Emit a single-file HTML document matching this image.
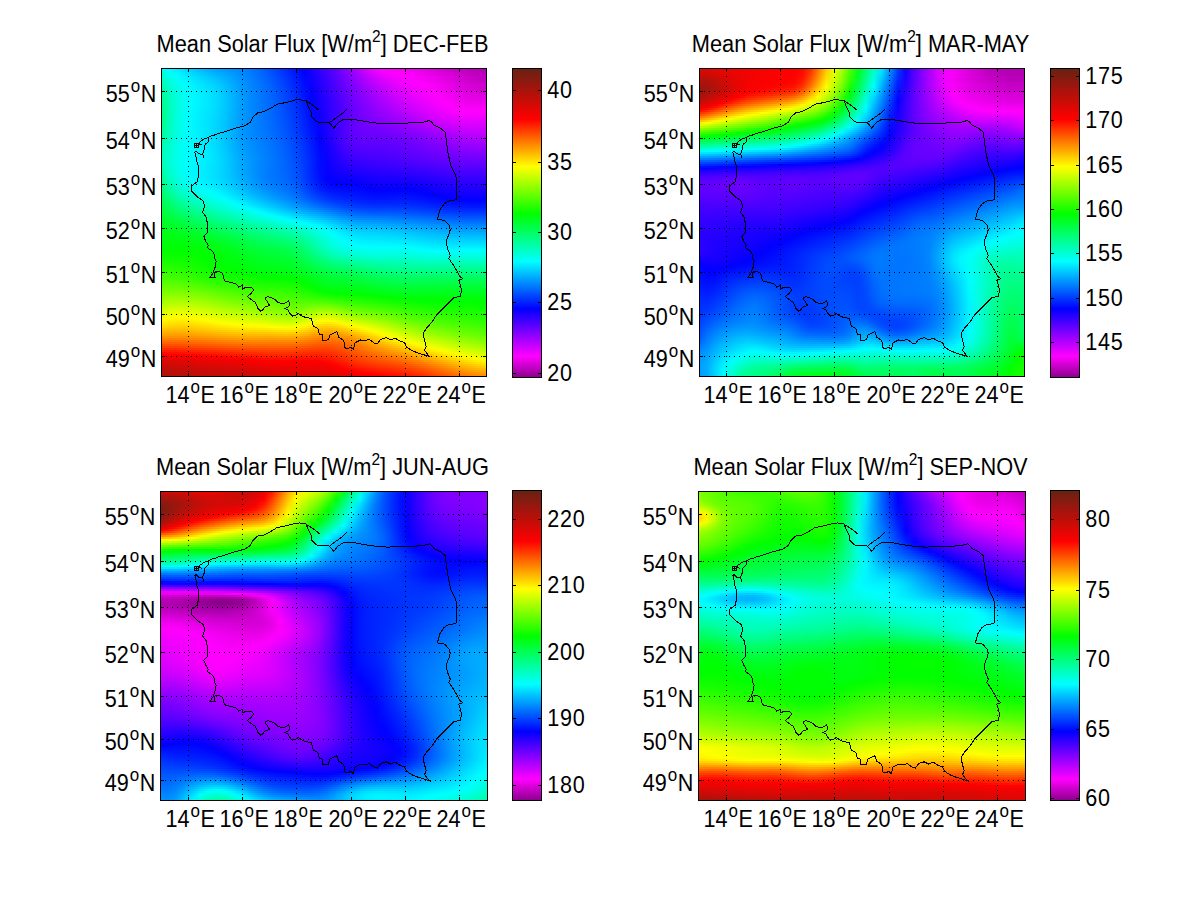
<!DOCTYPE html><html><head><meta charset="utf-8"><style>
html,body{margin:0;padding:0;background:#fff;}
body{width:1201px;height:900px;position:relative;overflow:hidden;}
.hm{position:absolute;}
.hm i{display:block;}
svg{position:absolute;left:0;top:0;}
text{font-family:"Liberation Sans",sans-serif;font-size:21.6px;fill:#000;}
.s{font-size:17px;}
.s2{font-size:15.5px;}
.ti{font-size:21.8px;}
.cb{letter-spacing:0.8px;}
.g{stroke:#000;stroke-width:1;stroke-dasharray:1 4;fill:none;}
.k{stroke:#000;stroke-width:1;fill:none;}
.b{stroke:#000;stroke-width:1;fill:none;}
.o{stroke:#000;stroke-width:1;fill:none;shape-rendering:crispEdges;}
</style></head><body>
<div class="hm" style="left:161px;top:68px;width:326px;height:309px"><i style="height:2px;background:linear-gradient(90deg,#00fff8,#00f9ff,#00e9ff,#00d8ff,#00c7ff,#00b7ff,#00a9ff,#009dff,#0094ff,#008dff,#0084ff,#0079ff,#006bff,#005aff,#0049ff,#0037ff,#0024ff,#0010ff,#0500ff,#1b00ff,#3200ff,#4a00ff,#6200ff,#7c00ff,#9a00ff,#bb00ff,#da00ff,#f400ff,#fb00fb,#f600f6,#f500f5,#f300f3,#ed00ed,#e500e5,#dc00dc,#d300d3,#cc00cc,#c400c4,#be00be,#b900b9,#b500b5,#b300b3)"></i><i style="height:2px;background:linear-gradient(90deg,#00ffed,#00fffd,#00f0ff,#00dfff,#00cfff,#00c0ff,#00b2ff,#00a6ff,#009cff,#0092ff,#0088ff,#007cff,#006eff,#005eff,#004cff,#003aff,#0027ff,#0013ff,#0200ff,#1800ff,#3000ff,#4700ff,#5f00ff,#7900ff,#9600ff,#b500ff,#d300ff,#eb00ff,#fb00ff,#fc00fc,#f900f9,#f600f6,#f000f0,#e900e9,#e100e1,#d900d9,#d100d1,#c900c9,#c300c3,#bd00bd,#b900b9,#b600b6)"></i><i style="height:2px;background:linear-gradient(90deg,#00ffe2,#00fff5,#00f7ff,#00e6ff,#00d6ff,#00c8ff,#00baff,#00aeff,#00a3ff,#0098ff,#008cff,#007fff,#0070ff,#0061ff,#0050ff,#003dff,#002aff,#0016ff,#0001ff,#1600ff,#2d00ff,#4400ff,#5d00ff,#7600ff,#9200ff,#af00ff,#cb00ff,#e300ff,#f300ff,#fc00ff,#fd00fd,#f900f9,#f300f3,#ed00ed,#e500e5,#dd00dd,#d600d6,#ce00ce,#c700c7,#c100c1,#bc00bc,#b800b8)"></i><i style="height:2px;background:linear-gradient(90deg,#00ffd7,#00ffed,#00fdff,#00ebff,#00dcff,#00cfff,#00c2ff,#00b5ff,#00a9ff,#009cff,#008fff,#0081ff,#0073ff,#0063ff,#0052ff,#0040ff,#002dff,#0018ff,#0003ff,#1300ff,#2a00ff,#4200ff,#5a00ff,#7300ff,#8e00ff,#aa00ff,#c500ff,#db00ff,#ec00ff,#f600ff,#fd00ff,#fc00fc,#f600f6,#f000f0,#e900e9,#e200e2,#da00da,#d200d2,#cb00cb,#c400c4,#bf00bf,#bb00bb)"></i><i style="height:2px;background:linear-gradient(90deg,#00ffce,#00ffe6,#00fffc,#00f1ff,#00e2ff,#00d5ff,#00c8ff,#00bcff,#00aeff,#00a0ff,#0092ff,#0083ff,#0075ff,#0066ff,#0055ff,#0043ff,#002fff,#001bff,#0005ff,#1100ff,#2800ff,#3f00ff,#5800ff,#7100ff,#8b00ff,#a500ff,#be00ff,#d400ff,#e500ff,#f100ff,#f900ff,#ff00ff,#f900f9,#f300f3,#ed00ed,#e500e5,#de00de,#d600d6,#ce00ce,#c700c7,#c200c2,#be00be)"></i><i style="height:2px;background:linear-gradient(90deg,#00ffc5,#00ffe0,#00fff7,#00f5ff,#00e7ff,#00daff,#00ceff,#00c2ff,#00b3ff,#00a4ff,#0094ff,#0085ff,#0077ff,#0068ff,#0057ff,#0045ff,#0032ff,#001dff,#0008ff,#0f00ff,#2600ff,#3d00ff,#5500ff,#6e00ff,#8700ff,#a000ff,#b800ff,#ce00ff,#df00ff,#eb00ff,#f500ff,#fc00ff,#fc00fc,#f600f6,#f000f0,#e900e9,#e100e1,#d900d9,#d100d1,#ca00ca,#c500c5,#c200c2)"></i><i style="height:2px;background:linear-gradient(90deg,#00ffbc,#00ffda,#00fff3,#00f9ff,#00ebff,#00dfff,#00d3ff,#00c7ff,#00b7ff,#00a7ff,#0097ff,#0087ff,#0078ff,#006aff,#0059ff,#0047ff,#0034ff,#001fff,#000aff,#0d00ff,#2400ff,#3b00ff,#5300ff,#6b00ff,#8400ff,#9c00ff,#b300ff,#c700ff,#d900ff,#e600ff,#f100ff,#f900ff,#fe00fe,#f900f9,#f300f3,#ec00ec,#e400e4,#dc00dc,#d400d4,#cd00cd,#c800c8,#c500c5)"></i><i style="height:2px;background:linear-gradient(90deg,#00ffb4,#00ffd5,#00ffef,#00fdff,#00eeff,#00e3ff,#00d8ff,#00cbff,#00bbff,#00aaff,#0098ff,#0089ff,#007aff,#006bff,#005bff,#0049ff,#0036ff,#0021ff,#000cff,#0b00ff,#2200ff,#3900ff,#5100ff,#6900ff,#8100ff,#9800ff,#ae00ff,#c200ff,#d300ff,#e200ff,#ed00ff,#f600ff,#fd00ff,#fb00fb,#f600f6,#ef00ef,#e700e7,#df00df,#d700d7,#d000d0,#cb00cb,#c800c8)"></i><i style="height:2px;background:linear-gradient(90deg,#00ffad,#00ffd0,#00ffeb,#00ffff,#00f1ff,#00e6ff,#00dbff,#00cfff,#00beff,#00acff,#009aff,#008aff,#007bff,#006dff,#005dff,#004bff,#0038ff,#0023ff,#000dff,#0900ff,#2000ff,#3700ff,#4f00ff,#6700ff,#7e00ff,#9400ff,#a900ff,#bc00ff,#ce00ff,#dd00ff,#e900ff,#f300ff,#fa00ff,#fe00fe,#f800f8,#f100f1,#e900e9,#e100e1,#da00da,#d300d3,#ce00ce,#cc00cc)"></i><i style="height:2px;background:linear-gradient(90deg,#00ffa6,#00ffcc,#00ffe8,#00fffc,#00f4ff,#00e9ff,#00deff,#00d2ff,#00c1ff,#00aeff,#009cff,#008bff,#007cff,#006eff,#005eff,#004dff,#0039ff,#0025ff,#000fff,#0700ff,#1e00ff,#3600ff,#4d00ff,#6400ff,#7b00ff,#9000ff,#a400ff,#b700ff,#c900ff,#d800ff,#e600ff,#f000ff,#f800ff,#fe00ff,#fb00fb,#f400f4,#ec00ec,#e400e4,#dc00dc,#d600d6,#d100d1,#cf00cf)"></i><i style="height:2px;background:linear-gradient(90deg,#00ffa0,#00ffc8,#00ffe6,#00fffa,#00f6ff,#00ebff,#00e1ff,#00d4ff,#00c3ff,#00b0ff,#009dff,#008cff,#007dff,#006fff,#0060ff,#004eff,#003bff,#0026ff,#0011ff,#0600ff,#1d00ff,#3400ff,#4b00ff,#6200ff,#7800ff,#8d00ff,#a000ff,#b300ff,#c400ff,#d400ff,#e200ff,#ed00ff,#f500ff,#fb00ff,#fd00fd,#f600f6,#ee00ee,#e600e6,#df00df,#d900d9,#d500d5,#d300d3)"></i><i style="height:2px;background:linear-gradient(90deg,#00ff9b,#00ffc4,#00ffe3,#00fff8,#00f8ff,#00edff,#00e3ff,#00d6ff,#00c5ff,#00b1ff,#009eff,#008dff,#007eff,#0070ff,#0061ff,#004fff,#003cff,#0028ff,#0012ff,#0400ff,#1b00ff,#3200ff,#4a00ff,#6000ff,#7600ff,#8a00ff,#9c00ff,#ae00ff,#c000ff,#d000ff,#de00ff,#ea00ff,#f200ff,#f900ff,#ff00ff,#f800f8,#f000f0,#e800e8,#e100e1,#db00db,#d800d8,#d700d7)"></i><i style="height:2px;background:linear-gradient(90deg,#00ff96,#00ffc1,#00ffe1,#00fff7,#00f9ff,#00eeff,#00e4ff,#00d8ff,#00c6ff,#00b2ff,#009eff,#008dff,#007fff,#0071ff,#0062ff,#0050ff,#003dff,#0029ff,#0013ff,#0300ff,#1a00ff,#3100ff,#4800ff,#5e00ff,#7300ff,#8700ff,#9900ff,#aa00ff,#bc00ff,#cc00ff,#da00ff,#e600ff,#ef00ff,#f600ff,#fd00ff,#fa00fa,#f200f2,#ea00ea,#e400e4,#de00de,#db00db,#db00db)"></i><i style="height:2px;background:linear-gradient(90deg,#00ff91,#00ffbf,#00ffe0,#00fff6,#00faff,#00efff,#00e6ff,#00d9ff,#00c7ff,#00b3ff,#009fff,#008eff,#007fff,#0071ff,#0062ff,#0051ff,#003fff,#002aff,#0015ff,#0200ff,#1900ff,#3000ff,#4600ff,#5c00ff,#7100ff,#8400ff,#9600ff,#a700ff,#b800ff,#c800ff,#d700ff,#e300ff,#ec00ff,#f300ff,#fa00ff,#fc00fc,#f400f4,#ed00ed,#e600e6,#e100e1,#df00df,#df00df)"></i><i style="height:2px;background:linear-gradient(90deg,#00ff8d,#00ffbc,#00ffdf,#00fff5,#00faff,#00f0ff,#00e6ff,#00daff,#00c8ff,#00b4ff,#009fff,#008eff,#0080ff,#0072ff,#0063ff,#0052ff,#0040ff,#002cff,#0016ff,#0000ff,#1700ff,#2e00ff,#4500ff,#5a00ff,#6f00ff,#8100ff,#9200ff,#a300ff,#b400ff,#c400ff,#d300ff,#df00ff,#e900ff,#f100ff,#f800ff,#fe00fe,#f600f6,#ef00ef,#e900e9,#e400e4,#e200e2,#e300e3)"></i><i style="height:2px;background:linear-gradient(90deg,#00ff8a,#00ffba,#00ffde,#00fff5,#00faff,#00f0ff,#00e7ff,#00daff,#00c8ff,#00b4ff,#00a0ff,#008eff,#0080ff,#0072ff,#0064ff,#0053ff,#0041ff,#002dff,#0017ff,#0001ff,#1600ff,#2d00ff,#4300ff,#5900ff,#6d00ff,#7f00ff,#9000ff,#a000ff,#b000ff,#c000ff,#cf00ff,#db00ff,#e500ff,#ee00ff,#f600ff,#fe00ff,#f900f9,#f100f1,#eb00eb,#e700e7,#e600e6,#e700e7)"></i><i style="height:2px;background:linear-gradient(90deg,#00ff87,#00ffb9,#00ffdd,#00fff5,#00faff,#00f0ff,#00e7ff,#00daff,#00c9ff,#00b4ff,#00a0ff,#008eff,#0080ff,#0072ff,#0064ff,#0054ff,#0042ff,#002eff,#0018ff,#0002ff,#1500ff,#2c00ff,#4200ff,#5700ff,#6b00ff,#7d00ff,#8d00ff,#9d00ff,#ad00ff,#bc00ff,#cb00ff,#d700ff,#e200ff,#eb00ff,#f300ff,#fb00ff,#fb00fb,#f400f4,#ee00ee,#eb00eb,#e900e9,#eb00eb)"></i><i style="height:2px;background:linear-gradient(90deg,#00ff85,#00ffb7,#00ffdd,#00fff5,#00faff,#00f0ff,#00e6ff,#00daff,#00c9ff,#00b4ff,#00a0ff,#008eff,#0080ff,#0073ff,#0065ff,#0055ff,#0043ff,#002fff,#001aff,#0003ff,#1400ff,#2b00ff,#4100ff,#5600ff,#6900ff,#7b00ff,#8a00ff,#9a00ff,#a900ff,#b800ff,#c600ff,#d300ff,#de00ff,#e700ff,#f000ff,#f900ff,#fe00fe,#f700f7,#f100f1,#ee00ee,#ed00ed,#ef00ef)"></i><i style="height:2px;background:linear-gradient(90deg,#00ff83,#00ffb6,#00ffdc,#00fff5,#00faff,#00efff,#00e6ff,#00daff,#00c8ff,#00b4ff,#00a0ff,#008eff,#0080ff,#0073ff,#0065ff,#0055ff,#0043ff,#0030ff,#001bff,#0004ff,#1300ff,#2a00ff,#4000ff,#5500ff,#6800ff,#7900ff,#8800ff,#9700ff,#a600ff,#b400ff,#c200ff,#cf00ff,#da00ff,#e400ff,#ed00ff,#f600ff,#fe00ff,#fa00fa,#f400f4,#f200f2,#f100f1,#f400f4)"></i><i style="height:2px;background:linear-gradient(90deg,#00ff81,#00ffb6,#00ffdc,#00fff5,#00f9ff,#00efff,#00e6ff,#00d9ff,#00c8ff,#00b4ff,#009fff,#008eff,#0080ff,#0073ff,#0065ff,#0056ff,#0044ff,#0031ff,#001cff,#0005ff,#1200ff,#2900ff,#3f00ff,#5400ff,#6600ff,#7700ff,#8600ff,#9400ff,#a200ff,#b000ff,#be00ff,#ca00ff,#d600ff,#e000ff,#ea00ff,#f300ff,#fa00ff,#fd00fd,#f800f8,#f500f5,#f500f5,#f800f8)"></i><i style="height:2px;background:linear-gradient(90deg,#00ff80,#00ffb5,#00ffdc,#00fff5,#00f9ff,#00eeff,#00e5ff,#00d9ff,#00c7ff,#00b3ff,#009fff,#008eff,#0080ff,#0073ff,#0066ff,#0056ff,#0045ff,#0032ff,#001dff,#0006ff,#1100ff,#2800ff,#3e00ff,#5300ff,#6500ff,#7500ff,#8400ff,#9100ff,#9f00ff,#ac00ff,#b900ff,#c600ff,#d100ff,#dc00ff,#e600ff,#ef00ff,#f700ff,#fd00ff,#fc00fc,#f900f9,#fa00fa,#fd00fd)"></i><i style="height:2px;background:linear-gradient(90deg,#00ff7f,#00ffb5,#00ffdc,#00fff6,#00f8ff,#00eeff,#00e4ff,#00d8ff,#00c7ff,#00b3ff,#009fff,#008eff,#0080ff,#0073ff,#0066ff,#0057ff,#0046ff,#0033ff,#001eff,#0007ff,#1000ff,#2700ff,#3d00ff,#5200ff,#6400ff,#7400ff,#8200ff,#8f00ff,#9b00ff,#a800ff,#b500ff,#c100ff,#cd00ff,#d800ff,#e200ff,#eb00ff,#f300ff,#fa00ff,#fe00ff,#fe00fe,#fe00fe,#fc00ff)"></i><i style="height:2px;background:linear-gradient(90deg,#00ff7f,#00ffb5,#00ffdd,#00fff6,#00f8ff,#00edff,#00e4ff,#00d8ff,#00c6ff,#00b2ff,#009eff,#008eff,#0080ff,#0074ff,#0066ff,#0058ff,#0047ff,#0034ff,#001fff,#0008ff,#0f00ff,#2600ff,#3c00ff,#5100ff,#6300ff,#7300ff,#8000ff,#8c00ff,#9800ff,#a400ff,#b000ff,#bc00ff,#c700ff,#d300ff,#dd00ff,#e700ff,#ef00ff,#f500ff,#fa00ff,#fc00ff,#fb00ff,#f800ff)"></i><i style="height:2px;background:linear-gradient(90deg,#00ff7f,#00ffb5,#00ffdd,#00fff7,#00f7ff,#00ecff,#00e3ff,#00d7ff,#00c6ff,#00b2ff,#009eff,#008dff,#0080ff,#0074ff,#0067ff,#0058ff,#0047ff,#0035ff,#0020ff,#0009ff,#0e00ff,#2500ff,#3c00ff,#5000ff,#6200ff,#7100ff,#7e00ff,#8900ff,#9400ff,#9f00ff,#ab00ff,#b600ff,#c200ff,#cd00ff,#d800ff,#e200ff,#ea00ff,#f000ff,#f500ff,#f700ff,#f600ff,#f300ff)"></i><i style="height:2px;background:linear-gradient(90deg,#00ff80,#00ffb6,#00ffdd,#00fff7,#00f7ff,#00ecff,#00e3ff,#00d6ff,#00c5ff,#00b1ff,#009eff,#008dff,#0080ff,#0074ff,#0067ff,#0059ff,#0048ff,#0036ff,#0021ff,#000aff,#0d00ff,#2400ff,#3b00ff,#5000ff,#6200ff,#7000ff,#7c00ff,#8600ff,#9000ff,#9b00ff,#a600ff,#b100ff,#bc00ff,#c800ff,#d200ff,#dc00ff,#e400ff,#eb00ff,#ef00ff,#f100ff,#f100ff,#ee00ff)"></i><i style="height:2px;background:linear-gradient(90deg,#00ff81,#00ffb6,#00ffdd,#00fff7,#00f7ff,#00ecff,#00e2ff,#00d6ff,#00c5ff,#00b1ff,#009dff,#008dff,#0080ff,#0074ff,#0068ff,#005aff,#0049ff,#0037ff,#0022ff,#000cff,#0c00ff,#2400ff,#3b00ff,#5000ff,#6100ff,#6f00ff,#7a00ff,#8300ff,#8d00ff,#9600ff,#a000ff,#ab00ff,#b600ff,#c200ff,#cc00ff,#d600ff,#de00ff,#e500ff,#e900ff,#ec00ff,#ec00ff,#e900ff)"></i><i style="height:2px;background:linear-gradient(90deg,#00ff82,#00ffb7,#00ffde,#00fff7,#00f6ff,#00ecff,#00e2ff,#00d6ff,#00c4ff,#00b0ff,#009dff,#008dff,#0080ff,#0075ff,#0068ff,#005aff,#004aff,#0038ff,#0023ff,#000dff,#0b00ff,#2300ff,#3a00ff,#4f00ff,#6100ff,#6e00ff,#7800ff,#8100ff,#8900ff,#9100ff,#9b00ff,#a500ff,#b000ff,#bb00ff,#c600ff,#d000ff,#d800ff,#df00ff,#e300ff,#e600ff,#e600ff,#e400ff)"></i><i style="height:2px;background:linear-gradient(90deg,#00ff84,#00ffb8,#00ffde,#00fff7,#00f6ff,#00ebff,#00e2ff,#00d5ff,#00c4ff,#00b0ff,#009cff,#008dff,#0080ff,#0075ff,#0069ff,#005bff,#004bff,#0039ff,#0024ff,#000eff,#0a00ff,#2200ff,#3a00ff,#4f00ff,#6100ff,#6d00ff,#7600ff,#7e00ff,#8500ff,#8c00ff,#9500ff,#9f00ff,#aa00ff,#b400ff,#bf00ff,#c900ff,#d100ff,#d800ff,#dd00ff,#e000ff,#e100ff,#df00ff)"></i><i style="height:2px;background:linear-gradient(90deg,#00ff86,#00ffb9,#00ffdf,#00fff8,#00f6ff,#00ebff,#00e2ff,#00d5ff,#00c4ff,#00b0ff,#009cff,#008dff,#0080ff,#0075ff,#006aff,#005cff,#004cff,#003aff,#0025ff,#000fff,#0800ff,#2100ff,#3900ff,#4f00ff,#6000ff,#6c00ff,#7400ff,#7b00ff,#8100ff,#8800ff,#9000ff,#9900ff,#a300ff,#ae00ff,#b800ff,#c200ff,#ca00ff,#d100ff,#d600ff,#da00ff,#db00ff,#d900ff)"></i><i style="height:2px;background:linear-gradient(90deg,#00ff88,#00ffba,#00ffdf,#00fff8,#00f7ff,#00ecff,#00e2ff,#00d5ff,#00c3ff,#00afff,#009cff,#008dff,#0081ff,#0076ff,#006aff,#005dff,#004dff,#003bff,#0027ff,#0010ff,#0700ff,#2000ff,#3900ff,#4f00ff,#6000ff,#6b00ff,#7200ff,#7700ff,#7d00ff,#8300ff,#8a00ff,#9300ff,#9d00ff,#a700ff,#b100ff,#bb00ff,#c300ff,#ca00ff,#d000ff,#d300ff,#d500ff,#d400ff)"></i><i style="height:2px;background:linear-gradient(90deg,#00ff8a,#00ffbc,#00ffe0,#00fff8,#00f7ff,#00ecff,#00e2ff,#00d5ff,#00c3ff,#00afff,#009cff,#008dff,#0081ff,#0076ff,#006bff,#005eff,#004eff,#003cff,#0028ff,#0012ff,#0600ff,#1f00ff,#3800ff,#4e00ff,#6000ff,#6a00ff,#7000ff,#7400ff,#7900ff,#7e00ff,#8500ff,#8d00ff,#9600ff,#a000ff,#aa00ff,#b300ff,#bc00ff,#c300ff,#c900ff,#cd00ff,#cf00ff,#ce00ff)"></i><i style="height:2px;background:linear-gradient(90deg,#00ff8d,#00ffbd,#00ffe0,#00fff8,#00f7ff,#00ecff,#00e2ff,#00d5ff,#00c3ff,#00afff,#009cff,#008dff,#0081ff,#0077ff,#006cff,#005fff,#004fff,#003dff,#0029ff,#0013ff,#0500ff,#1e00ff,#3700ff,#4e00ff,#5f00ff,#6900ff,#6e00ff,#7100ff,#7500ff,#7a00ff,#8000ff,#8700ff,#9000ff,#9900ff,#a300ff,#ac00ff,#b500ff,#bc00ff,#c200ff,#c600ff,#c800ff,#c900ff)"></i><i style="height:2px;background:linear-gradient(90deg,#00ff90,#00ffbf,#00ffe1,#00fff8,#00f7ff,#00ecff,#00e2ff,#00d5ff,#00c4ff,#00afff,#009cff,#008dff,#0082ff,#0078ff,#006dff,#0060ff,#0050ff,#003eff,#002aff,#0014ff,#0400ff,#1d00ff,#3600ff,#4d00ff,#5e00ff,#6800ff,#6c00ff,#6e00ff,#7100ff,#7500ff,#7b00ff,#8200ff,#8a00ff,#9300ff,#9c00ff,#a500ff,#ad00ff,#b500ff,#bb00ff,#bf00ff,#c200ff,#c300ff)"></i><i style="height:2px;background:linear-gradient(90deg,#00ff93,#00ffc0,#00ffe2,#00fff8,#00f8ff,#00edff,#00e3ff,#00d6ff,#00c4ff,#00b0ff,#009dff,#008eff,#0082ff,#0078ff,#006eff,#0061ff,#0051ff,#003fff,#002cff,#0016ff,#0200ff,#1c00ff,#3500ff,#4c00ff,#5d00ff,#6600ff,#6a00ff,#6b00ff,#6d00ff,#7100ff,#7600ff,#7d00ff,#8400ff,#8d00ff,#9600ff,#9e00ff,#a600ff,#ae00ff,#b400ff,#b900ff,#bc00ff,#bd00ff)"></i><i style="height:2px;background:linear-gradient(90deg,#00ff97,#00ffc2,#00ffe2,#00fff8,#00f8ff,#00edff,#00e3ff,#00d6ff,#00c4ff,#00b0ff,#009dff,#008eff,#0083ff,#0079ff,#006eff,#0062ff,#0052ff,#0041ff,#002dff,#0017ff,#0100ff,#1b00ff,#3400ff,#4b00ff,#5c00ff,#6400ff,#6700ff,#6800ff,#6a00ff,#6d00ff,#7200ff,#7800ff,#7f00ff,#8700ff,#8f00ff,#9800ff,#a000ff,#a700ff,#ad00ff,#b200ff,#b600ff,#b700ff)"></i><i style="height:2px;background:linear-gradient(90deg,#00ff9a,#00ffc4,#00ffe3,#00fff8,#00f8ff,#00eeff,#00e4ff,#00d7ff,#00c5ff,#00b1ff,#009eff,#008fff,#0084ff,#007aff,#006fff,#0063ff,#0053ff,#0042ff,#002eff,#0018ff,#0000ff,#1900ff,#3300ff,#4a00ff,#5a00ff,#6200ff,#6500ff,#6500ff,#6600ff,#6900ff,#6e00ff,#7300ff,#7a00ff,#8200ff,#8a00ff,#9200ff,#9900ff,#a100ff,#a700ff,#ac00ff,#af00ff,#b100ff)"></i><i style="height:2px;background:linear-gradient(90deg,#00ff9d,#00ffc6,#00ffe4,#00fff8,#00f9ff,#00efff,#00e5ff,#00d8ff,#00c6ff,#00b2ff,#009fff,#0090ff,#0085ff,#007bff,#0070ff,#0064ff,#0054ff,#0043ff,#002fff,#0019ff,#0002ff,#1800ff,#3200ff,#4800ff,#5800ff,#6000ff,#6200ff,#6200ff,#6300ff,#6600ff,#6a00ff,#6f00ff,#7600ff,#7d00ff,#8400ff,#8c00ff,#9300ff,#9a00ff,#a000ff,#a500ff,#a900ff,#aa00ff)"></i><i style="height:2px;background:linear-gradient(90deg,#00ffa1,#00ffc8,#00ffe5,#00fff8,#00f9ff,#00efff,#00e5ff,#00d9ff,#00c7ff,#00b3ff,#00a0ff,#0091ff,#0086ff,#007cff,#0071ff,#0065ff,#0056ff,#0044ff,#0030ff,#001bff,#0003ff,#1700ff,#3000ff,#4600ff,#5600ff,#5d00ff,#5f00ff,#5f00ff,#6000ff,#6200ff,#6700ff,#6c00ff,#7200ff,#7800ff,#7f00ff,#8700ff,#8e00ff,#9500ff,#9a00ff,#9f00ff,#a200ff,#a400ff)"></i><i style="height:2px;background:linear-gradient(90deg,#00ffa4,#00ffca,#00ffe6,#00fff8,#00f9ff,#00f0ff,#00e6ff,#00d9ff,#00c8ff,#00b4ff,#00a1ff,#0092ff,#0087ff,#007dff,#0072ff,#0066ff,#0057ff,#0045ff,#0032ff,#001cff,#0004ff,#1500ff,#2e00ff,#4400ff,#5300ff,#5a00ff,#5c00ff,#5c00ff,#5d00ff,#5f00ff,#6400ff,#6900ff,#6e00ff,#7400ff,#7b00ff,#8200ff,#8900ff,#8f00ff,#9500ff,#9900ff,#9c00ff,#9d00ff)"></i><i style="height:2px;background:linear-gradient(90deg,#00ffa8,#00ffcc,#00ffe7,#00fff8,#00faff,#00f0ff,#00e7ff,#00daff,#00c9ff,#00b5ff,#00a2ff,#0093ff,#0088ff,#007eff,#0073ff,#0067ff,#0058ff,#0047ff,#0033ff,#001dff,#0005ff,#1400ff,#2c00ff,#4100ff,#5000ff,#5700ff,#5900ff,#5900ff,#5a00ff,#5c00ff,#6100ff,#6600ff,#6b00ff,#7100ff,#7700ff,#7d00ff,#8400ff,#8a00ff,#8f00ff,#9300ff,#9600ff,#9700ff)"></i><i style="height:2px;background:linear-gradient(90deg,#00ffab,#00ffce,#00ffe8,#00fff9,#00faff,#00f1ff,#00e8ff,#00dbff,#00caff,#00b6ff,#00a3ff,#0094ff,#0089ff,#007fff,#0074ff,#0068ff,#0059ff,#0048ff,#0034ff,#001eff,#0006ff,#1200ff,#2a00ff,#3e00ff,#4d00ff,#5400ff,#5500ff,#5500ff,#5700ff,#5a00ff,#5e00ff,#6300ff,#6800ff,#6d00ff,#7300ff,#7900ff,#7f00ff,#8400ff,#8900ff,#8d00ff,#8f00ff,#9000ff)"></i><i style="height:2px;background:linear-gradient(90deg,#00ffae,#00ffcf,#00ffe8,#00fff9,#00faff,#00f2ff,#00e9ff,#00dcff,#00cbff,#00b7ff,#00a5ff,#0096ff,#008aff,#0080ff,#0075ff,#0069ff,#005aff,#0049ff,#0035ff,#001fff,#0007ff,#1100ff,#2800ff,#3b00ff,#4900ff,#5000ff,#5200ff,#5200ff,#5400ff,#5700ff,#5b00ff,#6000ff,#6400ff,#6900ff,#6f00ff,#7400ff,#7a00ff,#7f00ff,#8400ff,#8700ff,#8900ff,#8900ff)"></i><i style="height:2px;background:linear-gradient(90deg,#00ffb0,#00ffd1,#00ffe9,#00fff9,#00faff,#00f2ff,#00e9ff,#00ddff,#00ccff,#00b9ff,#00a6ff,#0097ff,#008bff,#0080ff,#0076ff,#0069ff,#005bff,#004aff,#0036ff,#0020ff,#0008ff,#0f00ff,#2500ff,#3800ff,#4500ff,#4c00ff,#4e00ff,#4f00ff,#5000ff,#5400ff,#5800ff,#5d00ff,#6100ff,#6600ff,#6b00ff,#7000ff,#7500ff,#7a00ff,#7e00ff,#8100ff,#8300ff,#8200ff)"></i><i style="height:2px;background:linear-gradient(90deg,#00ffb2,#00ffd2,#00ffea,#00fff9,#00faff,#00f2ff,#00eaff,#00deff,#00cdff,#00baff,#00a7ff,#0098ff,#008cff,#0081ff,#0076ff,#006aff,#005cff,#004bff,#0037ff,#0021ff,#0009ff,#0e00ff,#2300ff,#3500ff,#4100ff,#4800ff,#4a00ff,#4b00ff,#4d00ff,#5100ff,#5500ff,#5a00ff,#5e00ff,#6200ff,#6700ff,#6c00ff,#7000ff,#7500ff,#7900ff,#7b00ff,#7c00ff,#7b00ff)"></i><i style="height:2px;background:linear-gradient(90deg,#00ffb3,#00ffd3,#00ffea,#00fff9,#00faff,#00f2ff,#00eaff,#00deff,#00ceff,#00bbff,#00a8ff,#0099ff,#008cff,#0081ff,#0077ff,#006bff,#005dff,#004cff,#0038ff,#0021ff,#000aff,#0d00ff,#2100ff,#3200ff,#3d00ff,#4400ff,#4600ff,#4800ff,#4a00ff,#4e00ff,#5200ff,#5600ff,#5a00ff,#5e00ff,#6300ff,#6700ff,#6c00ff,#7000ff,#7300ff,#7600ff,#7600ff,#7500ff)"></i><i style="height:2px;background:linear-gradient(90deg,#00ffb3,#00ffd3,#00ffea,#00fffa,#00faff,#00f2ff,#00eaff,#00dfff,#00ceff,#00bcff,#00a9ff,#009aff,#008dff,#0082ff,#0077ff,#006bff,#005eff,#004dff,#0039ff,#0022ff,#000bff,#0b00ff,#1f00ff,#2e00ff,#3900ff,#3f00ff,#4200ff,#4400ff,#4600ff,#4a00ff,#4e00ff,#5300ff,#5700ff,#5a00ff,#5e00ff,#6300ff,#6700ff,#6b00ff,#6e00ff,#7000ff,#7000ff,#6e00ff)"></i><i style="height:2px;background:linear-gradient(90deg,#00ffb3,#00ffd3,#00ffea,#00fffa,#00faff,#00f2ff,#00eaff,#00dfff,#00cfff,#00bdff,#00aaff,#009aff,#008dff,#0082ff,#0077ff,#006cff,#005eff,#004eff,#003aff,#0022ff,#000bff,#0a00ff,#1c00ff,#2b00ff,#3500ff,#3a00ff,#3e00ff,#4000ff,#4300ff,#4600ff,#4a00ff,#4e00ff,#5200ff,#5600ff,#5a00ff,#5e00ff,#6200ff,#6500ff,#6800ff,#6a00ff,#6a00ff,#6700ff)"></i><i style="height:2px;background:linear-gradient(90deg,#00ffb1,#00ffd2,#00ffea,#00fffa,#00faff,#00f2ff,#00eaff,#00dfff,#00cfff,#00bdff,#00abff,#009bff,#008dff,#0082ff,#0077ff,#006cff,#005fff,#004fff,#003aff,#0023ff,#000bff,#0a00ff,#1a00ff,#2700ff,#3000ff,#3600ff,#3900ff,#3c00ff,#3f00ff,#4200ff,#4600ff,#4a00ff,#4e00ff,#5100ff,#5500ff,#5900ff,#5d00ff,#6000ff,#6300ff,#6400ff,#6300ff,#6100ff)"></i><i style="height:2px;background:linear-gradient(90deg,#00ffaf,#00ffd1,#00ffea,#00fffa,#00f9ff,#00f1ff,#00e9ff,#00deff,#00cfff,#00bdff,#00abff,#009bff,#008eff,#0081ff,#0077ff,#006cff,#0060ff,#0050ff,#003bff,#0023ff,#000bff,#0900ff,#1800ff,#2400ff,#2b00ff,#3100ff,#3400ff,#3700ff,#3a00ff,#3e00ff,#4100ff,#4500ff,#4800ff,#4c00ff,#4f00ff,#5300ff,#5700ff,#5a00ff,#5d00ff,#5e00ff,#5d00ff,#5b00ff)"></i><i style="height:2px;background:linear-gradient(90deg,#00ffac,#00ffcf,#00ffe9,#00fffa,#00f9ff,#00f0ff,#00e8ff,#00deff,#00cfff,#00beff,#00acff,#009cff,#008dff,#0081ff,#0076ff,#006cff,#0060ff,#0050ff,#003bff,#0023ff,#000bff,#0800ff,#1600ff,#2000ff,#2700ff,#2c00ff,#3000ff,#3300ff,#3600ff,#3900ff,#3c00ff,#3f00ff,#4300ff,#4600ff,#4a00ff,#4e00ff,#5100ff,#5500ff,#5700ff,#5800ff,#5700ff,#5400ff)"></i><i style="height:2px;background:linear-gradient(90deg,#00ffa9,#00ffcd,#00ffe8,#00fffa,#00f8ff,#00f0ff,#00e8ff,#00ddff,#00cfff,#00beff,#00acff,#009cff,#008dff,#0081ff,#0076ff,#006cff,#0061ff,#0051ff,#003cff,#0023ff,#000bff,#0700ff,#1400ff,#1c00ff,#2200ff,#2700ff,#2b00ff,#2e00ff,#3100ff,#3400ff,#3700ff,#3a00ff,#3d00ff,#4000ff,#4400ff,#4800ff,#4c00ff,#4f00ff,#5100ff,#5200ff,#5100ff,#4e00ff)"></i><i style="height:2px;background:linear-gradient(90deg,#00ffa5,#00ffca,#00ffe7,#00fff9,#00f8ff,#00efff,#00e7ff,#00ddff,#00cfff,#00beff,#00adff,#009cff,#008dff,#0081ff,#0076ff,#006cff,#0061ff,#0052ff,#003cff,#0023ff,#000cff,#0600ff,#1200ff,#1900ff,#1d00ff,#2200ff,#2600ff,#2900ff,#2c00ff,#2f00ff,#3100ff,#3400ff,#3700ff,#3a00ff,#3e00ff,#4200ff,#4600ff,#4900ff,#4b00ff,#4c00ff,#4b00ff,#4800ff)"></i><i style="height:2px;background:linear-gradient(90deg,#00ffa0,#00ffc7,#00ffe5,#00fff9,#00f8ff,#00efff,#00e7ff,#00ddff,#00cfff,#00bfff,#00adff,#009dff,#008eff,#0081ff,#0076ff,#006dff,#0062ff,#0053ff,#003dff,#0024ff,#000cff,#0500ff,#0f00ff,#1500ff,#1900ff,#1d00ff,#2100ff,#2500ff,#2800ff,#2a00ff,#2b00ff,#2e00ff,#3100ff,#3400ff,#3800ff,#3c00ff,#4000ff,#4300ff,#4500ff,#4600ff,#4500ff,#4300ff)"></i><i style="height:2px;background:linear-gradient(90deg,#00ff9b,#00ffc4,#00ffe2,#00fff7,#00f9ff,#00f0ff,#00e7ff,#00ddff,#00cfff,#00bfff,#00aeff,#009dff,#008eff,#0081ff,#0076ff,#006dff,#0063ff,#0054ff,#003eff,#0024ff,#000dff,#0400ff,#0d00ff,#1100ff,#1400ff,#1800ff,#1c00ff,#2000ff,#2300ff,#2400ff,#2600ff,#2800ff,#2b00ff,#2e00ff,#3200ff,#3600ff,#3a00ff,#3d00ff,#3f00ff,#4000ff,#4000ff,#3d00ff)"></i><i style="height:2px;background:linear-gradient(90deg,#00ff95,#00ffc0,#00ffe0,#00fff5,#00faff,#00f0ff,#00e8ff,#00deff,#00d0ff,#00c0ff,#00afff,#009fff,#008fff,#0081ff,#0077ff,#006eff,#0064ff,#0055ff,#003fff,#0025ff,#000eff,#0300ff,#0a00ff,#0d00ff,#0f00ff,#1300ff,#1700ff,#1b00ff,#1e00ff,#1f00ff,#2000ff,#2100ff,#2400ff,#2800ff,#2c00ff,#3100ff,#3400ff,#3800ff,#3a00ff,#3b00ff,#3a00ff,#3800ff)"></i><i style="height:2px;background:linear-gradient(90deg,#00ff8f,#00ffbb,#00ffdc,#00fff3,#00fcff,#00f1ff,#00e9ff,#00dfff,#00d1ff,#00c2ff,#00b1ff,#00a0ff,#0090ff,#0082ff,#0078ff,#006fff,#0065ff,#0056ff,#0040ff,#0027ff,#000fff,#0100ff,#0700ff,#0a00ff,#0b00ff,#0e00ff,#1300ff,#1700ff,#1900ff,#1a00ff,#1a00ff,#1b00ff,#1e00ff,#2200ff,#2700ff,#2b00ff,#2f00ff,#3200ff,#3400ff,#3500ff,#3500ff,#3300ff)"></i><i style="height:2px;background:linear-gradient(90deg,#00ff89,#00ffb6,#00ffd8,#00fff0,#00feff,#00f3ff,#00eaff,#00e0ff,#00d3ff,#00c4ff,#00b3ff,#00a2ff,#0092ff,#0084ff,#0079ff,#0070ff,#0067ff,#0058ff,#0042ff,#0028ff,#0011ff,#0002ff,#0400ff,#0600ff,#0600ff,#0a00ff,#0e00ff,#1200ff,#1400ff,#1500ff,#1500ff,#1600ff,#1800ff,#1c00ff,#2100ff,#2500ff,#2900ff,#2d00ff,#2f00ff,#3000ff,#3000ff,#2e00ff)"></i><i style="height:2px;background:linear-gradient(90deg,#00ff83,#00ffb1,#00ffd4,#00ffec,#00fffd,#00f6ff,#00edff,#00e2ff,#00d5ff,#00c6ff,#00b6ff,#00a5ff,#0094ff,#0086ff,#007bff,#0072ff,#0068ff,#005aff,#0044ff,#002bff,#0014ff,#0005ff,#0100ff,#0200ff,#0200ff,#0500ff,#0a00ff,#0e00ff,#1000ff,#1000ff,#0f00ff,#1000ff,#1300ff,#1700ff,#1c00ff,#2000ff,#2400ff,#2800ff,#2a00ff,#2b00ff,#2b00ff,#2900ff)"></i><i style="height:2px;background:linear-gradient(90deg,#00ff7d,#00ffab,#00ffcf,#00ffe8,#00fff9,#00faff,#00f0ff,#00e5ff,#00d8ff,#00c9ff,#00b9ff,#00a8ff,#0097ff,#0089ff,#007eff,#0075ff,#006bff,#005cff,#0046ff,#002dff,#0017ff,#0009ff,#0003ff,#0002ff,#0002ff,#0200ff,#0600ff,#0a00ff,#0c00ff,#0b00ff,#0a00ff,#0b00ff,#0e00ff,#1200ff,#1700ff,#1b00ff,#1f00ff,#2300ff,#2500ff,#2600ff,#2600ff,#2400ff)"></i><i style="height:2px;background:linear-gradient(90deg,#00ff76,#00ffa5,#00ffc9,#00ffe2,#00fff4,#00feff,#00f4ff,#00e9ff,#00dcff,#00cdff,#00bdff,#00acff,#009bff,#008dff,#0081ff,#0078ff,#006dff,#005fff,#0049ff,#0031ff,#001bff,#000dff,#0007ff,#0006ff,#0005ff,#0002ff,#0200ff,#0600ff,#0800ff,#0700ff,#0600ff,#0600ff,#0900ff,#0d00ff,#1200ff,#1700ff,#1b00ff,#1e00ff,#2000ff,#2200ff,#2100ff,#2000ff)"></i><i style="height:2px;background:linear-gradient(90deg,#00ff70,#00ff9e,#00ffc2,#00ffdc,#00ffee,#00fffb,#00f9ff,#00eeff,#00e1ff,#00d1ff,#00c1ff,#00b0ff,#00a0ff,#0091ff,#0085ff,#007bff,#0070ff,#0062ff,#004dff,#0035ff,#0020ff,#0012ff,#000cff,#000aff,#0009ff,#0006ff,#0001ff,#0200ff,#0300ff,#0200ff,#0100ff,#0100ff,#0400ff,#0800ff,#0d00ff,#1200ff,#1600ff,#1900ff,#1c00ff,#1d00ff,#1d00ff,#1b00ff)"></i><i style="height:2px;background:linear-gradient(90deg,#00ff6a,#00ff98,#00ffbb,#00ffd5,#00ffe7,#00fff5,#00feff,#00f3ff,#00e6ff,#00d7ff,#00c6ff,#00b6ff,#00a5ff,#0096ff,#008aff,#007fff,#0074ff,#0065ff,#0051ff,#003aff,#0025ff,#0017ff,#0011ff,#000fff,#000dff,#0009ff,#0005ff,#0002ff,#0001ff,#0002ff,#0003ff,#0003ff,#0001ff,#0400ff,#0900ff,#0e00ff,#1200ff,#1500ff,#1700ff,#1800ff,#1800ff,#1700ff)"></i><i style="height:2px;background:linear-gradient(90deg,#00ff64,#00ff91,#00ffb4,#00ffce,#00ffe0,#00ffee,#00fff9,#00f9ff,#00ecff,#00dcff,#00ccff,#00bbff,#00abff,#009cff,#008fff,#0084ff,#0078ff,#0069ff,#0056ff,#003fff,#002cff,#001eff,#0017ff,#0014ff,#0011ff,#000dff,#0009ff,#0006ff,#0005ff,#0006ff,#0008ff,#0008ff,#0005ff,#0001ff,#0400ff,#0900ff,#0d00ff,#1000ff,#1300ff,#1400ff,#1400ff,#1200ff)"></i><i style="height:2px;background:linear-gradient(90deg,#00ff5e,#00ff8a,#00ffac,#00ffc5,#00ffd8,#00ffe6,#00fff2,#00fffe,#00f2ff,#00e3ff,#00d3ff,#00c2ff,#00b2ff,#00a3ff,#0095ff,#008aff,#007dff,#006eff,#005bff,#0046ff,#0033ff,#0025ff,#001dff,#0019ff,#0016ff,#0012ff,#000dff,#000aff,#000aff,#000bff,#000dff,#000dff,#000aff,#0006ff,#0001ff,#0400ff,#0800ff,#0b00ff,#0e00ff,#0f00ff,#0f00ff,#0d00ff)"></i><i style="height:2px;background:linear-gradient(90deg,#00ff59,#00ff82,#00ffa4,#00ffbd,#00ffd0,#00ffde,#00ffeb,#00fff7,#00f9ff,#00eaff,#00daff,#00c9ff,#00b9ff,#00aaff,#009cff,#0090ff,#0083ff,#0074ff,#0061ff,#004dff,#003bff,#002dff,#0025ff,#001fff,#001bff,#0016ff,#0012ff,#000fff,#000fff,#0011ff,#0012ff,#0012ff,#000fff,#000bff,#0006ff,#0001ff,#0300ff,#0600ff,#0900ff,#0a00ff,#0a00ff,#0800ff)"></i><i style="height:2px;background:linear-gradient(90deg,#00ff53,#00ff7b,#00ff9b,#00ffb4,#00ffc7,#00ffd6,#00ffe2,#00ffef,#00fffe,#00f1ff,#00e1ff,#00d1ff,#00c1ff,#00b2ff,#00a4ff,#0097ff,#0089ff,#007aff,#0068ff,#0055ff,#0044ff,#0036ff,#002dff,#0026ff,#0021ff,#001cff,#0018ff,#0015ff,#0015ff,#0016ff,#0018ff,#0017ff,#0015ff,#0010ff,#000bff,#0007ff,#0003ff,#0100ff,#0300ff,#0400ff,#0400ff,#0200ff)"></i><i style="height:2px;background:linear-gradient(90deg,#00ff4e,#00ff73,#00ff93,#00ffab,#00ffbe,#00ffcd,#00ffda,#00ffe7,#00fff5,#00f9ff,#00e9ff,#00daff,#00caff,#00bbff,#00acff,#009fff,#0091ff,#0081ff,#0070ff,#005eff,#004dff,#0040ff,#0035ff,#002eff,#0027ff,#0022ff,#001eff,#001cff,#001cff,#001dff,#001eff,#001dff,#001bff,#0016ff,#0012ff,#000dff,#0009ff,#0006ff,#0003ff,#0002ff,#0002ff,#0004ff)"></i><i style="height:2px;background:linear-gradient(90deg,#00ff48,#00ff6c,#00ff8a,#00ffa1,#00ffb4,#00ffc3,#00ffd1,#00ffde,#00ffed,#00fffc,#00f2ff,#00e3ff,#00d3ff,#00c4ff,#00b5ff,#00a7ff,#0099ff,#008aff,#0079ff,#0068ff,#0058ff,#004aff,#003fff,#0036ff,#002fff,#0029ff,#0025ff,#0023ff,#0023ff,#0024ff,#0025ff,#0024ff,#0022ff,#001dff,#0018ff,#0014ff,#0010ff,#000dff,#000aff,#0009ff,#0009ff,#000bff)"></i><i style="height:2px;background:linear-gradient(90deg,#00ff43,#00ff65,#00ff81,#00ff98,#00ffaa,#00ffb9,#00ffc7,#00ffd5,#00ffe4,#00fff3,#00fcff,#00ecff,#00ddff,#00ceff,#00bfff,#00b1ff,#00a2ff,#0093ff,#0083ff,#0073ff,#0064ff,#0056ff,#004aff,#0040ff,#0038ff,#0032ff,#002eff,#002cff,#002cff,#002cff,#002dff,#002cff,#0029ff,#0025ff,#0020ff,#001cff,#0018ff,#0014ff,#0012ff,#0011ff,#0011ff,#0013ff)"></i><i style="height:2px;background:linear-gradient(90deg,#00ff3f,#00ff5d,#00ff78,#00ff8e,#00ffa0,#00ffaf,#00ffbe,#00ffcb,#00ffda,#00ffe9,#00fff8,#00f7ff,#00e8ff,#00d9ff,#00caff,#00bbff,#00acff,#009dff,#008eff,#007fff,#0070ff,#0062ff,#0056ff,#004aff,#0042ff,#003bff,#0038ff,#0036ff,#0035ff,#0036ff,#0036ff,#0035ff,#0032ff,#002eff,#0029ff,#0025ff,#0021ff,#001dff,#001bff,#001aff,#001aff,#001cff)"></i><i style="height:2px;background:linear-gradient(90deg,#00ff3a,#00ff56,#00ff6f,#00ff84,#00ff96,#00ffa5,#00ffb4,#00ffc2,#00ffd0,#00ffdf,#00ffee,#00fffd,#00f3ff,#00e4ff,#00d5ff,#00c6ff,#00b7ff,#00a8ff,#009aff,#008cff,#007eff,#0070ff,#0062ff,#0056ff,#004dff,#0046ff,#0043ff,#0041ff,#0040ff,#0040ff,#0040ff,#003eff,#003bff,#0037ff,#0033ff,#002fff,#002aff,#0027ff,#0024ff,#0023ff,#0023ff,#0025ff)"></i><i style="height:2px;background:linear-gradient(90deg,#00ff36,#00ff50,#00ff67,#00ff7a,#00ff8c,#00ff9b,#00ffa9,#00ffb7,#00ffc6,#00ffd4,#00ffe3,#00fff1,#00feff,#00f0ff,#00e1ff,#00d2ff,#00c3ff,#00b5ff,#00a7ff,#0099ff,#008cff,#007eff,#0070ff,#0063ff,#0059ff,#0053ff,#004fff,#004dff,#004cff,#004cff,#004bff,#0049ff,#0046ff,#0042ff,#003eff,#0039ff,#0035ff,#0031ff,#002fff,#002eff,#002eff,#0030ff)"></i><i style="height:2px;background:linear-gradient(90deg,#00ff32,#00ff49,#00ff5e,#00ff71,#00ff81,#00ff90,#00ff9f,#00ffad,#00ffbb,#00ffc9,#00ffd8,#00ffe6,#00fff4,#00fcff,#00eeff,#00dfff,#00d0ff,#00c2ff,#00b5ff,#00a8ff,#009bff,#008cff,#007eff,#0071ff,#0066ff,#0060ff,#005cff,#005aff,#0059ff,#0058ff,#0057ff,#0054ff,#0051ff,#004dff,#0049ff,#0045ff,#0040ff,#003dff,#003aff,#0039ff,#0039ff,#003bff)"></i><i style="height:2px;background:linear-gradient(90deg,#00ff2e,#00ff42,#00ff56,#00ff67,#00ff77,#00ff86,#00ff94,#00ffa2,#00ffb0,#00ffbe,#00ffcc,#00ffda,#00ffe7,#00fff5,#00fbff,#00ecff,#00deff,#00d0ff,#00c3ff,#00b6ff,#00aaff,#009bff,#008cff,#007fff,#0074ff,#006dff,#006aff,#0068ff,#0066ff,#0065ff,#0063ff,#0060ff,#005dff,#0059ff,#0055ff,#0051ff,#004cff,#0049ff,#0046ff,#0044ff,#0045ff,#0047ff)"></i><i style="height:2px;background:linear-gradient(90deg,#00ff2a,#00ff3c,#00ff4e,#00ff5e,#00ff6d,#00ff7c,#00ff8a,#00ff98,#00ffa5,#00ffb3,#00ffc0,#00ffcd,#00ffdb,#00ffe8,#00fff6,#00faff,#00ebff,#00deff,#00d2ff,#00c5ff,#00b9ff,#00aaff,#009bff,#008dff,#0082ff,#007bff,#0078ff,#0076ff,#0074ff,#0072ff,#006fff,#006cff,#0069ff,#0065ff,#0061ff,#005dff,#0059ff,#0055ff,#0052ff,#0050ff,#0051ff,#0053ff)"></i><i style="height:2px;background:linear-gradient(90deg,#00ff27,#00ff36,#00ff46,#00ff55,#00ff63,#00ff72,#00ff7f,#00ff8d,#00ff9a,#00ffa7,#00ffb4,#00ffc1,#00ffce,#00ffdb,#00ffe9,#00fff7,#00faff,#00edff,#00e0ff,#00d4ff,#00c8ff,#00b9ff,#00a9ff,#009bff,#0090ff,#0089ff,#0086ff,#0084ff,#0082ff,#007fff,#007cff,#0079ff,#0075ff,#0072ff,#006eff,#006aff,#0065ff,#0061ff,#005eff,#005cff,#005dff,#005fff)"></i><i style="height:2px;background:linear-gradient(90deg,#00ff24,#00ff31,#00ff3e,#00ff4c,#00ff5a,#00ff67,#00ff75,#00ff82,#00ff8f,#00ff9c,#00ffa8,#00ffb5,#00ffc2,#00ffce,#00ffdb,#00ffe9,#00fff6,#00fbff,#00efff,#00e3ff,#00d6ff,#00c7ff,#00b7ff,#00a9ff,#009dff,#0097ff,#0093ff,#0091ff,#008fff,#008cff,#0089ff,#0085ff,#0082ff,#007eff,#007aff,#0076ff,#0072ff,#006eff,#006aff,#0069ff,#0069ff,#006cff)"></i><i style="height:2px;background:linear-gradient(90deg,#00ff21,#00ff2b,#00ff37,#00ff44,#00ff51,#00ff5e,#00ff6b,#00ff78,#00ff84,#00ff91,#00ff9d,#00ffa9,#00ffb5,#00ffc1,#00ffce,#00ffdb,#00ffe7,#00fff4,#00feff,#00f2ff,#00e4ff,#00d5ff,#00c5ff,#00b6ff,#00abff,#00a4ff,#00a1ff,#009fff,#009cff,#0099ff,#0095ff,#0091ff,#008eff,#008aff,#0087ff,#0082ff,#007eff,#007aff,#0077ff,#0075ff,#0075ff,#0078ff)"></i><i style="height:2px;background:linear-gradient(90deg,#00ff1e,#00ff26,#00ff30,#00ff3c,#00ff48,#00ff54,#00ff61,#00ff6d,#00ff79,#00ff85,#00ff91,#00ff9d,#00ffa9,#00ffb5,#00ffc1,#00ffcd,#00ffd9,#00ffe5,#00fff1,#00fffe,#00f2ff,#00e2ff,#00d1ff,#00c2ff,#00b7ff,#00b0ff,#00adff,#00abff,#00a9ff,#00a5ff,#00a1ff,#009dff,#009aff,#0096ff,#0092ff,#008eff,#008aff,#0086ff,#0083ff,#0081ff,#0082ff,#0084ff)"></i><i style="height:2px;background:linear-gradient(90deg,#00ff1c,#00ff22,#00ff2a,#00ff34,#00ff3f,#00ff4b,#00ff57,#00ff63,#00ff6f,#00ff7a,#00ff86,#00ff91,#00ff9d,#00ffa8,#00ffb4,#00ffbf,#00ffcb,#00ffd7,#00ffe3,#00fff1,#00feff,#00eeff,#00ddff,#00ceff,#00c3ff,#00bcff,#00b9ff,#00b7ff,#00b4ff,#00b1ff,#00adff,#00a8ff,#00a5ff,#00a1ff,#009dff,#0099ff,#0095ff,#0091ff,#008eff,#008dff,#008dff,#0090ff)"></i><i style="height:2px;background:linear-gradient(90deg,#00ff19,#00ff1e,#00ff25,#00ff2d,#00ff37,#00ff42,#00ff4e,#00ff59,#00ff64,#00ff70,#00ff7b,#00ff86,#00ff91,#00ff9c,#00ffa7,#00ffb2,#00ffbd,#00ffc9,#00ffd6,#00ffe5,#00fff5,#00f8ff,#00e7ff,#00d8ff,#00cdff,#00c6ff,#00c3ff,#00c2ff,#00bfff,#00bbff,#00b7ff,#00b3ff,#00afff,#00acff,#00a8ff,#00a4ff,#00a0ff,#009cff,#009aff,#0098ff,#0099ff,#009bff)"></i><i style="height:2px;background:linear-gradient(90deg,#00ff17,#00ff1a,#00ff20,#00ff27,#00ff30,#00ff3a,#00ff45,#00ff50,#00ff5a,#00ff65,#00ff70,#00ff7b,#00ff86,#00ff91,#00ff9b,#00ffa5,#00ffaf,#00ffbb,#00ffc9,#00ffda,#00ffeb,#00fffd,#00f0ff,#00e1ff,#00d6ff,#00cfff,#00ccff,#00cbff,#00c8ff,#00c5ff,#00c1ff,#00bdff,#00b9ff,#00b5ff,#00b1ff,#00aeff,#00aaff,#00a7ff,#00a4ff,#00a3ff,#00a3ff,#00a5ff)"></i><i style="height:2px;background:linear-gradient(90deg,#00ff15,#00ff17,#00ff1b,#00ff21,#00ff29,#00ff32,#00ff3c,#00ff47,#00ff51,#00ff5b,#00ff66,#00ff71,#00ff7b,#00ff86,#00ff8f,#00ff99,#00ffa2,#00ffae,#00ffbe,#00ffcf,#00ffe2,#00fff5,#00f7ff,#00e8ff,#00ddff,#00d7ff,#00d4ff,#00d3ff,#00d0ff,#00cdff,#00caff,#00c6ff,#00c2ff,#00beff,#00baff,#00b6ff,#00b3ff,#00b0ff,#00aeff,#00adff,#00adff,#00afff)"></i><i style="height:2px;background:linear-gradient(90deg,#00ff13,#00ff14,#00ff17,#00ff1c,#00ff23,#00ff2b,#00ff34,#00ff3e,#00ff48,#00ff52,#00ff5c,#00ff67,#00ff71,#00ff7b,#00ff84,#00ff8d,#00ff96,#00ffa2,#00ffb3,#00ffc6,#00ffdb,#00ffee,#00feff,#00efff,#00e4ff,#00deff,#00dbff,#00daff,#00d8ff,#00d5ff,#00d2ff,#00ceff,#00caff,#00c6ff,#00c2ff,#00bfff,#00bcff,#00b9ff,#00b8ff,#00b7ff,#00b7ff,#00b8ff)"></i><i style="height:2px;background:linear-gradient(90deg,#00ff11,#00ff11,#00ff13,#00ff17,#00ff1d,#00ff24,#00ff2d,#00ff36,#00ff3f,#00ff49,#00ff53,#00ff5d,#00ff68,#00ff71,#00ff7a,#00ff81,#00ff8a,#00ff97,#00ffa8,#00ffbd,#00ffd3,#00ffe8,#00fffb,#00f5ff,#00eaff,#00e4ff,#00e1ff,#00e0ff,#00dfff,#00dcff,#00daff,#00d6ff,#00d2ff,#00ceff,#00caff,#00c7ff,#00c4ff,#00c2ff,#00c1ff,#00c0ff,#00c1ff,#00c1ff)"></i><i style="height:2px;background:linear-gradient(90deg,#00ff0f,#00ff0e,#00ff10,#00ff13,#00ff18,#00ff1e,#00ff26,#00ff2e,#00ff37,#00ff40,#00ff4a,#00ff55,#00ff5f,#00ff68,#00ff70,#00ff77,#00ff7f,#00ff8c,#00ff9e,#00ffb5,#00ffcd,#00ffe3,#00fff5,#00faff,#00f0ff,#00eaff,#00e7ff,#00e6ff,#00e5ff,#00e3ff,#00e1ff,#00deff,#00daff,#00d5ff,#00d1ff,#00ceff,#00ccff,#00cbff,#00caff,#00caff,#00caff,#00caff)"></i><i style="height:2px;background:linear-gradient(90deg,#00ff0c,#00ff0c,#00ff0d,#00ff0f,#00ff13,#00ff19,#00ff1f,#00ff27,#00ff2f,#00ff39,#00ff42,#00ff4c,#00ff56,#00ff5f,#00ff66,#00ff6c,#00ff75,#00ff81,#00ff95,#00ffad,#00ffc7,#00ffdd,#00fff0,#00ffff,#00f5ff,#00f0ff,#00edff,#00ecff,#00ebff,#00eaff,#00e8ff,#00e5ff,#00e1ff,#00ddff,#00d9ff,#00d6ff,#00d4ff,#00d3ff,#00d3ff,#00d3ff,#00d3ff,#00d3ff)"></i><i style="height:2px;background:linear-gradient(90deg,#00ff0a,#00ff09,#00ff0a,#00ff0b,#00ff0f,#00ff13,#00ff19,#00ff20,#00ff28,#00ff31,#00ff3b,#00ff45,#00ff4e,#00ff57,#00ff5d,#00ff63,#00ff6b,#00ff78,#00ff8c,#00ffa6,#00ffc0,#00ffd8,#00ffeb,#00fff9,#00fbff,#00f5ff,#00f2ff,#00f1ff,#00f1ff,#00f0ff,#00efff,#00edff,#00e9ff,#00e4ff,#00e0ff,#00ddff,#00dcff,#00dcff,#00dcff,#00dcff,#00dcff,#00dcff)"></i><i style="height:2px;background:linear-gradient(90deg,#00ff08,#00ff07,#00ff07,#00ff08,#00ff0b,#00ff0f,#00ff14,#00ff1a,#00ff22,#00ff2b,#00ff34,#00ff3d,#00ff47,#00ff4f,#00ff55,#00ff5a,#00ff61,#00ff6e,#00ff84,#00ff9e,#00ffba,#00ffd2,#00ffe5,#00fff3,#00fffc,#00fcff,#00f9ff,#00f7ff,#00f7ff,#00f7ff,#00f7ff,#00f4ff,#00f0ff,#00ecff,#00e8ff,#00e5ff,#00e4ff,#00e4ff,#00e5ff,#00e5ff,#00e5ff,#00e4ff)"></i><i style="height:2px;background:linear-gradient(90deg,#00ff05,#00ff04,#00ff04,#00ff05,#00ff07,#00ff0a,#00ff0f,#00ff15,#00ff1c,#00ff25,#00ff2e,#00ff37,#00ff40,#00ff48,#00ff4d,#00ff52,#00ff59,#00ff66,#00ff7b,#00ff97,#00ffb3,#00ffcc,#00ffde,#00ffec,#00fff5,#00fffb,#00ffff,#00feff,#00feff,#00feff,#00feff,#00fcff,#00f8ff,#00f4ff,#00f0ff,#00edff,#00edff,#00edff,#00eeff,#00efff,#00efff,#00eeff)"></i><i style="height:2px;background:linear-gradient(90deg,#00ff02,#00ff01,#00ff01,#00ff02,#00ff04,#00ff07,#00ff0b,#00ff11,#00ff17,#00ff1f,#00ff28,#00ff31,#00ff3a,#00ff41,#00ff46,#00ff4a,#00ff51,#00ff5e,#00ff73,#00ff8f,#00ffac,#00ffc4,#00ffd7,#00ffe4,#00ffed,#00fff4,#00fff7,#00fff9,#00fff9,#00fff8,#00fff8,#00fffa,#00fffe,#00fcff,#00f8ff,#00f6ff,#00f6ff,#00f6ff,#00f8ff,#00f8ff,#00f8ff,#00f7ff)"></i><i style="height:2px;background:linear-gradient(90deg,#01ff00,#02ff00,#02ff00,#01ff00,#00ff01,#00ff03,#00ff08,#00ff0d,#00ff13,#00ff1b,#00ff23,#00ff2c,#00ff34,#00ff3b,#00ff40,#00ff44,#00ff4a,#00ff56,#00ff6c,#00ff87,#00ffa4,#00ffbc,#00ffce,#00ffdb,#00ffe4,#00ffeb,#00ffee,#00fff0,#00fff0,#00fff0,#00fff0,#00fff1,#00fff5,#00fff9,#00fffd,#00fffe,#00ffff,#00fffe,#00fffc,#00fffb,#00fffb,#00fffd)"></i><i style="height:2px;background:linear-gradient(90deg,#04ff00,#05ff00,#05ff00,#04ff00,#02ff00,#00ff01,#00ff05,#00ff0a,#00ff10,#00ff17,#00ff1f,#00ff27,#00ff2f,#00ff35,#00ff3a,#00ff3d,#00ff43,#00ff4f,#00ff64,#00ff7f,#00ff9b,#00ffb2,#00ffc4,#00ffd0,#00ffda,#00ffe0,#00ffe4,#00ffe7,#00ffe7,#00ffe7,#00ffe6,#00ffe8,#00ffeb,#00ffef,#00fff3,#00fff4,#00fff4,#00fff3,#00fff2,#00fff1,#00fff1,#00fff2)"></i><i style="height:2px;background:linear-gradient(90deg,#08ff00,#09ff00,#08ff00,#07ff00,#05ff00,#02ff00,#00ff03,#00ff08,#00ff0d,#00ff14,#00ff1b,#00ff22,#00ff2a,#00ff30,#00ff35,#00ff38,#00ff3d,#00ff49,#00ff5d,#00ff77,#00ff91,#00ffa8,#00ffb8,#00ffc5,#00ffce,#00ffd4,#00ffd9,#00ffdc,#00ffdd,#00ffdd,#00ffdd,#00ffde,#00ffe1,#00ffe5,#00ffe8,#00ffe9,#00ffe9,#00ffe8,#00ffe7,#00ffe6,#00ffe6,#00ffe7)"></i><i style="height:2px;background:linear-gradient(90deg,#0cff00,#0dff00,#0cff00,#0aff00,#07ff00,#04ff00,#00ff01,#00ff06,#00ff0b,#00ff11,#00ff17,#00ff1f,#00ff26,#00ff2c,#00ff30,#00ff33,#00ff38,#00ff43,#00ff56,#00ff6e,#00ff87,#00ff9c,#00ffac,#00ffb8,#00ffc1,#00ffc8,#00ffcd,#00ffd1,#00ffd2,#00ffd2,#00ffd2,#00ffd4,#00ffd7,#00ffda,#00ffdd,#00ffde,#00ffde,#00ffdc,#00ffdb,#00ffda,#00ffda,#00ffdc)"></i><i style="height:2px;background:linear-gradient(90deg,#10ff00,#11ff00,#10ff00,#0dff00,#0aff00,#06ff00,#01ff00,#00ff04,#00ff09,#00ff0e,#00ff14,#00ff1b,#00ff22,#00ff27,#00ff2b,#00ff2e,#00ff33,#00ff3d,#00ff4f,#00ff65,#00ff7c,#00ff90,#00ff9f,#00ffaa,#00ffb3,#00ffbb,#00ffc0,#00ffc4,#00ffc7,#00ffc7,#00ffc8,#00ffc9,#00ffcc,#00ffcf,#00ffd1,#00ffd2,#00ffd2,#00ffd1,#00ffcf,#00ffcf,#00ffcf,#00ffd0)"></i><i style="height:2px;background:linear-gradient(90deg,#15ff00,#15ff00,#14ff00,#11ff00,#0dff00,#08ff00,#03ff00,#00ff02,#00ff07,#00ff0c,#00ff12,#00ff18,#00ff1e,#00ff23,#00ff27,#00ff2a,#00ff2e,#00ff38,#00ff48,#00ff5c,#00ff71,#00ff84,#00ff92,#00ff9c,#00ffa5,#00ffad,#00ffb3,#00ffb8,#00ffbb,#00ffbc,#00ffbd,#00ffbe,#00ffc1,#00ffc3,#00ffc5,#00ffc6,#00ffc5,#00ffc4,#00ffc3,#00ffc3,#00ffc3,#00ffc4)"></i><i style="height:2px;background:linear-gradient(90deg,#1aff00,#1aff00,#18ff00,#14ff00,#0fff00,#0aff00,#04ff00,#00ff01,#00ff05,#00ff0a,#00ff0f,#00ff14,#00ff1a,#00ff1f,#00ff23,#00ff26,#00ff2a,#00ff32,#00ff41,#00ff53,#00ff67,#00ff77,#00ff84,#00ff8e,#00ff97,#00ff9f,#00ffa6,#00ffab,#00ffae,#00ffb0,#00ffb2,#00ffb3,#00ffb5,#00ffb7,#00ffb8,#00ffb9,#00ffb9,#00ffb8,#00ffb7,#00ffb7,#00ffb7,#00ffb8)"></i><i style="height:2px;background:linear-gradient(90deg,#1fff00,#1fff00,#1cff00,#18ff00,#13ff00,#0dff00,#06ff00,#01ff00,#00ff04,#00ff08,#00ff0c,#00ff11,#00ff16,#00ff1b,#00ff1f,#00ff21,#00ff25,#00ff2d,#00ff3a,#00ff4b,#00ff5c,#00ff6b,#00ff77,#00ff80,#00ff89,#00ff91,#00ff98,#00ff9e,#00ffa2,#00ffa5,#00ffa7,#00ffa8,#00ffaa,#00ffab,#00ffac,#00ffac,#00ffac,#00ffac,#00ffab,#00ffab,#00ffab,#00ffac)"></i><i style="height:2px;background:linear-gradient(90deg,#24ff00,#24ff00,#21ff00,#1cff00,#16ff00,#0fff00,#09ff00,#03ff00,#00ff01,#00ff05,#00ff09,#00ff0d,#00ff12,#00ff17,#00ff1a,#00ff1d,#00ff21,#00ff28,#00ff33,#00ff42,#00ff52,#00ff5f,#00ff6a,#00ff73,#00ff7b,#00ff83,#00ff8b,#00ff91,#00ff96,#00ff99,#00ff9b,#00ff9d,#00ff9e,#00ff9f,#00ffa0,#00ffa0,#00ffa0,#00ff9f,#00ff9f,#00ff9f,#00ff9f,#00ff9f)"></i><i style="height:2px;background:linear-gradient(90deg,#29ff00,#29ff00,#26ff00,#21ff00,#1aff00,#13ff00,#0cff00,#06ff00,#01ff00,#00ff02,#00ff05,#00ff0a,#00ff0e,#00ff13,#00ff16,#00ff18,#00ff1c,#00ff22,#00ff2d,#00ff3a,#00ff48,#00ff54,#00ff5e,#00ff66,#00ff6e,#00ff76,#00ff7d,#00ff84,#00ff8a,#00ff8e,#00ff90,#00ff92,#00ff93,#00ff93,#00ff93,#00ff93,#00ff93,#00ff93,#00ff93,#00ff93,#00ff93,#00ff93)"></i><i style="height:2px;background:linear-gradient(90deg,#2fff00,#2fff00,#2cff00,#26ff00,#1fff00,#17ff00,#10ff00,#09ff00,#05ff00,#01ff00,#00ff02,#00ff06,#00ff0a,#00ff0e,#00ff11,#00ff13,#00ff17,#00ff1d,#00ff26,#00ff33,#00ff3f,#00ff4a,#00ff53,#00ff5a,#00ff61,#00ff69,#00ff71,#00ff78,#00ff7e,#00ff82,#00ff85,#00ff87,#00ff87,#00ff87,#00ff87,#00ff87,#00ff87,#00ff87,#00ff87,#00ff87,#00ff87,#00ff87)"></i><i style="height:2px;background:linear-gradient(90deg,#35ff00,#35ff00,#32ff00,#2cff00,#24ff00,#1cff00,#14ff00,#0eff00,#09ff00,#06ff00,#03ff00,#00ff01,#00ff05,#00ff09,#00ff0c,#00ff0e,#00ff11,#00ff17,#00ff20,#00ff2c,#00ff38,#00ff41,#00ff49,#00ff4f,#00ff56,#00ff5d,#00ff65,#00ff6d,#00ff73,#00ff77,#00ff7a,#00ff7c,#00ff7c,#00ff7c,#00ff7b,#00ff7b,#00ff7b,#00ff7b,#00ff7b,#00ff7c,#00ff7c,#00ff7b)"></i><i style="height:2px;background:linear-gradient(90deg,#3bff00,#3bff00,#38ff00,#32ff00,#2aff00,#22ff00,#1aff00,#13ff00,#0eff00,#0bff00,#07ff00,#04ff00,#00ff00,#00ff03,#00ff06,#00ff08,#00ff0b,#00ff10,#00ff1a,#00ff25,#00ff31,#00ff3a,#00ff41,#00ff46,#00ff4c,#00ff53,#00ff5a,#00ff62,#00ff68,#00ff6d,#00ff70,#00ff72,#00ff72,#00ff71,#00ff70,#00ff70,#00ff70,#00ff70,#00ff70,#00ff70,#00ff70,#00ff70)"></i><i style="height:2px;background:linear-gradient(90deg,#42ff00,#42ff00,#3eff00,#38ff00,#31ff00,#28ff00,#20ff00,#19ff00,#14ff00,#10ff00,#0dff00,#0aff00,#06ff00,#03ff00,#01ff00,#00ff01,#00ff04,#00ff0a,#00ff13,#00ff1f,#00ff2a,#00ff33,#00ff39,#00ff3e,#00ff43,#00ff49,#00ff50,#00ff57,#00ff5e,#00ff63,#00ff66,#00ff67,#00ff67,#00ff66,#00ff65,#00ff65,#00ff65,#00ff65,#00ff65,#00ff65,#00ff65,#00ff65)"></i><i style="height:2px;background:linear-gradient(90deg,#48ff00,#49ff00,#45ff00,#40ff00,#38ff00,#30ff00,#27ff00,#20ff00,#1bff00,#17ff00,#13ff00,#10ff00,#0cff00,#09ff00,#07ff00,#06ff00,#03ff00,#00ff03,#00ff0d,#00ff19,#00ff25,#00ff2d,#00ff33,#00ff36,#00ff3a,#00ff40,#00ff47,#00ff4e,#00ff54,#00ff59,#00ff5c,#00ff5d,#00ff5d,#00ff5c,#00ff5b,#00ff5a,#00ff5a,#00ff5a,#00ff5b,#00ff5b,#00ff5b,#00ff5a)"></i><i style="height:2px;background:linear-gradient(90deg,#4fff00,#50ff00,#4dff00,#47ff00,#40ff00,#38ff00,#2fff00,#28ff00,#22ff00,#1eff00,#1aff00,#16ff00,#13ff00,#10ff00,#0eff00,#0dff00,#0aff00,#04ff00,#00ff06,#00ff13,#00ff1f,#00ff28,#00ff2c,#00ff2f,#00ff32,#00ff37,#00ff3e,#00ff44,#00ff4a,#00ff4f,#00ff52,#00ff54,#00ff53,#00ff52,#00ff51,#00ff50,#00ff50,#00ff50,#00ff50,#00ff51,#00ff50,#00ff4f)"></i><i style="height:2px;background:linear-gradient(90deg,#56ff00,#57ff00,#55ff00,#4fff00,#48ff00,#40ff00,#38ff00,#30ff00,#2aff00,#25ff00,#21ff00,#1dff00,#1aff00,#17ff00,#16ff00,#14ff00,#12ff00,#0bff00,#00ff00,#00ff0d,#00ff1a,#00ff22,#00ff26,#00ff29,#00ff2b,#00ff2f,#00ff35,#00ff3b,#00ff41,#00ff46,#00ff49,#00ff4a,#00ff4a,#00ff48,#00ff47,#00ff46,#00ff46,#00ff46,#00ff47,#00ff47,#00ff46,#00ff46)"></i><i style="height:2px;background:linear-gradient(90deg,#5dff00,#5fff00,#5dff00,#58ff00,#51ff00,#49ff00,#41ff00,#39ff00,#33ff00,#2dff00,#28ff00,#24ff00,#21ff00,#1fff00,#1dff00,#1cff00,#19ff00,#13ff00,#07ff00,#00ff07,#00ff14,#00ff1c,#00ff20,#00ff22,#00ff24,#00ff27,#00ff2d,#00ff33,#00ff38,#00ff3c,#00ff40,#00ff41,#00ff41,#00ff3f,#00ff3e,#00ff3d,#00ff3d,#00ff3d,#00ff3d,#00ff3d,#00ff3d,#00ff3c)"></i><i style="height:2px;background:linear-gradient(90deg,#65ff00,#67ff00,#65ff00,#61ff00,#5bff00,#53ff00,#4bff00,#43ff00,#3cff00,#36ff00,#30ff00,#2cff00,#29ff00,#26ff00,#25ff00,#24ff00,#21ff00,#1aff00,#0fff00,#00ff00,#00ff0d,#00ff16,#00ff1a,#00ff1b,#00ff1c,#00ff20,#00ff24,#00ff2a,#00ff2f,#00ff33,#00ff36,#00ff38,#00ff37,#00ff36,#00ff35,#00ff34,#00ff34,#00ff34,#00ff34,#00ff34,#00ff34,#00ff33)"></i><i style="height:2px;background:linear-gradient(90deg,#6cff00,#6fff00,#6eff00,#6aff00,#64ff00,#5dff00,#55ff00,#4dff00,#45ff00,#3eff00,#39ff00,#34ff00,#31ff00,#2eff00,#2dff00,#2bff00,#28ff00,#22ff00,#16ff00,#08ff00,#00ff06,#00ff0e,#00ff12,#00ff13,#00ff15,#00ff18,#00ff1c,#00ff21,#00ff26,#00ff2a,#00ff2d,#00ff2f,#00ff2f,#00ff2e,#00ff2c,#00ff2c,#00ff2b,#00ff2c,#00ff2c,#00ff2c,#00ff2c,#00ff2b)"></i><i style="height:2px;background:linear-gradient(90deg,#74ff00,#77ff00,#77ff00,#74ff00,#6eff00,#67ff00,#5fff00,#57ff00,#4fff00,#48ff00,#42ff00,#3dff00,#39ff00,#36ff00,#34ff00,#33ff00,#30ff00,#29ff00,#1eff00,#10ff00,#03ff00,#00ff06,#00ff0a,#00ff0b,#00ff0c,#00ff0f,#00ff13,#00ff18,#00ff1d,#00ff21,#00ff24,#00ff26,#00ff26,#00ff25,#00ff24,#00ff24,#00ff23,#00ff24,#00ff24,#00ff24,#00ff24,#00ff23)"></i><i style="height:2px;background:linear-gradient(90deg,#7cff00,#80ff00,#81ff00,#7eff00,#79ff00,#72ff00,#6aff00,#61ff00,#59ff00,#51ff00,#4bff00,#45ff00,#41ff00,#3eff00,#3cff00,#3bff00,#37ff00,#31ff00,#26ff00,#1aff00,#0dff00,#05ff00,#00ff00,#00ff02,#00ff04,#00ff06,#00ff0a,#00ff0f,#00ff13,#00ff18,#00ff1b,#00ff1d,#00ff1e,#00ff1d,#00ff1c,#00ff1c,#00ff1c,#00ff1c,#00ff1c,#00ff1c,#00ff1c,#00ff1c)"></i><i style="height:2px;background:linear-gradient(90deg,#85ff00,#8aff00,#8bff00,#88ff00,#83ff00,#7cff00,#74ff00,#6cff00,#63ff00,#5bff00,#54ff00,#4fff00,#4aff00,#47ff00,#44ff00,#42ff00,#3eff00,#39ff00,#2fff00,#24ff00,#19ff00,#11ff00,#0cff00,#09ff00,#06ff00,#03ff00,#00ff01,#00ff05,#00ff0a,#00ff0e,#00ff12,#00ff14,#00ff15,#00ff15,#00ff15,#00ff15,#00ff15,#00ff15,#00ff15,#00ff15,#00ff16,#00ff15)"></i><i style="height:2px;background:linear-gradient(90deg,#8eff00,#93ff00,#95ff00,#93ff00,#8eff00,#87ff00,#7fff00,#76ff00,#6dff00,#65ff00,#5eff00,#58ff00,#53ff00,#4fff00,#4cff00,#49ff00,#45ff00,#40ff00,#39ff00,#30ff00,#27ff00,#1fff00,#1aff00,#15ff00,#11ff00,#0dff00,#09ff00,#05ff00,#00ff00,#00ff04,#00ff09,#00ff0c,#00ff0d,#00ff0e,#00ff0e,#00ff0e,#00ff0e,#00ff0e,#00ff0f,#00ff0f,#00ff0f,#00ff10)"></i><i style="height:2px;background:linear-gradient(90deg,#97ff00,#9dff00,#9fff00,#9dff00,#99ff00,#92ff00,#8aff00,#81ff00,#78ff00,#70ff00,#68ff00,#62ff00,#5cff00,#58ff00,#54ff00,#50ff00,#4cff00,#48ff00,#43ff00,#3dff00,#36ff00,#2fff00,#29ff00,#22ff00,#1cff00,#18ff00,#14ff00,#0fff00,#0bff00,#05ff00,#01ff00,#00ff03,#00ff05,#00ff06,#00ff07,#00ff07,#00ff07,#00ff08,#00ff08,#00ff09,#00ff0a,#00ff0a)"></i><i style="height:2px;background:linear-gradient(90deg,#a0ff00,#a7ff00,#aaff00,#a8ff00,#a4ff00,#9dff00,#94ff00,#8bff00,#83ff00,#7aff00,#73ff00,#6cff00,#66ff00,#61ff00,#5cff00,#57ff00,#53ff00,#50ff00,#4dff00,#4aff00,#47ff00,#41ff00,#39ff00,#31ff00,#29ff00,#23ff00,#1fff00,#1aff00,#15ff00,#10ff00,#0aff00,#06ff00,#03ff00,#01ff00,#00ff00,#00ff00,#00ff01,#00ff02,#00ff02,#00ff03,#00ff04,#00ff05)"></i><i style="height:2px;background:linear-gradient(90deg,#a9ff00,#b1ff00,#b4ff00,#b3ff00,#afff00,#a8ff00,#9fff00,#96ff00,#8dff00,#85ff00,#7dff00,#76ff00,#70ff00,#6aff00,#64ff00,#5fff00,#5bff00,#58ff00,#58ff00,#59ff00,#58ff00,#53ff00,#4aff00,#40ff00,#37ff00,#30ff00,#2bff00,#26ff00,#20ff00,#1aff00,#14ff00,#0fff00,#0bff00,#09ff00,#07ff00,#06ff00,#05ff00,#04ff00,#03ff00,#02ff00,#01ff00,#00ff01)"></i><i style="height:2px;background:linear-gradient(90deg,#b3ff00,#bcff00,#bfff00,#beff00,#baff00,#b3ff00,#aaff00,#a1ff00,#98ff00,#90ff00,#88ff00,#81ff00,#7aff00,#74ff00,#6dff00,#67ff00,#62ff00,#61ff00,#64ff00,#68ff00,#6aff00,#67ff00,#5dff00,#50ff00,#45ff00,#3dff00,#37ff00,#32ff00,#2cff00,#25ff00,#1eff00,#18ff00,#13ff00,#10ff00,#0eff00,#0dff00,#0bff00,#0aff00,#09ff00,#08ff00,#06ff00,#04ff00)"></i><i style="height:2px;background:linear-gradient(90deg,#bdff00,#c6ff00,#caff00,#c9ff00,#c5ff00,#beff00,#b5ff00,#acff00,#a3ff00,#9bff00,#93ff00,#8cff00,#85ff00,#7eff00,#77ff00,#6fff00,#6bff00,#6aff00,#70ff00,#78ff00,#7dff00,#7aff00,#70ff00,#61ff00,#54ff00,#4bff00,#44ff00,#3eff00,#38ff00,#30ff00,#28ff00,#21ff00,#1cff00,#18ff00,#15ff00,#13ff00,#11ff00,#10ff00,#0eff00,#0dff00,#0bff00,#08ff00)"></i><i style="height:2px;background:linear-gradient(90deg,#c7ff00,#d1ff00,#d5ff00,#d4ff00,#d0ff00,#c9ff00,#c0ff00,#b7ff00,#aeff00,#a6ff00,#9eff00,#97ff00,#90ff00,#89ff00,#80ff00,#79ff00,#74ff00,#74ff00,#7dff00,#88ff00,#90ff00,#8fff00,#83ff00,#73ff00,#64ff00,#59ff00,#52ff00,#4bff00,#44ff00,#3bff00,#33ff00,#2bff00,#25ff00,#20ff00,#1cff00,#1aff00,#17ff00,#16ff00,#14ff00,#12ff00,#0fff00,#0cff00)"></i><i style="height:2px;background:linear-gradient(90deg,#d1ff00,#dbff00,#e0ff00,#dfff00,#dbff00,#d4ff00,#cbff00,#c2ff00,#b9ff00,#b1ff00,#aaff00,#a3ff00,#9bff00,#94ff00,#8bff00,#83ff00,#7eff00,#7fff00,#8aff00,#99ff00,#a4ff00,#a3ff00,#97ff00,#86ff00,#75ff00,#69ff00,#60ff00,#59ff00,#51ff00,#47ff00,#3eff00,#35ff00,#2eff00,#28ff00,#24ff00,#20ff00,#1eff00,#1cff00,#19ff00,#17ff00,#14ff00,#10ff00)"></i><i style="height:2px;background:linear-gradient(90deg,#dbff00,#e6ff00,#eaff00,#eaff00,#e5ff00,#deff00,#d6ff00,#cdff00,#c5ff00,#bdff00,#b6ff00,#afff00,#a7ff00,#a0ff00,#97ff00,#8eff00,#89ff00,#8bff00,#98ff00,#aaff00,#b7ff00,#b8ff00,#abff00,#98ff00,#86ff00,#79ff00,#6fff00,#67ff00,#5eff00,#54ff00,#49ff00,#3fff00,#37ff00,#31ff00,#2cff00,#28ff00,#24ff00,#22ff00,#1fff00,#1cff00,#19ff00,#15ff00)"></i><i style="height:2px;background:linear-gradient(90deg,#e6ff00,#f0ff00,#f4ff00,#f4ff00,#f0ff00,#e9ff00,#e1ff00,#d8ff00,#d0ff00,#c8ff00,#c1ff00,#bbff00,#b4ff00,#acff00,#a3ff00,#9aff00,#95ff00,#98ff00,#a7ff00,#baff00,#caff00,#cbff00,#bfff00,#abff00,#98ff00,#8aff00,#7fff00,#76ff00,#6cff00,#60ff00,#55ff00,#4aff00,#41ff00,#3aff00,#34ff00,#2fff00,#2bff00,#28ff00,#25ff00,#22ff00,#1eff00,#1aff00)"></i><i style="height:2px;background:linear-gradient(90deg,#f0ff00,#faff00,#ffff00,#feff00,#faff00,#f3ff00,#ebff00,#e3ff00,#dbff00,#d4ff00,#cdff00,#c7ff00,#c1ff00,#b9ff00,#b1ff00,#a8ff00,#a3ff00,#a7ff00,#b6ff00,#cbff00,#dcff00,#deff00,#d2ff00,#bfff00,#abff00,#9bff00,#90ff00,#86ff00,#7aff00,#6eff00,#61ff00,#55ff00,#4cff00,#43ff00,#3dff00,#37ff00,#33ff00,#2fff00,#2bff00,#28ff00,#23ff00,#1fff00)"></i><i style="height:2px;background:linear-gradient(90deg,#fbff00,#fffa00,#fff500,#fff600,#fffa00,#feff00,#f6ff00,#eeff00,#e7ff00,#e0ff00,#daff00,#d4ff00,#ceff00,#c7ff00,#bfff00,#b6ff00,#b2ff00,#b6ff00,#c6ff00,#dcff00,#edff00,#f1ff00,#e6ff00,#d2ff00,#beff00,#aeff00,#a1ff00,#96ff00,#89ff00,#7bff00,#6eff00,#61ff00,#56ff00,#4dff00,#46ff00,#40ff00,#3aff00,#36ff00,#32ff00,#2eff00,#29ff00,#24ff00)"></i><i style="height:2px;background:linear-gradient(90deg,#fff800,#ffef00,#ffeb00,#ffec00,#fff000,#fff600,#fffd00,#f9ff00,#f2ff00,#ecff00,#e6ff00,#e1ff00,#dcff00,#d6ff00,#ceff00,#c6ff00,#c2ff00,#c6ff00,#d7ff00,#edff00,#feff00,#fffb00,#f8ff00,#e5ff00,#d1ff00,#c0ff00,#b3ff00,#a6ff00,#98ff00,#89ff00,#7bff00,#6eff00,#62ff00,#58ff00,#50ff00,#49ff00,#43ff00,#3dff00,#39ff00,#34ff00,#2fff00,#2aff00)"></i><i style="height:2px;background:linear-gradient(90deg,#ffed00,#ffe500,#ffe100,#ffe200,#ffe500,#ffeb00,#fff200,#fff900,#feff00,#f8ff00,#f3ff00,#eeff00,#eaff00,#e5ff00,#deff00,#d6ff00,#d2ff00,#d7ff00,#e7ff00,#fdff00,#ffef00,#ffea00,#fff400,#f8ff00,#e4ff00,#d3ff00,#c5ff00,#b6ff00,#a8ff00,#98ff00,#88ff00,#7aff00,#6eff00,#63ff00,#5aff00,#52ff00,#4bff00,#45ff00,#40ff00,#3bff00,#36ff00,#31ff00)"></i><i style="height:2px;background:linear-gradient(90deg,#ffe200,#ffda00,#ffd700,#ffd800,#ffdb00,#ffe000,#ffe700,#ffee00,#fff400,#fffa00,#ffff00,#fcff00,#f8ff00,#f4ff00,#eeff00,#e7ff00,#e4ff00,#e9ff00,#f8ff00,#fff000,#ffdf00,#ffda00,#ffe200,#fff300,#f8ff00,#e6ff00,#d7ff00,#c7ff00,#b7ff00,#a6ff00,#96ff00,#87ff00,#7aff00,#6fff00,#65ff00,#5cff00,#54ff00,#4eff00,#48ff00,#42ff00,#3dff00,#38ff00)"></i><i style="height:2px;background:linear-gradient(90deg,#ffd600,#ffcf00,#ffcd00,#ffcd00,#ffd000,#ffd500,#ffdb00,#ffe200,#ffe800,#ffed00,#fff100,#fff500,#fff700,#fffa00,#ffff00,#f9ff00,#f6ff00,#faff00,#fff400,#ffe000,#ffcf00,#ffca00,#ffd100,#ffe100,#fff300,#f9ff00,#e8ff00,#d8ff00,#c7ff00,#b5ff00,#a4ff00,#95ff00,#87ff00,#7bff00,#70ff00,#66ff00,#5eff00,#57ff00,#50ff00,#4aff00,#44ff00,#3fff00)"></i><i style="height:2px;background:linear-gradient(90deg,#ffc900,#ffc400,#ffc200,#ffc200,#ffc500,#ffca00,#ffcf00,#ffd500,#ffdb00,#ffe000,#ffe400,#ffe600,#ffe800,#ffea00,#ffee00,#fff300,#fff600,#fff100,#ffe300,#ffd000,#ffc000,#ffbb00,#ffc100,#ffcf00,#ffe100,#fff200,#faff00,#e8ff00,#d6ff00,#c4ff00,#b3ff00,#a2ff00,#94ff00,#87ff00,#7bff00,#71ff00,#68ff00,#60ff00,#59ff00,#52ff00,#4cff00,#47ff00)"></i><i style="height:2px;background:linear-gradient(90deg,#ffbc00,#ffb800,#ffb600,#ffb700,#ffba00,#ffbe00,#ffc300,#ffc800,#ffce00,#ffd300,#ffd600,#ffd800,#ffd900,#ffda00,#ffdd00,#ffe100,#ffe400,#ffdf00,#ffd200,#ffc100,#ffb200,#ffac00,#ffb200,#ffbe00,#ffcf00,#ffe100,#fff300,#f9ff00,#e6ff00,#d3ff00,#c1ff00,#b0ff00,#a1ff00,#94ff00,#88ff00,#7dff00,#73ff00,#6aff00,#62ff00,#5bff00,#55ff00,#4fff00)"></i><i style="height:2px;background:linear-gradient(90deg,#ffae00,#ffab00,#ffaa00,#ffab00,#ffae00,#ffb100,#ffb600,#ffbb00,#ffc000,#ffc500,#ffc800,#ffc900,#ffc900,#ffca00,#ffcc00,#ffd000,#ffd100,#ffcd00,#ffc100,#ffb100,#ffa400,#ff9e00,#ffa300,#ffae00,#ffbe00,#ffd000,#ffe200,#fff600,#f5ff00,#e2ff00,#d0ff00,#bfff00,#afff00,#a1ff00,#94ff00,#88ff00,#7eff00,#74ff00,#6cff00,#64ff00,#5eff00,#58ff00)"></i><i style="height:2px;background:linear-gradient(90deg,#ffa000,#ff9e00,#ff9d00,#ff9e00,#ffa100,#ffa400,#ffa800,#ffad00,#ffb200,#ffb600,#ffb900,#ffba00,#ffba00,#ffba00,#ffbb00,#ffbe00,#ffbf00,#ffbb00,#ffb100,#ffa200,#ff9600,#ff9100,#ff9500,#ff9f00,#ffae00,#ffc000,#ffd300,#ffe600,#fffa00,#f1ff00,#deff00,#cdff00,#bdff00,#afff00,#a1ff00,#95ff00,#8aff00,#7fff00,#76ff00,#6eff00,#67ff00,#61ff00)"></i><i style="height:2px;background:linear-gradient(90deg,#ff9100,#ff9000,#ff9000,#ff9100,#ff9300,#ff9600,#ff9a00,#ff9f00,#ffa300,#ffa700,#ffaa00,#ffab00,#ffaa00,#ffaa00,#ffaa00,#ffad00,#ffae00,#ffaa00,#ffa000,#ff9400,#ff8900,#ff8400,#ff8800,#ff9200,#ffa000,#ffb100,#ffc400,#ffd800,#ffeb00,#fffe00,#edff00,#dcff00,#ccff00,#bdff00,#afff00,#a2ff00,#96ff00,#8bff00,#81ff00,#79ff00,#71ff00,#6bff00)"></i><i style="height:2px;background:linear-gradient(90deg,#ff8100,#ff8000,#ff8100,#ff8200,#ff8500,#ff8800,#ff8b00,#ff9000,#ff9400,#ff9800,#ff9a00,#ff9b00,#ff9a00,#ff9a00,#ff9a00,#ff9c00,#ff9c00,#ff9900,#ff9100,#ff8600,#ff7c00,#ff7800,#ff7c00,#ff8500,#ff9300,#ffa300,#ffb600,#ffca00,#ffdd00,#fff000,#fcff00,#ebff00,#daff00,#cbff00,#bcff00,#afff00,#a3ff00,#97ff00,#8dff00,#84ff00,#7cff00,#76ff00)"></i><i style="height:2px;background:linear-gradient(90deg,#ff7100,#ff7100,#ff7100,#ff7300,#ff7600,#ff7900,#ff7c00,#ff8000,#ff8400,#ff8800,#ff8b00,#ff8b00,#ff8b00,#ff8a00,#ff8a00,#ff8c00,#ff8c00,#ff8900,#ff8100,#ff7800,#ff6f00,#ff6d00,#ff7000,#ff7900,#ff8700,#ff9700,#ffa900,#ffbc00,#ffcf00,#ffe200,#fff300,#f9ff00,#e9ff00,#d9ff00,#cbff00,#bdff00,#b0ff00,#a4ff00,#99ff00,#8fff00,#87ff00,#81ff00)"></i><i style="height:2px;background:linear-gradient(90deg,#ff6000,#ff6000,#ff6100,#ff6300,#ff6600,#ff6900,#ff6c00,#ff7000,#ff7400,#ff7800,#ff7a00,#ff7b00,#ff7b00,#ff7b00,#ff7b00,#ff7c00,#ff7c00,#ff7900,#ff7200,#ff6a00,#ff6300,#ff6100,#ff6600,#ff6f00,#ff7c00,#ff8c00,#ff9d00,#ffb000,#ffc200,#ffd400,#ffe500,#fff600,#f8ff00,#e8ff00,#d9ff00,#cbff00,#bdff00,#b1ff00,#a6ff00,#9cff00,#93ff00,#8cff00)"></i><i style="height:2px;background:linear-gradient(90deg,#ff4e00,#ff4f00,#ff5100,#ff5300,#ff5600,#ff5900,#ff5c00,#ff6000,#ff6400,#ff6700,#ff6a00,#ff6b00,#ff6c00,#ff6b00,#ff6c00,#ff6c00,#ff6c00,#ff6a00,#ff6400,#ff5d00,#ff5700,#ff5700,#ff5b00,#ff6500,#ff7200,#ff8100,#ff9200,#ffa300,#ffb500,#ffc600,#ffd600,#ffe700,#fff700,#f7ff00,#e8ff00,#d9ff00,#cbff00,#bfff00,#b3ff00,#a8ff00,#9fff00,#98ff00)"></i><i style="height:2px;background:linear-gradient(90deg,#ff3c00,#ff3e00,#ff4000,#ff4300,#ff4500,#ff4800,#ff4c00,#ff4f00,#ff5300,#ff5700,#ff5a00,#ff5b00,#ff5c00,#ff5c00,#ff5d00,#ff5e00,#ff5d00,#ff5b00,#ff5600,#ff5000,#ff4c00,#ff4c00,#ff5200,#ff5c00,#ff6800,#ff7700,#ff8700,#ff9800,#ffa800,#ffb800,#ffc800,#ffd800,#ffe800,#fff800,#f7ff00,#e8ff00,#daff00,#ccff00,#c0ff00,#b5ff00,#acff00,#a4ff00)"></i><i style="height:2px;background:linear-gradient(90deg,#ff2b00,#ff2d00,#ff2f00,#ff3200,#ff3500,#ff3800,#ff3b00,#ff3f00,#ff4300,#ff4600,#ff4900,#ff4b00,#ff4d00,#ff4e00,#ff4f00,#ff4f00,#ff4f00,#ff4d00,#ff4800,#ff4300,#ff4100,#ff4200,#ff4900,#ff5300,#ff6000,#ff6e00,#ff7d00,#ff8c00,#ff9b00,#ffaa00,#ffb900,#ffc900,#ffd800,#ffe800,#fff800,#f7ff00,#e8ff00,#dbff00,#ceff00,#c3ff00,#b9ff00,#b1ff00)"></i><i style="height:2px;background:linear-gradient(90deg,#ff1900,#ff1b00,#ff1e00,#ff2100,#ff2400,#ff2700,#ff2b00,#ff2e00,#ff3200,#ff3600,#ff3900,#ff3c00,#ff3e00,#ff3f00,#ff4000,#ff4100,#ff4100,#ff3f00,#ff3b00,#ff3700,#ff3600,#ff3800,#ff4000,#ff4b00,#ff5700,#ff6500,#ff7300,#ff8100,#ff8f00,#ff9d00,#ffab00,#ffba00,#ffc900,#ffd900,#ffe900,#fff800,#f7ff00,#e9ff00,#dcff00,#d1ff00,#c6ff00,#beff00)"></i><i style="height:2px;background:linear-gradient(90deg,#ff0700,#ff0a00,#ff0d00,#ff1000,#ff1400,#ff1700,#ff1b00,#ff1e00,#ff2200,#ff2500,#ff2900,#ff2c00,#ff2f00,#ff3100,#ff3300,#ff3400,#ff3300,#ff3100,#ff2e00,#ff2b00,#ff2b00,#ff2f00,#ff3700,#ff4300,#ff4f00,#ff5d00,#ff6a00,#ff7600,#ff8300,#ff9000,#ff9d00,#ffab00,#ffba00,#ffca00,#ffda00,#ffe900,#fff800,#f8ff00,#ebff00,#dfff00,#d4ff00,#ccff00)"></i><i style="height:2px;background:linear-gradient(90deg,#f90101,#fb0101,#fd0000,#ff0000,#ff0300,#ff0700,#ff0a00,#ff0e00,#ff1200,#ff1500,#ff1900,#ff1d00,#ff2000,#ff2300,#ff2500,#ff2600,#ff2600,#ff2400,#ff2200,#ff2000,#ff2000,#ff2500,#ff2f00,#ff3b00,#ff4800,#ff5400,#ff6000,#ff6c00,#ff7700,#ff8300,#ff8f00,#ff9c00,#ffab00,#ffbb00,#ffca00,#ffda00,#ffe900,#fff800,#f9ff00,#edff00,#e2ff00,#d9ff00)"></i><i style="height:2px;background:linear-gradient(90deg,#ef0302,#f10302,#f40301,#f60201,#f80201,#fa0101,#fc0100,#fe0000,#ff0200,#ff0600,#ff0a00,#ff0e00,#ff1200,#ff1600,#ff1800,#ff1a00,#ff1900,#ff1800,#ff1600,#ff1500,#ff1600,#ff1c00,#ff2600,#ff3300,#ff4000,#ff4c00,#ff5700,#ff6100,#ff6c00,#ff7600,#ff8100,#ff8e00,#ff9c00,#ffab00,#ffbb00,#ffcb00,#ffda00,#ffe900,#fff600,#fbff00,#f0ff00,#e7ff00)"></i><i style="height:2px;background:linear-gradient(90deg,#e60603,#e80503,#eb0503,#ed0402,#ef0402,#f10302,#f40301,#f60201,#f80201,#fa0101,#fc0100,#ff0000,#ff0400,#ff0900,#ff0c00,#ff0d00,#ff0d00,#ff0c00,#ff0a00,#ff0a00,#ff0c00,#ff1200,#ff1d00,#ff2b00,#ff3800,#ff4400,#ff4e00,#ff5700,#ff6000,#ff6a00,#ff7400,#ff8000,#ff8e00,#ff9d00,#ffac00,#ffbc00,#ffcb00,#ffda00,#ffe800,#fff500,#feff00,#f6ff00)"></i><i style="height:2px;background:linear-gradient(90deg,#dd0804,#df0704,#e20604,#e40603,#e70503,#e90503,#eb0403,#ed0402,#ef0302,#f20302,#f40201,#f70201,#fa0101,#fd0000,#ff0000,#ff0100,#ff0100,#ff0100,#ff0000,#fe0000,#ff0200,#ff0900,#ff1500,#ff2200,#ff3000,#ff3b00,#ff4400,#ff4d00,#ff5500,#ff5d00,#ff6700,#ff7200,#ff7f00,#ff8e00,#ff9d00,#ffad00,#ffbc00,#ffcb00,#ffd900,#ffe600,#fff100,#fffa00)"></i><i style="height:2px;background:linear-gradient(90deg,#d40906,#d70905,#da0805,#dc0805,#df0704,#e10704,#e40604,#e60603,#e80503,#ea0503,#ec0402,#ef0302,#f30302,#f60201,#f80201,#f90101,#f90101,#f90101,#f90101,#f90101,#fa0101,#ff0000,#ff0c00,#ff1a00,#ff2700,#ff3200,#ff3b00,#ff4200,#ff4900,#ff5100,#ff5a00,#ff6400,#ff7100,#ff7f00,#ff8f00,#ff9e00,#ffae00,#ffbd00,#ffcb00,#ffd800,#ffe300,#ffeb00)"></i><i style="height:2px;background:linear-gradient(90deg,#cc0b07,#cf0b06,#d20a06,#d50906,#d70905,#da0805,#dc0805,#de0704,#e00704,#e20604,#e50603,#e80503,#ec0403,#ef0402,#f20302,#f30302,#f30302,#f30302,#f30302,#f30302,#f50201,#f90101,#ff0200,#ff1100,#ff1e00,#ff2800,#ff3100,#ff3800,#ff3e00,#ff4500,#ff4d00,#ff5700,#ff6300,#ff7100,#ff8000,#ff9000,#ff9f00,#ffae00,#ffbd00,#ffc900,#ffd400,#ffdc00)"></i><i style="height:2px;background:linear-gradient(90deg,#c50d08,#c80c07,#cb0c07,#ce0b06,#d10a06,#d30a06,#d50905,#d70905,#da0805,#dc0805,#de0704,#e20704,#e50603,#e90503,#eb0403,#ed0402,#ed0402,#ee0402,#ed0402,#ee0402,#ef0302,#f40201,#fb0101,#ff0700,#ff1400,#ff1e00,#ff2600,#ff2d00,#ff3300,#ff3900,#ff4100,#ff4a00,#ff5600,#ff6300,#ff7200,#ff8200,#ff9100,#ffa000,#ffaf00,#ffbb00,#ffc600,#ffcd00)"></i><i style="height:2px;background:linear-gradient(90deg,#be0e09,#c10e08,#c50d08,#c80c07,#ca0c07,#cd0b07,#cf0b06,#d10a06,#d30a06,#d50905,#d80905,#db0805,#df0704,#e20604,#e50603,#e70503,#e80503,#e80503,#e80503,#e80503,#ea0503,#ee0402,#f50201,#fd0100,#ff0900,#ff1300,#ff1b00,#ff2200,#ff2800,#ff2e00,#ff3500,#ff3e00,#ff4900,#ff5600,#ff6500,#ff7400,#ff8300,#ff9300,#ffa100,#ffad00,#ffb800,#ffbe00)"></i><i style="height:2px;background:linear-gradient(90deg,#b81009,#bb0f09,#bf0e08,#c20e08,#c50d08,#c70c07,#ca0c07,#cc0b07,#ce0b06,#d00a06,#d20a06,#d60905,#d90805,#dc0805,#df0704,#e10704,#e20604,#e30604,#e30604,#e30604,#e50603,#e90503,#ef0402,#f60201,#fd0000,#ff0700,#ff1000,#ff1700,#ff1d00,#ff2300,#ff2900,#ff3200,#ff3c00,#ff4900,#ff5700,#ff6700,#ff7600,#ff8500,#ff9300,#ffa000,#ffa900,#ffaf00)"></i><i style="height:2px;background:linear-gradient(90deg,#b2110a,#b6100a,#ba0f09,#bd0f09,#c00e08,#c20d08,#c50d08,#c70d07,#c90c07,#cb0c07,#ce0b06,#d00a06,#d40a06,#d70905,#d90805,#dc0805,#dd0804,#de0704,#de0704,#de0704,#df0704,#e30604,#e80503,#ef0402,#f60201,#fc0100,#ff0300,#ff0b00,#ff1200,#ff1700,#ff1e00,#ff2600,#ff3000,#ff3d00,#ff4b00,#ff5a00,#ff6900,#ff7800,#ff8600,#ff9200,#ff9b00,#ffa000)"></i><i style="height:2px;background:linear-gradient(90deg,#ad120b,#b2110a,#b6100a,#b90f09,#bc0f09,#bf0e08,#c10e08,#c30d08,#c50d08,#c70c07,#c90c07,#cc0b07,#cf0b06,#d10a06,#d40a06,#d60905,#d80905,#d90805,#d90805,#d90805,#da0805,#dd0805,#e10704,#e70503,#ee0402,#f40201,#f90101,#fe0000,#ff0600,#ff0d00,#ff1300,#ff1b00,#ff2500,#ff3100,#ff3e00,#ff4d00,#ff5d00,#ff6c00,#ff7a00,#ff8500,#ff8d00,#ff9100)"></i><i style="height:1px;background:linear-gradient(90deg,#aa130b,#af120a,#b3110a,#b71009,#b91009,#bb0f09,#bd0f09,#bf0e08,#c10e08,#c40d08,#c60d07,#c80c07,#ca0c07,#cc0b07,#cf0b06,#d10a06,#d30a06,#d50906,#d50906,#d40906,#d40906,#d60905,#da0805,#df0704,#e50603,#eb0403,#f10302,#f70201,#fc0100,#ff0200,#ff0900,#ff1100,#ff1a00,#ff2600,#ff3300,#ff4200,#ff5100,#ff6000,#ff6e00,#ff7900,#ff8000,#ff8200)"></i></div>
<div class="hm" style="left:512px;top:68px;width:30px;height:310px;background:linear-gradient(180deg,#662214 0.13%,#ff0000 16.50%,#ffff00 31.80%,#00ff00 47.10%,#00ffff 62.40%,#0000ff 77.70%,#ff00ff 93.00%,#880088 100.04%)"></div>
<div class="hm" style="left:699px;top:68px;width:326px;height:309px"><i style="height:2px;background:linear-gradient(90deg,#d80905,#db0805,#e20604,#e90503,#ed0402,#ef0402,#f10302,#f30302,#f60201,#fa0101,#fc0100,#fe0000,#ff0000,#ff0700,#ff2c00,#ff7700,#ffc900,#ebff00,#a1ff00,#4aff00,#00ff16,#00ff71,#00ffc6,#00e4ff,#0090ff,#003cff,#1100ff,#4f00ff,#8000ff,#ab00ff,#d400ff,#f500ff,#f800f8,#ea00ea,#dc00dc,#d100d1,#c300c3,#b800b8,#b400b4,#b300b3,#b200b2,#b200b2)"></i><i style="height:2px;background:linear-gradient(90deg,#d30a06,#d60905,#dd0804,#e60603,#ea0503,#ed0402,#f10302,#f40302,#f60201,#fa0101,#fc0100,#fe0000,#ff0000,#ff0900,#ff3000,#ff7b00,#ffcc00,#e8ff00,#9eff00,#47ff00,#00ff1a,#00ff74,#00ffca,#00e0ff,#008cff,#0039ff,#1300ff,#5000ff,#8100ff,#ab00ff,#d400ff,#f500ff,#f700f7,#e900e9,#dc00dc,#d100d1,#c400c4,#ba00ba,#b600b6,#b400b4,#b300b3,#b200b2)"></i><i style="height:2px;background:linear-gradient(90deg,#ce0b06,#d00b06,#d70905,#e20704,#e80503,#ec0403,#f00302,#f40201,#f70201,#fa0101,#fc0100,#fe0000,#ff0000,#ff0b00,#ff3500,#ff8000,#ffd100,#e4ff00,#9bff00,#43ff00,#00ff1e,#00ff79,#00ffcf,#00dbff,#0088ff,#0035ff,#1500ff,#5100ff,#8100ff,#ab00ff,#d300ff,#f500ff,#f700f7,#e800e8,#dc00dc,#d200d2,#c600c6,#bd00bd,#b800b8,#b500b5,#b300b3,#b400b4)"></i><i style="height:2px;background:linear-gradient(90deg,#c80c07,#c90c07,#d10a06,#dd0704,#e50603,#ea0503,#f00302,#f40201,#f70201,#fa0101,#fd0100,#fe0000,#ff0100,#ff0e00,#ff3b00,#ff8600,#ffd600,#e0ff00,#97ff00,#3eff00,#00ff23,#00ff7e,#00ffd5,#00d5ff,#0084ff,#0032ff,#1700ff,#5200ff,#8200ff,#ab00ff,#d300ff,#f400ff,#f600f6,#e800e8,#dc00dc,#d200d2,#c800c8,#bf00bf,#ba00ba,#b700b7,#b500b5,#b500b5)"></i><i style="height:2px;background:linear-gradient(90deg,#c10e08,#c10e08,#ca0c07,#d90805,#e20604,#e90503,#f00302,#f50201,#f80201,#fb0101,#fd0000,#fe0000,#ff0100,#ff1100,#ff4200,#ff8d00,#ffdb00,#dbff00,#92ff00,#39ff00,#00ff28,#00ff83,#00ffdc,#00cfff,#007fff,#002eff,#1a00ff,#5400ff,#8200ff,#ab00ff,#d200ff,#f300ff,#f600f6,#e800e8,#dd00dd,#d300d3,#ca00ca,#c200c2,#bc00bc,#b900b9,#b700b7,#b800b8)"></i><i style="height:2px;background:linear-gradient(90deg,#ba0f09,#ba0f09,#c40d08,#d40a06,#df0704,#e70503,#f00302,#f60201,#f90101,#fb0100,#fe0000,#ff0000,#ff0300,#ff1500,#ff4a00,#ff9500,#ffe200,#d6ff00,#8dff00,#33ff00,#00ff2e,#00ff8a,#00ffe3,#00c8ff,#007aff,#002aff,#1d00ff,#5500ff,#8200ff,#aa00ff,#d100ff,#f300ff,#f600f6,#e800e8,#dd00dd,#d400d4,#cc00cc,#c400c4,#bf00bf,#bb00bb,#b900b9,#bb00bb)"></i><i style="height:2px;background:linear-gradient(90deg,#b3110a,#b2110a,#be0f09,#d00a06,#dd0805,#e70503,#f10302,#f70201,#f90101,#fc0100,#fe0000,#ff0100,#ff0500,#ff1b00,#ff5300,#ff9e00,#ffe900,#d0ff00,#87ff00,#2dff00,#00ff34,#00ff91,#00ffea,#00c2ff,#0074ff,#0025ff,#1f00ff,#5600ff,#8300ff,#aa00ff,#d000ff,#f200ff,#f700f7,#e900e9,#de00de,#d600d6,#ce00ce,#c700c7,#c200c2,#be00be,#bc00bc,#bf00bf)"></i><i style="height:2px;background:linear-gradient(90deg,#ad120b,#ac130b,#b81009,#cc0b07,#da0805,#e70503,#f20302,#f80201,#fa0101,#fd0000,#ff0000,#ff0300,#ff0800,#ff2100,#ff5d00,#ffa800,#fff000,#caff00,#81ff00,#26ff00,#00ff3b,#00ff98,#00fff2,#00bcff,#006fff,#0021ff,#2200ff,#5700ff,#8300ff,#aa00ff,#cf00ff,#f100ff,#f700f7,#ea00ea,#e000e0,#d800d8,#d000d0,#ca00ca,#c500c5,#c100c1,#c000c0,#c400c4)"></i><i style="height:2px;background:linear-gradient(90deg,#a6140c,#a6140c,#b4110a,#c90c07,#d90805,#e70503,#f30302,#f90101,#fc0100,#fe0000,#ff0300,#ff0600,#ff0d00,#ff2a00,#ff6800,#ffb200,#fff900,#c3ff00,#7aff00,#1eff00,#00ff42,#00ff9f,#00fff9,#00b6ff,#006aff,#001dff,#2400ff,#5800ff,#8300ff,#a900ff,#ce00ff,#ef00ff,#f800f8,#eb00eb,#e100e1,#da00da,#d300d3,#cd00cd,#c800c8,#c400c4,#c400c4,#c800c8)"></i><i style="height:2px;background:linear-gradient(90deg,#a1150c,#a3140c,#b2110a,#c80c07,#d90805,#e90503,#f50201,#fa0101,#fd0000,#ff0200,#ff0700,#ff0b00,#ff1400,#ff3500,#ff7500,#ffbd00,#fcff00,#bbff00,#72ff00,#17ff00,#00ff49,#00ffa7,#00fdff,#00b0ff,#0066ff,#001aff,#2700ff,#5a00ff,#8300ff,#a800ff,#cd00ff,#ee00ff,#fa00fa,#ec00ec,#e300e3,#dc00dc,#d600d6,#cf00cf,#ca00ca,#c700c7,#c800c8,#cc00cc)"></i><i style="height:2px;background:linear-gradient(90deg,#9d160d,#a2150c,#b2110a,#c80c07,#da0805,#eb0503,#f80201,#fd0000,#ff0100,#ff0800,#ff0d00,#ff1300,#ff1f00,#ff4200,#ff8300,#ffc900,#f2ff00,#b2ff00,#69ff00,#0eff00,#00ff51,#00ffb0,#00f6ff,#00aaff,#0061ff,#0016ff,#2900ff,#5b00ff,#8300ff,#a800ff,#cb00ff,#ec00ff,#fb00fb,#ee00ee,#e500e5,#de00de,#d800d8,#d200d2,#cd00cd,#cb00cb,#cb00cb,#d000d0)"></i><i style="height:2px;background:linear-gradient(90deg,#9c160d,#a4140c,#b5100a,#ca0c07,#dd0804,#ee0402,#fb0101,#ff0200,#ff0800,#ff0f00,#ff1700,#ff1e00,#ff2d00,#ff5300,#ff9200,#ffd600,#e7ff00,#a9ff00,#5fff00,#06ff00,#00ff59,#00ffb8,#00eeff,#00a4ff,#005cff,#0012ff,#2b00ff,#5c00ff,#8300ff,#a700ff,#c900ff,#ea00ff,#fd00fd,#f000f0,#e700e7,#e100e1,#db00db,#d500d5,#d100d1,#ce00ce,#cf00cf,#d300d3)"></i><i style="height:2px;background:linear-gradient(90deg,#9e160d,#a8130b,#ba0f09,#cf0b06,#e10704,#f20302,#ff0000,#ff0a00,#ff1200,#ff1b00,#ff2400,#ff2d00,#ff3e00,#ff6600,#ffa300,#ffe400,#dcff00,#9eff00,#55ff00,#00ff04,#00ff61,#00ffc0,#00e7ff,#009fff,#0057ff,#000eff,#2d00ff,#5c00ff,#8300ff,#a600ff,#c700ff,#e700ff,#ff00ff,#f200f2,#ea00ea,#e400e4,#de00de,#d800d8,#d400d4,#d100d1,#d200d2,#d600d6)"></i><i style="height:2px;background:linear-gradient(90deg,#a2150c,#ae120b,#c10e08,#d50905,#e70503,#f80201,#ff0a00,#ff1600,#ff1f00,#ff2a00,#ff3500,#ff4000,#ff5300,#ff7b00,#ffb500,#fff300,#d0ff00,#93ff00,#4aff00,#00ff0e,#00ff6a,#00ffc9,#00e0ff,#0099ff,#0052ff,#000aff,#2f00ff,#5d00ff,#8300ff,#a400ff,#c500ff,#e500ff,#fd00ff,#f400f4,#ec00ec,#e600e6,#e100e1,#db00db,#d700d7,#d500d5,#d600d6,#d800d8)"></i><i style="height:2px;background:linear-gradient(90deg,#a8130b,#b6100a,#c90c07,#dd0804,#ef0402,#ff0000,#ff1700,#ff2500,#ff3000,#ff3c00,#ff4900,#ff5700,#ff6b00,#ff9200,#ffc900,#fcff00,#c3ff00,#87ff00,#3eff00,#00ff18,#00ff74,#00ffd2,#00d9ff,#0093ff,#004dff,#0007ff,#3100ff,#5e00ff,#8200ff,#a300ff,#c200ff,#e100ff,#fa00ff,#f600f6,#ef00ef,#e900e9,#e400e4,#df00df,#db00db,#d900d9,#d900d9,#db00db)"></i><i style="height:2px;background:linear-gradient(90deg,#b1110a,#c00e08,#d30a06,#e70503,#f80201,#ff1100,#ff2800,#ff3700,#ff4400,#ff5200,#ff6100,#ff6f00,#ff8400,#ffaa00,#ffdd00,#ebff00,#b5ff00,#7aff00,#31ff00,#00ff23,#00ff7d,#00ffda,#00d2ff,#008eff,#0048ff,#0003ff,#3300ff,#5e00ff,#8200ff,#a100ff,#bf00ff,#de00ff,#f700ff,#f900f9,#f100f1,#ec00ec,#e700e7,#e200e2,#de00de,#dd00dd,#dd00dd,#de00de)"></i><i style="height:2px;background:linear-gradient(90deg,#bc0f09,#cc0b07,#df0704,#f20302,#ff0800,#ff2400,#ff3c00,#ff4d00,#ff5c00,#ff6b00,#ff7a00,#ff8900,#ff9f00,#ffc300,#fff200,#daff00,#a6ff00,#6cff00,#24ff00,#00ff2e,#00ff87,#00ffe3,#00cbff,#0088ff,#0043ff,#0100ff,#3500ff,#5f00ff,#8100ff,#9f00ff,#bc00ff,#da00ff,#f300ff,#fd00fd,#f500f5,#ef00ef,#ea00ea,#e600e6,#e200e2,#e100e1,#e100e1,#e200e2)"></i><i style="height:2px;background:linear-gradient(90deg,#c80c07,#d80905,#eb0403,#fe0000,#ff1e00,#ff3b00,#ff5300,#ff6500,#ff7500,#ff8500,#ff9500,#ffa500,#ffba00,#ffdc00,#f7ff00,#c9ff00,#97ff00,#5dff00,#17ff00,#00ff3a,#00ff92,#00ffec,#00c5ff,#0082ff,#003dff,#0400ff,#3600ff,#5f00ff,#8000ff,#9d00ff,#b900ff,#d500ff,#ee00ff,#fd00ff,#f800f8,#f200f2,#ee00ee,#ea00ea,#e700e7,#e600e6,#e600e6,#e600e6)"></i><i style="height:2px;background:linear-gradient(90deg,#d60905,#e60603,#f80101,#ff1600,#ff3700,#ff5400,#ff6c00,#ff7f00,#ff9000,#ffa000,#ffb100,#ffc100,#ffd600,#fff600,#e0ff00,#b6ff00,#86ff00,#4eff00,#09ff00,#00ff46,#00ff9d,#00fff4,#00beff,#007cff,#0038ff,#0700ff,#3700ff,#5f00ff,#8000ff,#9b00ff,#b600ff,#d000ff,#e800ff,#f800ff,#fc00fc,#f600f6,#f200f2,#ef00ef,#ec00ec,#eb00eb,#eb00eb,#ec00ec)"></i><i style="height:2px;background:linear-gradient(90deg,#e50603,#f40201,#ff0e00,#ff3000,#ff5100,#ff6e00,#ff8700,#ff9a00,#ffab00,#ffbc00,#ffcd00,#ffdd00,#fff200,#eeff00,#c9ff00,#a3ff00,#75ff00,#3eff00,#00ff06,#00ff53,#00ffa8,#00fffc,#00b8ff,#0076ff,#0033ff,#0a00ff,#3800ff,#5f00ff,#7f00ff,#9900ff,#b200ff,#ca00ff,#e100ff,#f200ff,#fd00ff,#fa00fa,#f600f6,#f400f4,#f100f1,#f100f1,#f100f1,#f100f1)"></i><i style="height:2px;background:linear-gradient(90deg,#f50201,#ff0900,#ff2a00,#ff4c00,#ff6d00,#ff8a00,#ffa200,#ffb600,#ffc700,#ffd800,#ffe900,#fffb00,#efff00,#d3ff00,#b2ff00,#8eff00,#63ff00,#2dff00,#00ff15,#00ff60,#00ffb3,#00f9ff,#00b1ff,#0071ff,#002eff,#0d00ff,#3900ff,#5f00ff,#7e00ff,#9700ff,#ae00ff,#c400ff,#da00ff,#eb00ff,#f700ff,#fe00ff,#fc00fc,#fa00fa,#f800f8,#f700f7,#f700f7,#f600f6)"></i><i style="height:2px;background:linear-gradient(90deg,#ff0d00,#ff2700,#ff4700,#ff6900,#ff8a00,#ffa600,#ffbd00,#ffd100,#ffe200,#fff400,#f8ff00,#e6ff00,#d2ff00,#b8ff00,#9aff00,#79ff00,#50ff00,#1bff00,#00ff25,#00ff6e,#00ffbf,#00f1ff,#00abff,#006bff,#0029ff,#0f00ff,#3a00ff,#5e00ff,#7d00ff,#9500ff,#aa00ff,#be00ff,#d200ff,#e300ff,#f000ff,#f800ff,#fc00ff,#fe00ff,#ff00ff,#ff00ff,#fd00fd,#fb00fb)"></i><i style="height:2px;background:linear-gradient(90deg,#ff2d00,#ff4600,#ff6700,#ff8800,#ffa800,#ffc200,#ffd900,#ffed00,#fffe00,#eeff00,#dbff00,#c8ff00,#b4ff00,#9cff00,#81ff00,#63ff00,#3cff00,#09ff00,#00ff35,#00ff7d,#00ffcb,#00e8ff,#00a5ff,#0066ff,#0025ff,#1200ff,#3b00ff,#5e00ff,#7b00ff,#9300ff,#a600ff,#b800ff,#ca00ff,#db00ff,#e800ff,#f100ff,#f500ff,#f600ff,#f600ff,#f700ff,#fa00ff,#fe00ff)"></i><i style="height:2px;background:linear-gradient(90deg,#ff4e00,#ff6800,#ff8800,#ffa800,#ffc600,#ffe000,#fff600,#f6ff00,#e4ff00,#d2ff00,#beff00,#aaff00,#97ff00,#81ff00,#69ff00,#4dff00,#28ff00,#00ff0a,#00ff47,#00ff8d,#00ffd7,#00e0ff,#009fff,#0061ff,#0020ff,#1400ff,#3b00ff,#5e00ff,#7a00ff,#9100ff,#a300ff,#b200ff,#c200ff,#d200ff,#e000ff,#e900ff,#ec00ff,#ec00ff,#ed00ff,#ee00ff,#f200ff,#fa00ff)"></i><i style="height:2px;background:linear-gradient(90deg,#ff7100,#ff8b00,#ffab00,#ffc900,#ffe500,#fffd00,#ecff00,#d9ff00,#c8ff00,#b6ff00,#a1ff00,#8cff00,#7aff00,#66ff00,#50ff00,#37ff00,#13ff00,#00ff1e,#00ff59,#00ff9d,#00ffe4,#00d7ff,#0098ff,#005cff,#001cff,#1600ff,#3c00ff,#5d00ff,#7900ff,#8e00ff,#9f00ff,#ad00ff,#bb00ff,#c900ff,#d600ff,#df00ff,#e200ff,#e200ff,#e300ff,#e500ff,#eb00ff,#f600ff)"></i><i style="height:2px;background:linear-gradient(90deg,#ff9700,#ffb100,#ffcf00,#ffeb00,#f9ff00,#e3ff00,#cfff00,#bdff00,#adff00,#9bff00,#85ff00,#70ff00,#5eff00,#4bff00,#37ff00,#20ff00,#00ff03,#00ff33,#00ff6d,#00ffaf,#00fff1,#00ceff,#0092ff,#0057ff,#0019ff,#1800ff,#3c00ff,#5d00ff,#7700ff,#8c00ff,#9b00ff,#a800ff,#b400ff,#c100ff,#cd00ff,#d500ff,#d800ff,#d700ff,#d800ff,#db00ff,#e200ff,#f100ff)"></i><i style="height:2px;background:linear-gradient(90deg,#ffbe00,#ffd800,#fff400,#f0ff00,#d9ff00,#c4ff00,#b2ff00,#a0ff00,#91ff00,#7fff00,#69ff00,#54ff00,#44ff00,#31ff00,#1fff00,#09ff00,#00ff1a,#00ff49,#00ff81,#00ffc1,#00fffe,#00c4ff,#008bff,#0052ff,#0015ff,#1900ff,#3c00ff,#5c00ff,#7600ff,#8900ff,#9700ff,#a300ff,#ae00ff,#b900ff,#c300ff,#cb00ff,#cd00ff,#cc00ff,#cc00ff,#d100ff,#da00ff,#ec00ff)"></i><i style="height:2px;background:linear-gradient(90deg,#ffe800,#feff00,#e4ff00,#cdff00,#b8ff00,#a5ff00,#94ff00,#84ff00,#75ff00,#64ff00,#4eff00,#3aff00,#2aff00,#18ff00,#07ff00,#00ff0f,#00ff32,#00ff60,#00ff96,#00ffd4,#00f2ff,#00baff,#0084ff,#004cff,#0012ff,#1b00ff,#3d00ff,#5c00ff,#7400ff,#8500ff,#9300ff,#9f00ff,#a900ff,#b200ff,#ba00ff,#c000ff,#c100ff,#c000ff,#c100ff,#c700ff,#d100ff,#e500ff)"></i><i style="height:2px;background:linear-gradient(90deg,#ebff00,#d5ff00,#bdff00,#aaff00,#98ff00,#86ff00,#76ff00,#67ff00,#58ff00,#48ff00,#34ff00,#21ff00,#11ff00,#00ff01,#00ff12,#00ff27,#00ff4c,#00ff78,#00ffac,#00ffe7,#00e3ff,#00afff,#007cff,#0046ff,#000eff,#1c00ff,#3e00ff,#5b00ff,#7200ff,#8200ff,#9000ff,#9b00ff,#a400ff,#ac00ff,#b100ff,#b500ff,#b600ff,#b500ff,#b600ff,#bd00ff,#c800ff,#dd00ff)"></i><i style="height:2px;background:linear-gradient(90deg,#c0ff00,#abff00,#97ff00,#87ff00,#77ff00,#67ff00,#58ff00,#4aff00,#3cff00,#2dff00,#1bff00,#08ff00,#00ff07,#00ff1a,#00ff2b,#00ff41,#00ff66,#00ff91,#00ffc3,#00fffa,#00d4ff,#00a3ff,#0073ff,#0040ff,#000bff,#1d00ff,#3e00ff,#5b00ff,#7000ff,#7f00ff,#8c00ff,#9700ff,#a000ff,#a600ff,#a800ff,#aa00ff,#ab00ff,#aa00ff,#ac00ff,#b300ff,#bf00ff,#d200ff)"></i><i style="height:2px;background:linear-gradient(90deg,#95ff00,#83ff00,#72ff00,#65ff00,#57ff00,#48ff00,#3aff00,#2cff00,#20ff00,#13ff00,#02ff00,#00ff0f,#00ff1f,#00ff32,#00ff44,#00ff5b,#00ff80,#00ffab,#00ffda,#00f0ff,#00c4ff,#0097ff,#0069ff,#003aff,#0008ff,#1f00ff,#3f00ff,#5b00ff,#6e00ff,#7c00ff,#8800ff,#9300ff,#9c00ff,#a000ff,#a000ff,#a000ff,#a000ff,#a000ff,#a200ff,#aa00ff,#b500ff,#c600ff)"></i><i style="height:2px;background:linear-gradient(90deg,#6cff00,#5cff00,#4eff00,#43ff00,#37ff00,#29ff00,#1cff00,#0fff00,#04ff00,#00ff08,#00ff17,#00ff27,#00ff38,#00ff4c,#00ff5e,#00ff76,#00ff9b,#00ffc4,#00fff1,#00ddff,#00b4ff,#008aff,#005fff,#0032ff,#0005ff,#2000ff,#4000ff,#5c00ff,#6d00ff,#7800ff,#8400ff,#9000ff,#9800ff,#9b00ff,#9800ff,#9600ff,#9600ff,#9600ff,#9a00ff,#a100ff,#ab00ff,#b700ff)"></i><i style="height:2px;background:linear-gradient(90deg,#45ff00,#37ff00,#2bff00,#22ff00,#17ff00,#0aff00,#00ff02,#00ff0e,#00ff18,#00ff23,#00ff30,#00ff3f,#00ff50,#00ff65,#00ff79,#00ff91,#00ffb5,#00ffdc,#00f7ff,#00cbff,#00a4ff,#007cff,#0055ff,#002bff,#0002ff,#2200ff,#4200ff,#5c00ff,#6b00ff,#7600ff,#8100ff,#8c00ff,#9400ff,#9600ff,#9100ff,#8d00ff,#8d00ff,#8e00ff,#9100ff,#9900ff,#a000ff,#a800ff)"></i><i style="height:2px;background:linear-gradient(90deg,#1fff00,#14ff00,#0aff00,#01ff00,#00ff09,#00ff15,#00ff20,#00ff2b,#00ff34,#00ff3e,#00ff4a,#00ff58,#00ff69,#00ff7f,#00ff94,#00ffad,#00ffcf,#00fff4,#00e2ff,#00baff,#0095ff,#006fff,#004aff,#0024ff,#0200ff,#2400ff,#4400ff,#5d00ff,#6a00ff,#7300ff,#7d00ff,#8800ff,#9000ff,#9000ff,#8a00ff,#8500ff,#8400ff,#8500ff,#8900ff,#9000ff,#9600ff,#9900ff)"></i><i style="height:2px;background:linear-gradient(90deg,#00ff04,#00ff0f,#00ff18,#00ff1f,#00ff29,#00ff34,#00ff3e,#00ff48,#00ff51,#00ff5a,#00ff64,#00ff71,#00ff83,#00ff99,#00ffaf,#00ffc7,#00ffe8,#00f3ff,#00cfff,#00abff,#0086ff,#0061ff,#003fff,#001dff,#0500ff,#2600ff,#4600ff,#5e00ff,#6a00ff,#7100ff,#7a00ff,#8500ff,#8c00ff,#8b00ff,#8300ff,#7d00ff,#7b00ff,#7d00ff,#8100ff,#8800ff,#8c00ff,#8b00ff)"></i><i style="height:2px;background:linear-gradient(90deg,#00ff26,#00ff30,#00ff38,#00ff40,#00ff49,#00ff53,#00ff5c,#00ff65,#00ff6d,#00ff75,#00ff7e,#00ff8c,#00ff9d,#00ffb3,#00ffca,#00ffe1,#00feff,#00ddff,#00bdff,#009dff,#0079ff,#0055ff,#0035ff,#0016ff,#0900ff,#2900ff,#4900ff,#5f00ff,#6900ff,#6f00ff,#7700ff,#8100ff,#8800ff,#8600ff,#7d00ff,#7500ff,#7400ff,#7600ff,#7a00ff,#8000ff,#8300ff,#7f00ff)"></i><i style="height:2px;background:linear-gradient(90deg,#00ff48,#00ff51,#00ff59,#00ff60,#00ff69,#00ff72,#00ff7a,#00ff82,#00ff8a,#00ff91,#00ff9a,#00ffa7,#00ffb8,#00ffce,#00ffe4,#00fffb,#00e7ff,#00c9ff,#00adff,#0091ff,#006eff,#0049ff,#002bff,#000fff,#0d00ff,#2c00ff,#4b00ff,#6100ff,#6900ff,#6e00ff,#7500ff,#7e00ff,#8400ff,#8000ff,#7600ff,#6e00ff,#6c00ff,#6e00ff,#7200ff,#7700ff,#7a00ff,#7400ff)"></i><i style="height:2px;background:linear-gradient(90deg,#00ff69,#00ff72,#00ff7a,#00ff81,#00ff89,#00ff91,#00ff98,#00ffa0,#00ffa7,#00ffae,#00ffb6,#00ffc3,#00ffd4,#00ffe9,#00fffe,#00ebff,#00d1ff,#00b7ff,#009fff,#0087ff,#0063ff,#003eff,#0021ff,#0009ff,#1100ff,#2f00ff,#4e00ff,#6200ff,#6900ff,#6d00ff,#7300ff,#7b00ff,#7f00ff,#7a00ff,#6f00ff,#6700ff,#6500ff,#6600ff,#6a00ff,#6f00ff,#7100ff,#6a00ff)"></i><i style="height:2px;background:linear-gradient(90deg,#00ff8a,#00ff93,#00ff9a,#00ffa1,#00ffa8,#00ffb0,#00ffb7,#00ffbe,#00ffc4,#00ffcb,#00ffd2,#00ffdf,#00fff0,#00faff,#00e6ff,#00d3ff,#00bcff,#00a5ff,#0091ff,#007dff,#005aff,#0033ff,#0018ff,#0003ff,#1500ff,#3300ff,#5100ff,#6300ff,#6900ff,#6d00ff,#7100ff,#7800ff,#7b00ff,#7400ff,#6900ff,#6100ff,#5e00ff,#5f00ff,#6200ff,#6700ff,#6700ff,#6100ff)"></i><i style="height:2px;background:linear-gradient(90deg,#00ffac,#00ffb4,#00ffbb,#00ffc1,#00ffc8,#00ffcf,#00ffd6,#00ffdc,#00ffe2,#00ffe8,#00ffef,#00fffc,#00f2ff,#00dfff,#00ccff,#00bcff,#00a8ff,#0095ff,#0085ff,#0073ff,#0050ff,#002aff,#0011ff,#0300ff,#1a00ff,#3700ff,#5400ff,#6400ff,#6900ff,#6c00ff,#7000ff,#7400ff,#7500ff,#6d00ff,#6200ff,#5a00ff,#5700ff,#5700ff,#5a00ff,#5e00ff,#5e00ff,#5600ff)"></i><i style="height:2px;background:linear-gradient(90deg,#00ffce,#00ffd5,#00ffdb,#00ffe2,#00ffe8,#00ffef,#00fff5,#00fffb,#00fdff,#00f8ff,#00f0ff,#00e4ff,#00d5ff,#00c4ff,#00b3ff,#00a5ff,#0095ff,#0085ff,#0077ff,#0068ff,#0046ff,#0021ff,#0009ff,#0900ff,#1f00ff,#3b00ff,#5600ff,#6500ff,#6900ff,#6b00ff,#6e00ff,#7100ff,#7000ff,#6600ff,#5b00ff,#5400ff,#5000ff,#5000ff,#5200ff,#5500ff,#5500ff,#4b00ff)"></i><i style="height:2px;background:linear-gradient(90deg,#00fff1,#00fff7,#00fffc,#00fcff,#00f5ff,#00efff,#00e9ff,#00e3ff,#00deff,#00d8ff,#00d1ff,#00c5ff,#00b8ff,#00a9ff,#009aff,#008eff,#0081ff,#0074ff,#0069ff,#005aff,#003bff,#0018ff,#0002ff,#1000ff,#2500ff,#3f00ff,#5800ff,#6500ff,#6900ff,#6b00ff,#6c00ff,#6e00ff,#6a00ff,#6000ff,#5500ff,#4e00ff,#4a00ff,#4900ff,#4a00ff,#4d00ff,#4b00ff,#4000ff)"></i><i style="height:2px;background:linear-gradient(90deg,#00eaff,#00e6ff,#00e0ff,#00dbff,#00d5ff,#00cfff,#00c9ff,#00c3ff,#00bdff,#00b8ff,#00b2ff,#00a7ff,#009aff,#008eff,#0081ff,#0078ff,#006dff,#0062ff,#0058ff,#004bff,#002eff,#000fff,#0500ff,#1700ff,#2c00ff,#4400ff,#5a00ff,#6500ff,#6800ff,#6900ff,#6a00ff,#6a00ff,#6400ff,#5900ff,#4e00ff,#4700ff,#4300ff,#4200ff,#4300ff,#4400ff,#4100ff,#3400ff)"></i><i style="height:2px;background:linear-gradient(90deg,#00c8ff,#00c4ff,#00bfff,#00baff,#00b4ff,#00aeff,#00a8ff,#00a2ff,#009dff,#0098ff,#0092ff,#0088ff,#007eff,#0073ff,#0069ff,#0061ff,#0058ff,#004eff,#0045ff,#0038ff,#0020ff,#0005ff,#0e00ff,#1f00ff,#3300ff,#4800ff,#5c00ff,#6500ff,#6700ff,#6700ff,#6700ff,#6500ff,#5d00ff,#5100ff,#4800ff,#4100ff,#3d00ff,#3b00ff,#3b00ff,#3b00ff,#3700ff,#2900ff)"></i><i style="height:2px;background:linear-gradient(90deg,#00a6ff,#00a2ff,#009eff,#0099ff,#0093ff,#008dff,#0087ff,#0081ff,#007cff,#0077ff,#0072ff,#006aff,#0061ff,#0059ff,#0051ff,#004aff,#0042ff,#0039ff,#0030ff,#0025ff,#0010ff,#0700ff,#1700ff,#2800ff,#3a00ff,#4d00ff,#5d00ff,#6400ff,#6500ff,#6500ff,#6300ff,#6000ff,#5700ff,#4b00ff,#4200ff,#3b00ff,#3600ff,#3400ff,#3400ff,#3300ff,#2e00ff,#1f00ff)"></i><i style="height:2px;background:linear-gradient(90deg,#0085ff,#0082ff,#007dff,#0078ff,#0073ff,#006dff,#0067ff,#0061ff,#005dff,#0058ff,#0053ff,#004dff,#0046ff,#003fff,#0039ff,#0033ff,#002cff,#0023ff,#001bff,#0010ff,#0100ff,#1300ff,#2200ff,#3100ff,#4200ff,#5100ff,#5d00ff,#6200ff,#6200ff,#6100ff,#5f00ff,#5a00ff,#4f00ff,#4400ff,#3b00ff,#3500ff,#3000ff,#2d00ff,#2c00ff,#2b00ff,#2500ff,#1700ff)"></i><i style="height:2px;background:linear-gradient(90deg,#0065ff,#0062ff,#005eff,#0059ff,#0054ff,#004eff,#0049ff,#0043ff,#003fff,#003bff,#0037ff,#0031ff,#002cff,#0027ff,#0022ff,#001cff,#0016ff,#000eff,#0006ff,#0400ff,#1100ff,#2000ff,#2d00ff,#3a00ff,#4800ff,#5300ff,#5d00ff,#5f00ff,#5e00ff,#5c00ff,#5900ff,#5300ff,#4800ff,#3d00ff,#3500ff,#2f00ff,#2a00ff,#2700ff,#2500ff,#2300ff,#1d00ff,#1000ff)"></i><i style="height:2px;background:linear-gradient(90deg,#0047ff,#0044ff,#0040ff,#003cff,#0037ff,#0032ff,#002cff,#0028ff,#0024ff,#0020ff,#001dff,#0018ff,#0014ff,#0010ff,#000cff,#0007ff,#0001ff,#0600ff,#0e00ff,#1700ff,#2200ff,#2d00ff,#3800ff,#4300ff,#4d00ff,#5500ff,#5b00ff,#5c00ff,#5a00ff,#5700ff,#5300ff,#4c00ff,#4100ff,#3600ff,#2f00ff,#2900ff,#2300ff,#2000ff,#1e00ff,#1a00ff,#1400ff,#0a00ff)"></i><i style="height:2px;background:linear-gradient(90deg,#002bff,#0028ff,#0024ff,#0020ff,#001cff,#0017ff,#0013ff,#000fff,#000bff,#0008ff,#0005ff,#0002ff,#0200ff,#0500ff,#0800ff,#0d00ff,#1200ff,#1900ff,#2000ff,#2800ff,#3100ff,#3a00ff,#4200ff,#4a00ff,#5000ff,#5500ff,#5800ff,#5700ff,#5400ff,#5000ff,#4c00ff,#4500ff,#3a00ff,#3000ff,#2900ff,#2300ff,#1d00ff,#1900ff,#1600ff,#1200ff,#0c00ff,#0500ff)"></i><i style="height:2px;background:linear-gradient(90deg,#0011ff,#000eff,#000aff,#0006ff,#0003ff,#0100ff,#0400ff,#0800ff,#0a00ff,#0d00ff,#1000ff,#1300ff,#1600ff,#1800ff,#1b00ff,#1f00ff,#2400ff,#2a00ff,#3000ff,#3700ff,#3e00ff,#4500ff,#4a00ff,#4e00ff,#5200ff,#5400ff,#5400ff,#5200ff,#4e00ff,#4a00ff,#4500ff,#3e00ff,#3200ff,#2900ff,#2300ff,#1c00ff,#1700ff,#1300ff,#0f00ff,#0a00ff,#0500ff,#0100ff)"></i><i style="height:2px;background:linear-gradient(90deg,#0600ff,#0a00ff,#0d00ff,#1100ff,#1400ff,#1700ff,#1900ff,#1b00ff,#1d00ff,#2000ff,#2200ff,#2500ff,#2800ff,#2900ff,#2b00ff,#2e00ff,#3300ff,#3800ff,#3e00ff,#4300ff,#4a00ff,#4e00ff,#4f00ff,#5000ff,#5100ff,#5100ff,#5000ff,#4c00ff,#4700ff,#4300ff,#3e00ff,#3600ff,#2b00ff,#2300ff,#1c00ff,#1600ff,#1000ff,#0c00ff,#0800ff,#0200ff,#0003ff,#0004ff)"></i><i style="height:2px;background:linear-gradient(90deg,#1c00ff,#1f00ff,#2200ff,#2500ff,#2800ff,#2a00ff,#2c00ff,#2d00ff,#2e00ff,#3000ff,#3200ff,#3500ff,#3800ff,#3800ff,#3800ff,#3b00ff,#3f00ff,#4500ff,#4900ff,#4e00ff,#5300ff,#5500ff,#5200ff,#5000ff,#4f00ff,#4d00ff,#4b00ff,#4600ff,#4100ff,#3c00ff,#3700ff,#2f00ff,#2400ff,#1c00ff,#1600ff,#1000ff,#0a00ff,#0500ff,#0000ff,#0006ff,#000bff,#000aff)"></i><i style="height:2px;background:linear-gradient(90deg,#2f00ff,#3100ff,#3400ff,#3600ff,#3900ff,#3c00ff,#3c00ff,#3b00ff,#3c00ff,#3e00ff,#4000ff,#4200ff,#4500ff,#4400ff,#4400ff,#4600ff,#4a00ff,#4f00ff,#5200ff,#5600ff,#5a00ff,#5900ff,#5300ff,#4e00ff,#4b00ff,#4900ff,#4500ff,#3f00ff,#3a00ff,#3500ff,#2f00ff,#2700ff,#1d00ff,#1600ff,#1000ff,#0900ff,#0300ff,#0002ff,#0008ff,#000eff,#0013ff,#0011ff)"></i><i style="height:2px;background:linear-gradient(90deg,#3f00ff,#4100ff,#4300ff,#4500ff,#4800ff,#4b00ff,#4a00ff,#4800ff,#4800ff,#4900ff,#4a00ff,#4d00ff,#5000ff,#4e00ff,#4d00ff,#4e00ff,#5100ff,#5600ff,#5900ff,#5b00ff,#5e00ff,#5b00ff,#5200ff,#4b00ff,#4700ff,#4300ff,#3f00ff,#3900ff,#3300ff,#2e00ff,#2800ff,#2000ff,#1700ff,#0f00ff,#0900ff,#0300ff,#0004ff,#000aff,#0010ff,#0017ff,#001cff,#001aff)"></i><i style="height:2px;background:linear-gradient(90deg,#4c00ff,#4d00ff,#4e00ff,#5100ff,#5400ff,#5700ff,#5500ff,#5200ff,#5000ff,#5100ff,#5200ff,#5500ff,#5800ff,#5600ff,#5300ff,#5400ff,#5600ff,#5b00ff,#5d00ff,#5e00ff,#6000ff,#5b00ff,#5000ff,#4700ff,#4200ff,#3e00ff,#3900ff,#3300ff,#2c00ff,#2700ff,#2100ff,#1900ff,#1000ff,#0900ff,#0200ff,#0004ff,#000bff,#0011ff,#0018ff,#001fff,#0025ff,#0024ff)"></i><i style="height:2px;background:linear-gradient(90deg,#5500ff,#5600ff,#5700ff,#5a00ff,#5e00ff,#6000ff,#5e00ff,#5900ff,#5700ff,#5700ff,#5700ff,#5b00ff,#5e00ff,#5b00ff,#5800ff,#5700ff,#5900ff,#5e00ff,#5f00ff,#5f00ff,#6000ff,#5900ff,#4d00ff,#4300ff,#3d00ff,#3800ff,#3300ff,#2d00ff,#2600ff,#2000ff,#1900ff,#1100ff,#0900ff,#0200ff,#0004ff,#000bff,#0012ff,#0019ff,#0020ff,#0027ff,#002eff,#0031ff)"></i><i style="height:2px;background:linear-gradient(90deg,#5c00ff,#5c00ff,#5d00ff,#6000ff,#6400ff,#6700ff,#6400ff,#5e00ff,#5a00ff,#5a00ff,#5a00ff,#5e00ff,#6100ff,#5d00ff,#5a00ff,#5900ff,#5a00ff,#5e00ff,#5f00ff,#5e00ff,#5e00ff,#5600ff,#4900ff,#3e00ff,#3700ff,#3300ff,#2e00ff,#2700ff,#1f00ff,#1900ff,#1200ff,#0a00ff,#0200ff,#0005ff,#000bff,#0012ff,#0019ff,#0020ff,#0027ff,#002fff,#0038ff,#003eff)"></i><i style="height:2px;background:linear-gradient(90deg,#6000ff,#6000ff,#6100ff,#6400ff,#6800ff,#6a00ff,#6700ff,#6100ff,#5c00ff,#5b00ff,#5c00ff,#5f00ff,#6200ff,#5e00ff,#5a00ff,#5800ff,#5900ff,#5c00ff,#5d00ff,#5c00ff,#5b00ff,#5300ff,#4400ff,#3900ff,#3200ff,#2d00ff,#2800ff,#2100ff,#1900ff,#1200ff,#0b00ff,#0300ff,#0005ff,#000bff,#0012ff,#0019ff,#0021ff,#0028ff,#002fff,#0038ff,#0041ff,#004bff)"></i><i style="height:2px;background:linear-gradient(90deg,#6200ff,#6200ff,#6300ff,#6600ff,#6a00ff,#6c00ff,#6900ff,#6200ff,#5d00ff,#5b00ff,#5b00ff,#5f00ff,#6100ff,#5d00ff,#5900ff,#5700ff,#5700ff,#5a00ff,#5a00ff,#5900ff,#5800ff,#4e00ff,#4000ff,#3400ff,#2d00ff,#2700ff,#2200ff,#1a00ff,#1300ff,#0c00ff,#0400ff,#0004ff,#000bff,#0012ff,#0019ff,#0020ff,#0028ff,#0030ff,#0037ff,#0040ff,#004aff,#0057ff)"></i><i style="height:2px;background:linear-gradient(90deg,#6200ff,#6200ff,#6400ff,#6600ff,#6900ff,#6b00ff,#6900ff,#6200ff,#5d00ff,#5a00ff,#5a00ff,#5e00ff,#5f00ff,#5b00ff,#5700ff,#5500ff,#5400ff,#5600ff,#5700ff,#5600ff,#5300ff,#4900ff,#3b00ff,#2f00ff,#2700ff,#2200ff,#1c00ff,#1400ff,#0d00ff,#0500ff,#0003ff,#000bff,#0012ff,#0019ff,#0020ff,#0028ff,#002fff,#0037ff,#003fff,#0048ff,#0053ff,#0061ff)"></i><i style="height:2px;background:linear-gradient(90deg,#6100ff,#6100ff,#6300ff,#6500ff,#6800ff,#6900ff,#6700ff,#6200ff,#5c00ff,#5900ff,#5900ff,#5c00ff,#5d00ff,#5800ff,#5500ff,#5200ff,#5100ff,#5200ff,#5300ff,#5200ff,#4e00ff,#4400ff,#3600ff,#2a00ff,#2200ff,#1c00ff,#1600ff,#0e00ff,#0700ff,#0001ff,#0009ff,#0011ff,#0019ff,#0020ff,#0027ff,#002fff,#0037ff,#003fff,#0047ff,#0050ff,#005bff,#006aff)"></i><i style="height:2px;background:linear-gradient(90deg,#6000ff,#6000ff,#6200ff,#6300ff,#6500ff,#6600ff,#6500ff,#6100ff,#5b00ff,#5700ff,#5700ff,#5900ff,#5a00ff,#5600ff,#5200ff,#5000ff,#4e00ff,#4e00ff,#4f00ff,#4e00ff,#4900ff,#3e00ff,#3100ff,#2500ff,#1d00ff,#1600ff,#1000ff,#0800ff,#0000ff,#0008ff,#0010ff,#0018ff,#0020ff,#0027ff,#002eff,#0036ff,#003eff,#0046ff,#004fff,#0058ff,#0063ff,#0071ff)"></i><i style="height:2px;background:linear-gradient(90deg,#5e00ff,#5e00ff,#5f00ff,#6100ff,#6200ff,#6300ff,#6200ff,#5f00ff,#5900ff,#5500ff,#5500ff,#5700ff,#5700ff,#5300ff,#5000ff,#4d00ff,#4b00ff,#4b00ff,#4b00ff,#4900ff,#4300ff,#3800ff,#2b00ff,#2000ff,#1700ff,#1100ff,#0a00ff,#0200ff,#0006ff,#000eff,#0016ff,#001fff,#0027ff,#002eff,#0035ff,#003dff,#0046ff,#004eff,#0057ff,#0060ff,#006bff,#0076ff)"></i><i style="height:2px;background:linear-gradient(90deg,#5b00ff,#5b00ff,#5d00ff,#5e00ff,#5f00ff,#5f00ff,#5f00ff,#5c00ff,#5800ff,#5400ff,#5300ff,#5400ff,#5400ff,#5000ff,#4d00ff,#4a00ff,#4800ff,#4700ff,#4700ff,#4500ff,#3e00ff,#3200ff,#2600ff,#1b00ff,#1200ff,#0b00ff,#0400ff,#0004ff,#000cff,#0014ff,#001dff,#0025ff,#002dff,#0035ff,#003dff,#0045ff,#004dff,#0056ff,#005fff,#0068ff,#0072ff,#007bff)"></i><i style="height:2px;background:linear-gradient(90deg,#5700ff,#5800ff,#5a00ff,#5a00ff,#5b00ff,#5b00ff,#5b00ff,#5a00ff,#5600ff,#5200ff,#5100ff,#5200ff,#5100ff,#4d00ff,#4a00ff,#4800ff,#4500ff,#4400ff,#4300ff,#4000ff,#3800ff,#2c00ff,#2000ff,#1500ff,#0d00ff,#0500ff,#0002ff,#000bff,#0012ff,#001aff,#0023ff,#002cff,#0034ff,#003cff,#0044ff,#004cff,#0054ff,#005dff,#0066ff,#0070ff,#0079ff,#007fff)"></i><i style="height:2px;background:linear-gradient(90deg,#5300ff,#5500ff,#5600ff,#5700ff,#5700ff,#5700ff,#5700ff,#5700ff,#5400ff,#5000ff,#4f00ff,#4f00ff,#4d00ff,#4a00ff,#4700ff,#4500ff,#4200ff,#4000ff,#3f00ff,#3c00ff,#3200ff,#2600ff,#1a00ff,#1000ff,#0700ff,#0000ff,#0009ff,#0011ff,#0019ff,#0020ff,#0029ff,#0032ff,#003bff,#0043ff,#004bff,#0053ff,#005bff,#0064ff,#006eff,#0078ff,#0080ff,#0083ff)"></i><i style="height:2px;background:linear-gradient(90deg,#5000ff,#5200ff,#5300ff,#5300ff,#5300ff,#5300ff,#5300ff,#5300ff,#5100ff,#4e00ff,#4c00ff,#4c00ff,#4a00ff,#4700ff,#4500ff,#4200ff,#3f00ff,#3d00ff,#3b00ff,#3700ff,#2c00ff,#1f00ff,#1400ff,#0a00ff,#0200ff,#0006ff,#000fff,#0017ff,#001fff,#0027ff,#0030ff,#0039ff,#0041ff,#0049ff,#0052ff,#005aff,#0063ff,#006cff,#0075ff,#007fff,#0087ff,#0087ff)"></i><i style="height:2px;background:linear-gradient(90deg,#4c00ff,#4e00ff,#4f00ff,#4f00ff,#4f00ff,#4f00ff,#4f00ff,#4f00ff,#4e00ff,#4c00ff,#4a00ff,#4900ff,#4700ff,#4400ff,#4100ff,#3f00ff,#3c00ff,#3900ff,#3700ff,#3200ff,#2600ff,#1900ff,#0e00ff,#0500ff,#0003ff,#000cff,#0015ff,#001eff,#0026ff,#002dff,#0036ff,#003fff,#0048ff,#0050ff,#0059ff,#0061ff,#006aff,#0073ff,#007dff,#0087ff,#008eff,#008cff)"></i><i style="height:2px;background:linear-gradient(90deg,#4900ff,#4b00ff,#4b00ff,#4b00ff,#4b00ff,#4b00ff,#4b00ff,#4b00ff,#4b00ff,#4900ff,#4700ff,#4600ff,#4400ff,#4100ff,#3e00ff,#3b00ff,#3800ff,#3500ff,#3200ff,#2c00ff,#2000ff,#1200ff,#0800ff,#0001ff,#0009ff,#0012ff,#001bff,#0025ff,#002cff,#0033ff,#003cff,#0046ff,#004fff,#0057ff,#005fff,#0068ff,#0071ff,#007aff,#0084ff,#008eff,#0096ff,#0093ff)"></i><i style="height:2px;background:linear-gradient(90deg,#4600ff,#4800ff,#4800ff,#4700ff,#4700ff,#4700ff,#4700ff,#4700ff,#4700ff,#4600ff,#4500ff,#4300ff,#4100ff,#3d00ff,#3a00ff,#3700ff,#3400ff,#3100ff,#2e00ff,#2700ff,#1a00ff,#0c00ff,#0200ff,#0006ff,#000eff,#0017ff,#0022ff,#002bff,#0033ff,#0039ff,#0042ff,#004cff,#0055ff,#005eff,#0066ff,#006fff,#0078ff,#0082ff,#008cff,#0096ff,#009dff,#009bff)"></i><i style="height:2px;background:linear-gradient(90deg,#4300ff,#4500ff,#4400ff,#4300ff,#4300ff,#4300ff,#4300ff,#4300ff,#4300ff,#4300ff,#4200ff,#4000ff,#3d00ff,#3900ff,#3600ff,#3300ff,#3000ff,#2c00ff,#2800ff,#2100ff,#1300ff,#0600ff,#0004ff,#000cff,#0014ff,#001dff,#0028ff,#0032ff,#0039ff,#0040ff,#0048ff,#0052ff,#005cff,#0065ff,#006dff,#0076ff,#007fff,#0089ff,#0093ff,#009dff,#00a5ff,#00a5ff)"></i><i style="height:2px;background:linear-gradient(90deg,#4100ff,#4100ff,#4100ff,#4000ff,#3f00ff,#3f00ff,#3f00ff,#3f00ff,#3f00ff,#3f00ff,#3e00ff,#3c00ff,#3900ff,#3500ff,#3200ff,#2e00ff,#2b00ff,#2700ff,#2300ff,#1b00ff,#0d00ff,#0000ff,#000aff,#0012ff,#0019ff,#0022ff,#002eff,#0038ff,#0040ff,#0046ff,#004eff,#0058ff,#0062ff,#006bff,#0074ff,#007dff,#0087ff,#0090ff,#009aff,#00a5ff,#00aeff,#00b0ff)"></i><i style="height:2px;background:linear-gradient(90deg,#3f00ff,#3f00ff,#3d00ff,#3c00ff,#3b00ff,#3b00ff,#3b00ff,#3b00ff,#3b00ff,#3b00ff,#3b00ff,#3800ff,#3400ff,#3100ff,#2d00ff,#2900ff,#2600ff,#2200ff,#1e00ff,#1500ff,#0700ff,#0006ff,#000fff,#0017ff,#001fff,#0028ff,#0033ff,#003fff,#0046ff,#004cff,#0054ff,#005eff,#0069ff,#0072ff,#007bff,#0084ff,#008eff,#0097ff,#00a2ff,#00acff,#00b6ff,#00bdff)"></i><i style="height:2px;background:linear-gradient(90deg,#3e00ff,#3c00ff,#3a00ff,#3900ff,#3800ff,#3700ff,#3700ff,#3700ff,#3700ff,#3700ff,#3700ff,#3400ff,#3000ff,#2c00ff,#2800ff,#2400ff,#2000ff,#1c00ff,#1800ff,#0f00ff,#0100ff,#000bff,#0015ff,#001dff,#0024ff,#002dff,#0039ff,#0045ff,#004dff,#0053ff,#005aff,#0065ff,#006fff,#0079ff,#0082ff,#008bff,#0095ff,#009fff,#00a9ff,#00b3ff,#00bfff,#00caff)"></i><i style="height:2px;background:linear-gradient(90deg,#3c00ff,#3900ff,#3700ff,#3600ff,#3400ff,#3300ff,#3300ff,#3300ff,#3300ff,#3300ff,#3300ff,#3000ff,#2b00ff,#2700ff,#2200ff,#1e00ff,#1a00ff,#1600ff,#1200ff,#0900ff,#0005ff,#0011ff,#001aff,#0022ff,#002aff,#0033ff,#003fff,#004bff,#0053ff,#0059ff,#0060ff,#006bff,#0076ff,#007fff,#0089ff,#0092ff,#009cff,#00a6ff,#00b0ff,#00bbff,#00c7ff,#00d5ff)"></i><i style="height:2px;background:linear-gradient(90deg,#3a00ff,#3700ff,#3500ff,#3300ff,#3100ff,#3000ff,#2f00ff,#2f00ff,#2f00ff,#2f00ff,#2f00ff,#2c00ff,#2700ff,#2100ff,#1d00ff,#1900ff,#1500ff,#1100ff,#0c00ff,#0400ff,#000aff,#0016ff,#0020ff,#0027ff,#002fff,#0038ff,#0044ff,#0051ff,#005aff,#005fff,#0066ff,#0071ff,#007cff,#0086ff,#0090ff,#0099ff,#00a3ff,#00adff,#00b7ff,#00c2ff,#00cfff,#00dfff)"></i><i style="height:2px;background:linear-gradient(90deg,#3700ff,#3500ff,#3200ff,#3000ff,#2e00ff,#2d00ff,#2c00ff,#2b00ff,#2b00ff,#2b00ff,#2a00ff,#2700ff,#2200ff,#1c00ff,#1700ff,#1300ff,#0f00ff,#0b00ff,#0600ff,#0002ff,#0010ff,#001cff,#0025ff,#002dff,#0035ff,#003dff,#0049ff,#0057ff,#0060ff,#0065ff,#006cff,#0077ff,#0082ff,#008dff,#0096ff,#00a0ff,#00aaff,#00b4ff,#00beff,#00c9ff,#00d6ff,#00e7ff)"></i><i style="height:2px;background:linear-gradient(90deg,#3500ff,#3300ff,#3000ff,#2e00ff,#2c00ff,#2a00ff,#2800ff,#2700ff,#2700ff,#2700ff,#2600ff,#2300ff,#1d00ff,#1800ff,#1200ff,#0d00ff,#0900ff,#0500ff,#0000ff,#0008ff,#0015ff,#0021ff,#002aff,#0032ff,#003aff,#0043ff,#004fff,#005cff,#0066ff,#006bff,#0072ff,#007dff,#0089ff,#0093ff,#009dff,#00a7ff,#00b1ff,#00bbff,#00c6ff,#00d0ff,#00ddff,#00edff)"></i><i style="height:2px;background:linear-gradient(90deg,#3300ff,#3100ff,#2e00ff,#2c00ff,#2900ff,#2700ff,#2500ff,#2400ff,#2300ff,#2300ff,#2200ff,#1e00ff,#1900ff,#1300ff,#0d00ff,#0800ff,#0300ff,#0001ff,#0006ff,#000eff,#001aff,#0026ff,#0030ff,#0038ff,#003fff,#0048ff,#0054ff,#0062ff,#006bff,#0070ff,#0077ff,#0083ff,#008fff,#009aff,#00a4ff,#00aeff,#00b8ff,#00c2ff,#00cdff,#00d8ff,#00e4ff,#00f2ff)"></i><i style="height:2px;background:linear-gradient(90deg,#3000ff,#2f00ff,#2c00ff,#2900ff,#2700ff,#2500ff,#2300ff,#2100ff,#2000ff,#1f00ff,#1e00ff,#1a00ff,#1400ff,#0e00ff,#0800ff,#0300ff,#0002ff,#0007ff,#000cff,#0013ff,#001fff,#002bff,#0035ff,#003dff,#0045ff,#004dff,#0059ff,#0066ff,#0070ff,#0075ff,#007cff,#0089ff,#0095ff,#00a0ff,#00abff,#00b5ff,#00bfff,#00c9ff,#00d4ff,#00dfff,#00eaff,#00f7ff)"></i><i style="height:2px;background:linear-gradient(90deg,#2e00ff,#2d00ff,#2a00ff,#2800ff,#2500ff,#2200ff,#2000ff,#1e00ff,#1c00ff,#1b00ff,#1a00ff,#1600ff,#1000ff,#0a00ff,#0300ff,#0002ff,#0008ff,#000cff,#0011ff,#0019ff,#0025ff,#0030ff,#003aff,#0043ff,#004aff,#0053ff,#005eff,#006bff,#0074ff,#0079ff,#0081ff,#008eff,#009cff,#00a7ff,#00b1ff,#00bcff,#00c6ff,#00d0ff,#00dbff,#00e6ff,#00f1ff,#00faff)"></i><i style="height:2px;background:linear-gradient(90deg,#2c00ff,#2b00ff,#2800ff,#2600ff,#2300ff,#2000ff,#1e00ff,#1c00ff,#1a00ff,#1800ff,#1600ff,#1200ff,#0b00ff,#0500ff,#0001ff,#0007ff,#000dff,#0012ff,#0017ff,#001fff,#002aff,#0035ff,#003fff,#0048ff,#0050ff,#0058ff,#0062ff,#006fff,#0077ff,#007cff,#0085ff,#0094ff,#00a2ff,#00aeff,#00b8ff,#00c2ff,#00cdff,#00d7ff,#00e2ff,#00edff,#00f7ff,#00fdff)"></i><i style="height:2px;background:linear-gradient(90deg,#2a00ff,#2900ff,#2700ff,#2400ff,#2100ff,#1f00ff,#1c00ff,#1900ff,#1700ff,#1500ff,#1200ff,#0d00ff,#0700ff,#0100ff,#0006ff,#000cff,#0012ff,#0017ff,#001cff,#0024ff,#002fff,#003aff,#0045ff,#004dff,#0055ff,#005dff,#0067ff,#0073ff,#007aff,#007eff,#0088ff,#0099ff,#00a8ff,#00b4ff,#00bfff,#00c9ff,#00d4ff,#00dfff,#00e9ff,#00f4ff,#00fdff,#00fffd)"></i><i style="height:2px;background:linear-gradient(90deg,#2900ff,#2800ff,#2500ff,#2200ff,#2000ff,#1d00ff,#1a00ff,#1800ff,#1500ff,#1200ff,#0f00ff,#0900ff,#0300ff,#0004ff,#000aff,#0010ff,#0016ff,#001cff,#0022ff,#0029ff,#0034ff,#003fff,#004aff,#0053ff,#005aff,#0062ff,#006bff,#0076ff,#007cff,#0080ff,#008cff,#009eff,#00afff,#00bbff,#00c5ff,#00d0ff,#00dbff,#00e6ff,#00f0ff,#00faff,#00fffb,#00fff9)"></i><i style="height:2px;background:linear-gradient(90deg,#2900ff,#2700ff,#2400ff,#2100ff,#1e00ff,#1c00ff,#1900ff,#1600ff,#1300ff,#0f00ff,#0b00ff,#0500ff,#0001ff,#0008ff,#000eff,#0015ff,#001bff,#0021ff,#0027ff,#002eff,#0039ff,#0044ff,#004fff,#0058ff,#0060ff,#0067ff,#006fff,#0078ff,#007dff,#0082ff,#008fff,#00a3ff,#00b5ff,#00c1ff,#00ccff,#00d7ff,#00e2ff,#00edff,#00f7ff,#00fffd,#00fff5,#00fff5)"></i><i style="height:2px;background:linear-gradient(90deg,#2900ff,#2600ff,#2200ff,#2000ff,#1d00ff,#1a00ff,#1700ff,#1400ff,#1100ff,#0d00ff,#0800ff,#0200ff,#0005ff,#000cff,#0013ff,#0019ff,#0020ff,#0026ff,#002cff,#0033ff,#003eff,#004aff,#0054ff,#005dff,#0064ff,#006bff,#0072ff,#007aff,#007eff,#0083ff,#0091ff,#00a8ff,#00bbff,#00c8ff,#00d2ff,#00deff,#00e9ff,#00f5ff,#00feff,#00fff6,#00ffef,#00ffef)"></i><i style="height:2px;background:linear-gradient(90deg,#2a00ff,#2500ff,#2100ff,#1f00ff,#1c00ff,#1900ff,#1600ff,#1300ff,#0f00ff,#0a00ff,#0500ff,#0002ff,#0009ff,#0010ff,#0017ff,#001eff,#0024ff,#002aff,#0030ff,#0038ff,#0043ff,#004fff,#0059ff,#0062ff,#0069ff,#006fff,#0075ff,#007bff,#007fff,#0084ff,#0094ff,#00adff,#00c1ff,#00ceff,#00d9ff,#00e5ff,#00f1ff,#00fcff,#00fff8,#00fff0,#00ffe9,#00ffe9)"></i><i style="height:2px;background:linear-gradient(90deg,#2c00ff,#2500ff,#2000ff,#1d00ff,#1b00ff,#1800ff,#1500ff,#1100ff,#0c00ff,#0700ff,#0100ff,#0006ff,#000dff,#0014ff,#001bff,#0022ff,#0028ff,#002fff,#0035ff,#003dff,#0048ff,#0053ff,#005eff,#0067ff,#006dff,#0072ff,#0077ff,#007cff,#007fff,#0085ff,#0097ff,#00b1ff,#00c6ff,#00d4ff,#00dfff,#00ecff,#00f9ff,#00fffa,#00fff1,#00ffe9,#00ffe2,#00ffe1)"></i><i style="height:2px;background:linear-gradient(90deg,#2e00ff,#2500ff,#2000ff,#1d00ff,#1a00ff,#1700ff,#1300ff,#0f00ff,#0a00ff,#0400ff,#0002ff,#0009ff,#0011ff,#0018ff,#001fff,#0026ff,#002dff,#0033ff,#0039ff,#0042ff,#004dff,#0058ff,#0063ff,#006cff,#0071ff,#0074ff,#0078ff,#007cff,#007fff,#0085ff,#0099ff,#00b5ff,#00ccff,#00daff,#00e6ff,#00f3ff,#00fffd,#00fff2,#00ffe9,#00ffe2,#00ffdc,#00ffd9)"></i><i style="height:2px;background:linear-gradient(90deg,#2f00ff,#2500ff,#1f00ff,#1c00ff,#1900ff,#1500ff,#1100ff,#0d00ff,#0700ff,#0100ff,#0005ff,#000dff,#0014ff,#001cff,#0023ff,#002aff,#0031ff,#0037ff,#003eff,#0047ff,#0052ff,#005dff,#0068ff,#0070ff,#0074ff,#0076ff,#0078ff,#007cff,#007fff,#0086ff,#009cff,#00b9ff,#00d1ff,#00e0ff,#00ecff,#00faff,#00fff5,#00ffe9,#00ffe2,#00ffdb,#00ffd5,#00ffd2)"></i><i style="height:2px;background:linear-gradient(90deg,#3000ff,#2500ff,#1e00ff,#1b00ff,#1800ff,#1400ff,#1000ff,#0a00ff,#0500ff,#0002ff,#0008ff,#0010ff,#0018ff,#0020ff,#0027ff,#002eff,#0035ff,#003bff,#0042ff,#004bff,#0056ff,#0061ff,#006cff,#0073ff,#0076ff,#0076ff,#0078ff,#007bff,#007fff,#0087ff,#009eff,#00bcff,#00d6ff,#00e6ff,#00f2ff,#00fffd,#00ffed,#00ffe1,#00ffda,#00ffd4,#00ffcf,#00ffca)"></i><i style="height:2px;background:linear-gradient(90deg,#2e00ff,#2400ff,#1d00ff,#1a00ff,#1600ff,#1200ff,#0d00ff,#0800ff,#0200ff,#0004ff,#000bff,#0012ff,#001bff,#0023ff,#002bff,#0032ff,#0039ff,#003fff,#0045ff,#004fff,#005aff,#0065ff,#0070ff,#0076ff,#0077ff,#0077ff,#0078ff,#007bff,#007eff,#0088ff,#00a0ff,#00c0ff,#00daff,#00ebff,#00f8ff,#00fff7,#00ffe5,#00ffd9,#00ffd2,#00ffcd,#00ffc9,#00ffc4)"></i><i style="height:2px;background:linear-gradient(90deg,#2b00ff,#2300ff,#1c00ff,#1800ff,#1500ff,#1000ff,#0b00ff,#0500ff,#0001ff,#0007ff,#000dff,#0015ff,#001dff,#0026ff,#002eff,#0036ff,#003dff,#0043ff,#0049ff,#0053ff,#005eff,#0068ff,#0073ff,#0078ff,#0078ff,#0076ff,#0077ff,#007aff,#007eff,#0088ff,#00a2ff,#00c2ff,#00deff,#00efff,#00fcff,#00fff1,#00ffde,#00ffd1,#00ffca,#00ffc5,#00ffc3,#00ffbf)"></i><i style="height:2px;background:linear-gradient(90deg,#2500ff,#2000ff,#1b00ff,#1700ff,#1300ff,#0e00ff,#0900ff,#0300ff,#0003ff,#0009ff,#000fff,#0017ff,#001fff,#0028ff,#0030ff,#0039ff,#0040ff,#0046ff,#004cff,#0056ff,#0060ff,#006aff,#0075ff,#007aff,#0078ff,#0076ff,#0077ff,#007aff,#007eff,#0089ff,#00a3ff,#00c4ff,#00e1ff,#00f3ff,#00fffd,#00ffec,#00ffd8,#00ffca,#00ffc2,#00ffbe,#00ffbd,#00ffbb)"></i><i style="height:2px;background:linear-gradient(90deg,#1e00ff,#1c00ff,#1900ff,#1500ff,#1100ff,#0c00ff,#0600ff,#0000ff,#0005ff,#000bff,#0011ff,#0018ff,#0020ff,#002aff,#0033ff,#003bff,#0043ff,#0049ff,#004eff,#0057ff,#0061ff,#006cff,#0076ff,#007aff,#0078ff,#0076ff,#0076ff,#0079ff,#007dff,#0089ff,#00a3ff,#00c5ff,#00e3ff,#00f6ff,#00fffa,#00ffe8,#00ffd3,#00ffc4,#00ffba,#00ffb6,#00ffb8,#00ffb8)"></i><i style="height:2px;background:linear-gradient(90deg,#1500ff,#1800ff,#1600ff,#1200ff,#0e00ff,#0900ff,#0300ff,#0002ff,#0008ff,#000dff,#0012ff,#0019ff,#0021ff,#002bff,#0034ff,#003dff,#0046ff,#004bff,#004fff,#0057ff,#0060ff,#006bff,#0077ff,#007bff,#0078ff,#0076ff,#0076ff,#0079ff,#007dff,#0088ff,#00a3ff,#00c6ff,#00e4ff,#00f7ff,#00fff8,#00ffe5,#00ffcf,#00ffbe,#00ffb3,#00ffaf,#00ffb2,#00ffb5)"></i><i style="height:2px;background:linear-gradient(90deg,#0d00ff,#1300ff,#1400ff,#1000ff,#0b00ff,#0500ff,#0000ff,#0005ff,#000aff,#000fff,#0014ff,#0019ff,#0022ff,#002cff,#0036ff,#003fff,#0048ff,#004dff,#0050ff,#0055ff,#005eff,#006aff,#0077ff,#007bff,#0078ff,#0075ff,#0076ff,#0079ff,#007dff,#0088ff,#00a2ff,#00c5ff,#00e4ff,#00f8ff,#00fff7,#00ffe3,#00ffcc,#00ffba,#00ffad,#00ffa9,#00ffad,#00ffb2)"></i><i style="height:2px;background:linear-gradient(90deg,#0600ff,#0e00ff,#1000ff,#0c00ff,#0700ff,#0200ff,#0003ff,#0008ff,#000dff,#0012ff,#0015ff,#001aff,#0022ff,#002cff,#0036ff,#0040ff,#0049ff,#004eff,#004fff,#0052ff,#005aff,#0068ff,#0076ff,#007aff,#0077ff,#0075ff,#0076ff,#0079ff,#007dff,#0087ff,#00a1ff,#00c4ff,#00e2ff,#00f7ff,#00fff6,#00ffe2,#00ffcb,#00ffb6,#00ffa8,#00ffa3,#00ffa9,#00ffae)"></i><i style="height:2px;background:linear-gradient(90deg,#0000ff,#0900ff,#0d00ff,#0800ff,#0200ff,#0003ff,#0007ff,#000cff,#0011ff,#0015ff,#0018ff,#001bff,#0022ff,#002cff,#0037ff,#0041ff,#004bff,#004fff,#004eff,#004eff,#0055ff,#0065ff,#0075ff,#007aff,#0077ff,#0075ff,#0076ff,#0079ff,#007cff,#0086ff,#00a0ff,#00c2ff,#00e0ff,#00f5ff,#00fff6,#00ffe1,#00ffca,#00ffb3,#00ffa3,#00ff9d,#00ffa4,#00ffaa)"></i><i style="height:2px;background:linear-gradient(90deg,#0004ff,#0600ff,#0900ff,#0400ff,#0002ff,#0007ff,#000cff,#0011ff,#0015ff,#0019ff,#001aff,#001cff,#0023ff,#002dff,#0038ff,#0042ff,#004bff,#004fff,#004cff,#004aff,#0050ff,#0061ff,#0074ff,#0079ff,#0077ff,#0075ff,#0076ff,#0079ff,#007cff,#0086ff,#009eff,#00bfff,#00ddff,#00f3ff,#00fff7,#00ffe1,#00ffc9,#00ffb2,#00ff9f,#00ff99,#00ff9f,#00ffa5)"></i><i style="height:2px;background:linear-gradient(90deg,#0007ff,#0200ff,#0500ff,#0001ff,#0008ff,#000dff,#0011ff,#0016ff,#001aff,#001dff,#001eff,#001eff,#0024ff,#002dff,#0038ff,#0043ff,#004cff,#004eff,#004aff,#0047ff,#004bff,#005eff,#0072ff,#0078ff,#0076ff,#0075ff,#0077ff,#0079ff,#007cff,#0085ff,#009cff,#00bcff,#00d9ff,#00f0ff,#00fff8,#00ffe2,#00ffc9,#00ffb0,#00ff9d,#00ff95,#00ff9b,#00ff9f)"></i><i style="height:2px;background:linear-gradient(90deg,#0009ff,#0000ff,#0200ff,#0006ff,#000dff,#0012ff,#0017ff,#001bff,#0020ff,#0022ff,#0021ff,#0020ff,#0025ff,#002eff,#0039ff,#0043ff,#004cff,#004dff,#0048ff,#0044ff,#0047ff,#005aff,#0071ff,#0078ff,#0076ff,#0075ff,#0077ff,#0079ff,#007cff,#0084ff,#0099ff,#00b8ff,#00d5ff,#00eeff,#00fffa,#00ffe2,#00ffc9,#00ffb0,#00ff9a,#00ff92,#00ff97,#00ff99)"></i><i style="height:2px;background:linear-gradient(90deg,#000bff,#0003ff,#0002ff,#000bff,#0013ff,#0018ff,#001dff,#0021ff,#0025ff,#0028ff,#0025ff,#0022ff,#0026ff,#002fff,#0039ff,#0044ff,#004cff,#004cff,#0046ff,#0041ff,#0044ff,#0057ff,#006fff,#0077ff,#0076ff,#0075ff,#0077ff,#0079ff,#007cff,#0083ff,#0097ff,#00b5ff,#00d1ff,#00ebff,#00fffb,#00ffe3,#00ffc9,#00ffaf,#00ff99,#00ff8f,#00ff93,#00ff94)"></i><i style="height:2px;background:linear-gradient(90deg,#000cff,#0005ff,#0005ff,#000fff,#0018ff,#001eff,#0023ff,#0027ff,#002bff,#002dff,#0029ff,#0025ff,#0027ff,#0030ff,#003aff,#0044ff,#004cff,#004bff,#0045ff,#0040ff,#0042ff,#0055ff,#006dff,#0076ff,#0075ff,#0075ff,#0077ff,#007aff,#007cff,#0082ff,#0095ff,#00b1ff,#00cdff,#00e8ff,#00fffd,#00ffe3,#00ffc9,#00ffaf,#00ff98,#00ff8d,#00ff90,#00ff8f)"></i><i style="height:2px;background:linear-gradient(90deg,#000dff,#0007ff,#0009ff,#0014ff,#001eff,#0024ff,#0029ff,#002eff,#0031ff,#0032ff,#002dff,#0028ff,#0029ff,#0031ff,#003bff,#0045ff,#004bff,#004aff,#0044ff,#0040ff,#0040ff,#0052ff,#006cff,#0076ff,#0075ff,#0076ff,#0078ff,#007aff,#007cff,#0082ff,#0093ff,#00aeff,#00caff,#00e6ff,#00fffe,#00ffe4,#00ffc9,#00ffae,#00ff96,#00ff8b,#00ff8c,#00ff8b)"></i><i style="height:2px;background:linear-gradient(90deg,#000fff,#000aff,#000cff,#0018ff,#0023ff,#002aff,#002fff,#0034ff,#0037ff,#0037ff,#0031ff,#002bff,#002bff,#0032ff,#003cff,#0045ff,#004bff,#0049ff,#0044ff,#0040ff,#0040ff,#0050ff,#006aff,#0075ff,#0075ff,#0076ff,#0078ff,#007aff,#007cff,#0081ff,#0091ff,#00abff,#00c7ff,#00e3ff,#00ffff,#00ffe4,#00ffc9,#00ffae,#00ff95,#00ff88,#00ff89,#00ff87)"></i><i style="height:2px;background:linear-gradient(90deg,#0010ff,#000cff,#0010ff,#001cff,#0028ff,#0030ff,#0036ff,#003aff,#003dff,#003cff,#0035ff,#002eff,#002dff,#0033ff,#003dff,#0046ff,#004bff,#0049ff,#0044ff,#0040ff,#0040ff,#004fff,#0068ff,#0074ff,#0075ff,#0076ff,#0078ff,#007aff,#007cff,#0081ff,#008fff,#00a8ff,#00c5ff,#00e1ff,#00feff,#00ffe4,#00ffc8,#00ffad,#00ff94,#00ff86,#00ff86,#00ff85)"></i><i style="height:2px;background:linear-gradient(90deg,#0013ff,#000fff,#0013ff,#0020ff,#002dff,#0036ff,#003cff,#0040ff,#0043ff,#0041ff,#0039ff,#0032ff,#0030ff,#0035ff,#003eff,#0046ff,#004bff,#0048ff,#0045ff,#0041ff,#0040ff,#004eff,#0066ff,#0073ff,#0075ff,#0076ff,#0078ff,#007aff,#007cff,#0080ff,#008dff,#00a6ff,#00c3ff,#00e0ff,#00fdff,#00ffe4,#00ffc8,#00ffac,#00ff92,#00ff84,#00ff84,#00ff83)"></i><i style="height:2px;background:linear-gradient(90deg,#0015ff,#0011ff,#0017ff,#0024ff,#0031ff,#003bff,#0042ff,#0046ff,#0048ff,#0045ff,#003dff,#0035ff,#0032ff,#0036ff,#003fff,#0047ff,#004aff,#0049ff,#0046ff,#0042ff,#0040ff,#004cff,#0065ff,#0073ff,#0075ff,#0076ff,#0078ff,#007aff,#007cff,#0080ff,#008cff,#00a4ff,#00c1ff,#00deff,#00fcff,#00ffe4,#00ffc7,#00ffab,#00ff90,#00ff81,#00ff81,#00ff82)"></i><i style="height:2px;background:linear-gradient(90deg,#0018ff,#0014ff,#001aff,#0028ff,#0035ff,#0040ff,#0048ff,#004dff,#004eff,#004aff,#0041ff,#0038ff,#0034ff,#0038ff,#0040ff,#0047ff,#004bff,#0049ff,#0047ff,#0044ff,#0041ff,#004cff,#0063ff,#0072ff,#0075ff,#0076ff,#0078ff,#007aff,#007cff,#007fff,#008aff,#00a2ff,#00bfff,#00ddff,#00fbff,#00ffe4,#00ffc6,#00ffa9,#00ff8e,#00ff7e,#00ff7e,#00ff80)"></i><i style="height:2px;background:linear-gradient(90deg,#001bff,#0017ff,#001eff,#002cff,#003aff,#0045ff,#004eff,#0052ff,#0053ff,#004eff,#0045ff,#003cff,#0037ff,#0039ff,#0040ff,#0047ff,#004bff,#004aff,#0048ff,#0045ff,#0041ff,#004bff,#0062ff,#0071ff,#0074ff,#0076ff,#0078ff,#007aff,#007cff,#007fff,#0089ff,#00a0ff,#00bdff,#00dcff,#00fbff,#00ffe4,#00ffc6,#00ffa8,#00ff8c,#00ff7b,#00ff7c,#00ff7f)"></i><i style="height:2px;background:linear-gradient(90deg,#001eff,#001aff,#0021ff,#002fff,#003eff,#004aff,#0053ff,#0058ff,#0058ff,#0052ff,#0049ff,#003fff,#0039ff,#003bff,#0041ff,#0047ff,#004bff,#004bff,#004aff,#0046ff,#0042ff,#004aff,#0061ff,#0070ff,#0074ff,#0076ff,#0078ff,#0079ff,#007bff,#007eff,#0088ff,#009eff,#00bcff,#00dbff,#00faff,#00ffe4,#00ffc5,#00ffa6,#00ff8a,#00ff79,#00ff79,#00ff7e)"></i><i style="height:2px;background:linear-gradient(90deg,#0022ff,#001dff,#0025ff,#0033ff,#0042ff,#004fff,#0059ff,#005eff,#005dff,#0056ff,#004cff,#0042ff,#003cff,#003cff,#0041ff,#0047ff,#004bff,#004cff,#004bff,#0048ff,#0042ff,#004aff,#0060ff,#006fff,#0073ff,#0075ff,#0077ff,#0078ff,#007aff,#007dff,#0086ff,#009dff,#00baff,#00d9ff,#00f9ff,#00ffe5,#00ffc4,#00ffa5,#00ff88,#00ff76,#00ff76,#00ff7d)"></i><i style="height:2px;background:linear-gradient(90deg,#0024ff,#0020ff,#0029ff,#0037ff,#0045ff,#0053ff,#005eff,#0063ff,#0061ff,#0059ff,#004fff,#0045ff,#003eff,#003cff,#0041ff,#0047ff,#004bff,#004dff,#004dff,#0049ff,#0042ff,#004aff,#005fff,#006eff,#0072ff,#0074ff,#0076ff,#0077ff,#0078ff,#007bff,#0085ff,#009bff,#00b9ff,#00d8ff,#00f8ff,#00ffe5,#00ffc3,#00ffa3,#00ff86,#00ff73,#00ff73,#00ff7c)"></i><i style="height:2px;background:linear-gradient(90deg,#0027ff,#0023ff,#002cff,#003aff,#0049ff,#0057ff,#0063ff,#0068ff,#0065ff,#005cff,#0052ff,#0047ff,#003fff,#003cff,#0040ff,#0046ff,#004bff,#004eff,#004eff,#004aff,#0043ff,#0049ff,#005dff,#006cff,#0071ff,#0073ff,#0074ff,#0075ff,#0076ff,#007aff,#0083ff,#009aff,#00b8ff,#00d7ff,#00f8ff,#00ffe5,#00ffc3,#00ffa2,#00ff84,#00ff70,#00ff71,#00ff7b)"></i><i style="height:2px;background:linear-gradient(90deg,#0029ff,#0026ff,#0030ff,#003eff,#004dff,#005bff,#0067ff,#006cff,#0069ff,#005fff,#0054ff,#0049ff,#0040ff,#003cff,#003fff,#0046ff,#004bff,#004eff,#004fff,#004bff,#0043ff,#0049ff,#005bff,#006aff,#006fff,#0070ff,#0071ff,#0072ff,#0074ff,#0078ff,#0082ff,#0098ff,#00b6ff,#00d6ff,#00f7ff,#00ffe5,#00ffc2,#00ffa0,#00ff81,#00ff6d,#00ff6e,#00ff7a)"></i><i style="height:2px;background:linear-gradient(90deg,#002aff,#0029ff,#0033ff,#0042ff,#0051ff,#005fff,#006bff,#0070ff,#006bff,#0061ff,#0055ff,#004aff,#0040ff,#003bff,#003dff,#0045ff,#004bff,#004fff,#0050ff,#004cff,#0044ff,#0048ff,#0059ff,#0067ff,#006cff,#006dff,#006eff,#006fff,#0071ff,#0075ff,#0080ff,#0097ff,#00b5ff,#00d5ff,#00f6ff,#00ffe5,#00ffc1,#00ff9e,#00ff7f,#00ff6a,#00ff6c,#00ff79)"></i><i style="height:2px;background:linear-gradient(90deg,#002cff,#002cff,#0037ff,#0046ff,#0054ff,#0063ff,#006fff,#0074ff,#006eff,#0062ff,#0056ff,#004aff,#003fff,#0039ff,#003cff,#0044ff,#004aff,#004fff,#0051ff,#004dff,#0044ff,#0047ff,#0057ff,#0064ff,#0068ff,#006aff,#006bff,#006cff,#006eff,#0073ff,#007fff,#0095ff,#00b4ff,#00d4ff,#00f5ff,#00ffe5,#00ffc0,#00ff9d,#00ff7d,#00ff68,#00ff69,#00ff78)"></i><i style="height:2px;background:linear-gradient(90deg,#002eff,#002fff,#003bff,#0049ff,#0058ff,#0066ff,#0072ff,#0077ff,#0070ff,#0064ff,#0057ff,#004aff,#003fff,#0038ff,#003bff,#0043ff,#004aff,#004fff,#0052ff,#004eff,#0045ff,#0046ff,#0054ff,#005fff,#0064ff,#0066ff,#0067ff,#0068ff,#006bff,#0071ff,#007eff,#0094ff,#00b3ff,#00d3ff,#00f5ff,#00ffe5,#00ffc0,#00ff9b,#00ff7b,#00ff65,#00ff67,#00ff77)"></i><i style="height:2px;background:linear-gradient(90deg,#002fff,#0032ff,#003fff,#004dff,#005cff,#0069ff,#0075ff,#007aff,#0072ff,#0065ff,#0057ff,#004aff,#003eff,#0037ff,#003aff,#0042ff,#0049ff,#004eff,#0052ff,#0050ff,#0046ff,#0045ff,#0050ff,#005bff,#0060ff,#0061ff,#0062ff,#0064ff,#0067ff,#006fff,#007dff,#0094ff,#00b2ff,#00d3ff,#00f4ff,#00ffe5,#00ffbf,#00ff9a,#00ff79,#00ff62,#00ff64,#00ff77)"></i><i style="height:2px;background:linear-gradient(90deg,#0031ff,#0036ff,#0042ff,#0051ff,#005fff,#006dff,#0078ff,#007cff,#0074ff,#0066ff,#0058ff,#004aff,#003eff,#0037ff,#0039ff,#0041ff,#0048ff,#004eff,#0053ff,#0051ff,#0048ff,#0045ff,#004dff,#0056ff,#005bff,#005dff,#005dff,#005fff,#0064ff,#006eff,#007dff,#0094ff,#00b2ff,#00d2ff,#00f4ff,#00ffe5,#00ffbf,#00ff99,#00ff77,#00ff60,#00ff62,#00ff76)"></i><i style="height:2px;background:linear-gradient(90deg,#0033ff,#0039ff,#0047ff,#0055ff,#0063ff,#0070ff,#007bff,#007eff,#0075ff,#0067ff,#0059ff,#004cff,#003fff,#0037ff,#0039ff,#0041ff,#0047ff,#004eff,#0054ff,#0053ff,#004bff,#0046ff,#004aff,#0051ff,#0056ff,#0058ff,#0059ff,#005cff,#0062ff,#006dff,#007dff,#0094ff,#00b2ff,#00d2ff,#00f4ff,#00ffe5,#00ffbe,#00ff98,#00ff75,#00ff5d,#00ff60,#00ff76)"></i><i style="height:2px;background:linear-gradient(90deg,#0035ff,#003dff,#004bff,#0059ff,#0067ff,#0073ff,#007dff,#0080ff,#0077ff,#0069ff,#005bff,#004eff,#0042ff,#0038ff,#0038ff,#0040ff,#0047ff,#004eff,#0055ff,#0056ff,#004fff,#0048ff,#0047ff,#004cff,#0051ff,#0053ff,#0054ff,#0058ff,#0060ff,#006cff,#007dff,#0094ff,#00b3ff,#00d3ff,#00f5ff,#00ffe5,#00ffbe,#00ff97,#00ff74,#00ff5b,#00ff5e,#00ff75)"></i><i style="height:2px;background:linear-gradient(90deg,#0037ff,#0041ff,#004fff,#005eff,#006bff,#0076ff,#007fff,#0082ff,#0079ff,#006bff,#005dff,#0051ff,#0045ff,#003aff,#0039ff,#003fff,#0047ff,#004eff,#0056ff,#0059ff,#0054ff,#004cff,#0047ff,#0048ff,#004cff,#004eff,#0050ff,#0055ff,#005fff,#006cff,#007dff,#0095ff,#00b4ff,#00d4ff,#00f5ff,#00ffe4,#00ffbd,#00ff96,#00ff72,#00ff58,#00ff5c,#00ff75)"></i><i style="height:2px;background:linear-gradient(90deg,#0039ff,#0045ff,#0054ff,#0062ff,#006fff,#0079ff,#0082ff,#0084ff,#007bff,#006dff,#0060ff,#0055ff,#0049ff,#003dff,#003aff,#003fff,#0047ff,#004fff,#0057ff,#005cff,#005aff,#0052ff,#0048ff,#0045ff,#0048ff,#004aff,#004cff,#0053ff,#005eff,#006cff,#007eff,#0097ff,#00b5ff,#00d5ff,#00f6ff,#00ffe4,#00ffbd,#00ff96,#00ff71,#00ff56,#00ff5a,#00ff74)"></i><i style="height:2px;background:linear-gradient(90deg,#003cff,#004aff,#0059ff,#0068ff,#0074ff,#007dff,#0085ff,#0087ff,#007eff,#0070ff,#0064ff,#005aff,#004fff,#0040ff,#003bff,#0040ff,#0047ff,#004fff,#0058ff,#0060ff,#0062ff,#0059ff,#004bff,#0044ff,#0044ff,#0045ff,#0049ff,#0051ff,#005eff,#006dff,#0080ff,#0099ff,#00b6ff,#00d6ff,#00f7ff,#00ffe3,#00ffbc,#00ff95,#00ff6f,#00ff53,#00ff58,#00ff74)"></i><i style="height:2px;background:linear-gradient(90deg,#003eff,#004fff,#005fff,#006dff,#0079ff,#0081ff,#0088ff,#0089ff,#0080ff,#0074ff,#0069ff,#0060ff,#0054ff,#0045ff,#003dff,#0040ff,#0048ff,#0050ff,#005aff,#0064ff,#006aff,#0062ff,#0051ff,#0044ff,#0041ff,#0042ff,#0047ff,#0051ff,#005fff,#006eff,#0081ff,#009bff,#00b8ff,#00d7ff,#00f8ff,#00ffe2,#00ffbc,#00ff95,#00ff6e,#00ff51,#00ff56,#00ff73)"></i><i style="height:2px;background:linear-gradient(90deg,#0041ff,#0054ff,#0065ff,#0073ff,#007fff,#0086ff,#008bff,#008cff,#0084ff,#0079ff,#006fff,#0066ff,#005aff,#0049ff,#0040ff,#0042ff,#0049ff,#0051ff,#005bff,#0068ff,#0072ff,#006cff,#0058ff,#0047ff,#0040ff,#0040ff,#0046ff,#0051ff,#0060ff,#0070ff,#0084ff,#009dff,#00baff,#00d9ff,#00f9ff,#00ffe2,#00ffbb,#00ff94,#00ff6d,#00ff4f,#00ff54,#00ff73)"></i><i style="height:2px;background:linear-gradient(90deg,#0043ff,#0059ff,#006aff,#0079ff,#0085ff,#008cff,#0090ff,#0090ff,#0088ff,#007eff,#0075ff,#006dff,#0061ff,#004fff,#0044ff,#0045ff,#004bff,#0053ff,#005dff,#006cff,#007aff,#0076ff,#0061ff,#004cff,#0041ff,#0040ff,#0047ff,#0053ff,#0063ff,#0074ff,#0086ff,#009fff,#00bcff,#00daff,#00faff,#00ffe1,#00ffbb,#00ff93,#00ff6b,#00ff4c,#00ff52,#00ff72)"></i><i style="height:2px;background:linear-gradient(90deg,#0046ff,#005eff,#0070ff,#007fff,#008bff,#0092ff,#0095ff,#0094ff,#008dff,#0084ff,#007cff,#0074ff,#0068ff,#0055ff,#0049ff,#004aff,#004eff,#0055ff,#005fff,#006fff,#0082ff,#0081ff,#006cff,#0053ff,#0044ff,#0042ff,#004aff,#0057ff,#0067ff,#0078ff,#008aff,#00a2ff,#00bfff,#00dcff,#00fbff,#00ffe0,#00ffba,#00ff93,#00ff6a,#00ff4a,#00ff50,#00ff71)"></i><i style="height:2px;background:linear-gradient(90deg,#0049ff,#0063ff,#0077ff,#0086ff,#0092ff,#0099ff,#009bff,#009aff,#0092ff,#008aff,#0083ff,#007cff,#006eff,#005cff,#0050ff,#0050ff,#0053ff,#0058ff,#0061ff,#0073ff,#008aff,#008dff,#0078ff,#005dff,#004aff,#0047ff,#004fff,#005dff,#006eff,#007eff,#008fff,#00a6ff,#00c1ff,#00deff,#00fdff,#00ffdf,#00ffb9,#00ff92,#00ff69,#00ff48,#00ff4e,#00ff70)"></i><i style="height:2px;background:linear-gradient(90deg,#004bff,#0068ff,#007dff,#008cff,#0098ff,#00a0ff,#00a3ff,#00a0ff,#0099ff,#0091ff,#008bff,#0083ff,#0075ff,#0063ff,#0059ff,#0057ff,#0059ff,#005dff,#0065ff,#0077ff,#0091ff,#0098ff,#0084ff,#0068ff,#0053ff,#004eff,#0057ff,#0065ff,#0076ff,#0085ff,#0095ff,#00aaff,#00c5ff,#00e1ff,#00ffff,#00ffdd,#00ffb8,#00ff91,#00ff67,#00ff46,#00ff4b,#00ff6e)"></i><i style="height:2px;background:linear-gradient(90deg,#004eff,#006cff,#0082ff,#0092ff,#009fff,#00a8ff,#00aaff,#00a7ff,#00a0ff,#0099ff,#0093ff,#008bff,#007dff,#006cff,#0063ff,#0060ff,#0061ff,#0063ff,#006aff,#007cff,#0098ff,#00a3ff,#0091ff,#0075ff,#005fff,#0059ff,#0061ff,#0070ff,#0080ff,#008eff,#009cff,#00afff,#00c8ff,#00e4ff,#00fffd,#00ffdc,#00ffb7,#00ff90,#00ff66,#00ff44,#00ff49,#00ff6c)"></i><i style="height:2px;background:linear-gradient(90deg,#0052ff,#0071ff,#0088ff,#0099ff,#00a6ff,#00afff,#00b2ff,#00afff,#00a8ff,#00a1ff,#009bff,#0093ff,#0084ff,#0075ff,#006eff,#006bff,#006aff,#006cff,#0071ff,#0082ff,#00a0ff,#00adff,#009eff,#0083ff,#006eff,#0067ff,#006eff,#007cff,#008cff,#0099ff,#00a4ff,#00b5ff,#00ccff,#00e7ff,#00fffa,#00ffd9,#00ffb5,#00ff8e,#00ff64,#00ff42,#00ff46,#00ff67)"></i><i style="height:2px;background:linear-gradient(90deg,#0056ff,#0076ff,#008eff,#009fff,#00acff,#00b7ff,#00bbff,#00b8ff,#00b0ff,#00a9ff,#00a3ff,#009aff,#008cff,#0080ff,#007aff,#0077ff,#0076ff,#0076ff,#007bff,#008bff,#00a9ff,#00b8ff,#00acff,#0092ff,#007eff,#0077ff,#007dff,#008aff,#0099ff,#00a4ff,#00aeff,#00bcff,#00d1ff,#00ebff,#00fff7,#00ffd6,#00ffb2,#00ff8c,#00ff63,#00ff3f,#00ff42,#00ff61)"></i><i style="height:2px;background:linear-gradient(90deg,#005bff,#007aff,#0094ff,#00a5ff,#00b3ff,#00beff,#00c3ff,#00c0ff,#00b9ff,#00b1ff,#00abff,#00a2ff,#0095ff,#008bff,#0087ff,#0084ff,#0082ff,#0083ff,#0087ff,#0095ff,#00b2ff,#00c3ff,#00b9ff,#00a2ff,#0090ff,#008aff,#008dff,#0099ff,#00a7ff,#00b1ff,#00b8ff,#00c4ff,#00d7ff,#00f0ff,#00fff3,#00ffd3,#00ffaf,#00ff89,#00ff61,#00ff3d,#00ff3d,#00ff58)"></i><i style="height:2px;background:linear-gradient(90deg,#0061ff,#007fff,#0099ff,#00abff,#00b9ff,#00c5ff,#00cbff,#00caff,#00c2ff,#00baff,#00b3ff,#00aaff,#009fff,#0097ff,#0094ff,#0092ff,#0091ff,#0092ff,#0095ff,#00a2ff,#00bdff,#00cfff,#00c7ff,#00b3ff,#00a3ff,#009dff,#009fff,#00a9ff,#00b6ff,#00beff,#00c3ff,#00cdff,#00deff,#00f5ff,#00ffee,#00ffce,#00ffab,#00ff86,#00ff5e,#00ff3b,#00ff38,#00ff4b)"></i><i style="height:2px;background:linear-gradient(90deg,#0069ff,#0084ff,#009eff,#00b2ff,#00c0ff,#00ccff,#00d4ff,#00d3ff,#00ccff,#00c3ff,#00bcff,#00b3ff,#00a9ff,#00a4ff,#00a2ff,#00a1ff,#00a1ff,#00a2ff,#00a6ff,#00b2ff,#00c9ff,#00daff,#00d5ff,#00c4ff,#00b7ff,#00b1ff,#00b2ff,#00baff,#00c5ff,#00cbff,#00cfff,#00d6ff,#00e6ff,#00fbff,#00ffe8,#00ffc9,#00ffa6,#00ff82,#00ff5c,#00ff38,#00ff31,#00ff3c)"></i><i style="height:2px;background:linear-gradient(90deg,#0071ff,#0089ff,#00a4ff,#00b8ff,#00c6ff,#00d3ff,#00dcff,#00ddff,#00d6ff,#00cdff,#00c5ff,#00bdff,#00b5ff,#00b2ff,#00b1ff,#00b1ff,#00b2ff,#00b5ff,#00b9ff,#00c3ff,#00d8ff,#00e7ff,#00e3ff,#00d6ff,#00ccff,#00c6ff,#00c5ff,#00cbff,#00d4ff,#00d9ff,#00dcff,#00e1ff,#00eeff,#00fffc,#00ffe2,#00ffc3,#00ffa1,#00ff7d,#00ff58,#00ff35,#00ff29,#00ff2c)"></i><i style="height:2px;background:linear-gradient(90deg,#0078ff,#008dff,#00a8ff,#00beff,#00cdff,#00daff,#00e4ff,#00e7ff,#00e1ff,#00d7ff,#00cfff,#00c8ff,#00c2ff,#00c1ff,#00c1ff,#00c2ff,#00c5ff,#00c9ff,#00cdff,#00d6ff,#00e7ff,#00f4ff,#00f2ff,#00e8ff,#00e0ff,#00daff,#00d8ff,#00dcff,#00e3ff,#00e7ff,#00e9ff,#00edff,#00f8ff,#00fff3,#00ffda,#00ffbd,#00ff9b,#00ff78,#00ff55,#00ff32,#00ff20,#00ff1c)"></i><i style="height:2px;background:linear-gradient(90deg,#0080ff,#0092ff,#00adff,#00c3ff,#00d3ff,#00e1ff,#00edff,#00f2ff,#00ecff,#00e2ff,#00daff,#00d4ff,#00d0ff,#00d1ff,#00d3ff,#00d5ff,#00d9ff,#00deff,#00e2ff,#00e9ff,#00f7ff,#00fffd,#00fffd,#00faff,#00f3ff,#00eeff,#00ecff,#00eeff,#00f3ff,#00f6ff,#00f7ff,#00faff,#00fffb,#00ffea,#00ffd2,#00ffb5,#00ff95,#00ff73,#00ff51,#00ff2f,#00ff18,#00ff0e)"></i><i style="height:2px;background:linear-gradient(90deg,#0086ff,#0096ff,#00b2ff,#00c9ff,#00daff,#00e8ff,#00f5ff,#00fdff,#00f8ff,#00efff,#00e6ff,#00e2ff,#00e1ff,#00e3ff,#00e6ff,#00e9ff,#00eeff,#00f4ff,#00f8ff,#00feff,#00fff5,#00ffef,#00ffef,#00fff3,#00fff8,#00fffd,#00ffff,#00fffe,#00fffb,#00fff9,#00fff8,#00fff6,#00ffee,#00ffdf,#00ffc8,#00ffad,#00ff8f,#00ff6e,#00ff4d,#00ff2b,#00ff11,#00ff02)"></i><i style="height:2px;background:linear-gradient(90deg,#008bff,#009aff,#00b6ff,#00cfff,#00e0ff,#00f0ff,#00ffff,#00fff6,#00fff8,#00fcff,#00f4ff,#00f2ff,#00f3ff,#00f6ff,#00faff,#00feff,#00fffa,#00fff4,#00fff0,#00ffeb,#00ffe4,#00ffe1,#00ffe0,#00ffe2,#00ffe6,#00ffea,#00ffed,#00ffec,#00ffea,#00ffe9,#00ffe9,#00ffe7,#00ffe0,#00ffd2,#00ffbd,#00ffa4,#00ff87,#00ff68,#00ff48,#00ff28,#00ff0b,#07ff00)"></i><i style="height:2px;background:linear-gradient(90deg,#008fff,#009eff,#00bbff,#00d4ff,#00e7ff,#00f8ff,#00fff5,#00ffe9,#00ffeb,#00fff3,#00fffa,#00fffa,#00fff7,#00fff3,#00ffee,#00ffea,#00ffe3,#00ffdd,#00ffd9,#00ffd6,#00ffd3,#00ffd3,#00ffd1,#00ffd1,#00ffd4,#00ffd7,#00ffda,#00ffda,#00ffd9,#00ffd8,#00ffd8,#00ffd6,#00ffd0,#00ffc3,#00ffb1,#00ff9a,#00ff7f,#00ff61,#00ff44,#00ff24,#00ff06,#0dff00)"></i><i style="height:2px;background:linear-gradient(90deg,#0092ff,#00a1ff,#00bfff,#00daff,#00eeff,#00fffd,#00ffea,#00ffdd,#00ffdc,#00ffe3,#00ffe9,#00ffe7,#00ffe2,#00ffdc,#00ffd8,#00ffd2,#00ffcc,#00ffc6,#00ffc2,#00ffc1,#00ffc2,#00ffc4,#00ffc2,#00ffc1,#00ffc3,#00ffc6,#00ffc8,#00ffc8,#00ffc7,#00ffc7,#00ffc6,#00ffc5,#00ffbf,#00ffb3,#00ffa3,#00ff8e,#00ff76,#00ff5a,#00ff3e,#00ff21,#00ff02,#11ff00)"></i><i style="height:2px;background:linear-gradient(90deg,#0095ff,#00a5ff,#00c3ff,#00e0ff,#00f6ff,#00fff3,#00ffde,#00ffd0,#00ffcd,#00ffd3,#00ffd6,#00ffd2,#00ffcb,#00ffc5,#00ffc0,#00ffbb,#00ffb5,#00ffaf,#00ffab,#00ffac,#00ffb2,#00ffb6,#00ffb4,#00ffb1,#00ffb2,#00ffb4,#00ffb5,#00ffb5,#00ffb5,#00ffb4,#00ffb4,#00ffb2,#00ffad,#00ffa2,#00ff93,#00ff81,#00ff6b,#00ff52,#00ff39,#00ff1d,#01ff00,#14ff00)"></i><i style="height:2px;background:linear-gradient(90deg,#0097ff,#00a8ff,#00c7ff,#00e5ff,#00feff,#00ffe9,#00ffd2,#00ffc3,#00ffbe,#00ffc2,#00ffc3,#00ffbc,#00ffb4,#00ffad,#00ffa8,#00ffa3,#00ff9d,#00ff98,#00ff95,#00ff97,#00ffa1,#00ffa7,#00ffa5,#00ffa2,#00ffa1,#00ffa2,#00ffa3,#00ffa3,#00ffa2,#00ffa1,#00ffa1,#00ff9f,#00ff9a,#00ff91,#00ff84,#00ff73,#00ff60,#00ff4a,#00ff33,#00ff19,#04ff00,#15ff00)"></i><i style="height:2px;background:linear-gradient(90deg,#0099ff,#00abff,#00caff,#00eaff,#00fff8,#00ffde,#00ffc5,#00ffb6,#00ffb0,#00ffb1,#00ffaf,#00ffa6,#00ff9c,#00ff96,#00ff90,#00ff8b,#00ff86,#00ff81,#00ff7e,#00ff82,#00ff90,#00ff98,#00ff95,#00ff92,#00ff91,#00ff91,#00ff91,#00ff91,#00ff8f,#00ff8e,#00ff8d,#00ff8c,#00ff88,#00ff80,#00ff75,#00ff66,#00ff55,#00ff42,#00ff2d,#00ff15,#06ff00,#16ff00)"></i><i style="height:2px;background:linear-gradient(90deg,#009aff,#00adff,#00ceff,#00efff,#00fff1,#00ffd2,#00ffb9,#00ffaa,#00ffa3,#00ffa0,#00ff9c,#00ff90,#00ff85,#00ff7e,#00ff79,#00ff74,#00ff6f,#00ff6b,#00ff68,#00ff6e,#00ff80,#00ff88,#00ff86,#00ff83,#00ff82,#00ff80,#00ff80,#00ff80,#00ff7e,#00ff7b,#00ff7a,#00ff79,#00ff76,#00ff70,#00ff67,#00ff58,#00ff4a,#00ff3a,#00ff27,#00ff10,#09ff00,#17ff00)"></i><i style="height:2px;background:linear-gradient(90deg,#009bff,#00aeff,#00d0ff,#00f3ff,#00ffea,#00ffc7,#00ffae,#00ff9f,#00ff97,#00ff92,#00ff8a,#00ff7c,#00ff6e,#00ff67,#00ff63,#00ff5e,#00ff5a,#00ff55,#00ff53,#00ff5b,#00ff70,#00ff79,#00ff77,#00ff75,#00ff73,#00ff72,#00ff71,#00ff72,#00ff6e,#00ff6a,#00ff69,#00ff68,#00ff68,#00ff64,#00ff5c,#00ff4d,#00ff40,#00ff33,#00ff22,#00ff0b,#0bff00,#17ff00)"></i><i style="height:2px;background:linear-gradient(90deg,#009cff,#00aeff,#00d2ff,#00f7ff,#00ffe4,#00ffbd,#00ffa3,#00ff96,#00ff8d,#00ff86,#00ff7b,#00ff68,#00ff59,#00ff52,#00ff4e,#00ff4a,#00ff46,#00ff42,#00ff40,#00ff49,#00ff60,#00ff6c,#00ff6a,#00ff69,#00ff68,#00ff66,#00ff66,#00ff68,#00ff61,#00ff5c,#00ff5a,#00ff5b,#00ff5c,#00ff5b,#00ff54,#00ff44,#00ff38,#00ff2e,#00ff1e,#00ff07,#0eff00,#18ff00)"></i><i style="height:2px;background:linear-gradient(90deg,#009cff,#00adff,#00d2ff,#00f9ff,#00ffdf,#00ffb4,#00ff9a,#00ff8e,#00ff85,#00ff7d,#00ff6f,#00ff57,#00ff46,#00ff3f,#00ff3b,#00ff37,#00ff34,#00ff31,#00ff2f,#00ff39,#00ff53,#00ff61,#00ff61,#00ff61,#00ff60,#00ff5e,#00ff5f,#00ff63,#00ff5a,#00ff52,#00ff50,#00ff51,#00ff55,#00ff56,#00ff4f,#00ff3e,#00ff33,#00ff2a,#00ff1b,#00ff03,#10ff00,#18ff00)"></i><i style="height:2px;background:linear-gradient(90deg,#009cff,#00acff,#00d1ff,#00fbff,#00ffda,#00ffab,#00ff93,#00ff89,#00ff80,#00ff77,#00ff67,#00ff49,#00ff34,#00ff2e,#00ff2b,#00ff28,#00ff25,#00ff22,#00ff21,#00ff2c,#00ff49,#00ff59,#00ff5b,#00ff5d,#00ff5d,#00ff5b,#00ff5f,#00ff65,#00ff57,#00ff4d,#00ff4b,#00ff4d,#00ff52,#00ff55,#00ff4d,#00ff3a,#00ff2f,#00ff29,#00ff19,#01ff00,#12ff00,#18ff00)"></i><i style="height:2px;background:linear-gradient(90deg,#009bff,#00a9ff,#00d0ff,#00fbff,#00ffd7,#00ffa4,#00ff8d,#00ff85,#00ff7d,#00ff75,#00ff61,#00ff3d,#00ff26,#00ff20,#00ff1d,#00ff1b,#00ff19,#00ff16,#00ff16,#00ff22,#00ff42,#00ff55,#00ff59,#00ff5e,#00ff5e,#00ff5d,#00ff63,#00ff6b,#00ff5a,#00ff4d,#00ff4b,#00ff4d,#00ff53,#00ff56,#00ff4d,#00ff38,#00ff2e,#00ff29,#00ff19,#04ff00,#14ff00,#19ff00)"></i><i style="height:1px;background:linear-gradient(90deg,#009bff,#00a7ff,#00cdff,#00fbff,#00ffd4,#00ff9e,#00ff88,#00ff82,#00ff7c,#00ff74,#00ff5f,#00ff34,#00ff1a,#00ff15,#00ff13,#00ff11,#00ff0f,#00ff0e,#00ff0e,#00ff1a,#00ff3e,#00ff55,#00ff5b,#00ff61,#00ff63,#00ff63,#00ff6a,#00ff75,#00ff60,#00ff50,#00ff4e,#00ff50,#00ff56,#00ff59,#00ff4e,#00ff38,#00ff2f,#00ff2b,#00ff19,#06ff00,#16ff00,#19ff00)"></i></div>
<div class="hm" style="left:1050px;top:68px;width:30px;height:310px;background:linear-gradient(180deg,#662214 0.13%,#ff0000 16.50%,#ffff00 31.80%,#00ff00 47.10%,#00ffff 62.40%,#0000ff 77.70%,#ff00ff 93.00%,#880088 100.04%)"></div>
<div class="hm" style="left:160px;top:491px;width:328px;height:310px"><i style="height:2px;background:linear-gradient(90deg,#d30a06,#d20a06,#d60905,#dd0804,#e50603,#eb0403,#ee0402,#eb0403,#e10704,#d60905,#cd0b07,#cd0b07,#d70905,#ec0402,#ff1700,#ff5e00,#ffa800,#ffe400,#f4ff00,#dcff00,#bfff00,#8cff00,#41ff00,#00ff1a,#00ff7a,#00ffd6,#00d4ff,#008eff,#0059ff,#0033ff,#0014ff,#0b00ff,#2c00ff,#4c00ff,#6500ff,#7600ff,#7e00ff,#8000ff,#8000ff,#7e00ff,#7f00ff,#8200ff)"></i><i style="height:2px;background:linear-gradient(90deg,#c20e08,#c20e08,#c60d07,#ce0b06,#d70905,#df0704,#e30604,#e10704,#da0805,#d10a06,#cb0c07,#cd0b07,#da0805,#f10302,#ff2100,#ff6800,#ffb000,#ffec00,#eaff00,#ceff00,#aeff00,#79ff00,#2cff00,#00ff2e,#00ff8c,#00ffe4,#00cbff,#0089ff,#0057ff,#0032ff,#0013ff,#0c00ff,#2d00ff,#4d00ff,#6600ff,#7600ff,#7f00ff,#8100ff,#8100ff,#8000ff,#8200ff,#8700ff)"></i><i style="height:2px;background:linear-gradient(90deg,#b2110a,#b3110a,#b90f09,#c20e08,#cc0b07,#d40906,#da0805,#da0805,#d50906,#ce0b06,#ca0c07,#cf0b06,#de0704,#f60201,#ff2b00,#ff7100,#ffb800,#fff400,#e1ff00,#c2ff00,#9eff00,#66ff00,#19ff00,#00ff41,#00ff9c,#00fff1,#00c3ff,#0084ff,#0055ff,#0031ff,#0012ff,#0d00ff,#2e00ff,#4d00ff,#6700ff,#7700ff,#7f00ff,#8200ff,#8200ff,#8200ff,#8400ff,#8a00ff)"></i><i style="height:2px;background:linear-gradient(90deg,#a4140c,#a7140b,#af120b,#b91009,#c30d08,#cd0b07,#d30a06,#d50905,#d20a06,#cd0b07,#cc0b07,#d20a06,#e20604,#fb0100,#ff3500,#ff7a00,#ffc000,#fffc00,#d7ff00,#b6ff00,#8fff00,#55ff00,#07ff00,#00ff52,#00ffab,#00fffc,#00bbff,#0081ff,#0053ff,#0030ff,#0012ff,#0d00ff,#2e00ff,#4d00ff,#6600ff,#7600ff,#7f00ff,#8200ff,#8200ff,#8200ff,#8600ff,#8c00ff)"></i><i style="height:2px;background:linear-gradient(90deg,#98170d,#9d160d,#a6140c,#b2110a,#bd0f09,#c80c07,#cf0b06,#d30a06,#d10a06,#ce0b06,#cf0b06,#d70905,#e70503,#ff0300,#ff3e00,#ff8200,#ffc700,#faff00,#ceff00,#aaff00,#80ff00,#45ff00,#00ff0a,#00ff62,#00ffb9,#00f7ff,#00b4ff,#007dff,#0052ff,#0030ff,#0012ff,#0d00ff,#2e00ff,#4d00ff,#6600ff,#7600ff,#7e00ff,#8100ff,#8200ff,#8300ff,#8600ff,#8e00ff)"></i><i style="height:2px;background:linear-gradient(90deg,#8e190f,#95170e,#a1150c,#ad120b,#ba0f09,#c50d08,#cd0b06,#d20a06,#d20a06,#d10a06,#d30a06,#dc0805,#ed0402,#ff0d00,#ff4600,#ff8a00,#ffcf00,#f2ff00,#c5ff00,#9eff00,#73ff00,#36ff00,#00ff19,#00ff70,#00ffc6,#00edff,#00aeff,#007aff,#0051ff,#002fff,#0011ff,#0d00ff,#2e00ff,#4c00ff,#6500ff,#7500ff,#7d00ff,#8000ff,#8100ff,#8200ff,#8600ff,#8e00ff)"></i><i style="height:2px;background:linear-gradient(90deg,#861b10,#90190f,#9d160d,#ab130b,#b81009,#c40d08,#cd0b06,#d30a06,#d50906,#d60905,#d90805,#e30604,#f40301,#ff1700,#ff4f00,#ff9200,#ffd700,#eaff00,#bbff00,#93ff00,#66ff00,#28ff00,#00ff28,#00ff7e,#00ffd2,#00e5ff,#00a8ff,#0077ff,#0050ff,#002fff,#0011ff,#0d00ff,#2d00ff,#4b00ff,#6400ff,#7300ff,#7b00ff,#7f00ff,#8000ff,#8100ff,#8500ff,#8d00ff)"></i><i style="height:2px;background:linear-gradient(90deg,#7f1c11,#8c1a0f,#9c160d,#ab130b,#b91009,#c60d08,#cf0b06,#d60905,#d90805,#dc0805,#e10704,#eb0503,#fb0101,#ff2200,#ff5900,#ff9a00,#ffde00,#e2ff00,#b2ff00,#88ff00,#59ff00,#1aff00,#00ff36,#00ff8b,#00ffdd,#00dcff,#00a3ff,#0075ff,#004fff,#002fff,#0012ff,#0d00ff,#2c00ff,#4a00ff,#6200ff,#7200ff,#7a00ff,#7d00ff,#7e00ff,#8000ff,#8400ff,#8c00ff)"></i><i style="height:2px;background:linear-gradient(90deg,#7b1d11,#8b1a0f,#9c160d,#ad120b,#bc0f09,#c90c07,#d30a06,#db0805,#e00704,#e40604,#ea0503,#f30302,#ff0700,#ff2e00,#ff6300,#ffa300,#ffe600,#daff00,#a8ff00,#7dff00,#4cff00,#0cff00,#00ff43,#00ff98,#00ffe7,#00d5ff,#009fff,#0073ff,#004fff,#002fff,#0012ff,#0c00ff,#2c00ff,#4900ff,#6000ff,#7000ff,#7800ff,#7b00ff,#7c00ff,#7e00ff,#8200ff,#8a00ff)"></i><i style="height:2px;background:linear-gradient(90deg,#791e11,#8b1a0f,#9f150d,#b1110a,#c10e08,#ce0b06,#d90805,#e10704,#e80503,#ed0402,#f40301,#fd0000,#ff1700,#ff3b00,#ff6e00,#ffac00,#ffef00,#d1ff00,#9eff00,#71ff00,#40ff00,#00ff01,#00ff50,#00ffa3,#00fff1,#00ceff,#009bff,#0071ff,#004eff,#002fff,#0012ff,#0c00ff,#2b00ff,#4700ff,#5e00ff,#6d00ff,#7500ff,#7900ff,#7a00ff,#7c00ff,#8000ff,#8700ff)"></i><i style="height:2px;background:linear-gradient(90deg,#791e11,#8e190f,#a4140c,#b71009,#c70c07,#d50905,#e00704,#ea0503,#f10302,#f80201,#ff0000,#ff1100,#ff2800,#ff4a00,#ff7900,#ffb600,#fff800,#c8ff00,#94ff00,#66ff00,#33ff00,#00ff0e,#00ff5d,#00ffaf,#00fffa,#00c8ff,#0097ff,#0070ff,#004eff,#0030ff,#0013ff,#0b00ff,#2a00ff,#4600ff,#5c00ff,#6b00ff,#7300ff,#7600ff,#7700ff,#7900ff,#7d00ff,#8400ff)"></i><i style="height:2px;background:linear-gradient(90deg,#7c1d11,#93180e,#ab130b,#bf0e08,#d00b06,#de0704,#e90503,#f30302,#fc0100,#ff0800,#ff1600,#ff2600,#ff3b00,#ff5a00,#ff8600,#ffc100,#fcff00,#beff00,#89ff00,#59ff00,#25ff00,#00ff1c,#00ff6a,#00ffba,#00fcff,#00c2ff,#0094ff,#006fff,#004fff,#0031ff,#0013ff,#0a00ff,#2800ff,#4400ff,#5a00ff,#6800ff,#7000ff,#7300ff,#7500ff,#7700ff,#7b00ff,#8100ff)"></i><i style="height:2px;background:linear-gradient(90deg,#811c10,#9a160d,#b3110a,#c80c07,#d90805,#e80503,#f40201,#fe0000,#ff1000,#ff1f00,#ff2e00,#ff3d00,#ff5000,#ff6b00,#ff9500,#ffcd00,#f1ff00,#b3ff00,#7eff00,#4dff00,#17ff00,#00ff2a,#00ff77,#00ffc5,#00f3ff,#00bcff,#0092ff,#006fff,#004fff,#0031ff,#0014ff,#0a00ff,#2700ff,#4200ff,#5700ff,#6500ff,#6d00ff,#7000ff,#7200ff,#7400ff,#7700ff,#7e00ff)"></i><i style="height:2px;background:linear-gradient(90deg,#891a0f,#a3140c,#bd0f09,#d30a06,#e50603,#f30302,#ff0100,#ff1500,#ff2700,#ff3800,#ff4800,#ff5600,#ff6600,#ff7f00,#ffa500,#ffdb00,#e5ff00,#a8ff00,#72ff00,#3fff00,#09ff00,#00ff39,#00ff84,#00ffd0,#00ebff,#00b7ff,#0090ff,#006fff,#0050ff,#0032ff,#0015ff,#0900ff,#2600ff,#4000ff,#5400ff,#6200ff,#6900ff,#6d00ff,#6f00ff,#7100ff,#7400ff,#7a00ff)"></i><i style="height:2px;background:linear-gradient(90deg,#94180e,#ae120b,#c90c07,#df0704,#f10302,#ff0200,#ff1900,#ff2d00,#ff4100,#ff5300,#ff6300,#ff7000,#ff7e00,#ff9400,#ffb800,#ffea00,#d8ff00,#9cff00,#65ff00,#31ff00,#00ff07,#00ff49,#00ff92,#00ffdb,#00e3ff,#00b3ff,#008eff,#006fff,#0051ff,#0034ff,#0016ff,#0800ff,#2400ff,#3d00ff,#5100ff,#5e00ff,#6600ff,#6a00ff,#6c00ff,#6e00ff,#7100ff,#7600ff)"></i><i style="height:2px;background:linear-gradient(90deg,#a1150c,#bc0f09,#d60905,#ed0402,#ff0000,#ff1b00,#ff3200,#ff4700,#ff5c00,#ff6f00,#ff7f00,#ff8c00,#ff9800,#ffac00,#ffcc00,#fffb00,#caff00,#8fff00,#58ff00,#22ff00,#00ff18,#00ff59,#00ffa1,#00ffe7,#00dbff,#00aeff,#008cff,#006fff,#0053ff,#0035ff,#0017ff,#0700ff,#2300ff,#3b00ff,#4e00ff,#5b00ff,#6300ff,#6700ff,#6900ff,#6b00ff,#6e00ff,#7300ff)"></i><i style="height:2px;background:linear-gradient(90deg,#b1110a,#cb0c07,#e50603,#fb0101,#ff1a00,#ff3500,#ff4d00,#ff6400,#ff7900,#ff8c00,#ff9d00,#ffa900,#ffb400,#ffc600,#ffe300,#efff00,#baff00,#81ff00,#49ff00,#11ff00,#00ff2a,#00ff6b,#00ffb1,#00fff3,#00d3ff,#00aaff,#008bff,#0070ff,#0054ff,#0036ff,#0018ff,#0600ff,#2100ff,#3900ff,#4b00ff,#5800ff,#5f00ff,#6400ff,#6600ff,#6800ff,#6b00ff,#6f00ff)"></i><i style="height:2px;background:linear-gradient(90deg,#c50d08,#dd0805,#f60201,#ff1500,#ff3500,#ff5100,#ff6a00,#ff8100,#ff9700,#ffab00,#ffbb00,#ffc700,#ffd200,#ffe200,#fffc00,#daff00,#a9ff00,#72ff00,#3aff00,#00ff00,#00ff3e,#00ff7f,#00ffc2,#00feff,#00cbff,#00a5ff,#008aff,#0071ff,#0056ff,#0038ff,#0019ff,#0500ff,#2000ff,#3600ff,#4800ff,#5400ff,#5c00ff,#6100ff,#6300ff,#6600ff,#6800ff,#6c00ff)"></i><i style="height:2px;background:linear-gradient(90deg,#db0805,#f00302,#ff0e00,#ff3200,#ff5200,#ff6f00,#ff8900,#ffa100,#ffb700,#ffca00,#ffdb00,#ffe700,#fff200,#fdff00,#e5ff00,#c2ff00,#96ff00,#62ff00,#29ff00,#00ff13,#00ff53,#00ff94,#00ffd4,#00f0ff,#00c2ff,#00a1ff,#0089ff,#0073ff,#0059ff,#003aff,#001aff,#0400ff,#1e00ff,#3400ff,#4500ff,#5100ff,#5900ff,#5e00ff,#6100ff,#6300ff,#6600ff,#6900ff)"></i><i style="height:2px;background:linear-gradient(90deg,#f40201,#ff0c00,#ff3000,#ff5200,#ff7100,#ff8e00,#ffa900,#ffc100,#ffd700,#ffea00,#fffb00,#f6ff00,#eaff00,#dbff00,#c6ff00,#a9ff00,#81ff00,#51ff00,#18ff00,#00ff27,#00ff69,#00ffab,#00ffe7,#00e2ff,#00b9ff,#009dff,#0088ff,#0074ff,#005bff,#003cff,#001bff,#0300ff,#1d00ff,#3100ff,#4200ff,#4d00ff,#5500ff,#5b00ff,#5e00ff,#6100ff,#6400ff,#6700ff)"></i><i style="height:2px;background:linear-gradient(90deg,#ff1d00,#ff3600,#ff5400,#ff7300,#ff9100,#ffae00,#ffc900,#ffe200,#fff800,#f4ff00,#e4ff00,#d6ff00,#c8ff00,#baff00,#a7ff00,#8eff00,#6cff00,#40ff00,#06ff00,#00ff3c,#00ff80,#00ffc1,#00fffb,#00d4ff,#00b0ff,#0099ff,#0088ff,#0076ff,#005dff,#003eff,#001dff,#0200ff,#1b00ff,#2f00ff,#3e00ff,#4a00ff,#5200ff,#5700ff,#5b00ff,#5e00ff,#6200ff,#6500ff)"></i><i style="height:2px;background:linear-gradient(90deg,#ff5100,#ff6300,#ff7b00,#ff9700,#ffb300,#ffd000,#ffeb00,#fbff00,#e6ff00,#d4ff00,#c5ff00,#b6ff00,#a7ff00,#98ff00,#88ff00,#73ff00,#57ff00,#2eff00,#00ff0c,#00ff50,#00ff97,#00ffd7,#00f0ff,#00c6ff,#00a8ff,#0095ff,#0087ff,#0077ff,#005fff,#0040ff,#001eff,#0100ff,#1900ff,#2c00ff,#3b00ff,#4600ff,#4e00ff,#5400ff,#5800ff,#5c00ff,#5f00ff,#6200ff)"></i><i style="height:2px;background:linear-gradient(90deg,#ff8700,#ff9200,#ffa500,#ffbd00,#ffd700,#fff300,#f1ff00,#daff00,#c7ff00,#b6ff00,#a7ff00,#98ff00,#88ff00,#79ff00,#6aff00,#5aff00,#42ff00,#1cff00,#00ff1e,#00ff64,#00ffac,#00ffec,#00dfff,#00b9ff,#00a0ff,#0091ff,#0086ff,#0078ff,#0060ff,#0041ff,#001fff,#0001ff,#1700ff,#2900ff,#3700ff,#4200ff,#4a00ff,#5000ff,#5500ff,#5800ff,#5c00ff,#5f00ff)"></i><i style="height:2px;background:linear-gradient(90deg,#ffbd00,#ffc400,#ffd300,#ffe700,#fffe00,#e7ff00,#cfff00,#baff00,#a9ff00,#9aff00,#8bff00,#7cff00,#6cff00,#5dff00,#50ff00,#43ff00,#2eff00,#0aff00,#00ff2f,#00ff76,#00ffbf,#00fffe,#00d0ff,#00aeff,#0099ff,#008dff,#0084ff,#0078ff,#0061ff,#0042ff,#0021ff,#0003ff,#1500ff,#2600ff,#3400ff,#3e00ff,#4600ff,#4c00ff,#5000ff,#5400ff,#5800ff,#5b00ff)"></i><i style="height:2px;background:linear-gradient(90deg,#fff300,#fff800,#faff00,#eaff00,#d7ff00,#c2ff00,#aeff00,#9bff00,#8cff00,#7fff00,#72ff00,#64ff00,#54ff00,#46ff00,#39ff00,#2eff00,#1cff00,#00ff07,#00ff40,#00ff87,#00ffd0,#00f1ff,#00c4ff,#00a5ff,#0093ff,#008aff,#0082ff,#0077ff,#0061ff,#0043ff,#0022ff,#0005ff,#1200ff,#2300ff,#2f00ff,#3900ff,#4100ff,#4700ff,#4b00ff,#4f00ff,#5200ff,#5500ff)"></i><i style="height:2px;background:linear-gradient(90deg,#d5ff00,#d1ff00,#c7ff00,#bbff00,#acff00,#9cff00,#8cff00,#7eff00,#72ff00,#67ff00,#5bff00,#4eff00,#3fff00,#32ff00,#27ff00,#1cff00,#0bff00,#00ff17,#00ff50,#00ff97,#00ffde,#00e4ff,#00baff,#009fff,#008fff,#0086ff,#0080ff,#0075ff,#0060ff,#0044ff,#0024ff,#0008ff,#0e00ff,#1f00ff,#2b00ff,#3400ff,#3c00ff,#4100ff,#4500ff,#4900ff,#4c00ff,#4f00ff)"></i><i style="height:2px;background:linear-gradient(90deg,#a2ff00,#9dff00,#94ff00,#8aff00,#80ff00,#75ff00,#6aff00,#61ff00,#58ff00,#4fff00,#45ff00,#39ff00,#2cff00,#20ff00,#15ff00,#0bff00,#00ff06,#00ff28,#00ff5f,#00ffa5,#00ffea,#00dbff,#00b3ff,#009aff,#008bff,#0084ff,#007dff,#0073ff,#005fff,#0044ff,#0026ff,#000bff,#0a00ff,#1a00ff,#2600ff,#2f00ff,#3600ff,#3b00ff,#3f00ff,#4200ff,#4500ff,#4800ff)"></i><i style="height:2px;background:linear-gradient(90deg,#72ff00,#6aff00,#62ff00,#5bff00,#55ff00,#4fff00,#49ff00,#43ff00,#3dff00,#36ff00,#2eff00,#24ff00,#19ff00,#0eff00,#04ff00,#00ff06,#00ff18,#00ff39,#00ff6f,#00ffb2,#00fff5,#00d2ff,#00adff,#0096ff,#0088ff,#0081ff,#007aff,#0070ff,#005dff,#0044ff,#0028ff,#000fff,#0500ff,#1500ff,#2100ff,#2900ff,#3000ff,#3400ff,#3700ff,#3a00ff,#3d00ff,#4000ff)"></i><i style="height:2px;background:linear-gradient(90deg,#46ff00,#3cff00,#34ff00,#2eff00,#2bff00,#29ff00,#27ff00,#24ff00,#21ff00,#1bff00,#15ff00,#0dff00,#03ff00,#00ff06,#00ff0f,#00ff19,#00ff2a,#00ff4b,#00ff7f,#00ffc0,#00feff,#00cbff,#00a8ff,#0093ff,#0086ff,#007eff,#0077ff,#006dff,#005bff,#0044ff,#002aff,#0013ff,#0000ff,#1000ff,#1b00ff,#2300ff,#2900ff,#2d00ff,#3000ff,#3200ff,#3500ff,#3800ff)"></i><i style="height:2px;background:linear-gradient(90deg,#1eff00,#13ff00,#0aff00,#06ff00,#04ff00,#04ff00,#04ff00,#04ff00,#02ff00,#00ff02,#00ff07,#00ff0e,#00ff16,#00ff1e,#00ff25,#00ff2f,#00ff40,#00ff5f,#00ff91,#00ffce,#00f4ff,#00c4ff,#00a4ff,#0090ff,#0084ff,#007cff,#0075ff,#006aff,#005aff,#0044ff,#002dff,#0017ff,#0005ff,#0a00ff,#1500ff,#1d00ff,#2200ff,#2600ff,#2800ff,#2a00ff,#2d00ff,#2f00ff)"></i><i style="height:2px;background:linear-gradient(90deg,#00ff05,#00ff10,#00ff19,#00ff1d,#00ff1f,#00ff1f,#00ff1f,#00ff1f,#00ff20,#00ff23,#00ff27,#00ff2d,#00ff33,#00ff3a,#00ff41,#00ff49,#00ff58,#00ff75,#00ffa3,#00ffdd,#00e9ff,#00bcff,#009fff,#008dff,#0082ff,#007aff,#0072ff,#0068ff,#0058ff,#0045ff,#0030ff,#001cff,#000bff,#0300ff,#0e00ff,#1600ff,#1b00ff,#1f00ff,#2100ff,#2200ff,#2400ff,#2600ff)"></i><i style="height:2px;background:linear-gradient(90deg,#00ff23,#00ff2d,#00ff36,#00ff3c,#00ff3f,#00ff41,#00ff43,#00ff43,#00ff45,#00ff47,#00ff4b,#00ff50,#00ff56,#00ff5c,#00ff61,#00ff67,#00ff73,#00ff8d,#00ffb8,#00ffed,#00ddff,#00b4ff,#0099ff,#0089ff,#007fff,#0077ff,#006fff,#0065ff,#0057ff,#0046ff,#0033ff,#0021ff,#0011ff,#0004ff,#0700ff,#0f00ff,#1400ff,#1700ff,#1900ff,#1b00ff,#1c00ff,#1d00ff)"></i><i style="height:2px;background:linear-gradient(90deg,#00ff40,#00ff48,#00ff50,#00ff58,#00ff5e,#00ff63,#00ff67,#00ff69,#00ff6c,#00ff6e,#00ff71,#00ff75,#00ff7b,#00ff81,#00ff84,#00ff88,#00ff91,#00ffa7,#00ffcd,#00fffe,#00d0ff,#00abff,#0094ff,#0086ff,#007dff,#0075ff,#006dff,#0063ff,#0056ff,#0046ff,#0036ff,#0026ff,#0017ff,#000aff,#0000ff,#0800ff,#0d00ff,#1000ff,#1200ff,#1300ff,#1400ff,#1500ff)"></i><i style="height:2px;background:linear-gradient(90deg,#00ff5c,#00ff62,#00ff6a,#00ff73,#00ff7b,#00ff84,#00ff8b,#00ff90,#00ff93,#00ff95,#00ff98,#00ff9d,#00ffa2,#00ffa7,#00ffaa,#00ffab,#00ffb1,#00ffc3,#00ffe4,#00eeff,#00c3ff,#00a2ff,#008dff,#0082ff,#007aff,#0072ff,#006aff,#0061ff,#0055ff,#0047ff,#0038ff,#002aff,#001cff,#0010ff,#0006ff,#0200ff,#0700ff,#0a00ff,#0b00ff,#0c00ff,#0c00ff,#0d00ff)"></i><i style="height:2px;background:linear-gradient(90deg,#00ff7a,#00ff7e,#00ff85,#00ff8f,#00ff9a,#00ffa5,#00ffaf,#00ffb6,#00ffbb,#00ffbd,#00ffc0,#00ffc4,#00ffca,#00ffce,#00ffd0,#00ffcf,#00ffd2,#00ffe0,#00fffd,#00dbff,#00b5ff,#0098ff,#0086ff,#007dff,#0076ff,#006fff,#0067ff,#005eff,#0053ff,#0047ff,#003aff,#002dff,#0020ff,#0014ff,#000aff,#0003ff,#0100ff,#0400ff,#0500ff,#0600ff,#0600ff,#0600ff)"></i><i style="height:2px;background:linear-gradient(90deg,#00ff9c,#00ff9d,#00ffa4,#00ffae,#00ffba,#00ffc7,#00ffd3,#00ffdc,#00ffe1,#00ffe4,#00ffe7,#00ffeb,#00fff0,#00fff4,#00fff5,#00fff3,#00fff5,#00ffff,#00e7ff,#00c6ff,#00a6ff,#008dff,#007fff,#0077ff,#0072ff,#006cff,#0064ff,#005cff,#0052ff,#0047ff,#003bff,#002fff,#0022ff,#0017ff,#000dff,#0007ff,#0003ff,#0001ff,#0000ff,#0000ff,#0001ff,#0000ff)"></i><i style="height:2px;background:linear-gradient(90deg,#00ffc2,#00ffc2,#00ffc8,#00ffd2,#00ffde,#00ffea,#00fff6,#00feff,#00f8ff,#00f5ff,#00f2ff,#00eeff,#00eaff,#00e6ff,#00e6ff,#00e8ff,#00e7ff,#00deff,#00cbff,#00b1ff,#0096ff,#0082ff,#0077ff,#0071ff,#006cff,#0067ff,#0061ff,#0059ff,#0050ff,#0046ff,#003bff,#002fff,#0023ff,#0018ff,#000eff,#0009ff,#0006ff,#0005ff,#0005ff,#0005ff,#0006ff,#0005ff)"></i><i style="height:2px;background:linear-gradient(90deg,#00ffeb,#00ffeb,#00ffef,#00fff8,#00fcff,#00f0ff,#00e5ff,#00dcff,#00d6ff,#00d2ff,#00ceff,#00cbff,#00c8ff,#00c5ff,#00c5ff,#00c6ff,#00c5ff,#00beff,#00afff,#009bff,#0086ff,#0077ff,#006fff,#006aff,#0066ff,#0062ff,#005dff,#0056ff,#004eff,#0045ff,#003aff,#002fff,#0022ff,#0017ff,#000eff,#0009ff,#0007ff,#0008ff,#0009ff,#000aff,#000aff,#0009ff)"></i><i style="height:2px;background:linear-gradient(90deg,#00e8ff,#00e9ff,#00e6ff,#00dfff,#00d7ff,#00cdff,#00c4ff,#00bcff,#00b6ff,#00b1ff,#00aeff,#00abff,#00a9ff,#00a7ff,#00a7ff,#00a7ff,#00a5ff,#009fff,#0093ff,#0085ff,#0076ff,#006cff,#0066ff,#0062ff,#0060ff,#005dff,#0058ff,#0053ff,#004cff,#0043ff,#0039ff,#002dff,#0021ff,#0016ff,#000dff,#0009ff,#0009ff,#000aff,#000dff,#000fff,#000fff,#000cff)"></i><i style="height:2px;background:linear-gradient(90deg,#00bfff,#00bfff,#00beff,#00b9ff,#00b3ff,#00acff,#00a5ff,#009eff,#0099ff,#0094ff,#0090ff,#008eff,#008dff,#008cff,#008cff,#008aff,#0087ff,#0082ff,#007aff,#0070ff,#0067ff,#0060ff,#005cff,#005aff,#0059ff,#0057ff,#0054ff,#004fff,#0049ff,#0041ff,#0037ff,#002cff,#001fff,#0014ff,#000cff,#0009ff,#000aff,#000dff,#0010ff,#0013ff,#0012ff,#000fff)"></i><i style="height:2px;background:linear-gradient(90deg,#0098ff,#0099ff,#0099ff,#0096ff,#0093ff,#008eff,#0089ff,#0084ff,#007eff,#007aff,#0077ff,#0075ff,#0075ff,#0075ff,#0074ff,#0072ff,#006eff,#0069ff,#0063ff,#005dff,#0058ff,#0054ff,#0053ff,#0052ff,#0052ff,#0051ff,#004fff,#004bff,#0046ff,#003fff,#0036ff,#002aff,#001eff,#0014ff,#000cff,#000aff,#000cff,#0010ff,#0014ff,#0017ff,#0016ff,#0012ff)"></i><i style="height:2px;background:linear-gradient(90deg,#0076ff,#0078ff,#0079ff,#0078ff,#0077ff,#0074ff,#0070ff,#006cff,#0067ff,#0063ff,#0061ff,#0060ff,#0060ff,#0061ff,#0060ff,#005dff,#0059ff,#0054ff,#0050ff,#004cff,#0049ff,#0048ff,#0049ff,#004aff,#004aff,#004bff,#004aff,#0047ff,#0043ff,#003dff,#0034ff,#002aff,#001fff,#0014ff,#000dff,#000cff,#000fff,#0013ff,#0018ff,#001bff,#001aff,#0015ff)"></i><i style="height:2px;background:linear-gradient(90deg,#0059ff,#005dff,#005fff,#0060ff,#005fff,#005dff,#005aff,#0056ff,#0053ff,#0050ff,#004eff,#004eff,#004fff,#0050ff,#004fff,#004dff,#0049ff,#0045ff,#0041ff,#003eff,#003cff,#003dff,#003eff,#0041ff,#0043ff,#0045ff,#0045ff,#0043ff,#0040ff,#003bff,#0034ff,#002bff,#0020ff,#0017ff,#0010ff,#000fff,#0013ff,#0018ff,#001dff,#0020ff,#001fff,#0019ff)"></i><i style="height:2px;background:linear-gradient(90deg,#003fff,#0044ff,#0048ff,#0049ff,#0048ff,#0046ff,#0044ff,#0041ff,#003fff,#003dff,#003cff,#003dff,#003eff,#0040ff,#0040ff,#003fff,#003cff,#0038ff,#0034ff,#0031ff,#002fff,#0031ff,#0034ff,#0039ff,#003dff,#003fff,#0040ff,#003fff,#003dff,#0039ff,#0034ff,#002cff,#0023ff,#001aff,#0015ff,#0014ff,#0018ff,#001dff,#0022ff,#0025ff,#0024ff,#001eff)"></i><i style="height:2px;background:linear-gradient(90deg,#0024ff,#002bff,#002fff,#0030ff,#0030ff,#002eff,#002cff,#002aff,#0029ff,#0029ff,#0029ff,#002bff,#002dff,#002eff,#0030ff,#0030ff,#002fff,#002cff,#0028ff,#0024ff,#0022ff,#0024ff,#002aff,#0030ff,#0036ff,#0039ff,#003bff,#003bff,#003aff,#0038ff,#0034ff,#002eff,#0026ff,#001eff,#0019ff,#001aff,#001dff,#0023ff,#0028ff,#002aff,#0029ff,#0023ff)"></i><i style="height:2px;background:linear-gradient(90deg,#0006ff,#000dff,#0012ff,#0013ff,#0013ff,#0011ff,#000fff,#000eff,#000fff,#0010ff,#0012ff,#0015ff,#0017ff,#0019ff,#001cff,#001eff,#001fff,#001eff,#001aff,#0016ff,#0015ff,#0017ff,#001fff,#0028ff,#0030ff,#0034ff,#0036ff,#0037ff,#0037ff,#0036ff,#0034ff,#0030ff,#0029ff,#0023ff,#001fff,#001fff,#0023ff,#0028ff,#002dff,#0030ff,#002fff,#0029ff)"></i><i style="height:2px;background:linear-gradient(90deg,#1f00ff,#1900ff,#1400ff,#1200ff,#1200ff,#1300ff,#1400ff,#1400ff,#1200ff,#0f00ff,#0b00ff,#0800ff,#0500ff,#0100ff,#0002ff,#0006ff,#000aff,#000bff,#0009ff,#0006ff,#0005ff,#000aff,#0014ff,#0020ff,#002aff,#0030ff,#0033ff,#0034ff,#0035ff,#0035ff,#0034ff,#0031ff,#002cff,#0027ff,#0024ff,#0025ff,#0029ff,#002eff,#0033ff,#0036ff,#0035ff,#0030ff)"></i><i style="height:2px;background:linear-gradient(90deg,#4e00ff,#4900ff,#4500ff,#4300ff,#4200ff,#4200ff,#4100ff,#3f00ff,#3b00ff,#3600ff,#3100ff,#2d00ff,#2800ff,#2400ff,#1f00ff,#1900ff,#1300ff,#0f00ff,#0e00ff,#0e00ff,#0c00ff,#0400ff,#0009ff,#0018ff,#0024ff,#002cff,#0030ff,#0031ff,#0033ff,#0034ff,#0034ff,#0032ff,#002eff,#002bff,#0029ff,#002aff,#002fff,#0034ff,#0039ff,#003cff,#003bff,#0037ff)"></i><i style="height:2px;background:linear-gradient(90deg,#8400ff,#8100ff,#7f00ff,#7d00ff,#7b00ff,#7900ff,#7600ff,#7200ff,#6d00ff,#6600ff,#6000ff,#5a00ff,#5400ff,#4e00ff,#4700ff,#3e00ff,#3600ff,#2f00ff,#2a00ff,#2600ff,#1f00ff,#1300ff,#0200ff,#0010ff,#001fff,#0028ff,#002dff,#0030ff,#0032ff,#0033ff,#0034ff,#0033ff,#0030ff,#002eff,#002dff,#002fff,#0034ff,#0039ff,#003eff,#0042ff,#0042ff,#003fff)"></i><i style="height:2px;background:linear-gradient(90deg,#bb00ff,#ba00ff,#b900ff,#b800ff,#b600ff,#b300ff,#ae00ff,#a900ff,#a300ff,#9b00ff,#9300ff,#8c00ff,#8400ff,#7b00ff,#7100ff,#6500ff,#5900ff,#4f00ff,#4600ff,#3d00ff,#3200ff,#2100ff,#0c00ff,#0009ff,#001aff,#0025ff,#002bff,#002eff,#0031ff,#0032ff,#0033ff,#0033ff,#0031ff,#0030ff,#0030ff,#0033ff,#0038ff,#003eff,#0044ff,#0047ff,#0048ff,#0046ff)"></i><i style="height:2px;background:linear-gradient(90deg,#eb00ff,#ec00ff,#ed00ff,#ec00ff,#eb00ff,#e800ff,#e400ff,#df00ff,#d900ff,#d100ff,#c900ff,#bf00ff,#b500ff,#a800ff,#9a00ff,#8a00ff,#7a00ff,#6b00ff,#5e00ff,#5200ff,#4300ff,#2f00ff,#1700ff,#0002ff,#0016ff,#0022ff,#0029ff,#002dff,#0030ff,#0032ff,#0033ff,#0033ff,#0032ff,#0032ff,#0033ff,#0037ff,#003dff,#0043ff,#0049ff,#004dff,#004fff,#004dff)"></i><i style="height:2px;background:linear-gradient(90deg,#ee00ee,#ed00ed,#eb00eb,#e900e9,#e900e9,#e900e9,#eb00eb,#ed00ed,#f200f2,#f800f8,#fd00ff,#f100ff,#e300ff,#d200ff,#be00ff,#a800ff,#9300ff,#7f00ff,#7000ff,#6300ff,#5200ff,#3c00ff,#2100ff,#0500ff,#0012ff,#0020ff,#0028ff,#002bff,#002eff,#0031ff,#0032ff,#0033ff,#0033ff,#0034ff,#0036ff,#003aff,#0040ff,#0047ff,#004dff,#0052ff,#0054ff,#0054ff)"></i><i style="height:2px;background:linear-gradient(90deg,#d400d4,#d300d3,#d000d0,#cd00cd,#c900c9,#c600c6,#c400c4,#c300c3,#c500c5,#ca00ca,#d300d3,#e100e1,#f300f3,#f500ff,#db00ff,#c000ff,#a500ff,#8e00ff,#7d00ff,#6f00ff,#5f00ff,#4800ff,#2a00ff,#0b00ff,#000eff,#001eff,#0026ff,#002aff,#002dff,#0030ff,#0032ff,#0033ff,#0034ff,#0035ff,#0038ff,#003dff,#0044ff,#004bff,#0051ff,#0057ff,#0059ff,#0059ff)"></i><i style="height:2px;background:linear-gradient(90deg,#c200c2,#c200c2,#bf00bf,#b900b9,#b300b3,#ac00ac,#a700a7,#a300a3,#a300a3,#a700a7,#af00af,#bf00bf,#d400d4,#ee00ee,#f100ff,#d100ff,#b200ff,#9900ff,#8700ff,#7900ff,#6900ff,#5100ff,#3100ff,#1000ff,#000bff,#001cff,#0024ff,#0028ff,#002cff,#002fff,#0032ff,#0034ff,#0035ff,#0037ff,#003aff,#003fff,#0046ff,#004eff,#0055ff,#005aff,#005dff,#005dff)"></i><i style="height:2px;background:linear-gradient(90deg,#b700b7,#b700b7,#b400b4,#ae00ae,#a600a6,#9e009e,#960096,#910091,#8f008f,#920092,#9b009b,#ab00ab,#c200c2,#de00de,#ff00ff,#dc00ff,#bc00ff,#a100ff,#8f00ff,#8100ff,#7100ff,#5800ff,#3700ff,#1400ff,#0008ff,#001aff,#0023ff,#0027ff,#002bff,#002eff,#0031ff,#0034ff,#0036ff,#0038ff,#003bff,#0041ff,#0048ff,#0050ff,#0057ff,#005dff,#0060ff,#0060ff)"></i><i style="height:2px;background:linear-gradient(90deg,#b100b1,#b200b2,#af00af,#a800a8,#a000a0,#980098,#900090,#8a008a,#880088,#8b008b,#940094,#a400a4,#bb00bb,#d800d8,#f900f9,#e300ff,#c200ff,#a800ff,#9500ff,#8700ff,#7600ff,#5d00ff,#3a00ff,#1700ff,#0006ff,#0018ff,#0022ff,#0026ff,#002aff,#002eff,#0031ff,#0034ff,#0036ff,#0038ff,#003cff,#0042ff,#004aff,#0052ff,#0059ff,#005fff,#0062ff,#0062ff)"></i><i style="height:2px;background:linear-gradient(90deg,#b000b0,#b100b1,#ae00ae,#a800a8,#a000a0,#990099,#920092,#8d008d,#8b008b,#8e008e,#970097,#a700a7,#bd00bd,#d800d8,#f800f8,#e600ff,#c700ff,#ad00ff,#9b00ff,#8c00ff,#7a00ff,#6000ff,#3d00ff,#1900ff,#0005ff,#0017ff,#0021ff,#0026ff,#0029ff,#002dff,#0031ff,#0034ff,#0036ff,#0039ff,#003dff,#0044ff,#004bff,#0053ff,#005bff,#0060ff,#0063ff,#0063ff)"></i><i style="height:2px;background:linear-gradient(90deg,#b200b2,#b300b3,#b000b0,#ab00ab,#a500a5,#9e009e,#980098,#940094,#940094,#970097,#a000a0,#ae00ae,#c300c3,#dc00dc,#f900f9,#e700ff,#ca00ff,#b200ff,#9f00ff,#9000ff,#7d00ff,#6200ff,#3f00ff,#1a00ff,#0003ff,#0016ff,#0020ff,#0025ff,#0029ff,#002dff,#0031ff,#0034ff,#0037ff,#003aff,#003eff,#0045ff,#004dff,#0055ff,#005cff,#0062ff,#0065ff,#0065ff)"></i><i style="height:2px;background:linear-gradient(90deg,#b800b8,#b700b7,#b500b5,#b000b0,#ab00ab,#a500a5,#a100a1,#9e009e,#9e009e,#a200a2,#aa00aa,#b700b7,#c900c9,#e000e0,#fa00fa,#e800ff,#cd00ff,#b500ff,#a300ff,#9300ff,#8000ff,#6400ff,#4000ff,#1b00ff,#0003ff,#0016ff,#0020ff,#0025ff,#0029ff,#002dff,#0031ff,#0034ff,#0037ff,#003bff,#0040ff,#0046ff,#004eff,#0056ff,#005eff,#0063ff,#0066ff,#0066ff)"></i><i style="height:2px;background:linear-gradient(90deg,#bf00bf,#be00be,#bb00bb,#b700b7,#b200b2,#ae00ae,#aa00aa,#a800a8,#a800a8,#ac00ac,#b300b3,#be00be,#cd00cd,#e100e1,#f900f9,#eb00ff,#d000ff,#b900ff,#a700ff,#9700ff,#8200ff,#6600ff,#4100ff,#1c00ff,#0002ff,#0015ff,#0020ff,#0025ff,#0029ff,#002dff,#0031ff,#0035ff,#0038ff,#003cff,#0041ff,#0048ff,#0050ff,#0058ff,#005fff,#0065ff,#0069ff,#0069ff)"></i><i style="height:2px;background:linear-gradient(90deg,#c700c7,#c600c6,#c300c3,#bf00bf,#ba00ba,#b600b6,#b200b2,#b100b1,#b100b1,#b400b4,#ba00ba,#c300c3,#d000d0,#e100e1,#f600f6,#ee00ff,#d400ff,#bd00ff,#aa00ff,#9a00ff,#8500ff,#6800ff,#4200ff,#1d00ff,#0002ff,#0016ff,#0020ff,#0025ff,#0029ff,#002dff,#0032ff,#0036ff,#003aff,#003eff,#0044ff,#004bff,#0052ff,#005aff,#0062ff,#0068ff,#006bff,#006cff)"></i><i style="height:2px;background:linear-gradient(90deg,#d000d0,#ce00ce,#cb00cb,#c700c7,#c200c2,#be00be,#bb00bb,#b900b9,#b900b9,#bb00bb,#c000c0,#c600c6,#d000d0,#df00df,#f300f3,#f200ff,#d800ff,#c000ff,#ae00ff,#9d00ff,#8800ff,#6a00ff,#4400ff,#1d00ff,#0002ff,#0016ff,#0020ff,#0025ff,#0029ff,#002eff,#0032ff,#0037ff,#003bff,#0040ff,#0046ff,#004dff,#0055ff,#005dff,#0064ff,#006aff,#006fff,#0070ff)"></i><i style="height:2px;background:linear-gradient(90deg,#d900d9,#d700d7,#d300d3,#cf00cf,#ca00ca,#c600c6,#c300c3,#c100c1,#c000c0,#c100c1,#c400c4,#c900c9,#d100d1,#dd00dd,#ef00ef,#f600ff,#dc00ff,#c400ff,#b100ff,#a000ff,#8a00ff,#6c00ff,#4500ff,#1d00ff,#0003ff,#0016ff,#0020ff,#0025ff,#0029ff,#002eff,#0033ff,#0038ff,#003dff,#0042ff,#0048ff,#0050ff,#0057ff,#005fff,#0067ff,#006dff,#0072ff,#0074ff)"></i><i style="height:2px;background:linear-gradient(90deg,#e100e1,#df00df,#db00db,#d700d7,#d200d2,#ce00ce,#ca00ca,#c800c8,#c700c7,#c700c7,#c900c9,#cc00cc,#d100d1,#db00db,#ec00ec,#fa00ff,#e000ff,#c800ff,#b400ff,#a200ff,#8d00ff,#6d00ff,#4600ff,#1e00ff,#0003ff,#0016ff,#0020ff,#0025ff,#0029ff,#002eff,#0034ff,#0039ff,#003fff,#0045ff,#004bff,#0052ff,#005aff,#0062ff,#0069ff,#0070ff,#0075ff,#0079ff)"></i><i style="height:2px;background:linear-gradient(90deg,#e900e9,#e700e7,#e300e3,#df00df,#da00da,#d600d6,#d200d2,#cf00cf,#cd00cd,#cd00cd,#cd00cd,#ce00ce,#d200d2,#da00da,#e900e9,#fe00ff,#e400ff,#cc00ff,#b800ff,#a600ff,#8f00ff,#6f00ff,#4600ff,#1e00ff,#0003ff,#0017ff,#0020ff,#0025ff,#002aff,#002fff,#0035ff,#003bff,#0041ff,#0047ff,#004dff,#0055ff,#005cff,#0064ff,#006bff,#0072ff,#0078ff,#007cff)"></i><i style="height:2px;background:linear-gradient(90deg,#ef00ef,#ed00ed,#ea00ea,#e600e6,#e100e1,#dd00dd,#d800d8,#d500d5,#d300d3,#d200d2,#d100d1,#d100d1,#d300d3,#da00da,#e800e8,#fe00fe,#e800ff,#d000ff,#bc00ff,#a900ff,#9100ff,#7000ff,#4700ff,#1e00ff,#0003ff,#0017ff,#0020ff,#0025ff,#002aff,#002fff,#0036ff,#003cff,#0042ff,#0049ff,#0050ff,#0057ff,#005eff,#0066ff,#006dff,#0074ff,#007bff,#0080ff)"></i><i style="height:2px;background:linear-gradient(90deg,#f400f4,#f300f3,#f000f0,#ec00ec,#e800e8,#e300e3,#df00df,#db00db,#d800d8,#d600d6,#d500d5,#d400d4,#d600d6,#db00db,#e800e8,#fc00fc,#eb00ff,#d400ff,#bf00ff,#ac00ff,#9300ff,#7100ff,#4700ff,#1e00ff,#0003ff,#0017ff,#0020ff,#0025ff,#002aff,#0030ff,#0036ff,#003dff,#0044ff,#004bff,#0052ff,#0059ff,#0061ff,#0068ff,#006fff,#0077ff,#007eff,#0083ff)"></i><i style="height:2px;background:linear-gradient(90deg,#f800f8,#f800f8,#f600f6,#f200f2,#ee00ee,#e900e9,#e400e4,#e000e0,#dd00dd,#db00db,#d900d9,#d800d8,#d800d8,#dd00dd,#e900e9,#fb00fb,#ed00ff,#d700ff,#c300ff,#ae00ff,#9400ff,#7100ff,#4700ff,#1e00ff,#0003ff,#0017ff,#0020ff,#0025ff,#002aff,#0030ff,#0037ff,#003fff,#0046ff,#004dff,#0054ff,#005bff,#0063ff,#006aff,#0072ff,#0079ff,#0080ff,#0086ff)"></i><i style="height:2px;background:linear-gradient(90deg,#fc00fc,#fc00fc,#fa00fa,#f700f7,#f300f3,#ee00ee,#ea00ea,#e500e5,#e200e2,#df00df,#dd00dd,#db00db,#dc00dc,#e000e0,#eb00eb,#fb00fb,#ef00ff,#da00ff,#c500ff,#b000ff,#9500ff,#7200ff,#4700ff,#1e00ff,#0003ff,#0016ff,#0020ff,#0025ff,#002aff,#0031ff,#0039ff,#0040ff,#0048ff,#004fff,#0056ff,#005eff,#0065ff,#006dff,#0074ff,#007cff,#0083ff,#0089ff)"></i><i style="height:2px;background:linear-gradient(90deg,#ff00ff,#ff00ff,#fe00fe,#fc00fc,#f800f8,#f300f3,#ee00ee,#ea00ea,#e600e6,#e300e3,#e000e0,#df00df,#df00df,#e400e4,#ed00ed,#fc00fc,#ef00ff,#db00ff,#c700ff,#b100ff,#9500ff,#7100ff,#4700ff,#1e00ff,#0003ff,#0016ff,#0020ff,#0025ff,#002bff,#0032ff,#003aff,#0042ff,#004aff,#0051ff,#0059ff,#0060ff,#0068ff,#006fff,#0077ff,#007eff,#0086ff,#008cff)"></i><i style="height:2px;background:linear-gradient(90deg,#fc00ff,#fb00ff,#fc00ff,#ff00ff,#fc00fc,#f700f7,#f200f2,#ee00ee,#ea00ea,#e600e6,#e400e4,#e200e2,#e300e3,#e800e8,#f100f1,#ff00ff,#ee00ff,#db00ff,#c700ff,#b100ff,#9500ff,#7100ff,#4700ff,#1d00ff,#0003ff,#0016ff,#0020ff,#0025ff,#002bff,#0033ff,#003cff,#0044ff,#004cff,#0054ff,#005bff,#0063ff,#006aff,#0072ff,#007aff,#0082ff,#0089ff,#008fff)"></i><i style="height:2px;background:linear-gradient(90deg,#fa00ff,#f900ff,#f900ff,#fc00ff,#ff00ff,#fa00fa,#f600f6,#f100f1,#ed00ed,#e900e9,#e700e7,#e600e6,#e700e7,#ec00ec,#f400f4,#fc00ff,#ec00ff,#d900ff,#c600ff,#b000ff,#9400ff,#7000ff,#4600ff,#1d00ff,#0003ff,#0016ff,#001fff,#0025ff,#002cff,#0034ff,#003eff,#0047ff,#004fff,#0056ff,#005dff,#0065ff,#006dff,#0076ff,#007eff,#0085ff,#008cff,#0091ff)"></i><i style="height:2px;background:linear-gradient(90deg,#f700ff,#f600ff,#f700ff,#f900ff,#fd00ff,#fd00fd,#f900f9,#f400f4,#f000f0,#ec00ec,#ea00ea,#e900e9,#eb00eb,#f000f0,#f900f9,#f800ff,#e900ff,#d700ff,#c400ff,#ae00ff,#9300ff,#6f00ff,#4500ff,#1d00ff,#0003ff,#0016ff,#001fff,#0025ff,#002cff,#0036ff,#0040ff,#0049ff,#0051ff,#0058ff,#0060ff,#0068ff,#0070ff,#0079ff,#0082ff,#0089ff,#0090ff,#0094ff)"></i><i style="height:2px;background:linear-gradient(90deg,#f400ff,#f400ff,#f500ff,#f700ff,#fb00ff,#ff00ff,#fb00fb,#f700f7,#f200f2,#ef00ef,#ed00ed,#ed00ed,#ef00ef,#f400f4,#fd00fd,#f400ff,#e500ff,#d300ff,#c100ff,#ac00ff,#9100ff,#6d00ff,#4400ff,#1c00ff,#0003ff,#0016ff,#001fff,#0025ff,#002dff,#0037ff,#0042ff,#004cff,#0054ff,#005bff,#0062ff,#006bff,#0074ff,#007dff,#0086ff,#008dff,#0093ff,#0097ff)"></i><i style="height:2px;background:linear-gradient(90deg,#f200ff,#f200ff,#f300ff,#f600ff,#f900ff,#fd00ff,#fd00fd,#f900f9,#f500f5,#f200f2,#f000f0,#f000f0,#f300f3,#f900f9,#fc00ff,#ef00ff,#e000ff,#cf00ff,#be00ff,#a900ff,#8f00ff,#6c00ff,#4300ff,#1c00ff,#0003ff,#0015ff,#001fff,#0025ff,#002eff,#0039ff,#0044ff,#004fff,#0057ff,#005dff,#0065ff,#006dff,#0077ff,#0081ff,#008aff,#0092ff,#0097ff,#0099ff)"></i><i style="height:2px;background:linear-gradient(90deg,#f000ff,#f000ff,#f200ff,#f400ff,#f800ff,#fb00ff,#ff00ff,#fa00fa,#f700f7,#f400f4,#f300f3,#f300f3,#f700f7,#fd00fd,#f700ff,#ea00ff,#db00ff,#cb00ff,#ba00ff,#a600ff,#8c00ff,#6a00ff,#4200ff,#1b00ff,#0003ff,#0015ff,#001eff,#0025ff,#002eff,#003aff,#0047ff,#0051ff,#0059ff,#0060ff,#0067ff,#0070ff,#007aff,#0085ff,#008eff,#0096ff,#009aff,#009bff)"></i><i style="height:2px;background:linear-gradient(90deg,#ed00ff,#ee00ff,#f000ff,#f300ff,#f700ff,#fa00ff,#fe00ff,#fc00fc,#f800f8,#f600f6,#f500f5,#f600f6,#fb00fb,#fc00ff,#f200ff,#e500ff,#d600ff,#c600ff,#b500ff,#a200ff,#8a00ff,#6900ff,#4100ff,#1b00ff,#0003ff,#0015ff,#001eff,#0025ff,#002fff,#003cff,#0049ff,#0054ff,#005cff,#0062ff,#0069ff,#0073ff,#007dff,#0088ff,#0092ff,#009aff,#009eff,#009eff)"></i><i style="height:2px;background:linear-gradient(90deg,#eb00ff,#ed00ff,#ef00ff,#f200ff,#f600ff,#fa00ff,#fd00ff,#fd00fd,#fa00fa,#f800f8,#f700f7,#f900f9,#fe00fe,#f800ff,#ee00ff,#e000ff,#d100ff,#c100ff,#b100ff,#9f00ff,#8700ff,#6700ff,#4000ff,#1a00ff,#0003ff,#0015ff,#001eff,#0025ff,#002fff,#003dff,#004bff,#0056ff,#005eff,#0065ff,#006cff,#0075ff,#0080ff,#008cff,#0096ff,#009dff,#00a1ff,#00a0ff)"></i><i style="height:2px;background:linear-gradient(90deg,#e900ff,#eb00ff,#ee00ff,#f200ff,#f500ff,#f900ff,#fd00ff,#fe00fe,#fb00fb,#f900f9,#fa00fa,#fc00fc,#fd00ff,#f500ff,#e900ff,#dc00ff,#cc00ff,#bc00ff,#ad00ff,#9c00ff,#8500ff,#6500ff,#3f00ff,#1a00ff,#0003ff,#0014ff,#001dff,#0025ff,#0030ff,#003eff,#004dff,#0059ff,#0061ff,#0067ff,#006eff,#0078ff,#0083ff,#008fff,#0099ff,#00a1ff,#00a4ff,#00a2ff)"></i><i style="height:2px;background:linear-gradient(90deg,#e800ff,#ea00ff,#ed00ff,#f100ff,#f500ff,#f900ff,#fc00ff,#fe00fe,#fc00fc,#fb00fb,#fc00fc,#ff00ff,#fa00ff,#f100ff,#e600ff,#d800ff,#c800ff,#b800ff,#a900ff,#9900ff,#8300ff,#6400ff,#3f00ff,#1a00ff,#0003ff,#0014ff,#001dff,#0024ff,#0030ff,#003fff,#004fff,#005bff,#0063ff,#0069ff,#0070ff,#007aff,#0085ff,#0091ff,#009cff,#00a4ff,#00a6ff,#00a4ff)"></i><i style="height:2px;background:linear-gradient(90deg,#e600ff,#e800ff,#ec00ff,#f000ff,#f400ff,#f800ff,#fc00ff,#ff00ff,#fd00fd,#fc00fc,#fe00fe,#fd00ff,#f700ff,#ee00ff,#e300ff,#d400ff,#c400ff,#b500ff,#a600ff,#9600ff,#8100ff,#6300ff,#3e00ff,#1a00ff,#0003ff,#0013ff,#001cff,#0024ff,#0030ff,#0040ff,#0050ff,#005dff,#0065ff,#006bff,#0072ff,#007cff,#0088ff,#0094ff,#009eff,#00a6ff,#00a8ff,#00a5ff)"></i><i style="height:2px;background:linear-gradient(90deg,#e400ff,#e700ff,#ea00ff,#ef00ff,#f400ff,#f800ff,#fc00ff,#ff00ff,#fe00fe,#fe00fe,#fe00ff,#fb00ff,#f500ff,#ec00ff,#e000ff,#d200ff,#c200ff,#b200ff,#a400ff,#9400ff,#7f00ff,#6200ff,#3e00ff,#1a00ff,#0002ff,#0012ff,#001bff,#0023ff,#002fff,#0040ff,#0051ff,#005eff,#0067ff,#006dff,#0074ff,#007eff,#0089ff,#0095ff,#00a0ff,#00a7ff,#00aaff,#00a7ff)"></i><i style="height:2px;background:linear-gradient(90deg,#e300ff,#e500ff,#e900ff,#ee00ff,#f300ff,#f800ff,#fc00ff,#ff00ff,#fe00fe,#ff00ff,#fd00ff,#f900ff,#f200ff,#ea00ff,#de00ff,#d000ff,#c000ff,#b100ff,#a200ff,#9300ff,#7e00ff,#6100ff,#3d00ff,#1a00ff,#0002ff,#0011ff,#001aff,#0022ff,#002fff,#0040ff,#0051ff,#005fff,#0068ff,#006fff,#0075ff,#007fff,#008bff,#0096ff,#00a1ff,#00a8ff,#00abff,#00a9ff)"></i><i style="height:2px;background:linear-gradient(90deg,#e100ff,#e300ff,#e700ff,#ec00ff,#f200ff,#f700ff,#fc00ff,#ff00ff,#ff00ff,#fe00ff,#fb00ff,#f700ff,#f100ff,#e800ff,#dd00ff,#cf00ff,#bf00ff,#b000ff,#a100ff,#9200ff,#7e00ff,#6100ff,#3d00ff,#1a00ff,#0001ff,#0011ff,#0019ff,#0021ff,#002eff,#0040ff,#0052ff,#0060ff,#0069ff,#0070ff,#0077ff,#0080ff,#008cff,#0097ff,#00a1ff,#00a9ff,#00acff,#00aaff)"></i><i style="height:2px;background:linear-gradient(90deg,#df00ff,#e100ff,#e500ff,#eb00ff,#f100ff,#f700ff,#fc00ff,#fe00ff,#ff00ff,#fd00ff,#f900ff,#f500ff,#ef00ff,#e700ff,#dc00ff,#ce00ff,#bf00ff,#af00ff,#a100ff,#9200ff,#7d00ff,#6100ff,#3d00ff,#1b00ff,#0000ff,#000fff,#0018ff,#0020ff,#002dff,#003fff,#0052ff,#0061ff,#006aff,#0071ff,#0078ff,#0082ff,#008cff,#0097ff,#00a1ff,#00a8ff,#00acff,#00abff)"></i><i style="height:2px;background:linear-gradient(90deg,#de00ff,#df00ff,#e300ff,#e900ff,#ef00ff,#f600ff,#fb00ff,#fe00ff,#fe00ff,#fb00ff,#f700ff,#f300ff,#ed00ff,#e600ff,#db00ff,#ce00ff,#bf00ff,#b000ff,#a100ff,#9200ff,#7d00ff,#6100ff,#3e00ff,#1c00ff,#0100ff,#000eff,#0017ff,#001fff,#002cff,#003fff,#0052ff,#0061ff,#006bff,#0073ff,#007aff,#0083ff,#008dff,#0097ff,#00a1ff,#00a8ff,#00acff,#00adff)"></i><i style="height:2px;background:linear-gradient(90deg,#dc00ff,#dc00ff,#e000ff,#e600ff,#ed00ff,#f500ff,#fa00ff,#fd00ff,#fd00ff,#fa00ff,#f500ff,#f100ff,#ec00ff,#e500ff,#db00ff,#ce00ff,#bf00ff,#b000ff,#a200ff,#9200ff,#7d00ff,#6100ff,#3e00ff,#1c00ff,#0200ff,#000dff,#0015ff,#001dff,#002bff,#003eff,#0051ff,#0061ff,#006cff,#0074ff,#007bff,#0083ff,#008dff,#0097ff,#00a0ff,#00a7ff,#00acff,#00aeff)"></i><i style="height:2px;background:linear-gradient(90deg,#da00ff,#d900ff,#dd00ff,#e300ff,#eb00ff,#f300ff,#f900ff,#fc00ff,#fc00ff,#f800ff,#f300ff,#ef00ff,#ea00ff,#e400ff,#db00ff,#ce00ff,#c000ff,#b100ff,#a300ff,#9200ff,#7e00ff,#6100ff,#3f00ff,#1d00ff,#0300ff,#000bff,#0014ff,#001cff,#002aff,#003dff,#0050ff,#0061ff,#006cff,#0074ff,#007cff,#0084ff,#008dff,#0096ff,#009fff,#00a7ff,#00acff,#00afff)"></i><i style="height:2px;background:linear-gradient(90deg,#d700ff,#d600ff,#da00ff,#e000ff,#e900ff,#f100ff,#f800ff,#fb00ff,#fa00ff,#f600ff,#f100ff,#ec00ff,#e800ff,#e300ff,#da00ff,#ce00ff,#c100ff,#b200ff,#a300ff,#9300ff,#7e00ff,#6200ff,#4000ff,#1e00ff,#0500ff,#000aff,#0012ff,#001bff,#0029ff,#003cff,#0050ff,#0061ff,#006cff,#0075ff,#007dff,#0085ff,#008dff,#0096ff,#009eff,#00a6ff,#00acff,#00b0ff)"></i><i style="height:2px;background:linear-gradient(90deg,#d400ff,#d300ff,#d600ff,#dd00ff,#e600ff,#ee00ff,#f600ff,#f900ff,#f800ff,#f400ff,#ee00ff,#ea00ff,#e600ff,#e100ff,#da00ff,#cf00ff,#c100ff,#b300ff,#a400ff,#9400ff,#7f00ff,#6200ff,#4000ff,#2000ff,#0600ff,#0008ff,#0011ff,#0019ff,#0027ff,#003bff,#004fff,#0060ff,#006dff,#0076ff,#007eff,#0086ff,#008eff,#0096ff,#009eff,#00a5ff,#00acff,#00b1ff)"></i><i style="height:2px;background:linear-gradient(90deg,#d100ff,#cf00ff,#d200ff,#d900ff,#e200ff,#eb00ff,#f300ff,#f600ff,#f500ff,#f100ff,#eb00ff,#e700ff,#e400ff,#df00ff,#d900ff,#ce00ff,#c200ff,#b400ff,#a500ff,#9400ff,#7f00ff,#6300ff,#4200ff,#2100ff,#0800ff,#0006ff,#000fff,#0018ff,#0026ff,#003aff,#004eff,#0060ff,#006dff,#0076ff,#007eff,#0086ff,#008eff,#0096ff,#009dff,#00a5ff,#00acff,#00b1ff)"></i><i style="height:2px;background:linear-gradient(90deg,#cd00ff,#cb00ff,#cd00ff,#d500ff,#de00ff,#e800ff,#ef00ff,#f300ff,#f200ff,#ed00ff,#e800ff,#e400ff,#e100ff,#dd00ff,#d700ff,#ce00ff,#c200ff,#b400ff,#a600ff,#9500ff,#8000ff,#6400ff,#4300ff,#2300ff,#0a00ff,#0005ff,#000dff,#0016ff,#0025ff,#0038ff,#004dff,#005fff,#006cff,#0077ff,#007fff,#0087ff,#008eff,#0096ff,#009dff,#00a4ff,#00acff,#00b2ff)"></i><i style="height:2px;background:linear-gradient(90deg,#c800ff,#c600ff,#c800ff,#d000ff,#d900ff,#e300ff,#eb00ff,#ef00ff,#ee00ff,#e900ff,#e400ff,#e000ff,#de00ff,#db00ff,#d500ff,#cc00ff,#c100ff,#b400ff,#a600ff,#9500ff,#8000ff,#6500ff,#4400ff,#2500ff,#0c00ff,#0003ff,#000cff,#0015ff,#0024ff,#0037ff,#004cff,#005eff,#006cff,#0077ff,#0080ff,#0087ff,#008fff,#0096ff,#009dff,#00a5ff,#00acff,#00b3ff)"></i><i style="height:2px;background:linear-gradient(90deg,#c300ff,#c100ff,#c300ff,#ca00ff,#d400ff,#de00ff,#e600ff,#ea00ff,#e900ff,#e500ff,#e000ff,#dc00ff,#da00ff,#d700ff,#d300ff,#cb00ff,#c000ff,#b400ff,#a600ff,#9600ff,#8100ff,#6600ff,#4600ff,#2700ff,#0e00ff,#0000ff,#000aff,#0014ff,#0023ff,#0036ff,#004bff,#005eff,#006cff,#0077ff,#0080ff,#0088ff,#0090ff,#0097ff,#009eff,#00a5ff,#00adff,#00b4ff)"></i><i style="height:2px;background:linear-gradient(90deg,#be00ff,#bb00ff,#bd00ff,#c500ff,#ce00ff,#d800ff,#e000ff,#e500ff,#e400ff,#e000ff,#db00ff,#d800ff,#d600ff,#d400ff,#d000ff,#c800ff,#bf00ff,#b300ff,#a600ff,#9600ff,#8100ff,#6700ff,#4700ff,#2900ff,#1100ff,#0200ff,#0008ff,#0012ff,#0022ff,#0035ff,#004aff,#005dff,#006bff,#0077ff,#0080ff,#0089ff,#0091ff,#0098ff,#009fff,#00a7ff,#00aeff,#00b5ff)"></i><i style="height:2px;background:linear-gradient(90deg,#b800ff,#b500ff,#b800ff,#bf00ff,#c800ff,#d200ff,#da00ff,#df00ff,#de00ff,#db00ff,#d600ff,#d300ff,#d200ff,#d000ff,#cc00ff,#c600ff,#bd00ff,#b200ff,#a500ff,#9600ff,#8200ff,#6800ff,#4900ff,#2b00ff,#1300ff,#0400ff,#0006ff,#0011ff,#0021ff,#0034ff,#0049ff,#005cff,#006bff,#0077ff,#0081ff,#0089ff,#0092ff,#0099ff,#00a1ff,#00a8ff,#00afff,#00b6ff)"></i><i style="height:2px;background:linear-gradient(90deg,#b200ff,#af00ff,#b100ff,#b800ff,#c200ff,#cc00ff,#d400ff,#d900ff,#d900ff,#d500ff,#d100ff,#cf00ff,#cd00ff,#cc00ff,#c900ff,#c300ff,#bb00ff,#b000ff,#a400ff,#9600ff,#8200ff,#6900ff,#4b00ff,#2e00ff,#1600ff,#0600ff,#0005ff,#0010ff,#0020ff,#0033ff,#0048ff,#005bff,#006aff,#0076ff,#0081ff,#008aff,#0093ff,#009bff,#00a2ff,#00a9ff,#00b1ff,#00b7ff)"></i><i style="height:2px;background:linear-gradient(90deg,#ac00ff,#a900ff,#ab00ff,#b200ff,#bb00ff,#c500ff,#cd00ff,#d200ff,#d300ff,#d000ff,#cc00ff,#ca00ff,#c900ff,#c800ff,#c500ff,#c000ff,#b800ff,#af00ff,#a400ff,#9500ff,#8200ff,#6a00ff,#4d00ff,#3000ff,#1800ff,#0800ff,#0003ff,#000fff,#001fff,#0032ff,#0047ff,#005aff,#0069ff,#0076ff,#0081ff,#008bff,#0094ff,#009cff,#00a4ff,#00abff,#00b2ff,#00b8ff)"></i><i style="height:2px;background:linear-gradient(90deg,#a500ff,#a300ff,#a500ff,#ac00ff,#b500ff,#bf00ff,#c700ff,#cc00ff,#cc00ff,#ca00ff,#c700ff,#c500ff,#c400ff,#c300ff,#c100ff,#bd00ff,#b600ff,#ad00ff,#a300ff,#9500ff,#8300ff,#6b00ff,#4e00ff,#3200ff,#1b00ff,#0b00ff,#0001ff,#000dff,#001eff,#0031ff,#0046ff,#0059ff,#0068ff,#0075ff,#0081ff,#008bff,#0095ff,#009dff,#00a5ff,#00adff,#00b4ff,#00b9ff)"></i><i style="height:2px;background:linear-gradient(90deg,#9f00ff,#9d00ff,#9f00ff,#a600ff,#af00ff,#b800ff,#c000ff,#c500ff,#c600ff,#c400ff,#c200ff,#c000ff,#c000ff,#bf00ff,#bd00ff,#b900ff,#b300ff,#ac00ff,#a200ff,#9500ff,#8300ff,#6c00ff,#5000ff,#3400ff,#1d00ff,#0d00ff,#0000ff,#000cff,#001dff,#0030ff,#0045ff,#0057ff,#0067ff,#0075ff,#0080ff,#008bff,#0095ff,#009fff,#00a7ff,#00afff,#00b5ff,#00baff)"></i><i style="height:2px;background:linear-gradient(90deg,#9900ff,#9700ff,#9900ff,#a000ff,#a900ff,#b200ff,#ba00ff,#bf00ff,#c000ff,#bf00ff,#bd00ff,#bc00ff,#bb00ff,#bb00ff,#b900ff,#b600ff,#b100ff,#aa00ff,#a100ff,#9400ff,#8400ff,#6d00ff,#5200ff,#3700ff,#2000ff,#0f00ff,#0200ff,#000bff,#001bff,#002fff,#0043ff,#0056ff,#0066ff,#0074ff,#0080ff,#008cff,#0096ff,#00a0ff,#00a9ff,#00b0ff,#00b7ff,#00bcff)"></i><i style="height:2px;background:linear-gradient(90deg,#9300ff,#9100ff,#9400ff,#9a00ff,#a300ff,#ac00ff,#b400ff,#b900ff,#ba00ff,#ba00ff,#b800ff,#b700ff,#b700ff,#b700ff,#b600ff,#b300ff,#af00ff,#a800ff,#a000ff,#9400ff,#8400ff,#6e00ff,#5400ff,#3900ff,#2200ff,#1100ff,#0300ff,#000aff,#001aff,#002eff,#0042ff,#0054ff,#0065ff,#0073ff,#0080ff,#008cff,#0097ff,#00a1ff,#00aaff,#00b2ff,#00b9ff,#00bdff)"></i><i style="height:2px;background:linear-gradient(90deg,#8d00ff,#8c00ff,#8e00ff,#9500ff,#9d00ff,#a600ff,#ae00ff,#b300ff,#b500ff,#b400ff,#b300ff,#b300ff,#b300ff,#b300ff,#b200ff,#b000ff,#ac00ff,#a700ff,#9f00ff,#9400ff,#8400ff,#6f00ff,#5500ff,#3b00ff,#2400ff,#1300ff,#0500ff,#0009ff,#0019ff,#002cff,#0040ff,#0053ff,#0063ff,#0072ff,#007fff,#008bff,#0097ff,#00a1ff,#00abff,#00b3ff,#00baff,#00bfff)"></i><i style="height:2px;background:linear-gradient(90deg,#8700ff,#8600ff,#8a00ff,#9000ff,#9800ff,#a100ff,#a900ff,#ae00ff,#b000ff,#b000ff,#af00ff,#af00ff,#af00ff,#b000ff,#af00ff,#ae00ff,#aa00ff,#a500ff,#9e00ff,#9400ff,#8500ff,#7000ff,#5700ff,#3c00ff,#2600ff,#1400ff,#0600ff,#0008ff,#0018ff,#002bff,#003eff,#0051ff,#0061ff,#0070ff,#007eff,#008bff,#0097ff,#00a2ff,#00acff,#00b4ff,#00bcff,#00c1ff)"></i><i style="height:2px;background:linear-gradient(90deg,#8200ff,#8200ff,#8500ff,#8c00ff,#9400ff,#9c00ff,#a400ff,#a900ff,#ab00ff,#ab00ff,#ab00ff,#ab00ff,#ac00ff,#ad00ff,#ad00ff,#ab00ff,#a900ff,#a400ff,#9d00ff,#9300ff,#8500ff,#7100ff,#5800ff,#3e00ff,#2700ff,#1600ff,#0800ff,#0006ff,#0017ff,#0029ff,#003cff,#004fff,#0060ff,#006fff,#007dff,#008aff,#0097ff,#00a2ff,#00acff,#00b5ff,#00bdff,#00c3ff)"></i><i style="height:2px;background:linear-gradient(90deg,#7d00ff,#7d00ff,#8100ff,#8700ff,#9000ff,#9800ff,#a000ff,#a500ff,#a700ff,#a700ff,#a700ff,#a700ff,#a800ff,#aa00ff,#aa00ff,#a900ff,#a700ff,#a300ff,#9d00ff,#9300ff,#8500ff,#7200ff,#5900ff,#4000ff,#2900ff,#1700ff,#0900ff,#0005ff,#0015ff,#0027ff,#003aff,#004dff,#005eff,#006dff,#007cff,#008aff,#0096ff,#00a2ff,#00acff,#00b6ff,#00bfff,#00c6ff)"></i><i style="height:2px;background:linear-gradient(90deg,#7800ff,#7900ff,#7d00ff,#8300ff,#8c00ff,#9400ff,#9b00ff,#a100ff,#a300ff,#a300ff,#a300ff,#a400ff,#a500ff,#a700ff,#a800ff,#a800ff,#a600ff,#a200ff,#9c00ff,#9300ff,#8600ff,#7200ff,#5a00ff,#4100ff,#2a00ff,#1800ff,#0a00ff,#0004ff,#0014ff,#0025ff,#0038ff,#004aff,#005cff,#006cff,#007bff,#0089ff,#0095ff,#00a1ff,#00acff,#00b7ff,#00c0ff,#00c8ff)"></i><i style="height:2px;background:linear-gradient(90deg,#7400ff,#7400ff,#7800ff,#7f00ff,#8700ff,#9000ff,#9700ff,#9d00ff,#9f00ff,#9f00ff,#a000ff,#a100ff,#a300ff,#a500ff,#a600ff,#a600ff,#a400ff,#a100ff,#9b00ff,#9300ff,#8600ff,#7300ff,#5b00ff,#4200ff,#2b00ff,#1a00ff,#0b00ff,#0003ff,#0012ff,#0024ff,#0036ff,#0048ff,#0059ff,#006aff,#007aff,#0088ff,#0095ff,#00a1ff,#00acff,#00b7ff,#00c2ff,#00cbff)"></i><i style="height:2px;background:linear-gradient(90deg,#6f00ff,#7000ff,#7400ff,#7b00ff,#8300ff,#8c00ff,#9300ff,#9800ff,#9b00ff,#9c00ff,#9c00ff,#9e00ff,#a000ff,#a200ff,#a400ff,#a400ff,#a300ff,#a000ff,#9b00ff,#9300ff,#8600ff,#7400ff,#5c00ff,#4300ff,#2c00ff,#1b00ff,#0c00ff,#0002ff,#0011ff,#0022ff,#0033ff,#0045ff,#0057ff,#0068ff,#0078ff,#0087ff,#0094ff,#00a0ff,#00acff,#00b8ff,#00c3ff,#00cdff)"></i><i style="height:2px;background:linear-gradient(90deg,#6b00ff,#6c00ff,#7000ff,#7700ff,#7f00ff,#8700ff,#8f00ff,#9400ff,#9700ff,#9800ff,#9900ff,#9a00ff,#9d00ff,#a000ff,#a200ff,#a200ff,#a100ff,#9f00ff,#9a00ff,#9300ff,#8700ff,#7400ff,#5d00ff,#4400ff,#2d00ff,#1c00ff,#0d00ff,#0001ff,#000fff,#0020ff,#0031ff,#0043ff,#0055ff,#0066ff,#0077ff,#0086ff,#0093ff,#00a0ff,#00acff,#00b8ff,#00c5ff,#00d0ff)"></i><i style="height:2px;background:linear-gradient(90deg,#6600ff,#6700ff,#6b00ff,#7200ff,#7a00ff,#8300ff,#8a00ff,#9000ff,#9300ff,#9400ff,#9500ff,#9700ff,#9b00ff,#9e00ff,#a000ff,#a100ff,#a000ff,#9d00ff,#9900ff,#9200ff,#8700ff,#7500ff,#5e00ff,#4500ff,#2e00ff,#1d00ff,#0e00ff,#0000ff,#000eff,#001eff,#002eff,#0040ff,#0053ff,#0065ff,#0076ff,#0085ff,#0093ff,#009fff,#00acff,#00b9ff,#00c6ff,#00d2ff)"></i><i style="height:2px;background:linear-gradient(90deg,#6200ff,#6300ff,#6700ff,#6d00ff,#7500ff,#7d00ff,#8500ff,#8b00ff,#8e00ff,#9000ff,#9200ff,#9400ff,#9800ff,#9b00ff,#9e00ff,#9f00ff,#9e00ff,#9c00ff,#9900ff,#9200ff,#8700ff,#7500ff,#5e00ff,#4600ff,#2f00ff,#1d00ff,#0f00ff,#0200ff,#000cff,#001cff,#002cff,#003eff,#0050ff,#0063ff,#0074ff,#0084ff,#0092ff,#009fff,#00acff,#00baff,#00c8ff,#00d5ff)"></i><i style="height:2px;background:linear-gradient(90deg,#5d00ff,#5e00ff,#6100ff,#6700ff,#6f00ff,#7700ff,#7f00ff,#8500ff,#8900ff,#8c00ff,#8e00ff,#9100ff,#9500ff,#9900ff,#9c00ff,#9d00ff,#9c00ff,#9b00ff,#9800ff,#9200ff,#8700ff,#7600ff,#5f00ff,#4700ff,#3000ff,#1e00ff,#1000ff,#0300ff,#000bff,#001aff,#002aff,#003bff,#004eff,#0061ff,#0073ff,#0083ff,#0092ff,#009fff,#00adff,#00bbff,#00caff,#00d7ff)"></i><i style="height:2px;background:linear-gradient(90deg,#5900ff,#5800ff,#5b00ff,#6100ff,#6800ff,#7000ff,#7800ff,#7f00ff,#8400ff,#8700ff,#8b00ff,#8e00ff,#9300ff,#9600ff,#9900ff,#9a00ff,#9a00ff,#9900ff,#9600ff,#9100ff,#8700ff,#7600ff,#6000ff,#4700ff,#3100ff,#1f00ff,#1100ff,#0400ff,#0009ff,#0018ff,#0027ff,#0039ff,#004cff,#005fff,#0072ff,#0082ff,#0092ff,#00a0ff,#00aeff,#00bcff,#00cbff,#00d9ff)"></i><i style="height:2px;background:linear-gradient(90deg,#5400ff,#5300ff,#5500ff,#5a00ff,#6100ff,#6900ff,#7100ff,#7800ff,#7e00ff,#8200ff,#8700ff,#8b00ff,#9000ff,#9400ff,#9700ff,#9800ff,#9800ff,#9700ff,#9500ff,#9000ff,#8700ff,#7700ff,#6000ff,#4800ff,#3200ff,#2000ff,#1100ff,#0500ff,#0008ff,#0016ff,#0025ff,#0036ff,#004aff,#005dff,#0071ff,#0082ff,#0092ff,#00a1ff,#00afff,#00beff,#00cdff,#00dbff)"></i><i style="height:2px;background:linear-gradient(90deg,#4e00ff,#4d00ff,#4e00ff,#5200ff,#5900ff,#6000ff,#6800ff,#7000ff,#7700ff,#7d00ff,#8300ff,#8800ff,#8d00ff,#9100ff,#9400ff,#9500ff,#9500ff,#9500ff,#9300ff,#8f00ff,#8700ff,#7700ff,#6100ff,#4900ff,#3200ff,#2000ff,#1200ff,#0600ff,#0007ff,#0014ff,#0023ff,#0034ff,#0047ff,#005cff,#006fff,#0082ff,#0092ff,#00a2ff,#00b1ff,#00bfff,#00cfff,#00dcff)"></i><i style="height:2px;background:linear-gradient(90deg,#4900ff,#4600ff,#4700ff,#4a00ff,#5000ff,#5700ff,#6000ff,#6800ff,#7000ff,#7800ff,#7e00ff,#8400ff,#8900ff,#8e00ff,#9100ff,#9200ff,#9300ff,#9300ff,#9200ff,#8e00ff,#8600ff,#7700ff,#6100ff,#4900ff,#3300ff,#2100ff,#1300ff,#0700ff,#0005ff,#0012ff,#0021ff,#0032ff,#0045ff,#005aff,#006eff,#0081ff,#0093ff,#00a3ff,#00b2ff,#00c2ff,#00d1ff,#00deff)"></i><i style="height:2px;background:linear-gradient(90deg,#4400ff,#4000ff,#3f00ff,#4100ff,#4700ff,#4e00ff,#5600ff,#6000ff,#6900ff,#7200ff,#7a00ff,#8000ff,#8600ff,#8a00ff,#8d00ff,#8f00ff,#9000ff,#9000ff,#9000ff,#8d00ff,#8500ff,#7700ff,#6100ff,#4900ff,#3300ff,#2200ff,#1400ff,#0800ff,#0004ff,#0010ff,#001eff,#002fff,#0043ff,#0058ff,#006dff,#0081ff,#0093ff,#00a4ff,#00b4ff,#00c4ff,#00d3ff,#00dfff)"></i><i style="height:2px;background:linear-gradient(90deg,#3e00ff,#3900ff,#3700ff,#3900ff,#3d00ff,#4400ff,#4d00ff,#5700ff,#6100ff,#6c00ff,#7500ff,#7c00ff,#8200ff,#8700ff,#8a00ff,#8c00ff,#8d00ff,#8e00ff,#8e00ff,#8c00ff,#8500ff,#7600ff,#6100ff,#4900ff,#3400ff,#2200ff,#1500ff,#0900ff,#0002ff,#000eff,#001cff,#002dff,#0041ff,#0057ff,#006cff,#0081ff,#0094ff,#00a5ff,#00b6ff,#00c6ff,#00d5ff,#00e0ff)"></i><i style="height:2px;background:linear-gradient(90deg,#3800ff,#3200ff,#2f00ff,#3000ff,#3400ff,#3b00ff,#4300ff,#4e00ff,#5a00ff,#6500ff,#7000ff,#7800ff,#7e00ff,#8300ff,#8600ff,#8800ff,#8a00ff,#8b00ff,#8c00ff,#8a00ff,#8300ff,#7500ff,#6100ff,#4900ff,#3400ff,#2300ff,#1500ff,#0a00ff,#0001ff,#000cff,#001aff,#002bff,#003fff,#0055ff,#006bff,#0080ff,#0094ff,#00a7ff,#00b8ff,#00c8ff,#00d6ff,#00e1ff)"></i><i style="height:2px;background:linear-gradient(90deg,#3100ff,#2b00ff,#2700ff,#2700ff,#2b00ff,#3100ff,#3a00ff,#4500ff,#5200ff,#5f00ff,#6a00ff,#7400ff,#7a00ff,#7f00ff,#8200ff,#8500ff,#8700ff,#8800ff,#8900ff,#8800ff,#8200ff,#7400ff,#6000ff,#4900ff,#3400ff,#2300ff,#1600ff,#0b00ff,#0100ff,#000aff,#0018ff,#0028ff,#003dff,#0053ff,#006aff,#0080ff,#0095ff,#00a8ff,#00baff,#00caff,#00d8ff,#00e2ff)"></i><i style="height:2px;background:linear-gradient(90deg,#2b00ff,#2400ff,#2000ff,#1f00ff,#2200ff,#2800ff,#3100ff,#3c00ff,#4a00ff,#5800ff,#6500ff,#6f00ff,#7600ff,#7b00ff,#7e00ff,#8100ff,#8400ff,#8600ff,#8700ff,#8600ff,#8000ff,#7200ff,#5e00ff,#4800ff,#3300ff,#2300ff,#1700ff,#0c00ff,#0200ff,#0008ff,#0015ff,#0026ff,#003aff,#0051ff,#0069ff,#007fff,#0095ff,#00a9ff,#00bbff,#00cbff,#00daff,#00e3ff)"></i><i style="height:2px;background:linear-gradient(90deg,#2400ff,#1d00ff,#1800ff,#1700ff,#1900ff,#1f00ff,#2800ff,#3300ff,#4200ff,#5100ff,#5f00ff,#6900ff,#7100ff,#7600ff,#7a00ff,#7e00ff,#8100ff,#8300ff,#8400ff,#8300ff,#7d00ff,#7000ff,#5c00ff,#4700ff,#3300ff,#2300ff,#1700ff,#0d00ff,#0400ff,#0006ff,#0013ff,#0023ff,#0038ff,#004fff,#0067ff,#007fff,#0095ff,#00aaff,#00bcff,#00cdff,#00dbff,#00e4ff)"></i><i style="height:2px;background:linear-gradient(90deg,#1d00ff,#1600ff,#1100ff,#1000ff,#1100ff,#1700ff,#1f00ff,#2b00ff,#3a00ff,#4a00ff,#5800ff,#6400ff,#6c00ff,#7200ff,#7600ff,#7a00ff,#7e00ff,#8000ff,#8200ff,#8000ff,#7a00ff,#6d00ff,#5a00ff,#4500ff,#3200ff,#2300ff,#1800ff,#0e00ff,#0600ff,#0004ff,#0010ff,#0021ff,#0036ff,#004dff,#0066ff,#007eff,#0094ff,#00aaff,#00bdff,#00ceff,#00dcff,#00e5ff)"></i><i style="height:2px;background:linear-gradient(90deg,#1600ff,#1000ff,#0b00ff,#0900ff,#0a00ff,#0f00ff,#1700ff,#2300ff,#3200ff,#4200ff,#5100ff,#5d00ff,#6600ff,#6d00ff,#7200ff,#7700ff,#7b00ff,#7e00ff,#7f00ff,#7d00ff,#7700ff,#6900ff,#5700ff,#4300ff,#3000ff,#2300ff,#1800ff,#1000ff,#0700ff,#0002ff,#000eff,#001eff,#0033ff,#004bff,#0064ff,#007cff,#0094ff,#00aaff,#00bdff,#00ceff,#00ddff,#00e6ff)"></i><i style="height:2px;background:linear-gradient(90deg,#0e00ff,#0900ff,#0500ff,#0300ff,#0400ff,#0900ff,#1000ff,#1c00ff,#2a00ff,#3b00ff,#4a00ff,#5700ff,#6000ff,#6700ff,#6e00ff,#7400ff,#7800ff,#7c00ff,#7d00ff,#7a00ff,#7300ff,#6500ff,#5300ff,#4000ff,#2f00ff,#2200ff,#1800ff,#1100ff,#0900ff,#0000ff,#000bff,#001cff,#0031ff,#0049ff,#0062ff,#007bff,#0093ff,#00a9ff,#00bdff,#00cfff,#00ddff,#00e7ff)"></i><i style="height:2px;background:linear-gradient(90deg,#0700ff,#0300ff,#0001ff,#0002ff,#0001ff,#0300ff,#0a00ff,#1500ff,#2300ff,#3300ff,#4300ff,#5000ff,#5a00ff,#6200ff,#6900ff,#7000ff,#7600ff,#7900ff,#7a00ff,#7600ff,#6e00ff,#6100ff,#4f00ff,#3d00ff,#2d00ff,#2100ff,#1900ff,#1200ff,#0b00ff,#0300ff,#0009ff,#0019ff,#002eff,#0047ff,#0060ff,#0079ff,#0091ff,#00a8ff,#00bcff,#00ceff,#00deff,#00e8ff)"></i><i style="height:2px;background:linear-gradient(90deg,#0001ff,#0004ff,#0006ff,#0007ff,#0006ff,#0003ff,#0400ff,#0e00ff,#1c00ff,#2c00ff,#3b00ff,#4900ff,#5300ff,#5c00ff,#6400ff,#6c00ff,#7300ff,#7600ff,#7600ff,#7200ff,#6900ff,#5b00ff,#4b00ff,#3900ff,#2b00ff,#2000ff,#1900ff,#1300ff,#0d00ff,#0500ff,#0007ff,#0017ff,#002cff,#0045ff,#005fff,#0078ff,#0090ff,#00a7ff,#00bbff,#00ceff,#00deff,#00e9ff)"></i><i style="height:2px;background:linear-gradient(90deg,#0009ff,#000aff,#000bff,#000bff,#000aff,#0008ff,#0002ff,#0800ff,#1500ff,#2400ff,#3400ff,#4100ff,#4c00ff,#5600ff,#5f00ff,#6800ff,#6f00ff,#7300ff,#7200ff,#6d00ff,#6400ff,#5600ff,#4600ff,#3600ff,#2800ff,#1f00ff,#1800ff,#1300ff,#0e00ff,#0600ff,#0005ff,#0015ff,#002bff,#0043ff,#005dff,#0077ff,#008fff,#00a6ff,#00bbff,#00ceff,#00deff,#00eaff)"></i><i style="height:2px;background:linear-gradient(90deg,#0010ff,#0010ff,#0010ff,#0010ff,#000fff,#000cff,#0007ff,#0200ff,#0e00ff,#1d00ff,#2c00ff,#3a00ff,#4500ff,#5000ff,#5a00ff,#6400ff,#6b00ff,#6f00ff,#6e00ff,#6800ff,#5e00ff,#5000ff,#4100ff,#3200ff,#2600ff,#1d00ff,#1800ff,#1400ff,#0f00ff,#0700ff,#0004ff,#0014ff,#002aff,#0042ff,#005cff,#0076ff,#008eff,#00a5ff,#00baff,#00cdff,#00dfff,#00ebff)"></i><i style="height:2px;background:linear-gradient(90deg,#0018ff,#0016ff,#0014ff,#0014ff,#0013ff,#0010ff,#000cff,#0004ff,#0800ff,#1600ff,#2500ff,#3200ff,#3e00ff,#4900ff,#5400ff,#5e00ff,#6700ff,#6b00ff,#6900ff,#6200ff,#5800ff,#4a00ff,#3c00ff,#2e00ff,#2300ff,#1c00ff,#1700ff,#1400ff,#0f00ff,#0700ff,#0004ff,#0014ff,#002aff,#0042ff,#005cff,#0075ff,#008dff,#00a4ff,#00baff,#00cdff,#00dfff,#00ecff)"></i><i style="height:2px;background:linear-gradient(90deg,#001fff,#001cff,#0019ff,#0018ff,#0017ff,#0015ff,#0011ff,#0009ff,#0200ff,#0f00ff,#1d00ff,#2b00ff,#3700ff,#4200ff,#4e00ff,#5800ff,#6100ff,#6500ff,#6300ff,#5c00ff,#5100ff,#4400ff,#3700ff,#2a00ff,#2000ff,#1a00ff,#1700ff,#1300ff,#0e00ff,#0700ff,#0005ff,#0015ff,#002bff,#0043ff,#005dff,#0076ff,#008eff,#00a4ff,#00baff,#00cdff,#00e0ff,#00eeff)"></i><i style="height:2px;background:linear-gradient(90deg,#0026ff,#0022ff,#001eff,#001dff,#001bff,#0019ff,#0015ff,#000fff,#0004ff,#0800ff,#1600ff,#2300ff,#2f00ff,#3b00ff,#4700ff,#5200ff,#5a00ff,#5e00ff,#5c00ff,#5500ff,#4b00ff,#3e00ff,#3200ff,#2600ff,#1e00ff,#1900ff,#1500ff,#1200ff,#0d00ff,#0500ff,#0006ff,#0017ff,#002dff,#0045ff,#005eff,#0077ff,#008eff,#00a5ff,#00baff,#00ceff,#00e1ff,#00efff)"></i><i style="height:2px;background:linear-gradient(90deg,#002dff,#0028ff,#0024ff,#0022ff,#0020ff,#001eff,#001aff,#0014ff,#000aff,#0200ff,#0f00ff,#1c00ff,#2800ff,#3300ff,#3f00ff,#4a00ff,#5200ff,#5600ff,#5500ff,#4e00ff,#4400ff,#3900ff,#2d00ff,#2300ff,#1b00ff,#1700ff,#1400ff,#1100ff,#0b00ff,#0300ff,#000aff,#001bff,#0030ff,#0048ff,#0061ff,#0079ff,#0090ff,#00a7ff,#00bcff,#00cfff,#00e2ff,#00f1ff)"></i><i style="height:2px;background:linear-gradient(90deg,#0033ff,#002dff,#0029ff,#0027ff,#0025ff,#0023ff,#001fff,#0019ff,#000fff,#0004ff,#0900ff,#1500ff,#2000ff,#2c00ff,#3600ff,#4100ff,#4900ff,#4d00ff,#4c00ff,#4600ff,#3d00ff,#3300ff,#2900ff,#2000ff,#1900ff,#1500ff,#1200ff,#0e00ff,#0800ff,#0001ff,#000eff,#0020ff,#0035ff,#004cff,#0065ff,#007cff,#0093ff,#00a9ff,#00beff,#00d2ff,#00e4ff,#00f2ff)"></i><i style="height:2px;background:linear-gradient(90deg,#0038ff,#0033ff,#0030ff,#002dff,#002bff,#0029ff,#0024ff,#001eff,#0015ff,#0009ff,#0300ff,#0e00ff,#1900ff,#2300ff,#2d00ff,#3600ff,#3e00ff,#4200ff,#4100ff,#3d00ff,#3600ff,#2e00ff,#2500ff,#1d00ff,#1700ff,#1300ff,#0f00ff,#0b00ff,#0400ff,#0006ff,#0015ff,#0026ff,#003bff,#0052ff,#006aff,#0081ff,#0097ff,#00adff,#00c1ff,#00d5ff,#00e6ff,#00f4ff)"></i><i style="height:2px;background:linear-gradient(90deg,#003dff,#0039ff,#0036ff,#0034ff,#0032ff,#002fff,#002aff,#0024ff,#001aff,#000fff,#0003ff,#0800ff,#1100ff,#1b00ff,#2300ff,#2b00ff,#3200ff,#3600ff,#3600ff,#3400ff,#2f00ff,#2900ff,#2100ff,#1a00ff,#1400ff,#1000ff,#0c00ff,#0700ff,#0002ff,#000dff,#001cff,#002eff,#0043ff,#0059ff,#0070ff,#0087ff,#009dff,#00b2ff,#00c6ff,#00d8ff,#00e9ff,#00f6ff)"></i><i style="height:2px;background:linear-gradient(90deg,#0042ff,#003fff,#003dff,#003bff,#0039ff,#0036ff,#0031ff,#002aff,#0020ff,#0015ff,#000aff,#0100ff,#0a00ff,#1200ff,#1900ff,#1f00ff,#2500ff,#2900ff,#2b00ff,#2a00ff,#2800ff,#2300ff,#1d00ff,#1600ff,#1000ff,#0c00ff,#0700ff,#0100ff,#0009ff,#0016ff,#0026ff,#0038ff,#004cff,#0062ff,#0078ff,#008dff,#00a3ff,#00b7ff,#00caff,#00dcff,#00ecff,#00f8ff)"></i><i style="height:2px;background:linear-gradient(90deg,#0047ff,#0045ff,#0044ff,#0043ff,#0041ff,#003eff,#0039ff,#0032ff,#0028ff,#001dff,#0011ff,#0007ff,#0100ff,#0800ff,#0e00ff,#1400ff,#1800ff,#1c00ff,#1f00ff,#2000ff,#2000ff,#1d00ff,#1700ff,#1100ff,#0a00ff,#0500ff,#0000ff,#0008ff,#0012ff,#0020ff,#0031ff,#0043ff,#0057ff,#006bff,#0080ff,#0095ff,#00a9ff,#00bdff,#00cfff,#00e0ff,#00f0ff,#00fbff)"></i><i style="height:2px;background:linear-gradient(90deg,#004bff,#004bff,#004bff,#004aff,#004aff,#0047ff,#0043ff,#003cff,#0032ff,#0026ff,#001aff,#0010ff,#0008ff,#0001ff,#0400ff,#0800ff,#0c00ff,#1000ff,#1300ff,#1600ff,#1700ff,#1500ff,#1000ff,#0900ff,#0200ff,#0004ff,#000bff,#0013ff,#001eff,#002dff,#003dff,#004fff,#0062ff,#0075ff,#0089ff,#009cff,#00b0ff,#00c3ff,#00d4ff,#00e5ff,#00f3ff,#00feff)"></i><i style="height:2px;background:linear-gradient(90deg,#0050ff,#0050ff,#0051ff,#0052ff,#0053ff,#0052ff,#004fff,#0049ff,#003eff,#0032ff,#0026ff,#001bff,#0012ff,#000bff,#0006ff,#0002ff,#0100ff,#0400ff,#0800ff,#0c00ff,#0e00ff,#0c00ff,#0600ff,#0001ff,#000aff,#0011ff,#0019ff,#0022ff,#002dff,#003bff,#004bff,#005cff,#006eff,#0080ff,#0092ff,#00a5ff,#00b7ff,#00c8ff,#00d9ff,#00e9ff,#00f7ff,#00fffc)"></i><i style="height:2px;background:linear-gradient(90deg,#0055ff,#0055ff,#0058ff,#005bff,#005dff,#005fff,#005dff,#0057ff,#004dff,#0040ff,#0033ff,#0027ff,#001dff,#0015ff,#0010ff,#000cff,#0009ff,#0006ff,#0002ff,#0200ff,#0400ff,#0200ff,#0005ff,#000fff,#0018ff,#0021ff,#002aff,#0033ff,#003eff,#004bff,#005aff,#006aff,#007aff,#008bff,#009cff,#00adff,#00bdff,#00ceff,#00deff,#00edff,#00fbff,#00fff8)"></i><i style="height:2px;background:linear-gradient(90deg,#005aff,#005aff,#005eff,#0063ff,#0068ff,#006cff,#006dff,#0068ff,#005eff,#0051ff,#0042ff,#0034ff,#0028ff,#001fff,#0019ff,#0015ff,#0013ff,#0010ff,#000cff,#0008ff,#0007ff,#000aff,#0013ff,#001eff,#002aff,#0034ff,#003dff,#0047ff,#0051ff,#005dff,#006aff,#0078ff,#0087ff,#0096ff,#00a6ff,#00b5ff,#00c4ff,#00d3ff,#00e2ff,#00f1ff,#00ffff,#00fff3)"></i><i style="height:2px;background:linear-gradient(90deg,#005fff,#005fff,#0064ff,#006cff,#0074ff,#007aff,#007eff,#007bff,#0071ff,#0063ff,#0052ff,#0042ff,#0035ff,#002aff,#0023ff,#001eff,#001cff,#0019ff,#0016ff,#0012ff,#0012ff,#0017ff,#0022ff,#002fff,#003dff,#0048ff,#0053ff,#005cff,#0066ff,#0070ff,#007bff,#0087ff,#0094ff,#00a2ff,#00b0ff,#00beff,#00cbff,#00d8ff,#00e6ff,#00f4ff,#00fffb,#00ffee)"></i><i style="height:2px;background:linear-gradient(90deg,#0064ff,#0064ff,#006aff,#0074ff,#0080ff,#008aff,#0090ff,#008fff,#0086ff,#0076ff,#0064ff,#0052ff,#0042ff,#0035ff,#002cff,#0027ff,#0025ff,#0022ff,#001fff,#001dff,#001eff,#0025ff,#0032ff,#0041ff,#0051ff,#005eff,#0069ff,#0073ff,#007bff,#0083ff,#008bff,#0095ff,#00a1ff,#00adff,#00baff,#00c6ff,#00d2ff,#00deff,#00eaff,#00f8ff,#00fff7,#00ffe8)"></i><i style="height:2px;background:linear-gradient(90deg,#0069ff,#0068ff,#0070ff,#007dff,#008cff,#009aff,#00a3ff,#00a4ff,#009bff,#008bff,#0076ff,#0062ff,#0050ff,#0041ff,#0036ff,#0030ff,#002dff,#002bff,#0029ff,#0027ff,#0029ff,#0033ff,#0042ff,#0054ff,#0066ff,#0075ff,#0080ff,#0089ff,#0090ff,#0096ff,#009cff,#00a4ff,#00aeff,#00b9ff,#00c4ff,#00ceff,#00d9ff,#00e3ff,#00efff,#00fcff,#00fff2,#00ffe2)"></i><i style="height:2px;background:linear-gradient(90deg,#006eff,#006dff,#0075ff,#0085ff,#0098ff,#00aaff,#00b6ff,#00baff,#00b1ff,#00a0ff,#008aff,#0073ff,#005eff,#004dff,#0040ff,#003aff,#0036ff,#0034ff,#0032ff,#0032ff,#0036ff,#0041ff,#0052ff,#0067ff,#007bff,#008bff,#0097ff,#009fff,#00a5ff,#00a8ff,#00acff,#00b2ff,#00baff,#00c4ff,#00ceff,#00d7ff,#00dfff,#00e9ff,#00f3ff,#00fffd,#00ffed,#00ffdc)"></i><i style="height:2px;background:linear-gradient(90deg,#0073ff,#0071ff,#007bff,#008eff,#00a4ff,#00baff,#00caff,#00d0ff,#00c8ff,#00b5ff,#009dff,#0084ff,#006dff,#0059ff,#004bff,#0044ff,#0040ff,#003eff,#003cff,#003dff,#0042ff,#004fff,#0063ff,#007aff,#008fff,#00a0ff,#00adff,#00b4ff,#00b8ff,#00baff,#00bbff,#00bfff,#00c6ff,#00ceff,#00d7ff,#00dfff,#00e6ff,#00eeff,#00f9ff,#00fff8,#00ffe7,#00ffd5)"></i><i style="height:2px;background:linear-gradient(90deg,#0078ff,#0075ff,#0080ff,#0096ff,#00b1ff,#00cbff,#00deff,#00e6ff,#00dfff,#00cbff,#00b1ff,#0096ff,#007cff,#0067ff,#0057ff,#004eff,#004aff,#0048ff,#0047ff,#0048ff,#004eff,#005dff,#0072ff,#008bff,#00a2ff,#00b4ff,#00c1ff,#00c8ff,#00caff,#00caff,#00c9ff,#00cbff,#00d1ff,#00d9ff,#00e0ff,#00e7ff,#00edff,#00f5ff,#00feff,#00fff3,#00ffe1,#00ffce)"></i><i style="height:2px;background:linear-gradient(90deg,#007dff,#0079ff,#0086ff,#009eff,#00bdff,#00dbff,#00f2ff,#00fcff,#00f5ff,#00e0ff,#00c5ff,#00a7ff,#008cff,#0075ff,#0064ff,#005aff,#0056ff,#0053ff,#0052ff,#0053ff,#005aff,#006aff,#0081ff,#009bff,#00b3ff,#00c6ff,#00d2ff,#00d9ff,#00daff,#00d8ff,#00d6ff,#00d7ff,#00dbff,#00e2ff,#00e9ff,#00efff,#00f4ff,#00fbff,#00fffa,#00ffed,#00ffdb,#00ffc7)"></i><i style="height:2px;background:linear-gradient(90deg,#0082ff,#007eff,#008bff,#00a6ff,#00c9ff,#00ebff,#00fff8,#00ffec,#00fff3,#00f5ff,#00d8ff,#00b9ff,#009cff,#0083ff,#0072ff,#0067ff,#0062ff,#0060ff,#005eff,#005fff,#0066ff,#0076ff,#008eff,#00a9ff,#00c2ff,#00d4ff,#00e0ff,#00e6ff,#00e7ff,#00e4ff,#00e1ff,#00e0ff,#00e4ff,#00eaff,#00f1ff,#00f6ff,#00fcff,#00fffc,#00fff3,#00ffe6,#00ffd3,#00ffbf)"></i><i style="height:2px;background:linear-gradient(90deg,#0087ff,#0082ff,#0090ff,#00aeff,#00d4ff,#00faff,#00ffe6,#00ffd8,#00ffdf,#00fff5,#00eaff,#00caff,#00acff,#0093ff,#0081ff,#0076ff,#0071ff,#006eff,#006bff,#006bff,#0072ff,#0081ff,#0099ff,#00b4ff,#00cdff,#00dfff,#00eaff,#00f0ff,#00f0ff,#00edff,#00e9ff,#00e9ff,#00ecff,#00f2ff,#00f8ff,#00feff,#00fffb,#00fff4,#00ffeb,#00ffde,#00ffcc,#00ffb7)"></i><i style="height:2px;background:linear-gradient(90deg,#008cff,#0086ff,#0096ff,#00b6ff,#00e0ff,#00fff5,#00ffd4,#00ffc5,#00ffcb,#00ffe3,#00fbff,#00daff,#00bcff,#00a3ff,#0091ff,#0087ff,#0081ff,#007dff,#0079ff,#0078ff,#007dff,#008bff,#00a2ff,#00bcff,#00d4ff,#00e5ff,#00f0ff,#00f5ff,#00f5ff,#00f2ff,#00efff,#00efff,#00f2ff,#00f8ff,#00ffff,#00fffa,#00fff4,#00ffec,#00ffe3,#00ffd5,#00ffc3,#00ffaf)"></i><i style="height:2px;background:linear-gradient(90deg,#0091ff,#008aff,#009bff,#00beff,#00eaff,#00ffe8,#00ffc4,#00ffb3,#00ffba,#00ffd2,#00fff3,#00eaff,#00cdff,#00b5ff,#00a4ff,#0099ff,#0093ff,#008eff,#0089ff,#0085ff,#0087ff,#0093ff,#00a8ff,#00c0ff,#00d7ff,#00e6ff,#00f0ff,#00f5ff,#00f5ff,#00f4ff,#00f2ff,#00f3ff,#00f7ff,#00fdff,#00fffa,#00fff3,#00ffec,#00ffe4,#00ffd9,#00ffcb,#00ffba,#00ffa8)"></i><i style="height:2px;background:linear-gradient(90deg,#0095ff,#008fff,#00a0ff,#00c5ff,#00f4ff,#00ffdb,#00ffb6,#00ffa4,#00ffaa,#00ffc3,#00ffe4,#00f9ff,#00ddff,#00c7ff,#00b7ff,#00aeff,#00a8ff,#00a2ff,#009aff,#0093ff,#0091ff,#0099ff,#00abff,#00c0ff,#00d4ff,#00e2ff,#00eaff,#00eeff,#00f0ff,#00f1ff,#00f2ff,#00f5ff,#00faff,#00fffd,#00fff5,#00ffed,#00ffe4,#00ffda,#00ffce,#00ffc0,#00ffb0,#00ff9f)"></i></div>
<div class="hm" style="left:512px;top:490px;width:30px;height:311px;background:linear-gradient(180deg,#662214 0.13%,#ff0000 16.50%,#ffff00 31.80%,#00ff00 47.10%,#00ffff 62.40%,#0000ff 77.70%,#ff00ff 93.00%,#880088 100.04%)"></div>
<div class="hm" style="left:698px;top:491px;width:328px;height:310px"><i style="height:2px;background:linear-gradient(90deg,#81ff00,#73ff00,#63ff00,#55ff00,#49ff00,#3fff00,#39ff00,#36ff00,#37ff00,#3dff00,#45ff00,#51ff00,#5cff00,#62ff00,#60ff00,#50ff00,#33ff00,#06ff00,#00ff37,#00ff7f,#00ffcc,#00e8ff,#00a3ff,#0064ff,#002dff,#0400ff,#3000ff,#5800ff,#7e00ff,#a200ff,#c200ff,#dc00ff,#f100ff,#fe00fe,#f200f2,#e900e9,#e200e2,#dc00dc,#d700d7,#d000d0,#c800c8,#c000c0)"></i><i style="height:2px;background:linear-gradient(90deg,#83ff00,#73ff00,#63ff00,#56ff00,#4cff00,#44ff00,#3fff00,#3bff00,#3aff00,#3bff00,#3fff00,#48ff00,#52ff00,#59ff00,#58ff00,#4bff00,#30ff00,#05ff00,#00ff36,#00ff7e,#00ffcb,#00e8ff,#00a2ff,#0063ff,#002cff,#0300ff,#2d00ff,#5200ff,#7600ff,#9800ff,#b800ff,#d400ff,#ec00ff,#ff00ff,#f100f1,#e800e8,#e200e2,#de00de,#db00db,#d600d6,#ce00ce,#c300c3)"></i><i style="height:2px;background:linear-gradient(90deg,#86ff00,#74ff00,#64ff00,#58ff00,#4fff00,#49ff00,#45ff00,#40ff00,#3cff00,#39ff00,#39ff00,#40ff00,#49ff00,#50ff00,#51ff00,#46ff00,#2dff00,#05ff00,#00ff36,#00ff7d,#00ffca,#00e8ff,#00a2ff,#0063ff,#002cff,#0200ff,#2a00ff,#4d00ff,#6f00ff,#9000ff,#b000ff,#cd00ff,#e700ff,#fd00ff,#f100f1,#e700e7,#e300e3,#e100e1,#df00df,#db00db,#d300d3,#c700c7)"></i><i style="height:2px;background:linear-gradient(90deg,#8aff00,#77ff00,#66ff00,#5aff00,#52ff00,#4eff00,#49ff00,#44ff00,#3dff00,#37ff00,#35ff00,#39ff00,#41ff00,#48ff00,#4aff00,#42ff00,#2bff00,#04ff00,#00ff35,#00ff7d,#00ffca,#00e8ff,#00a1ff,#0062ff,#002cff,#0100ff,#2700ff,#4900ff,#6900ff,#8900ff,#a800ff,#c600ff,#e200ff,#fa00ff,#f200f2,#e800e8,#e400e4,#e300e3,#e300e3,#e000e0,#d700d7,#ca00ca)"></i><i style="height:2px;background:linear-gradient(90deg,#91ff00,#7cff00,#69ff00,#5dff00,#56ff00,#52ff00,#4eff00,#48ff00,#3fff00,#36ff00,#30ff00,#32ff00,#3aff00,#41ff00,#44ff00,#3eff00,#2aff00,#04ff00,#00ff35,#00ff7d,#00ffcb,#00e7ff,#00a1ff,#0062ff,#002dff,#0001ff,#2400ff,#4500ff,#6400ff,#8300ff,#a200ff,#c000ff,#de00ff,#f800ff,#f300f3,#e900e9,#e500e5,#e600e6,#e600e6,#e400e4,#db00db,#cd00cd)"></i><i style="height:2px;background:linear-gradient(90deg,#9aff00,#84ff00,#6eff00,#60ff00,#59ff00,#55ff00,#51ff00,#4aff00,#3fff00,#34ff00,#2cff00,#2dff00,#33ff00,#3bff00,#3fff00,#3bff00,#28ff00,#04ff00,#00ff34,#00ff7d,#00ffcc,#00e6ff,#00a0ff,#0062ff,#002eff,#0002ff,#2200ff,#4200ff,#6000ff,#7e00ff,#9c00ff,#bb00ff,#da00ff,#f500ff,#f500f5,#ea00ea,#e700e7,#e800e8,#ea00ea,#e800e8,#df00df,#d000d0)"></i><i style="height:2px;background:linear-gradient(90deg,#a8ff00,#90ff00,#76ff00,#64ff00,#5cff00,#58ff00,#54ff00,#4cff00,#40ff00,#33ff00,#29ff00,#28ff00,#2eff00,#36ff00,#3bff00,#38ff00,#27ff00,#05ff00,#00ff34,#00ff7d,#00ffcd,#00e4ff,#009fff,#0063ff,#002fff,#0004ff,#2000ff,#4000ff,#5d00ff,#7a00ff,#9800ff,#b600ff,#d600ff,#f200ff,#f700f7,#ec00ec,#ea00ea,#eb00eb,#ed00ed,#ec00ec,#e300e3,#d300d3)"></i><i style="height:2px;background:linear-gradient(90deg,#bbff00,#a1ff00,#80ff00,#69ff00,#5fff00,#5aff00,#56ff00,#4eff00,#40ff00,#31ff00,#26ff00,#24ff00,#29ff00,#31ff00,#37ff00,#35ff00,#27ff00,#05ff00,#00ff34,#00ff7e,#00ffce,#00e3ff,#009fff,#0063ff,#0031ff,#0006ff,#1e00ff,#3e00ff,#5b00ff,#7700ff,#9300ff,#b200ff,#d200ff,#ef00ff,#fa00fa,#ef00ef,#ec00ec,#ee00ee,#f100f1,#ef00ef,#e600e6,#d600d6)"></i><i style="height:2px;background:linear-gradient(90deg,#d3ff00,#b6ff00,#8dff00,#6fff00,#62ff00,#5cff00,#57ff00,#4eff00,#40ff00,#30ff00,#24ff00,#20ff00,#24ff00,#2cff00,#33ff00,#33ff00,#26ff00,#05ff00,#00ff34,#00ff7f,#00ffd0,#00e1ff,#009eff,#0064ff,#0032ff,#0008ff,#1c00ff,#3c00ff,#5900ff,#7400ff,#9000ff,#ae00ff,#ce00ff,#eb00ff,#fd00fd,#f200f2,#f000f0,#f200f2,#f400f4,#f300f3,#ea00ea,#d900d9)"></i><i style="height:2px;background:linear-gradient(90deg,#eeff00,#ceff00,#9bff00,#76ff00,#65ff00,#5eff00,#58ff00,#4eff00,#3fff00,#2eff00,#21ff00,#1dff00,#21ff00,#28ff00,#2fff00,#31ff00,#25ff00,#05ff00,#00ff34,#00ff80,#00ffd2,#00e0ff,#009eff,#0065ff,#0035ff,#000aff,#1a00ff,#3a00ff,#5700ff,#7200ff,#8d00ff,#ab00ff,#ca00ff,#e700ff,#fd00ff,#f600f6,#f300f3,#f500f5,#f700f7,#f600f6,#ed00ed,#dd00dd)"></i><i style="height:2px;background:linear-gradient(90deg,#fff400,#e6ff00,#aaff00,#7cff00,#67ff00,#5eff00,#58ff00,#4eff00,#3eff00,#2dff00,#1fff00,#1aff00,#1dff00,#25ff00,#2cff00,#2fff00,#25ff00,#05ff00,#00ff35,#00ff81,#00ffd4,#00deff,#009dff,#0066ff,#0037ff,#000dff,#1800ff,#3900ff,#5600ff,#7000ff,#8a00ff,#a700ff,#c600ff,#e300ff,#f900ff,#fa00fa,#f700f7,#f900f9,#fb00fb,#f900f9,#f000f0,#e000e0)"></i><i style="height:2px;background:linear-gradient(90deg,#ffdd00,#faff00,#b6ff00,#82ff00,#69ff00,#5fff00,#57ff00,#4dff00,#3cff00,#2bff00,#1dff00,#18ff00,#1bff00,#22ff00,#2aff00,#2dff00,#24ff00,#05ff00,#00ff35,#00ff83,#00ffd6,#00dcff,#009dff,#0068ff,#003aff,#000fff,#1600ff,#3800ff,#5500ff,#6f00ff,#8800ff,#a400ff,#c200ff,#de00ff,#f400ff,#ff00ff,#fb00fb,#fc00fc,#fe00fe,#fc00fc,#f300f3,#e300e3)"></i><i style="height:2px;background:linear-gradient(90deg,#ffcf00,#fff600,#bfff00,#86ff00,#6aff00,#5fff00,#56ff00,#4bff00,#3bff00,#29ff00,#1cff00,#16ff00,#18ff00,#1fff00,#27ff00,#2cff00,#23ff00,#05ff00,#00ff36,#00ff85,#00ffd9,#00daff,#009dff,#0069ff,#003cff,#0012ff,#1400ff,#3700ff,#5400ff,#6d00ff,#8600ff,#a100ff,#be00ff,#da00ff,#ef00ff,#fa00ff,#fe00ff,#fd00ff,#fd00ff,#ff00ff,#f600f6,#e700e7)"></i><i style="height:2px;background:linear-gradient(90deg,#ffcc00,#fff300,#c1ff00,#87ff00,#6aff00,#5eff00,#55ff00,#49ff00,#39ff00,#27ff00,#1aff00,#14ff00,#16ff00,#1cff00,#25ff00,#2aff00,#23ff00,#05ff00,#00ff37,#00ff86,#00ffdb,#00d8ff,#009dff,#006bff,#003fff,#0015ff,#1200ff,#3500ff,#5300ff,#6c00ff,#8400ff,#9e00ff,#ba00ff,#d400ff,#e900ff,#f400ff,#f900ff,#f900ff,#f900ff,#fc00ff,#f900f9,#eb00eb)"></i><i style="height:2px;background:linear-gradient(90deg,#ffd500,#fffa00,#beff00,#86ff00,#6aff00,#5cff00,#52ff00,#46ff00,#36ff00,#25ff00,#18ff00,#12ff00,#13ff00,#1aff00,#22ff00,#28ff00,#22ff00,#04ff00,#00ff38,#00ff88,#00ffdd,#00d7ff,#009dff,#006dff,#0042ff,#0018ff,#1000ff,#3400ff,#5200ff,#6b00ff,#8200ff,#9b00ff,#b600ff,#cf00ff,#e300ff,#ee00ff,#f300ff,#f500ff,#f500ff,#f900ff,#fd00fd,#ef00ef)"></i><i style="height:2px;background:linear-gradient(90deg,#ffe800,#f4ff00,#b5ff00,#83ff00,#68ff00,#5aff00,#4fff00,#43ff00,#33ff00,#23ff00,#17ff00,#11ff00,#11ff00,#17ff00,#20ff00,#26ff00,#20ff00,#03ff00,#00ff39,#00ff8a,#00ffe0,#00d5ff,#009dff,#006fff,#0046ff,#001bff,#0e00ff,#3200ff,#5100ff,#6900ff,#8000ff,#9700ff,#b100ff,#c900ff,#dc00ff,#e800ff,#ed00ff,#f000ff,#f100ff,#f500ff,#fe00ff,#f300f3)"></i><i style="height:2px;background:linear-gradient(90deg,#fcff00,#dfff00,#aaff00,#7eff00,#66ff00,#58ff00,#4cff00,#3fff00,#30ff00,#21ff00,#15ff00,#0fff00,#0fff00,#15ff00,#1dff00,#24ff00,#1fff00,#02ff00,#00ff3b,#00ff8c,#00ffe2,#00d4ff,#009dff,#0071ff,#0049ff,#001fff,#0b00ff,#3000ff,#4f00ff,#6700ff,#7d00ff,#9400ff,#ac00ff,#c300ff,#d500ff,#e100ff,#e700ff,#eb00ff,#ed00ff,#f200ff,#fa00ff,#f800f8)"></i><i style="height:2px;background:linear-gradient(90deg,#e2ff00,#c8ff00,#9dff00,#79ff00,#63ff00,#55ff00,#48ff00,#3bff00,#2cff00,#1eff00,#13ff00,#0dff00,#0dff00,#12ff00,#1aff00,#22ff00,#1dff00,#00ff00,#00ff3c,#00ff8e,#00ffe4,#00d3ff,#009eff,#0074ff,#004cff,#0022ff,#0800ff,#2e00ff,#4d00ff,#6500ff,#7b00ff,#9000ff,#a700ff,#bc00ff,#ce00ff,#da00ff,#e100ff,#e500ff,#e900ff,#ee00ff,#f600ff,#fd00fd)"></i><i style="height:2px;background:linear-gradient(90deg,#c9ff00,#b3ff00,#91ff00,#73ff00,#5fff00,#51ff00,#44ff00,#37ff00,#29ff00,#1bff00,#11ff00,#0cff00,#0bff00,#0fff00,#17ff00,#1fff00,#1bff00,#00ff02,#00ff3e,#00ff90,#00ffe5,#00d2ff,#009eff,#0076ff,#0050ff,#0026ff,#0400ff,#2b00ff,#4a00ff,#6300ff,#7700ff,#8c00ff,#a100ff,#b500ff,#c600ff,#d200ff,#da00ff,#df00ff,#e400ff,#ea00ff,#f200ff,#fc00ff)"></i><i style="height:2px;background:linear-gradient(90deg,#b4ff00,#a2ff00,#86ff00,#6eff00,#5bff00,#4dff00,#3fff00,#32ff00,#24ff00,#18ff00,#0fff00,#0aff00,#09ff00,#0dff00,#14ff00,#1cff00,#18ff00,#00ff04,#00ff41,#00ff92,#00ffe7,#00d2ff,#00a0ff,#0079ff,#0053ff,#002aff,#0100ff,#2800ff,#4700ff,#5f00ff,#7400ff,#8700ff,#9b00ff,#ae00ff,#be00ff,#ca00ff,#d300ff,#d900ff,#df00ff,#e500ff,#ed00ff,#f600ff)"></i><i style="height:2px;background:linear-gradient(90deg,#a3ff00,#94ff00,#7dff00,#69ff00,#57ff00,#48ff00,#3aff00,#2cff00,#20ff00,#15ff00,#0cff00,#08ff00,#06ff00,#09ff00,#11ff00,#18ff00,#14ff00,#00ff07,#00ff43,#00ff94,#00ffe8,#00d1ff,#00a1ff,#007bff,#0057ff,#002eff,#0004ff,#2400ff,#4300ff,#5b00ff,#6f00ff,#8200ff,#9500ff,#a600ff,#b600ff,#c200ff,#cb00ff,#d300ff,#da00ff,#e000ff,#e800ff,#f000ff)"></i><i style="height:2px;background:linear-gradient(90deg,#97ff00,#89ff00,#76ff00,#63ff00,#52ff00,#43ff00,#34ff00,#27ff00,#1bff00,#11ff00,#0aff00,#05ff00,#04ff00,#06ff00,#0dff00,#14ff00,#11ff00,#00ff0b,#00ff46,#00ff96,#00ffe9,#00d2ff,#00a2ff,#007eff,#005aff,#0032ff,#0008ff,#1f00ff,#3e00ff,#5600ff,#6a00ff,#7c00ff,#8e00ff,#9e00ff,#ad00ff,#b900ff,#c300ff,#cc00ff,#d400ff,#db00ff,#e200ff,#e900ff)"></i><i style="height:2px;background:linear-gradient(90deg,#8cff00,#80ff00,#6fff00,#5eff00,#4dff00,#3dff00,#2eff00,#21ff00,#16ff00,#0dff00,#06ff00,#02ff00,#00ff00,#02ff00,#08ff00,#0fff00,#0cff00,#00ff0f,#00ff49,#00ff98,#00ffe9,#00d3ff,#00a4ff,#0080ff,#005eff,#0036ff,#000dff,#1900ff,#3800ff,#5000ff,#6400ff,#7500ff,#8600ff,#9600ff,#a400ff,#b100ff,#bb00ff,#c500ff,#cd00ff,#d500ff,#dc00ff,#e200ff)"></i><i style="height:2px;background:linear-gradient(90deg,#84ff00,#79ff00,#69ff00,#58ff00,#47ff00,#37ff00,#28ff00,#1bff00,#10ff00,#09ff00,#03ff00,#00ff02,#00ff04,#00ff02,#03ff00,#0aff00,#07ff00,#00ff13,#00ff4c,#00ff99,#00ffe9,#00d4ff,#00a6ff,#0083ff,#0061ff,#003bff,#0013ff,#1200ff,#3100ff,#4900ff,#5d00ff,#6e00ff,#7e00ff,#8d00ff,#9b00ff,#a800ff,#b300ff,#bd00ff,#c600ff,#ce00ff,#d600ff,#db00ff)"></i><i style="height:2px;background:linear-gradient(90deg,#7bff00,#71ff00,#62ff00,#51ff00,#40ff00,#30ff00,#21ff00,#14ff00,#0bff00,#04ff00,#00ff02,#00ff06,#00ff08,#00ff07,#00ff02,#04ff00,#01ff00,#00ff19,#00ff50,#00ff9b,#00ffe8,#00d6ff,#00a9ff,#0086ff,#0064ff,#003fff,#0019ff,#0b00ff,#2900ff,#4100ff,#5400ff,#6600ff,#7500ff,#8400ff,#9100ff,#9e00ff,#aa00ff,#b500ff,#bf00ff,#c700ff,#ce00ff,#d300ff)"></i><i style="height:2px;background:linear-gradient(90deg,#72ff00,#68ff00,#5aff00,#4aff00,#39ff00,#29ff00,#1aff00,#0dff00,#05ff00,#00ff02,#00ff06,#00ff0a,#00ff0d,#00ff0d,#00ff08,#00ff03,#00ff06,#00ff1f,#00ff54,#00ff9c,#00ffe7,#00d9ff,#00acff,#0088ff,#0068ff,#0044ff,#0020ff,#0200ff,#1f00ff,#3700ff,#4b00ff,#5c00ff,#6c00ff,#7a00ff,#8800ff,#9500ff,#a100ff,#ad00ff,#b700ff,#c000ff,#c600ff,#ca00ff)"></i><i style="height:2px;background:linear-gradient(90deg,#68ff00,#5fff00,#51ff00,#41ff00,#31ff00,#21ff00,#12ff00,#07ff00,#00ff02,#00ff07,#00ff0b,#00ff0f,#00ff12,#00ff12,#00ff0f,#00ff0a,#00ff0e,#00ff25,#00ff58,#00ff9d,#00ffe6,#00dcff,#00afff,#008bff,#006bff,#0049ff,#0027ff,#0007ff,#1500ff,#2d00ff,#4100ff,#5300ff,#6200ff,#7000ff,#7e00ff,#8b00ff,#9800ff,#a400ff,#af00ff,#b800ff,#be00ff,#c200ff)"></i><i style="height:2px;background:linear-gradient(90deg,#5eff00,#55ff00,#48ff00,#39ff00,#28ff00,#19ff00,#0bff00,#00ff00,#00ff08,#00ff0d,#00ff11,#00ff15,#00ff18,#00ff19,#00ff16,#00ff12,#00ff15,#00ff2c,#00ff5c,#00ff9e,#00ffe4,#00dfff,#00b2ff,#008eff,#006eff,#004fff,#002fff,#0011ff,#0900ff,#2100ff,#3600ff,#4800ff,#5800ff,#6600ff,#7400ff,#8200ff,#8f00ff,#9b00ff,#a600ff,#af00ff,#b500ff,#b800ff)"></i><i style="height:2px;background:linear-gradient(90deg,#53ff00,#4bff00,#3eff00,#2fff00,#20ff00,#11ff00,#03ff00,#00ff07,#00ff0e,#00ff13,#00ff16,#00ff1a,#00ff1e,#00ff1f,#00ff1d,#00ff19,#00ff1e,#00ff33,#00ff61,#00ff9f,#00ffe2,#00e2ff,#00b5ff,#0091ff,#0072ff,#0054ff,#0037ff,#001cff,#0002ff,#1500ff,#2b00ff,#3d00ff,#4d00ff,#5c00ff,#6a00ff,#7800ff,#8500ff,#9200ff,#9d00ff,#a600ff,#ac00ff,#af00ff)"></i><i style="height:2px;background:linear-gradient(90deg,#48ff00,#40ff00,#33ff00,#25ff00,#17ff00,#08ff00,#00ff04,#00ff0e,#00ff15,#00ff19,#00ff1c,#00ff20,#00ff24,#00ff26,#00ff24,#00ff22,#00ff26,#00ff3a,#00ff66,#00ffa1,#00ffe0,#00e6ff,#00b9ff,#0095ff,#0076ff,#005aff,#0040ff,#0027ff,#000fff,#0900ff,#1f00ff,#3200ff,#4300ff,#5200ff,#6000ff,#6e00ff,#7c00ff,#8900ff,#9400ff,#9d00ff,#a300ff,#a600ff)"></i><i style="height:2px;background:linear-gradient(90deg,#3cff00,#34ff00,#29ff00,#1bff00,#0dff00,#00ff00,#00ff0c,#00ff15,#00ff1b,#00ff1f,#00ff22,#00ff26,#00ff2a,#00ff2c,#00ff2c,#00ff2a,#00ff2e,#00ff42,#00ff6a,#00ffa2,#00ffde,#00e9ff,#00bdff,#0098ff,#007aff,#0060ff,#0049ff,#0033ff,#001bff,#0004ff,#1200ff,#2600ff,#3800ff,#4700ff,#5600ff,#6400ff,#7200ff,#8000ff,#8b00ff,#9400ff,#9a00ff,#9c00ff)"></i><i style="height:2px;background:linear-gradient(90deg,#30ff00,#29ff00,#1eff00,#11ff00,#04ff00,#00ff08,#00ff13,#00ff1c,#00ff21,#00ff25,#00ff28,#00ff2c,#00ff30,#00ff33,#00ff33,#00ff32,#00ff36,#00ff49,#00ff6f,#00ffa4,#00ffdd,#00ecff,#00c0ff,#009cff,#007fff,#0067ff,#0052ff,#003eff,#0028ff,#0011ff,#0600ff,#1b00ff,#2d00ff,#3d00ff,#4c00ff,#5b00ff,#6900ff,#7600ff,#8200ff,#8b00ff,#9100ff,#9300ff)"></i><i style="height:2px;background:linear-gradient(90deg,#24ff00,#1dff00,#13ff00,#07ff00,#00ff05,#00ff10,#00ff1a,#00ff22,#00ff28,#00ff2b,#00ff2e,#00ff32,#00ff36,#00ff39,#00ff3a,#00ff39,#00ff3e,#00ff50,#00ff74,#00ffa5,#00ffdc,#00f0ff,#00c4ff,#00a0ff,#0084ff,#006eff,#005cff,#004aff,#0035ff,#001eff,#0006ff,#0f00ff,#2200ff,#3200ff,#4200ff,#5100ff,#6000ff,#6d00ff,#7900ff,#8200ff,#8800ff,#8a00ff)"></i><i style="height:2px;background:linear-gradient(90deg,#17ff00,#11ff00,#08ff00,#00ff03,#00ff0d,#00ff18,#00ff21,#00ff28,#00ff2d,#00ff31,#00ff34,#00ff38,#00ff3c,#00ff40,#00ff41,#00ff41,#00ff46,#00ff57,#00ff79,#00ffa7,#00ffdb,#00f2ff,#00c8ff,#00a5ff,#008aff,#0076ff,#0065ff,#0055ff,#0041ff,#002aff,#0013ff,#0400ff,#1700ff,#2800ff,#3800ff,#4800ff,#5700ff,#6400ff,#7000ff,#7900ff,#8000ff,#8200ff)"></i><i style="height:2px;background:linear-gradient(90deg,#0bff00,#05ff00,#00ff03,#00ff0c,#00ff16,#00ff1f,#00ff28,#00ff2e,#00ff33,#00ff36,#00ff3a,#00ff3e,#00ff42,#00ff46,#00ff47,#00ff48,#00ff4d,#00ff5e,#00ff7e,#00ffaa,#00ffdb,#00f4ff,#00ccff,#00aaff,#0090ff,#007eff,#006fff,#0060ff,#004dff,#0036ff,#001eff,#0008ff,#0c00ff,#1e00ff,#2e00ff,#3e00ff,#4e00ff,#5b00ff,#6700ff,#7100ff,#7700ff,#7a00ff)"></i><i style="height:2px;background:linear-gradient(90deg,#00ff01,#00ff06,#00ff0d,#00ff15,#00ff1e,#00ff26,#00ff2e,#00ff34,#00ff38,#00ff3b,#00ff3f,#00ff43,#00ff48,#00ff4b,#00ff4d,#00ff4e,#00ff54,#00ff64,#00ff83,#00ffad,#00ffdb,#00f6ff,#00cfff,#00afff,#0097ff,#0086ff,#0079ff,#006bff,#0059ff,#0042ff,#002aff,#0013ff,#0100ff,#1400ff,#2500ff,#3500ff,#4500ff,#5300ff,#5f00ff,#6900ff,#7000ff,#7200ff)"></i><i style="height:2px;background:linear-gradient(90deg,#00ff0d,#00ff11,#00ff17,#00ff1e,#00ff25,#00ff2c,#00ff33,#00ff39,#00ff3d,#00ff40,#00ff44,#00ff48,#00ff4d,#00ff51,#00ff53,#00ff54,#00ff59,#00ff69,#00ff87,#00ffb0,#00ffdd,#00f7ff,#00d3ff,#00b5ff,#009fff,#0090ff,#0083ff,#0076ff,#0063ff,#004dff,#0035ff,#001dff,#0009ff,#0a00ff,#1c00ff,#2c00ff,#3c00ff,#4b00ff,#5700ff,#6100ff,#6800ff,#6b00ff)"></i><i style="height:2px;background:linear-gradient(90deg,#00ff18,#00ff1b,#00ff20,#00ff26,#00ff2c,#00ff33,#00ff38,#00ff3d,#00ff42,#00ff45,#00ff49,#00ff4d,#00ff52,#00ff55,#00ff57,#00ff59,#00ff5f,#00ff6e,#00ff8c,#00ffb4,#00ffdf,#00f8ff,#00d6ff,#00bcff,#00a8ff,#0099ff,#008dff,#0080ff,#006dff,#0057ff,#003fff,#0028ff,#0013ff,#0100ff,#1300ff,#2400ff,#3400ff,#4300ff,#5000ff,#5a00ff,#6200ff,#6500ff)"></i><i style="height:2px;background:linear-gradient(90deg,#00ff23,#00ff26,#00ff2a,#00ff2e,#00ff34,#00ff39,#00ff3e,#00ff43,#00ff47,#00ff4a,#00ff4e,#00ff52,#00ff57,#00ff5a,#00ff5c,#00ff5e,#00ff63,#00ff73,#00ff90,#00ffb8,#00ffe1,#00f7ff,#00daff,#00c3ff,#00b1ff,#00a3ff,#0097ff,#0089ff,#0077ff,#0060ff,#0049ff,#0031ff,#001cff,#0009ff,#0a00ff,#1c00ff,#2c00ff,#3b00ff,#4900ff,#5300ff,#5b00ff,#5f00ff)"></i><i style="height:2px;background:linear-gradient(90deg,#00ff2f,#00ff31,#00ff33,#00ff37,#00ff3b,#00ff40,#00ff44,#00ff49,#00ff4c,#00ff50,#00ff53,#00ff58,#00ff5c,#00ff5f,#00ff61,#00ff62,#00ff68,#00ff77,#00ff95,#00ffbc,#00ffe4,#00f7ff,#00ddff,#00c9ff,#00baff,#00adff,#00a1ff,#0092ff,#007fff,#0069ff,#0052ff,#003bff,#0026ff,#0012ff,#0100ff,#1300ff,#2400ff,#3400ff,#4200ff,#4d00ff,#5500ff,#5900ff)"></i><i style="height:2px;background:linear-gradient(90deg,#00ff3b,#00ff3c,#00ff3e,#00ff40,#00ff44,#00ff48,#00ff4c,#00ff50,#00ff53,#00ff56,#00ff5a,#00ff5e,#00ff62,#00ff65,#00ff66,#00ff67,#00ff6c,#00ff7c,#00ff9a,#00ffc0,#00ffe7,#00f7ff,#00e0ff,#00d0ff,#00c3ff,#00b7ff,#00aaff,#009aff,#0087ff,#0071ff,#005bff,#0044ff,#002fff,#001bff,#0008ff,#0b00ff,#1d00ff,#2d00ff,#3b00ff,#4600ff,#4f00ff,#5300ff)"></i><i style="height:2px;background:linear-gradient(90deg,#00ff47,#00ff47,#00ff49,#00ff4b,#00ff4e,#00ff51,#00ff55,#00ff58,#00ff5b,#00ff5e,#00ff61,#00ff65,#00ff68,#00ff6a,#00ff6b,#00ff6c,#00ff71,#00ff81,#00ff9e,#00ffc4,#00ffea,#00f6ff,#00e3ff,#00d7ff,#00ccff,#00c1ff,#00b3ff,#00a2ff,#008fff,#0079ff,#0063ff,#004dff,#0038ff,#0024ff,#0010ff,#0300ff,#1500ff,#2500ff,#3400ff,#4000ff,#4900ff,#4e00ff)"></i><i style="height:2px;background:linear-gradient(90deg,#00ff54,#00ff54,#00ff55,#00ff56,#00ff59,#00ff5c,#00ff60,#00ff63,#00ff65,#00ff67,#00ff6a,#00ff6c,#00ff6f,#00ff71,#00ff71,#00ff71,#00ff76,#00ff86,#00ffa3,#00ffc9,#00ffed,#00f6ff,#00e6ff,#00ddff,#00d5ff,#00caff,#00bbff,#00aaff,#0096ff,#0081ff,#006bff,#0055ff,#0041ff,#002cff,#0019ff,#0006ff,#0d00ff,#1e00ff,#2c00ff,#3900ff,#4200ff,#4800ff)"></i><i style="height:2px;background:linear-gradient(90deg,#00ff62,#00ff61,#00ff62,#00ff64,#00ff66,#00ff6a,#00ff6d,#00ff6f,#00ff71,#00ff73,#00ff74,#00ff76,#00ff77,#00ff78,#00ff78,#00ff78,#00ff7c,#00ff8b,#00ffa8,#00ffcd,#00fff0,#00f6ff,#00e9ff,#00e3ff,#00ddff,#00d2ff,#00c3ff,#00b0ff,#009dff,#0088ff,#0073ff,#005eff,#0049ff,#0035ff,#0022ff,#000eff,#0500ff,#1600ff,#2500ff,#3200ff,#3c00ff,#4100ff)"></i><i style="height:2px;background:linear-gradient(90deg,#00ff70,#00ff70,#00ff71,#00ff73,#00ff76,#00ff79,#00ff7c,#00ff7f,#00ff80,#00ff80,#00ff80,#00ff80,#00ff81,#00ff81,#00ff80,#00ff7f,#00ff83,#00ff91,#00ffad,#00ffd1,#00fff2,#00f6ff,#00ecff,#00e9ff,#00e5ff,#00daff,#00caff,#00b7ff,#00a3ff,#008fff,#007aff,#0066ff,#0052ff,#003eff,#002aff,#0017ff,#0004ff,#0e00ff,#1d00ff,#2b00ff,#3500ff,#3a00ff)"></i><i style="height:2px;background:linear-gradient(90deg,#00ff80,#00ff80,#00ff81,#00ff84,#00ff88,#00ff8c,#00ff8f,#00ff91,#00ff91,#00ff90,#00ff8e,#00ff8d,#00ff8c,#00ff8b,#00ff89,#00ff87,#00ff8b,#00ff98,#00ffb3,#00ffd5,#00fff4,#00f6ff,#00f0ff,#00eeff,#00ebff,#00e0ff,#00d0ff,#00bdff,#00a9ff,#0095ff,#0081ff,#006eff,#005aff,#0047ff,#0033ff,#0020ff,#000dff,#0500ff,#1500ff,#2300ff,#2d00ff,#3300ff)"></i><i style="height:2px;background:linear-gradient(90deg,#00ff91,#00ff91,#00ff94,#00ff99,#00ff9e,#00ffa2,#00ffa6,#00ffa7,#00ffa6,#00ffa3,#00ff9f,#00ff9c,#00ff99,#00ff96,#00ff93,#00ff91,#00ff93,#00ffa0,#00ffb9,#00ffd8,#00fff5,#00f8ff,#00f3ff,#00f2ff,#00f0ff,#00e6ff,#00d6ff,#00c2ff,#00afff,#009cff,#0089ff,#0076ff,#0063ff,#0050ff,#003dff,#0029ff,#0016ff,#0003ff,#0d00ff,#1b00ff,#2500ff,#2a00ff)"></i><i style="height:2px;background:linear-gradient(90deg,#00ffa3,#00ffa5,#00ffa9,#00ffb0,#00ffb6,#00ffbc,#00ffc0,#00ffc1,#00ffbe,#00ffb9,#00ffb2,#00ffac,#00ffa7,#00ffa3,#00ff9f,#00ff9c,#00ff9e,#00ffa9,#00ffbf,#00ffdb,#00fff5,#00faff,#00f6ff,#00f6ff,#00f3ff,#00eaff,#00daff,#00c7ff,#00b4ff,#00a2ff,#0090ff,#007eff,#006bff,#0059ff,#0046ff,#0033ff,#001fff,#000dff,#0400ff,#1200ff,#1c00ff,#2100ff)"></i><i style="height:2px;background:linear-gradient(90deg,#00ffb6,#00ffb9,#00ffc0,#00ffc9,#00ffd1,#00ffd9,#00ffde,#00ffde,#00ffd9,#00ffd1,#00ffc8,#00ffbf,#00ffb8,#00ffb1,#00ffac,#00ffa8,#00ffa9,#00ffb2,#00ffc5,#00ffde,#00fff4,#00fdff,#00f9ff,#00f9ff,#00f6ff,#00ecff,#00deff,#00ccff,#00baff,#00a8ff,#0097ff,#0085ff,#0074ff,#0062ff,#0050ff,#003dff,#0029ff,#0017ff,#0006ff,#0800ff,#1200ff,#1600ff)"></i><i style="height:2px;background:linear-gradient(90deg,#00ffc9,#00ffce,#00ffd7,#00ffe2,#00ffed,#00fff6,#00fffc,#00fffc,#00fff5,#00ffea,#00ffde,#00ffd2,#00ffc8,#00ffc0,#00ffb9,#00ffb5,#00ffb5,#00ffbc,#00ffcb,#00ffdf,#00fff2,#00fffe,#00fcff,#00fbff,#00f7ff,#00eeff,#00e1ff,#00d1ff,#00c0ff,#00afff,#009eff,#008eff,#007dff,#006cff,#005bff,#0048ff,#0034ff,#0022ff,#0011ff,#0003ff,#0700ff,#0b00ff)"></i><i style="height:2px;background:linear-gradient(90deg,#00ffdb,#00ffe2,#00ffed,#00fffa,#00f7ff,#00ecff,#00e6ff,#00e7ff,#00efff,#00fcff,#00fff3,#00ffe4,#00ffd8,#00ffce,#00ffc6,#00ffc1,#00ffc0,#00ffc5,#00ffd1,#00ffe0,#00ffef,#00fffa,#00fffe,#00fdff,#00f8ff,#00f0ff,#00e4ff,#00d5ff,#00c6ff,#00b6ff,#00a6ff,#0096ff,#0087ff,#0077ff,#0067ff,#0054ff,#0041ff,#002eff,#001dff,#000fff,#0005ff,#0002ff)"></i><i style="height:2px;background:linear-gradient(90deg,#00ffea,#00fff2,#00feff,#00efff,#00e0ff,#00d5ff,#00ceff,#00cfff,#00d8ff,#00e7ff,#00f9ff,#00fff5,#00ffe7,#00ffdb,#00ffd2,#00ffcc,#00ffca,#00ffcd,#00ffd5,#00ffe1,#00ffec,#00fff5,#00fffb,#00ffff,#00f9ff,#00f1ff,#00e7ff,#00daff,#00ccff,#00bdff,#00afff,#00a0ff,#0092ff,#0084ff,#0074ff,#0062ff,#004eff,#003bff,#002aff,#001cff,#0013ff,#000fff)"></i><i style="height:2px;background:linear-gradient(90deg,#00fff6,#00feff,#00f0ff,#00dfff,#00d0ff,#00c3ff,#00bcff,#00bdff,#00c7ff,#00d7ff,#00eaff,#00fcff,#00fff2,#00ffe5,#00ffdb,#00ffd5,#00ffd3,#00ffd4,#00ffd9,#00ffe0,#00ffe8,#00fff0,#00fff6,#00fffd,#00fbff,#00f3ff,#00eaff,#00e0ff,#00d3ff,#00c6ff,#00b8ff,#00abff,#009fff,#0092ff,#0083ff,#0071ff,#005eff,#004bff,#0039ff,#002bff,#0021ff,#001eff)"></i><i style="height:2px;background:linear-gradient(90deg,#00fffe,#00f6ff,#00e7ff,#00d6ff,#00c6ff,#00baff,#00b3ff,#00b4ff,#00bdff,#00cdff,#00e1ff,#00f3ff,#00fffa,#00ffec,#00ffe2,#00ffdb,#00ffd8,#00ffd8,#00ffda,#00ffde,#00ffe4,#00ffea,#00fff2,#00fff9,#00fdff,#00f6ff,#00efff,#00e6ff,#00dbff,#00cfff,#00c3ff,#00b8ff,#00adff,#00a2ff,#0094ff,#0083ff,#0070ff,#005cff,#004aff,#003bff,#0031ff,#002eff)"></i><i style="height:2px;background:linear-gradient(90deg,#00feff,#00f4ff,#00e5ff,#00d5ff,#00c7ff,#00bbff,#00b4ff,#00b5ff,#00bdff,#00ccff,#00deff,#00f0ff,#00fffd,#00ffef,#00ffe4,#00ffde,#00ffda,#00ffd9,#00ffda,#00ffdb,#00ffdf,#00ffe5,#00ffed,#00fff5,#00fffd,#00faff,#00f4ff,#00edff,#00e4ff,#00daff,#00d0ff,#00c6ff,#00bdff,#00b4ff,#00a8ff,#0097ff,#0084ff,#0070ff,#005dff,#004dff,#0042ff,#003fff)"></i><i style="height:2px;background:linear-gradient(90deg,#00fffd,#00f8ff,#00eaff,#00dcff,#00cfff,#00c5ff,#00bfff,#00bfff,#00c6ff,#00d2ff,#00e1ff,#00f2ff,#00fffc,#00ffee,#00ffe4,#00ffdd,#00ffda,#00ffd8,#00ffd7,#00ffd7,#00ffda,#00ffdf,#00ffe7,#00fff0,#00fff8,#00fffe,#00fbff,#00f5ff,#00eeff,#00e6ff,#00ddff,#00d6ff,#00cfff,#00c8ff,#00bdff,#00adff,#009aff,#0085ff,#0071ff,#0060ff,#0054ff,#0051ff)"></i><i style="height:2px;background:linear-gradient(90deg,#00fff6,#00ffff,#00f4ff,#00e8ff,#00ddff,#00d5ff,#00d0ff,#00cfff,#00d4ff,#00ddff,#00e9ff,#00f7ff,#00fff8,#00ffea,#00ffe0,#00ffda,#00ffd7,#00ffd5,#00ffd3,#00ffd3,#00ffd4,#00ffd9,#00ffe1,#00ffea,#00fff2,#00fff8,#00fffc,#00feff,#00f8ff,#00f1ff,#00ebff,#00e5ff,#00e1ff,#00dbff,#00d2ff,#00c3ff,#00afff,#009aff,#0085ff,#0073ff,#0067ff,#0062ff)"></i><i style="height:2px;background:linear-gradient(90deg,#00ffed,#00fff5,#00ffff,#00f6ff,#00eeff,#00e8ff,#00e4ff,#00e3ff,#00e5ff,#00eaff,#00f3ff,#00ffff,#00fff2,#00ffe5,#00ffdb,#00ffd5,#00ffd2,#00ffd0,#00ffce,#00ffce,#00ffcf,#00ffd4,#00ffdb,#00ffe4,#00ffec,#00fff1,#00fff4,#00fff8,#00fffc,#00fcff,#00f7ff,#00f4ff,#00f1ff,#00edff,#00e5ff,#00d7ff,#00c3ff,#00aeff,#0098ff,#0085ff,#0078ff,#0073ff)"></i><i style="height:2px;background:linear-gradient(90deg,#00ffe4,#00ffea,#00fff2,#00fff9,#00ffff,#00faff,#00f7ff,#00f5ff,#00f5ff,#00f8ff,#00feff,#00fff7,#00ffeb,#00ffdf,#00ffd6,#00ffd0,#00ffcd,#00ffcb,#00ffc9,#00ffc8,#00ffc9,#00ffce,#00ffd5,#00ffde,#00ffe5,#00ffea,#00ffed,#00fff0,#00fff4,#00fff8,#00fffb,#00fffe,#00ffff,#00fdff,#00f5ff,#00e7ff,#00d4ff,#00bfff,#00a9ff,#0096ff,#0088ff,#0082ff)"></i><i style="height:2px;background:linear-gradient(90deg,#00ffda,#00ffe0,#00ffe6,#00ffec,#00fff0,#00fff4,#00fff7,#00fff9,#00fffa,#00fffa,#00fff6,#00ffef,#00ffe4,#00ffd9,#00ffd0,#00ffcb,#00ffc8,#00ffc7,#00ffc5,#00ffc3,#00ffc4,#00ffc8,#00ffcf,#00ffd7,#00ffdf,#00ffe3,#00ffe7,#00ffe9,#00ffec,#00fff0,#00fff2,#00fff4,#00fff4,#00fff6,#00fffd,#00f4ff,#00e1ff,#00ccff,#00b7ff,#00a4ff,#0096ff,#008fff)"></i><i style="height:2px;background:linear-gradient(90deg,#00ffd1,#00ffd7,#00ffdc,#00ffe0,#00ffe4,#00ffe7,#00ffe9,#00ffec,#00ffee,#00ffef,#00ffed,#00ffe7,#00ffdd,#00ffd3,#00ffcb,#00ffc7,#00ffc4,#00ffc2,#00ffc0,#00ffbe,#00ffbe,#00ffc2,#00ffc9,#00ffd1,#00ffd8,#00ffdd,#00ffe0,#00ffe3,#00ffe6,#00ffe9,#00ffeb,#00ffec,#00ffed,#00ffef,#00fff5,#00fcff,#00ebff,#00d7ff,#00c3ff,#00b0ff,#00a2ff,#009bff)"></i><i style="height:2px;background:linear-gradient(90deg,#00ffc8,#00ffcd,#00ffd2,#00ffd6,#00ffd9,#00ffdc,#00ffde,#00ffe1,#00ffe4,#00ffe6,#00ffe4,#00ffdf,#00ffd7,#00ffce,#00ffc6,#00ffc2,#00ffbf,#00ffbd,#00ffbb,#00ffb9,#00ffb9,#00ffbc,#00ffc2,#00ffca,#00ffd1,#00ffd7,#00ffda,#00ffde,#00ffe0,#00ffe3,#00ffe6,#00ffe7,#00ffe7,#00ffea,#00fff0,#00fffc,#00f2ff,#00dfff,#00ccff,#00baff,#00acff,#00a5ff)"></i><i style="height:2px;background:linear-gradient(90deg,#00ffc0,#00ffc4,#00ffc9,#00ffcc,#00ffd0,#00ffd3,#00ffd5,#00ffd8,#00ffdb,#00ffdd,#00ffdc,#00ffd8,#00ffd1,#00ffc8,#00ffc2,#00ffbd,#00ffbb,#00ffb9,#00ffb6,#00ffb3,#00ffb3,#00ffb6,#00ffbc,#00ffc3,#00ffcb,#00ffd0,#00ffd5,#00ffd8,#00ffdb,#00ffde,#00ffe1,#00ffe3,#00ffe4,#00ffe7,#00ffee,#00fff9,#00f6ff,#00e5ff,#00d3ff,#00c3ff,#00b5ff,#00aeff)"></i><i style="height:2px;background:linear-gradient(90deg,#00ffb7,#00ffbb,#00ffc0,#00ffc4,#00ffc8,#00ffcb,#00ffce,#00ffd1,#00ffd4,#00ffd6,#00ffd5,#00ffd1,#00ffca,#00ffc3,#00ffbd,#00ffb9,#00ffb6,#00ffb4,#00ffb1,#00ffae,#00ffad,#00ffaf,#00ffb5,#00ffbc,#00ffc4,#00ffca,#00ffcf,#00ffd3,#00ffd6,#00ffda,#00ffdd,#00ffdf,#00ffe2,#00ffe6,#00ffed,#00fff8,#00f9ff,#00e9ff,#00d9ff,#00caff,#00beff,#00b6ff)"></i><i style="height:2px;background:linear-gradient(90deg,#00ffae,#00ffb2,#00ffb7,#00ffbc,#00ffc0,#00ffc5,#00ffc8,#00ffcb,#00ffce,#00ffcf,#00ffce,#00ffca,#00ffc4,#00ffbd,#00ffb8,#00ffb4,#00ffb1,#00ffae,#00ffab,#00ffa8,#00ffa7,#00ffa9,#00ffae,#00ffb5,#00ffbc,#00ffc3,#00ffc8,#00ffcd,#00ffd1,#00ffd5,#00ffd9,#00ffdd,#00ffe1,#00ffe6,#00ffed,#00fff7,#00faff,#00ecff,#00deff,#00d1ff,#00c5ff,#00beff)"></i><i style="height:2px;background:linear-gradient(90deg,#00ffa5,#00ffa9,#00ffaf,#00ffb4,#00ffba,#00ffbf,#00ffc3,#00ffc6,#00ffc8,#00ffc8,#00ffc6,#00ffc2,#00ffbd,#00ffb7,#00ffb2,#00ffaf,#00ffac,#00ffa9,#00ffa5,#00ffa2,#00ffa0,#00ffa2,#00ffa6,#00ffad,#00ffb4,#00ffbb,#00ffc1,#00ffc7,#00ffcc,#00ffd0,#00ffd5,#00ffda,#00ffdf,#00ffe6,#00ffee,#00fff8,#00fbff,#00efff,#00e3ff,#00d7ff,#00cdff,#00c5ff)"></i><i style="height:2px;background:linear-gradient(90deg,#00ff9c,#00ffa0,#00ffa6,#00ffad,#00ffb3,#00ffba,#00ffbf,#00ffc2,#00ffc3,#00ffc2,#00ffbf,#00ffbb,#00ffb6,#00ffb1,#00ffad,#00ffa9,#00ffa6,#00ffa3,#00ff9f,#00ff9b,#00ff99,#00ff9a,#00ff9e,#00ffa5,#00ffac,#00ffb3,#00ffba,#00ffc0,#00ffc6,#00ffcb,#00ffd0,#00ffd6,#00ffdd,#00ffe5,#00ffee,#00fff8,#00fcff,#00f2ff,#00e8ff,#00deff,#00d4ff,#00ccff)"></i><i style="height:2px;background:linear-gradient(90deg,#00ff93,#00ff97,#00ff9d,#00ffa5,#00ffad,#00ffb4,#00ffba,#00ffbd,#00ffbe,#00ffbc,#00ffb8,#00ffb3,#00ffaf,#00ffaa,#00ffa7,#00ffa3,#00ffa0,#00ff9c,#00ff98,#00ff94,#00ff92,#00ff92,#00ff96,#00ff9c,#00ffa3,#00ffaa,#00ffb1,#00ffb8,#00ffbe,#00ffc4,#00ffcb,#00ffd2,#00ffda,#00ffe4,#00ffed,#00fff7,#00feff,#00f6ff,#00edff,#00e4ff,#00dbff,#00d4ff)"></i><i style="height:2px;background:linear-gradient(90deg,#00ff8a,#00ff8d,#00ff94,#00ff9d,#00ffa6,#00ffae,#00ffb5,#00ffb9,#00ffb8,#00ffb5,#00ffb0,#00ffac,#00ffa7,#00ffa3,#00ffa0,#00ff9d,#00ff99,#00ff95,#00ff91,#00ff8c,#00ff8a,#00ff8a,#00ff8d,#00ff92,#00ff99,#00ffa0,#00ffa8,#00ffaf,#00ffb6,#00ffbc,#00ffc3,#00ffcc,#00ffd6,#00ffe0,#00ffeb,#00fff4,#00fffc,#00fbff,#00f3ff,#00ecff,#00e3ff,#00dcff)"></i><i style="height:2px;background:linear-gradient(90deg,#00ff80,#00ff83,#00ff8a,#00ff94,#00ff9e,#00ffa8,#00ffaf,#00ffb3,#00ffb2,#00ffae,#00ffa8,#00ffa3,#00ff9f,#00ff9c,#00ff99,#00ff95,#00ff92,#00ff8d,#00ff89,#00ff84,#00ff81,#00ff80,#00ff83,#00ff88,#00ff8e,#00ff95,#00ff9d,#00ffa5,#00ffac,#00ffb2,#00ffba,#00ffc3,#00ffcf,#00ffdb,#00ffe6,#00ffef,#00fff6,#00fffd,#00fbff,#00f4ff,#00ecff,#00e5ff)"></i><i style="height:2px;background:linear-gradient(90deg,#00ff76,#00ff79,#00ff80,#00ff8a,#00ff96,#00ffa0,#00ffa9,#00ffac,#00ffab,#00ffa6,#00ffa0,#00ff9b,#00ff97,#00ff94,#00ff91,#00ff8d,#00ff89,#00ff85,#00ff80,#00ff7b,#00ff78,#00ff77,#00ff78,#00ff7c,#00ff82,#00ff89,#00ff91,#00ff98,#00ffa0,#00ffa7,#00ffaf,#00ffb9,#00ffc5,#00ffd2,#00ffdd,#00ffe7,#00ffee,#00fff4,#00fffa,#00feff,#00f7ff,#00efff)"></i><i style="height:2px;background:linear-gradient(90deg,#00ff6c,#00ff6e,#00ff75,#00ff80,#00ff8c,#00ff98,#00ffa1,#00ffa5,#00ffa3,#00ff9e,#00ff97,#00ff91,#00ff8e,#00ff8b,#00ff88,#00ff85,#00ff80,#00ff7c,#00ff76,#00ff71,#00ff6e,#00ff6c,#00ff6d,#00ff71,#00ff76,#00ff7c,#00ff83,#00ff8b,#00ff92,#00ff99,#00ffa1,#00ffac,#00ffb9,#00ffc6,#00ffd2,#00ffdc,#00ffe3,#00ffe9,#00ffef,#00fff5,#00fffc,#00faff)"></i><i style="height:2px;background:linear-gradient(90deg,#00ff62,#00ff63,#00ff6a,#00ff75,#00ff82,#00ff8e,#00ff98,#00ff9c,#00ff9b,#00ff95,#00ff8d,#00ff88,#00ff84,#00ff82,#00ff7f,#00ff7c,#00ff77,#00ff72,#00ff6c,#00ff67,#00ff63,#00ff62,#00ff62,#00ff64,#00ff69,#00ff6f,#00ff75,#00ff7c,#00ff83,#00ff8a,#00ff92,#00ff9d,#00ffaa,#00ffb8,#00ffc5,#00ffcf,#00ffd6,#00ffdd,#00ffe2,#00ffe8,#00fff0,#00fff8)"></i><i style="height:2px;background:linear-gradient(90deg,#00ff57,#00ff57,#00ff5e,#00ff69,#00ff77,#00ff84,#00ff8e,#00ff93,#00ff92,#00ff8b,#00ff84,#00ff7e,#00ff7b,#00ff79,#00ff76,#00ff72,#00ff6d,#00ff68,#00ff62,#00ff5d,#00ff59,#00ff57,#00ff56,#00ff58,#00ff5c,#00ff61,#00ff67,#00ff6d,#00ff73,#00ff7a,#00ff82,#00ff8d,#00ff9a,#00ffa9,#00ffb6,#00ffc0,#00ffc8,#00ffcf,#00ffd5,#00ffdb,#00ffe3,#00ffeb)"></i><i style="height:2px;background:linear-gradient(90deg,#00ff4d,#00ff4c,#00ff52,#00ff5e,#00ff6c,#00ff7a,#00ff84,#00ff8a,#00ff88,#00ff82,#00ff7a,#00ff75,#00ff71,#00ff6f,#00ff6c,#00ff68,#00ff63,#00ff5e,#00ff58,#00ff53,#00ff4f,#00ff4c,#00ff4b,#00ff4c,#00ff4e,#00ff52,#00ff58,#00ff5d,#00ff63,#00ff69,#00ff71,#00ff7c,#00ff8a,#00ff98,#00ffa5,#00ffb0,#00ffb8,#00ffc0,#00ffc6,#00ffcd,#00ffd6,#00ffde)"></i><i style="height:2px;background:linear-gradient(90deg,#00ff43,#00ff41,#00ff47,#00ff52,#00ff60,#00ff6f,#00ff7a,#00ff80,#00ff7e,#00ff78,#00ff70,#00ff6b,#00ff68,#00ff65,#00ff62,#00ff5e,#00ff59,#00ff54,#00ff4e,#00ff49,#00ff45,#00ff42,#00ff40,#00ff40,#00ff41,#00ff44,#00ff49,#00ff4e,#00ff53,#00ff59,#00ff60,#00ff6b,#00ff78,#00ff86,#00ff94,#00ff9f,#00ffa8,#00ffb0,#00ffb7,#00ffbf,#00ffc8,#00ffd1)"></i><i style="height:2px;background:linear-gradient(90deg,#00ff3a,#00ff37,#00ff3c,#00ff47,#00ff55,#00ff64,#00ff70,#00ff76,#00ff74,#00ff6e,#00ff67,#00ff61,#00ff5e,#00ff5c,#00ff59,#00ff54,#00ff4f,#00ff4a,#00ff44,#00ff3f,#00ff3b,#00ff38,#00ff35,#00ff34,#00ff35,#00ff37,#00ff3a,#00ff3f,#00ff43,#00ff48,#00ff4f,#00ff5a,#00ff66,#00ff75,#00ff82,#00ff8e,#00ff97,#00ffa0,#00ffa8,#00ffb1,#00ffba,#00ffc3)"></i><i style="height:2px;background:linear-gradient(90deg,#00ff31,#00ff2d,#00ff32,#00ff3c,#00ff4a,#00ff59,#00ff65,#00ff6b,#00ff6a,#00ff65,#00ff5d,#00ff58,#00ff54,#00ff52,#00ff4f,#00ff4b,#00ff46,#00ff40,#00ff3b,#00ff36,#00ff32,#00ff2e,#00ff2b,#00ff2a,#00ff29,#00ff2b,#00ff2d,#00ff30,#00ff34,#00ff39,#00ff3f,#00ff49,#00ff55,#00ff63,#00ff70,#00ff7c,#00ff87,#00ff90,#00ff99,#00ffa2,#00ffac,#00ffb5)"></i><i style="height:2px;background:linear-gradient(90deg,#00ff28,#00ff24,#00ff28,#00ff32,#00ff40,#00ff4f,#00ff5b,#00ff61,#00ff61,#00ff5b,#00ff54,#00ff4f,#00ff4b,#00ff49,#00ff45,#00ff41,#00ff3c,#00ff37,#00ff33,#00ff2e,#00ff2a,#00ff26,#00ff22,#00ff20,#00ff1f,#00ff1f,#00ff21,#00ff23,#00ff26,#00ff2a,#00ff30,#00ff39,#00ff45,#00ff52,#00ff60,#00ff6c,#00ff76,#00ff80,#00ff8a,#00ff94,#00ff9f,#00ffa8)"></i><i style="height:2px;background:linear-gradient(90deg,#00ff21,#00ff1c,#00ff1f,#00ff29,#00ff37,#00ff45,#00ff51,#00ff58,#00ff57,#00ff52,#00ff4c,#00ff46,#00ff42,#00ff40,#00ff3c,#00ff38,#00ff34,#00ff2f,#00ff2b,#00ff27,#00ff23,#00ff1f,#00ff1b,#00ff17,#00ff16,#00ff15,#00ff16,#00ff18,#00ff1a,#00ff1d,#00ff23,#00ff2b,#00ff36,#00ff43,#00ff50,#00ff5c,#00ff67,#00ff72,#00ff7c,#00ff86,#00ff91,#00ff9b)"></i><i style="height:2px;background:linear-gradient(90deg,#00ff1b,#00ff15,#00ff18,#00ff21,#00ff2e,#00ff3c,#00ff48,#00ff4e,#00ff4f,#00ff4a,#00ff43,#00ff3e,#00ff3a,#00ff37,#00ff34,#00ff30,#00ff2c,#00ff28,#00ff24,#00ff20,#00ff1d,#00ff18,#00ff14,#00ff10,#00ff0e,#00ff0d,#00ff0d,#00ff0e,#00ff10,#00ff12,#00ff17,#00ff1f,#00ff29,#00ff35,#00ff42,#00ff4e,#00ff59,#00ff64,#00ff6f,#00ff7a,#00ff85,#00ff8f)"></i><i style="height:2px;background:linear-gradient(90deg,#00ff15,#00ff10,#00ff11,#00ff1a,#00ff26,#00ff34,#00ff3f,#00ff46,#00ff46,#00ff42,#00ff3c,#00ff36,#00ff32,#00ff2f,#00ff2c,#00ff29,#00ff25,#00ff22,#00ff1f,#00ff1c,#00ff18,#00ff14,#00ff0f,#00ff0b,#00ff08,#00ff06,#00ff06,#00ff07,#00ff08,#00ff0a,#00ff0e,#00ff15,#00ff1e,#00ff2a,#00ff36,#00ff42,#00ff4d,#00ff58,#00ff63,#00ff6e,#00ff79,#00ff83)"></i><i style="height:2px;background:linear-gradient(90deg,#00ff11,#00ff0b,#00ff0d,#00ff14,#00ff20,#00ff2c,#00ff37,#00ff3e,#00ff3f,#00ff3b,#00ff35,#00ff30,#00ff2b,#00ff27,#00ff24,#00ff22,#00ff1f,#00ff1d,#00ff1b,#00ff18,#00ff15,#00ff11,#00ff0c,#00ff07,#00ff04,#00ff02,#00ff01,#00ff02,#00ff02,#00ff04,#00ff07,#00ff0d,#00ff16,#00ff21,#00ff2c,#00ff37,#00ff42,#00ff4d,#00ff58,#00ff63,#00ff6e,#00ff78)"></i><i style="height:2px;background:linear-gradient(90deg,#00ff0e,#00ff08,#00ff09,#00ff10,#00ff1a,#00ff26,#00ff30,#00ff37,#00ff38,#00ff34,#00ff2f,#00ff29,#00ff25,#00ff21,#00ff1e,#00ff1c,#00ff1a,#00ff19,#00ff17,#00ff15,#00ff12,#00ff0e,#00ff0a,#00ff05,#00ff01,#01ff00,#02ff00,#02ff00,#01ff00,#00ff00,#00ff02,#00ff08,#00ff10,#00ff1a,#00ff24,#00ff2f,#00ff39,#00ff43,#00ff4e,#00ff59,#00ff64,#00ff6e)"></i><i style="height:2px;background:linear-gradient(90deg,#00ff0b,#00ff06,#00ff06,#00ff0c,#00ff16,#00ff20,#00ff2a,#00ff30,#00ff31,#00ff2e,#00ff29,#00ff24,#00ff1f,#00ff1a,#00ff18,#00ff16,#00ff16,#00ff16,#00ff15,#00ff14,#00ff11,#00ff0d,#00ff08,#00ff03,#00ff00,#02ff00,#03ff00,#03ff00,#03ff00,#03ff00,#01ff00,#00ff04,#00ff0b,#00ff14,#00ff1e,#00ff28,#00ff31,#00ff3b,#00ff45,#00ff50,#00ff5b,#00ff65)"></i><i style="height:2px;background:linear-gradient(90deg,#00ff0a,#00ff04,#00ff04,#00ff09,#00ff12,#00ff1b,#00ff24,#00ff2a,#00ff2b,#00ff29,#00ff24,#00ff1f,#00ff19,#00ff15,#00ff12,#00ff12,#00ff12,#00ff13,#00ff13,#00ff12,#00ff10,#00ff0d,#00ff08,#00ff03,#01ff00,#03ff00,#04ff00,#04ff00,#04ff00,#04ff00,#03ff00,#00ff01,#00ff08,#00ff10,#00ff19,#00ff22,#00ff2b,#00ff34,#00ff3d,#00ff47,#00ff52,#00ff5c)"></i><i style="height:2px;background:linear-gradient(90deg,#00ff08,#00ff03,#00ff02,#00ff07,#00ff0e,#00ff17,#00ff1f,#00ff24,#00ff26,#00ff24,#00ff1f,#00ff1a,#00ff14,#00ff10,#00ff0e,#00ff0e,#00ff0f,#00ff11,#00ff12,#00ff12,#00ff10,#00ff0c,#00ff08,#00ff03,#01ff00,#03ff00,#03ff00,#03ff00,#04ff00,#04ff00,#03ff00,#00ff00,#00ff06,#00ff0e,#00ff16,#00ff1e,#00ff26,#00ff2e,#00ff36,#00ff40,#00ff4a,#00ff54)"></i><i style="height:2px;background:linear-gradient(90deg,#00ff07,#00ff02,#00ff01,#00ff05,#00ff0b,#00ff13,#00ff1a,#00ff1f,#00ff20,#00ff1f,#00ff1b,#00ff16,#00ff10,#00ff0c,#00ff09,#00ff0a,#00ff0d,#00ff10,#00ff11,#00ff12,#00ff10,#00ff0d,#00ff08,#00ff03,#00ff00,#02ff00,#02ff00,#02ff00,#03ff00,#03ff00,#03ff00,#00ff00,#00ff05,#00ff0c,#00ff13,#00ff1a,#00ff21,#00ff28,#00ff30,#00ff39,#00ff43,#00ff4d)"></i><i style="height:2px;background:linear-gradient(90deg,#00ff05,#00ff01,#00ff00,#00ff03,#00ff09,#00ff0f,#00ff16,#00ff1a,#00ff1c,#00ff1b,#00ff18,#00ff12,#00ff0d,#00ff08,#00ff06,#00ff08,#00ff0b,#00ff0f,#00ff11,#00ff11,#00ff10,#00ff0d,#00ff08,#00ff04,#00ff00,#01ff00,#01ff00,#01ff00,#02ff00,#03ff00,#02ff00,#00ff00,#00ff05,#00ff0b,#00ff11,#00ff17,#00ff1d,#00ff24,#00ff2a,#00ff33,#00ff3c,#00ff46)"></i><i style="height:2px;background:linear-gradient(90deg,#00ff04,#00ff00,#01ff00,#00ff02,#00ff06,#00ff0c,#00ff12,#00ff16,#00ff17,#00ff17,#00ff14,#00ff0f,#00ff0a,#00ff05,#00ff03,#00ff06,#00ff0a,#00ff0e,#00ff11,#00ff11,#00ff10,#00ff0d,#00ff08,#00ff04,#00ff01,#01ff00,#00ff00,#00ff00,#01ff00,#02ff00,#01ff00,#00ff00,#00ff04,#00ff0a,#00ff10,#00ff15,#00ff1a,#00ff1f,#00ff26,#00ff2d,#00ff36,#00ff40)"></i><i style="height:2px;background:linear-gradient(90deg,#00ff03,#01ff00,#02ff00,#00ff00,#00ff04,#00ff09,#00ff0e,#00ff11,#00ff13,#00ff13,#00ff11,#00ff0d,#00ff07,#00ff03,#00ff02,#00ff04,#00ff09,#00ff0d,#00ff10,#00ff11,#00ff10,#00ff0c,#00ff08,#00ff04,#00ff01,#00ff00,#00ff00,#00ff00,#00ff00,#01ff00,#01ff00,#00ff01,#00ff04,#00ff09,#00ff0e,#00ff13,#00ff17,#00ff1c,#00ff21,#00ff28,#00ff31,#00ff3a)"></i><i style="height:2px;background:linear-gradient(90deg,#00ff00,#02ff00,#03ff00,#01ff00,#00ff02,#00ff06,#00ff0a,#00ff0e,#00ff10,#00ff10,#00ff0e,#00ff0a,#00ff05,#00ff01,#00ff00,#00ff03,#00ff08,#00ff0c,#00ff0f,#00ff10,#00ff0e,#00ff0b,#00ff07,#00ff03,#00ff00,#01ff00,#00ff00,#00ff00,#00ff00,#01ff00,#01ff00,#00ff01,#00ff04,#00ff08,#00ff0d,#00ff11,#00ff14,#00ff18,#00ff1d,#00ff23,#00ff2b,#00ff34)"></i><i style="height:2px;background:linear-gradient(90deg,#02ff00,#04ff00,#05ff00,#03ff00,#00ff00,#00ff03,#00ff07,#00ff0a,#00ff0c,#00ff0d,#00ff0c,#00ff09,#00ff04,#00ff00,#00ff00,#00ff03,#00ff07,#00ff0c,#00ff0e,#00ff0e,#00ff0d,#00ff09,#00ff05,#00ff01,#02ff00,#02ff00,#02ff00,#01ff00,#01ff00,#01ff00,#01ff00,#00ff00,#00ff03,#00ff07,#00ff0b,#00ff0f,#00ff12,#00ff15,#00ff19,#00ff1f,#00ff27,#00ff2f)"></i><i style="height:2px;background:linear-gradient(90deg,#05ff00,#07ff00,#07ff00,#06ff00,#03ff00,#00ff00,#00ff04,#00ff07,#00ff09,#00ff0a,#00ff0a,#00ff07,#00ff03,#00ff00,#00ff00,#00ff03,#00ff07,#00ff0b,#00ff0c,#00ff0c,#00ff0a,#00ff06,#00ff02,#02ff00,#04ff00,#05ff00,#04ff00,#04ff00,#03ff00,#03ff00,#03ff00,#01ff00,#00ff02,#00ff05,#00ff09,#00ff0c,#00ff0f,#00ff12,#00ff16,#00ff1b,#00ff22,#00ff2a)"></i><i style="height:2px;background:linear-gradient(90deg,#09ff00,#0aff00,#0aff00,#08ff00,#06ff00,#03ff00,#00ff00,#00ff03,#00ff06,#00ff07,#00ff07,#00ff06,#00ff03,#00ff00,#00ff00,#00ff03,#00ff06,#00ff0a,#00ff0a,#00ff09,#00ff07,#00ff03,#01ff00,#05ff00,#07ff00,#08ff00,#08ff00,#07ff00,#06ff00,#06ff00,#05ff00,#03ff00,#00ff00,#00ff03,#00ff07,#00ff09,#00ff0c,#00ff0f,#00ff13,#00ff17,#00ff1e,#00ff25)"></i><i style="height:2px;background:linear-gradient(90deg,#0dff00,#0eff00,#0dff00,#0bff00,#09ff00,#06ff00,#03ff00,#00ff00,#00ff03,#00ff05,#00ff05,#00ff04,#00ff02,#00ff01,#00ff01,#00ff03,#00ff06,#00ff08,#00ff08,#00ff06,#00ff03,#01ff00,#06ff00,#09ff00,#0cff00,#0cff00,#0cff00,#0bff00,#0aff00,#09ff00,#08ff00,#06ff00,#03ff00,#00ff01,#00ff04,#00ff07,#00ff09,#00ff0c,#00ff0f,#00ff14,#00ff1a,#00ff21)"></i><i style="height:2px;background:linear-gradient(90deg,#12ff00,#12ff00,#10ff00,#0eff00,#0cff00,#09ff00,#06ff00,#03ff00,#00ff00,#00ff02,#00ff03,#00ff03,#00ff02,#00ff02,#00ff02,#00ff04,#00ff06,#00ff06,#00ff05,#00ff02,#02ff00,#06ff00,#0aff00,#0eff00,#10ff00,#11ff00,#11ff00,#10ff00,#0fff00,#0dff00,#0bff00,#09ff00,#06ff00,#02ff00,#00ff01,#00ff03,#00ff06,#00ff09,#00ff0c,#00ff11,#00ff16,#00ff1c)"></i><i style="height:2px;background:linear-gradient(90deg,#17ff00,#16ff00,#14ff00,#12ff00,#0fff00,#0cff00,#09ff00,#06ff00,#03ff00,#01ff00,#00ff01,#00ff02,#00ff02,#00ff02,#00ff03,#00ff04,#00ff05,#00ff04,#00ff02,#02ff00,#07ff00,#0bff00,#10ff00,#13ff00,#15ff00,#16ff00,#16ff00,#15ff00,#14ff00,#12ff00,#0fff00,#0cff00,#09ff00,#06ff00,#03ff00,#00ff00,#00ff03,#00ff06,#00ff09,#00ff0d,#00ff13,#00ff18)"></i><i style="height:2px;background:linear-gradient(90deg,#1cff00,#1bff00,#18ff00,#16ff00,#13ff00,#10ff00,#0dff00,#0aff00,#07ff00,#04ff00,#01ff00,#00ff00,#00ff02,#00ff03,#00ff03,#00ff04,#00ff04,#00ff02,#02ff00,#06ff00,#0cff00,#11ff00,#15ff00,#19ff00,#1bff00,#1cff00,#1cff00,#1bff00,#19ff00,#17ff00,#14ff00,#10ff00,#0dff00,#0aff00,#07ff00,#04ff00,#01ff00,#00ff02,#00ff06,#00ff0a,#00ff0f,#00ff14)"></i><i style="height:2px;background:linear-gradient(90deg,#21ff00,#20ff00,#1dff00,#1aff00,#17ff00,#14ff00,#10ff00,#0dff00,#0aff00,#07ff00,#04ff00,#01ff00,#00ff01,#00ff03,#00ff04,#00ff04,#00ff02,#01ff00,#05ff00,#0bff00,#11ff00,#17ff00,#1bff00,#1fff00,#21ff00,#22ff00,#22ff00,#21ff00,#1fff00,#1cff00,#18ff00,#15ff00,#11ff00,#0eff00,#0bff00,#08ff00,#05ff00,#01ff00,#00ff02,#00ff06,#00ff0b,#00ff0f)"></i><i style="height:2px;background:linear-gradient(90deg,#27ff00,#25ff00,#22ff00,#1eff00,#1bff00,#18ff00,#14ff00,#11ff00,#0dff00,#0aff00,#07ff00,#04ff00,#00ff00,#00ff02,#00ff03,#00ff03,#00ff00,#04ff00,#0aff00,#10ff00,#17ff00,#1dff00,#21ff00,#25ff00,#27ff00,#28ff00,#28ff00,#27ff00,#25ff00,#21ff00,#1eff00,#1aff00,#16ff00,#13ff00,#0fff00,#0cff00,#09ff00,#05ff00,#02ff00,#00ff02,#00ff07,#00ff0a)"></i><i style="height:2px;background:linear-gradient(90deg,#2dff00,#2aff00,#27ff00,#23ff00,#1fff00,#1cff00,#18ff00,#15ff00,#11ff00,#0eff00,#0aff00,#06ff00,#02ff00,#00ff01,#00ff02,#00ff01,#02ff00,#07ff00,#0eff00,#16ff00,#1dff00,#23ff00,#27ff00,#2bff00,#2dff00,#2eff00,#2eff00,#2dff00,#2bff00,#27ff00,#23ff00,#1fff00,#1bff00,#18ff00,#14ff00,#11ff00,#0dff00,#09ff00,#06ff00,#02ff00,#00ff02,#00ff06)"></i><i style="height:2px;background:linear-gradient(90deg,#32ff00,#30ff00,#2cff00,#28ff00,#24ff00,#20ff00,#1dff00,#19ff00,#15ff00,#12ff00,#0eff00,#09ff00,#05ff00,#01ff00,#00ff00,#01ff00,#06ff00,#0cff00,#13ff00,#1bff00,#22ff00,#29ff00,#2dff00,#31ff00,#33ff00,#34ff00,#34ff00,#33ff00,#31ff00,#2dff00,#29ff00,#24ff00,#20ff00,#1dff00,#19ff00,#16ff00,#12ff00,#0eff00,#0aff00,#06ff00,#03ff00,#00ff00)"></i><i style="height:2px;background:linear-gradient(90deg,#38ff00,#35ff00,#31ff00,#2dff00,#29ff00,#25ff00,#21ff00,#1eff00,#1aff00,#16ff00,#12ff00,#0dff00,#08ff00,#04ff00,#03ff00,#05ff00,#0aff00,#10ff00,#18ff00,#20ff00,#28ff00,#2eff00,#33ff00,#36ff00,#38ff00,#3aff00,#3aff00,#39ff00,#36ff00,#32ff00,#2eff00,#2aff00,#26ff00,#22ff00,#1fff00,#1bff00,#17ff00,#13ff00,#0fff00,#0bff00,#08ff00,#05ff00)"></i><i style="height:2px;background:linear-gradient(90deg,#3eff00,#3bff00,#37ff00,#32ff00,#2eff00,#2aff00,#26ff00,#23ff00,#1fff00,#1bff00,#17ff00,#11ff00,#0cff00,#08ff00,#07ff00,#09ff00,#0eff00,#15ff00,#1dff00,#26ff00,#2eff00,#34ff00,#39ff00,#3cff00,#3eff00,#3fff00,#3fff00,#3eff00,#3cff00,#38ff00,#34ff00,#30ff00,#2cff00,#28ff00,#24ff00,#20ff00,#1cff00,#18ff00,#15ff00,#11ff00,#0dff00,#0bff00)"></i><i style="height:2px;background:linear-gradient(90deg,#44ff00,#40ff00,#3cff00,#38ff00,#34ff00,#30ff00,#2cff00,#28ff00,#24ff00,#20ff00,#1cff00,#16ff00,#11ff00,#0dff00,#0cff00,#0eff00,#13ff00,#1bff00,#23ff00,#2bff00,#33ff00,#39ff00,#3eff00,#41ff00,#44ff00,#44ff00,#44ff00,#43ff00,#41ff00,#3eff00,#3aff00,#36ff00,#32ff00,#2eff00,#2aff00,#26ff00,#22ff00,#1eff00,#1aff00,#17ff00,#14ff00,#11ff00)"></i><i style="height:2px;background:linear-gradient(90deg,#49ff00,#46ff00,#42ff00,#3eff00,#39ff00,#35ff00,#31ff00,#2dff00,#2aff00,#26ff00,#21ff00,#1cff00,#16ff00,#12ff00,#11ff00,#14ff00,#19ff00,#21ff00,#29ff00,#31ff00,#39ff00,#3fff00,#44ff00,#47ff00,#49ff00,#4aff00,#4aff00,#48ff00,#46ff00,#44ff00,#40ff00,#3dff00,#39ff00,#35ff00,#31ff00,#2dff00,#29ff00,#25ff00,#21ff00,#1dff00,#1aff00,#18ff00)"></i><i style="height:2px;background:linear-gradient(90deg,#4fff00,#4cff00,#48ff00,#43ff00,#3fff00,#3bff00,#37ff00,#33ff00,#30ff00,#2cff00,#27ff00,#22ff00,#1cff00,#18ff00,#17ff00,#1aff00,#1fff00,#27ff00,#2fff00,#37ff00,#3eff00,#44ff00,#49ff00,#4dff00,#4eff00,#4fff00,#4fff00,#4eff00,#4cff00,#4aff00,#47ff00,#43ff00,#40ff00,#3cff00,#37ff00,#33ff00,#2fff00,#2bff00,#28ff00,#24ff00,#21ff00,#1fff00)"></i><i style="height:2px;background:linear-gradient(90deg,#55ff00,#52ff00,#4dff00,#49ff00,#45ff00,#41ff00,#3dff00,#39ff00,#36ff00,#32ff00,#2dff00,#28ff00,#23ff00,#1fff00,#1eff00,#20ff00,#26ff00,#2dff00,#35ff00,#3dff00,#44ff00,#4aff00,#4fff00,#52ff00,#54ff00,#55ff00,#54ff00,#53ff00,#52ff00,#50ff00,#4dff00,#4aff00,#47ff00,#43ff00,#3fff00,#3aff00,#36ff00,#32ff00,#2fff00,#2bff00,#28ff00,#26ff00)"></i><i style="height:2px;background:linear-gradient(90deg,#5bff00,#58ff00,#54ff00,#4fff00,#4bff00,#47ff00,#43ff00,#40ff00,#3cff00,#38ff00,#34ff00,#2fff00,#29ff00,#26ff00,#25ff00,#27ff00,#2cff00,#33ff00,#3bff00,#43ff00,#4aff00,#50ff00,#55ff00,#58ff00,#5aff00,#5aff00,#5aff00,#59ff00,#58ff00,#56ff00,#54ff00,#52ff00,#4eff00,#4aff00,#46ff00,#42ff00,#3eff00,#3aff00,#36ff00,#33ff00,#30ff00,#2dff00)"></i><i style="height:2px;background:linear-gradient(90deg,#61ff00,#5eff00,#5aff00,#56ff00,#52ff00,#4eff00,#4aff00,#46ff00,#42ff00,#3fff00,#3aff00,#35ff00,#30ff00,#2dff00,#2cff00,#2eff00,#33ff00,#3aff00,#41ff00,#49ff00,#50ff00,#56ff00,#5bff00,#5eff00,#60ff00,#60ff00,#60ff00,#5fff00,#5eff00,#5dff00,#5cff00,#5aff00,#56ff00,#52ff00,#4eff00,#4aff00,#46ff00,#42ff00,#3eff00,#3bff00,#38ff00,#35ff00)"></i><i style="height:2px;background:linear-gradient(90deg,#67ff00,#64ff00,#60ff00,#5cff00,#58ff00,#54ff00,#50ff00,#4dff00,#49ff00,#45ff00,#41ff00,#3cff00,#37ff00,#34ff00,#33ff00,#35ff00,#3aff00,#40ff00,#47ff00,#4fff00,#56ff00,#5cff00,#61ff00,#64ff00,#66ff00,#67ff00,#66ff00,#65ff00,#65ff00,#65ff00,#64ff00,#62ff00,#5fff00,#5aff00,#56ff00,#52ff00,#4eff00,#4aff00,#47ff00,#43ff00,#40ff00,#3dff00)"></i><i style="height:2px;background:linear-gradient(90deg,#6dff00,#6aff00,#66ff00,#63ff00,#5fff00,#5bff00,#57ff00,#53ff00,#50ff00,#4cff00,#48ff00,#43ff00,#3fff00,#3bff00,#3aff00,#3cff00,#40ff00,#46ff00,#4eff00,#55ff00,#5dff00,#63ff00,#68ff00,#6bff00,#6dff00,#6dff00,#6dff00,#6cff00,#6cff00,#6cff00,#6cff00,#6aff00,#67ff00,#63ff00,#5fff00,#5aff00,#57ff00,#53ff00,#50ff00,#4cff00,#48ff00,#45ff00)"></i><i style="height:2px;background:linear-gradient(90deg,#74ff00,#71ff00,#6dff00,#69ff00,#65ff00,#61ff00,#5eff00,#5aff00,#57ff00,#53ff00,#4fff00,#4aff00,#46ff00,#42ff00,#41ff00,#42ff00,#47ff00,#4dff00,#54ff00,#5cff00,#64ff00,#6aff00,#6fff00,#72ff00,#74ff00,#74ff00,#74ff00,#74ff00,#74ff00,#75ff00,#75ff00,#73ff00,#70ff00,#6cff00,#68ff00,#63ff00,#60ff00,#5cff00,#59ff00,#55ff00,#51ff00,#4eff00)"></i><i style="height:2px;background:linear-gradient(90deg,#7aff00,#77ff00,#74ff00,#70ff00,#6cff00,#68ff00,#64ff00,#61ff00,#5eff00,#5aff00,#56ff00,#51ff00,#4dff00,#49ff00,#47ff00,#49ff00,#4dff00,#53ff00,#5aff00,#63ff00,#6bff00,#72ff00,#77ff00,#7aff00,#7cff00,#7cff00,#7cff00,#7cff00,#7dff00,#7eff00,#7eff00,#7dff00,#7aff00,#75ff00,#71ff00,#6dff00,#69ff00,#66ff00,#62ff00,#5eff00,#5aff00,#57ff00)"></i><i style="height:2px;background:linear-gradient(90deg,#81ff00,#7eff00,#7bff00,#77ff00,#73ff00,#6fff00,#6bff00,#68ff00,#65ff00,#61ff00,#5dff00,#59ff00,#54ff00,#50ff00,#4eff00,#4fff00,#52ff00,#59ff00,#61ff00,#6aff00,#73ff00,#7aff00,#7fff00,#82ff00,#83ff00,#84ff00,#85ff00,#85ff00,#87ff00,#88ff00,#88ff00,#87ff00,#83ff00,#7fff00,#7bff00,#77ff00,#73ff00,#6fff00,#6cff00,#68ff00,#64ff00,#60ff00)"></i><i style="height:2px;background:linear-gradient(90deg,#88ff00,#85ff00,#82ff00,#7eff00,#7aff00,#76ff00,#72ff00,#6fff00,#6cff00,#69ff00,#65ff00,#60ff00,#5bff00,#56ff00,#54ff00,#55ff00,#58ff00,#5fff00,#67ff00,#71ff00,#7bff00,#82ff00,#87ff00,#8aff00,#8cff00,#8dff00,#8eff00,#8fff00,#90ff00,#92ff00,#92ff00,#91ff00,#8dff00,#89ff00,#85ff00,#81ff00,#7dff00,#79ff00,#76ff00,#72ff00,#6dff00,#69ff00)"></i><i style="height:2px;background:linear-gradient(90deg,#90ff00,#8dff00,#89ff00,#85ff00,#81ff00,#7dff00,#7aff00,#76ff00,#73ff00,#70ff00,#6cff00,#67ff00,#62ff00,#5dff00,#5aff00,#5bff00,#5eff00,#65ff00,#6eff00,#79ff00,#83ff00,#8bff00,#90ff00,#92ff00,#94ff00,#96ff00,#97ff00,#99ff00,#9bff00,#9cff00,#9cff00,#9bff00,#97ff00,#93ff00,#8fff00,#8bff00,#87ff00,#83ff00,#80ff00,#7cff00,#77ff00,#72ff00)"></i><i style="height:2px;background:linear-gradient(90deg,#97ff00,#95ff00,#91ff00,#8dff00,#89ff00,#85ff00,#81ff00,#7eff00,#7bff00,#78ff00,#74ff00,#6fff00,#69ff00,#64ff00,#61ff00,#61ff00,#64ff00,#6bff00,#75ff00,#80ff00,#8bff00,#93ff00,#98ff00,#9bff00,#9dff00,#9fff00,#a1ff00,#a3ff00,#a5ff00,#a6ff00,#a6ff00,#a5ff00,#a1ff00,#9dff00,#99ff00,#95ff00,#91ff00,#8eff00,#8aff00,#86ff00,#81ff00,#7cff00)"></i><i style="height:2px;background:linear-gradient(90deg,#a0ff00,#9dff00,#99ff00,#95ff00,#91ff00,#8dff00,#89ff00,#86ff00,#83ff00,#80ff00,#7cff00,#77ff00,#71ff00,#6bff00,#67ff00,#67ff00,#6bff00,#72ff00,#7cff00,#88ff00,#94ff00,#9cff00,#a1ff00,#a4ff00,#a6ff00,#a8ff00,#abff00,#adff00,#afff00,#b0ff00,#b0ff00,#afff00,#abff00,#a7ff00,#a3ff00,#9fff00,#9bff00,#98ff00,#94ff00,#8fff00,#8aff00,#85ff00)"></i><i style="height:2px;background:linear-gradient(90deg,#a8ff00,#a6ff00,#a2ff00,#9eff00,#9aff00,#96ff00,#92ff00,#8fff00,#8cff00,#89ff00,#85ff00,#7fff00,#78ff00,#72ff00,#6eff00,#6eff00,#72ff00,#79ff00,#84ff00,#91ff00,#9cff00,#a5ff00,#aaff00,#acff00,#afff00,#b1ff00,#b4ff00,#b7ff00,#b9ff00,#bbff00,#baff00,#b9ff00,#b5ff00,#b1ff00,#adff00,#a9ff00,#a5ff00,#a1ff00,#9eff00,#99ff00,#94ff00,#8fff00)"></i><i style="height:2px;background:linear-gradient(90deg,#b2ff00,#afff00,#abff00,#a7ff00,#a3ff00,#9fff00,#9bff00,#98ff00,#95ff00,#93ff00,#8eff00,#88ff00,#81ff00,#7aff00,#76ff00,#76ff00,#79ff00,#81ff00,#8cff00,#99ff00,#a5ff00,#aeff00,#b3ff00,#b5ff00,#b7ff00,#baff00,#beff00,#c1ff00,#c3ff00,#c4ff00,#c4ff00,#c2ff00,#bfff00,#baff00,#b6ff00,#b2ff00,#aeff00,#abff00,#a7ff00,#a3ff00,#9eff00,#99ff00)"></i><i style="height:2px;background:linear-gradient(90deg,#bcff00,#b9ff00,#b5ff00,#b1ff00,#adff00,#a9ff00,#a5ff00,#a2ff00,#9fff00,#9cff00,#98ff00,#92ff00,#8aff00,#82ff00,#7eff00,#7eff00,#82ff00,#89ff00,#95ff00,#a2ff00,#aeff00,#b6ff00,#bbff00,#beff00,#c0ff00,#c3ff00,#c7ff00,#cbff00,#cdff00,#ceff00,#cdff00,#cbff00,#c8ff00,#c4ff00,#bfff00,#bbff00,#b8ff00,#b4ff00,#b0ff00,#acff00,#a8ff00,#a3ff00)"></i><i style="height:2px;background:linear-gradient(90deg,#c6ff00,#c4ff00,#c0ff00,#bcff00,#b8ff00,#b4ff00,#b0ff00,#adff00,#aaff00,#a7ff00,#a2ff00,#9bff00,#93ff00,#8bff00,#87ff00,#87ff00,#8bff00,#93ff00,#9eff00,#abff00,#b6ff00,#bfff00,#c3ff00,#c6ff00,#c8ff00,#ccff00,#d0ff00,#d4ff00,#d6ff00,#d7ff00,#d6ff00,#d4ff00,#d0ff00,#ccff00,#c8ff00,#c4ff00,#c0ff00,#bdff00,#b9ff00,#b5ff00,#b1ff00,#adff00)"></i><i style="height:2px;background:linear-gradient(90deg,#d2ff00,#cfff00,#cbff00,#c7ff00,#c3ff00,#bfff00,#bbff00,#b8ff00,#b5ff00,#b2ff00,#adff00,#a6ff00,#9dff00,#95ff00,#90ff00,#90ff00,#95ff00,#9dff00,#a8ff00,#b4ff00,#bfff00,#c7ff00,#cbff00,#ceff00,#d0ff00,#d4ff00,#d8ff00,#dcff00,#deff00,#dfff00,#deff00,#dcff00,#d8ff00,#d4ff00,#d0ff00,#ccff00,#c8ff00,#c5ff00,#c1ff00,#beff00,#baff00,#b8ff00)"></i><i style="height:2px;background:linear-gradient(90deg,#ddff00,#dbff00,#d7ff00,#d3ff00,#cfff00,#cbff00,#c7ff00,#c4ff00,#c1ff00,#beff00,#b9ff00,#b1ff00,#a7ff00,#9fff00,#9aff00,#9bff00,#a0ff00,#a8ff00,#b3ff00,#bdff00,#c7ff00,#ceff00,#d2ff00,#d5ff00,#d8ff00,#dcff00,#e0ff00,#e4ff00,#e6ff00,#e6ff00,#e5ff00,#e3ff00,#e0ff00,#dcff00,#d8ff00,#d4ff00,#d0ff00,#ccff00,#c9ff00,#c6ff00,#c4ff00,#c2ff00)"></i><i style="height:2px;background:linear-gradient(90deg,#e9ff00,#e6ff00,#e3ff00,#dfff00,#dbff00,#d6ff00,#d3ff00,#cfff00,#cdff00,#c9ff00,#c4ff00,#bcff00,#b2ff00,#a9ff00,#a5ff00,#a6ff00,#abff00,#b3ff00,#bdff00,#c7ff00,#cfff00,#d6ff00,#daff00,#dcff00,#dfff00,#e3ff00,#e8ff00,#ebff00,#edff00,#eeff00,#edff00,#eaff00,#e7ff00,#e3ff00,#dfff00,#dbff00,#d7ff00,#d4ff00,#d0ff00,#ceff00,#ccff00,#ccff00)"></i><i style="height:2px;background:linear-gradient(90deg,#f3ff00,#f0ff00,#edff00,#e9ff00,#e5ff00,#e1ff00,#ddff00,#d9ff00,#d7ff00,#d3ff00,#ceff00,#c6ff00,#bcff00,#b3ff00,#afff00,#b0ff00,#b5ff00,#bdff00,#c6ff00,#cfff00,#d7ff00,#dcff00,#e0ff00,#e3ff00,#e7ff00,#ebff00,#efff00,#f2ff00,#f4ff00,#f4ff00,#f3ff00,#f1ff00,#eeff00,#eaff00,#e6ff00,#e2ff00,#deff00,#daff00,#d8ff00,#d6ff00,#d5ff00,#d5ff00)"></i><i style="height:2px;background:linear-gradient(90deg,#fbff00,#f8ff00,#f5ff00,#f1ff00,#ecff00,#e8ff00,#e5ff00,#e1ff00,#dfff00,#dbff00,#d6ff00,#ceff00,#c5ff00,#bcff00,#b8ff00,#b9ff00,#beff00,#c6ff00,#ceff00,#d6ff00,#deff00,#e3ff00,#e7ff00,#eaff00,#edff00,#f1ff00,#f5ff00,#f9ff00,#fbff00,#fbff00,#fbff00,#f8ff00,#f5ff00,#f1ff00,#edff00,#e9ff00,#e5ff00,#e1ff00,#dfff00,#ddff00,#ddff00,#dfff00)"></i><i style="height:2px;background:linear-gradient(90deg,#fffe00,#fdff00,#f9ff00,#f5ff00,#f1ff00,#edff00,#e9ff00,#e6ff00,#e4ff00,#e1ff00,#dcff00,#d5ff00,#ccff00,#c4ff00,#c0ff00,#c1ff00,#c5ff00,#ccff00,#d4ff00,#dcff00,#e4ff00,#e9ff00,#edff00,#f1ff00,#f4ff00,#f8ff00,#fcff00,#fffe00,#fffc00,#fffb00,#fffc00,#fffe00,#fcff00,#f8ff00,#f4ff00,#f0ff00,#ecff00,#e8ff00,#e6ff00,#e5ff00,#e5ff00,#e7ff00)"></i><i style="height:2px;background:linear-gradient(90deg,#fffc00,#ffff00,#fbff00,#f7ff00,#f3ff00,#efff00,#ebff00,#e8ff00,#e6ff00,#e3ff00,#e0ff00,#d9ff00,#d2ff00,#cbff00,#c7ff00,#c7ff00,#caff00,#d0ff00,#d8ff00,#e1ff00,#e9ff00,#f0ff00,#f4ff00,#f7ff00,#fbff00,#ffff00,#fffb00,#fff700,#fff500,#fff400,#fff400,#fff600,#fffa00,#fffe00,#fbff00,#f7ff00,#f3ff00,#efff00,#edff00,#ecff00,#edff00,#efff00)"></i><i style="height:2px;background:linear-gradient(90deg,#fffa00,#fffd00,#fdff00,#f8ff00,#f3ff00,#efff00,#ebff00,#e9ff00,#e7ff00,#e5ff00,#e3ff00,#deff00,#d8ff00,#d2ff00,#ceff00,#cdff00,#cfff00,#d4ff00,#dcff00,#e6ff00,#f0ff00,#f7ff00,#fbff00,#ffff00,#fffc00,#fff800,#fff300,#ffef00,#ffec00,#ffeb00,#ffec00,#ffee00,#fff100,#fff600,#fffb00,#ffff00,#fbff00,#f7ff00,#f5ff00,#f5ff00,#f5ff00,#f8ff00)"></i><i style="height:2px;background:linear-gradient(90deg,#fff800,#fffa00,#ffff00,#fbff00,#f6ff00,#f1ff00,#eeff00,#ebff00,#eaff00,#e9ff00,#e7ff00,#e4ff00,#dfff00,#daff00,#d6ff00,#d4ff00,#d5ff00,#d9ff00,#e2ff00,#edff00,#f8ff00,#fffe00,#fff900,#fff600,#fff300,#ffef00,#ffea00,#ffe600,#ffe300,#ffe200,#ffe200,#ffe400,#ffe800,#ffec00,#fff100,#fff600,#fffa00,#fffd00,#ffff00,#feff00,#ffff00,#fffd00)"></i><i style="height:2px;background:linear-gradient(90deg,#fff200,#fff400,#fff800,#fffd00,#fcff00,#f7ff00,#f4ff00,#f1ff00,#f1ff00,#f1ff00,#f0ff00,#eeff00,#eaff00,#e6ff00,#e1ff00,#deff00,#deff00,#e2ff00,#ebff00,#f7ff00,#fffb00,#fff200,#ffed00,#ffea00,#ffe800,#ffe400,#ffdf00,#ffdb00,#ffd800,#ffd700,#ffd700,#ffd900,#ffdd00,#ffe200,#ffe600,#ffeb00,#ffef00,#fff200,#fff400,#fff500,#fff500,#fff300)"></i><i style="height:2px;background:linear-gradient(90deg,#ffe600,#ffe800,#ffec00,#fff000,#fff500,#fffa00,#fffe00,#feff00,#feff00,#ffff00,#ffff00,#fdff00,#f9ff00,#f5ff00,#f0ff00,#edff00,#edff00,#f1ff00,#faff00,#fff800,#ffeb00,#ffe300,#ffde00,#ffdb00,#ffd900,#ffd500,#ffd100,#ffcd00,#ffcb00,#ffca00,#ffcb00,#ffcd00,#ffd100,#ffd500,#ffd900,#ffde00,#ffe200,#ffe500,#ffe700,#ffe800,#ffe800,#ffe600)"></i><i style="height:2px;background:linear-gradient(90deg,#ffd400,#ffd400,#ffd700,#ffdb00,#ffe000,#ffe500,#ffe900,#ffeb00,#ffeb00,#ffea00,#ffea00,#ffec00,#fff000,#fff500,#fffa00,#fffc00,#fffc00,#fff800,#ffee00,#ffe200,#ffd600,#ffce00,#ffca00,#ffc900,#ffc700,#ffc400,#ffc000,#ffbd00,#ffbc00,#ffbc00,#ffbe00,#ffc000,#ffc300,#ffc600,#ffc900,#ffcd00,#ffd100,#ffd500,#ffd800,#ffd900,#ffd900,#ffd700)"></i><i style="height:2px;background:linear-gradient(90deg,#ffbc00,#ffbb00,#ffbd00,#ffc000,#ffc500,#ffca00,#ffce00,#ffd000,#ffcf00,#ffce00,#ffce00,#ffd100,#ffd700,#ffdd00,#ffe200,#ffe400,#ffe200,#ffdd00,#ffd400,#ffc800,#ffbe00,#ffb700,#ffb400,#ffb300,#ffb200,#ffb000,#ffad00,#ffab00,#ffab00,#ffad00,#ffaf00,#ffb100,#ffb300,#ffb500,#ffb800,#ffbb00,#ffbf00,#ffc300,#ffc600,#ffc800,#ffc700,#ffc500)"></i><i style="height:2px;background:linear-gradient(90deg,#ffa100,#ff9f00,#ff9f00,#ffa200,#ffa700,#ffac00,#ffb000,#ffb100,#ffb100,#ffb000,#ffb000,#ffb400,#ffbb00,#ffc300,#ffc800,#ffc800,#ffc500,#ffbf00,#ffb600,#ffac00,#ffa300,#ff9d00,#ff9c00,#ff9c00,#ff9b00,#ff9a00,#ff9800,#ff9800,#ff9900,#ff9c00,#ff9f00,#ffa100,#ffa200,#ffa300,#ffa400,#ffa700,#ffab00,#ffb000,#ffb300,#ffb500,#ffb400,#ffb100)"></i><i style="height:2px;background:linear-gradient(90deg,#ff8600,#ff8200,#ff8100,#ff8400,#ff8800,#ff8d00,#ff9100,#ff9300,#ff9200,#ff9100,#ff9200,#ff9700,#ff9f00,#ffa800,#ffad00,#ffac00,#ffa800,#ffa100,#ff9800,#ff8f00,#ff8800,#ff8400,#ff8300,#ff8400,#ff8500,#ff8400,#ff8300,#ff8400,#ff8600,#ff8a00,#ff8e00,#ff9100,#ff9100,#ff9000,#ff9100,#ff9300,#ff9700,#ff9c00,#ffa000,#ffa200,#ffa100,#ff9e00)"></i><i style="height:2px;background:linear-gradient(90deg,#ff6c00,#ff6700,#ff6600,#ff6800,#ff6c00,#ff7100,#ff7500,#ff7700,#ff7600,#ff7500,#ff7600,#ff7c00,#ff8500,#ff8e00,#ff9300,#ff9200,#ff8c00,#ff8400,#ff7c00,#ff7400,#ff6e00,#ff6c00,#ff6c00,#ff6e00,#ff6f00,#ff6f00,#ff6f00,#ff7000,#ff7300,#ff7800,#ff7d00,#ff7f00,#ff7f00,#ff7d00,#ff7d00,#ff7f00,#ff8300,#ff8800,#ff8c00,#ff8e00,#ff8e00,#ff8a00)"></i><i style="height:2px;background:linear-gradient(90deg,#ff5400,#ff4f00,#ff4e00,#ff4f00,#ff5300,#ff5800,#ff5c00,#ff5e00,#ff5e00,#ff5c00,#ff5d00,#ff6300,#ff6c00,#ff7500,#ff7a00,#ff7800,#ff7200,#ff6a00,#ff6200,#ff5b00,#ff5600,#ff5500,#ff5600,#ff5900,#ff5a00,#ff5b00,#ff5b00,#ff5c00,#ff6000,#ff6600,#ff6b00,#ff6d00,#ff6c00,#ff6a00,#ff6a00,#ff6c00,#ff7000,#ff7400,#ff7900,#ff7b00,#ff7a00,#ff7600)"></i><i style="height:2px;background:linear-gradient(90deg,#ff3f00,#ff3a00,#ff3800,#ff3a00,#ff3e00,#ff4200,#ff4600,#ff4800,#ff4800,#ff4700,#ff4800,#ff4d00,#ff5600,#ff5e00,#ff6200,#ff6000,#ff5a00,#ff5200,#ff4a00,#ff4400,#ff4000,#ff4000,#ff4200,#ff4500,#ff4700,#ff4800,#ff4800,#ff4900,#ff4d00,#ff5300,#ff5800,#ff5a00,#ff5a00,#ff5800,#ff5700,#ff5900,#ff5d00,#ff6200,#ff6600,#ff6800,#ff6700,#ff6300)"></i><i style="height:2px;background:linear-gradient(90deg,#ff2b00,#ff2600,#ff2400,#ff2600,#ff2a00,#ff2f00,#ff3300,#ff3500,#ff3400,#ff3300,#ff3400,#ff3900,#ff4100,#ff4900,#ff4c00,#ff4a00,#ff4400,#ff3c00,#ff3500,#ff2f00,#ff2c00,#ff2c00,#ff2f00,#ff3300,#ff3500,#ff3600,#ff3600,#ff3700,#ff3b00,#ff4000,#ff4500,#ff4800,#ff4700,#ff4500,#ff4400,#ff4600,#ff4a00,#ff4f00,#ff5300,#ff5600,#ff5500,#ff5100)"></i><i style="height:2px;background:linear-gradient(90deg,#ff1900,#ff1400,#ff1300,#ff1500,#ff1900,#ff1d00,#ff2100,#ff2400,#ff2300,#ff2200,#ff2300,#ff2700,#ff2e00,#ff3400,#ff3700,#ff3500,#ff2f00,#ff2800,#ff2100,#ff1c00,#ff1900,#ff1a00,#ff1d00,#ff2100,#ff2400,#ff2500,#ff2500,#ff2500,#ff2900,#ff2e00,#ff3300,#ff3500,#ff3500,#ff3300,#ff3300,#ff3500,#ff3900,#ff3d00,#ff4200,#ff4400,#ff4300,#ff3f00)"></i><i style="height:2px;background:linear-gradient(90deg,#ff0800,#ff0400,#ff0300,#ff0500,#ff0900,#ff0e00,#ff1200,#ff1400,#ff1400,#ff1300,#ff1300,#ff1600,#ff1c00,#ff2100,#ff2300,#ff2100,#ff1c00,#ff1600,#ff0f00,#ff0a00,#ff0800,#ff0900,#ff0d00,#ff1100,#ff1400,#ff1500,#ff1400,#ff1400,#ff1700,#ff1c00,#ff2000,#ff2300,#ff2300,#ff2100,#ff2100,#ff2400,#ff2800,#ff2c00,#ff3000,#ff3300,#ff3200,#ff2e00)"></i><i style="height:2px;background:linear-gradient(90deg,#fa0101,#f90101,#f80101,#fa0101,#fc0100,#fe0000,#ff0300,#ff0500,#ff0600,#ff0500,#ff0500,#ff0700,#ff0b00,#ff0e00,#ff1000,#ff0e00,#ff0a00,#ff0500,#fe0000,#fc0100,#fa0101,#fb0101,#fd0000,#ff0200,#ff0500,#ff0500,#ff0400,#ff0400,#ff0600,#ff0a00,#ff0e00,#ff1100,#ff1100,#ff1100,#ff1100,#ff1300,#ff1700,#ff1c00,#ff2000,#ff2200,#ff2100,#ff1e00)"></i><i style="height:2px;background:linear-gradient(90deg,#f20302,#f00302,#f00302,#f20302,#f40201,#f70201,#f90101,#fa0101,#fb0101,#fa0101,#fa0101,#fb0101,#fc0100,#fd0000,#fe0000,#fd0000,#fb0100,#f90101,#f60201,#f30302,#f20302,#f30302,#f50201,#f80201,#fa0101,#fa0101,#f90101,#f90101,#f90101,#fb0100,#fd0000,#ff0000,#ff0000,#ff0000,#ff0100,#ff0400,#ff0800,#ff0c00,#ff1000,#ff1200,#ff1200,#ff0f00)"></i><i style="height:2px;background:linear-gradient(90deg,#e90503,#e80503,#e90503,#eb0503,#ed0402,#ef0302,#f20302,#f30302,#f40302,#f30302,#f30302,#f30302,#f40301,#f40201,#f40201,#f40301,#f20302,#f10302,#ee0402,#eb0403,#ea0503,#eb0503,#ed0402,#f00302,#f20302,#f20302,#f10302,#f00302,#f10302,#f20302,#f40201,#f60201,#f60201,#f70201,#f70201,#f90101,#fb0100,#fe0000,#ff0100,#ff0300,#ff0300,#ff0000)"></i><i style="height:2px;background:linear-gradient(90deg,#e00704,#e00704,#e10704,#e30604,#e60603,#e80503,#ea0503,#ec0403,#ec0402,#ec0402,#ec0402,#ec0403,#eb0403,#eb0403,#eb0403,#eb0403,#ea0503,#e90503,#e60503,#e40604,#e30604,#e30604,#e60603,#e90503,#eb0403,#eb0403,#ea0503,#e90503,#e90503,#ea0503,#ec0403,#ed0402,#ee0402,#ef0402,#f00302,#f10302,#f40301,#f60201,#f80201,#f90101,#f90101,#f80201)"></i><i style="height:2px;background:linear-gradient(90deg,#d80905,#d80905,#da0805,#dc0805,#de0704,#e00704,#e30604,#e40603,#e50603,#e50603,#e50603,#e40603,#e30604,#e30604,#e20604,#e20604,#e20604,#e10704,#df0704,#dd0804,#dc0805,#dc0805,#df0704,#e20604,#e40604,#e40604,#e30604,#e20704,#e20704,#e20604,#e40604,#e50603,#e60603,#e70503,#e90503,#ea0503,#ed0402,#ef0402,#f10302,#f20302,#f20302,#f10302)"></i><i style="height:2px;background:linear-gradient(90deg,#cf0b06,#d00a06,#d20a06,#d40a06,#d60905,#d80905,#db0805,#dc0805,#dd0704,#de0704,#de0704,#dd0804,#dc0805,#db0805,#da0805,#da0805,#db0805,#da0805,#d80905,#d60905,#d50905,#d60905,#d80905,#db0805,#dd0704,#dd0704,#dc0805,#db0805,#db0805,#dc0805,#dd0804,#de0704,#df0704,#e10704,#e20604,#e40604,#e60603,#e80503,#ea0503,#ec0403,#ec0402,#eb0403)"></i><i style="height:2px;background:linear-gradient(90deg,#c50d08,#c70c07,#c90c07,#cb0c07,#ce0b06,#d00a06,#d20a06,#d40a06,#d50905,#d60905,#d60905,#d50905,#d40a06,#d30a06,#d20a06,#d30a06,#d30a06,#d30a06,#d20a06,#d00a06,#cf0b06,#cf0b06,#d20a06,#d50906,#d70905,#d70905,#d60905,#d50905,#d50905,#d60905,#d70905,#d80905,#d90805,#db0805,#dc0805,#de0704,#e00704,#e30604,#e40603,#e60603,#e70503,#e60503)"></i><i style="height:2px;background:linear-gradient(90deg,#bc0f09,#bd0f09,#bf0e08,#c20e08,#c40d08,#c60d07,#c90c07,#ca0c07,#cc0b07,#cd0b07,#cd0b07,#cd0b07,#cc0b07,#cb0c07,#cb0c07,#cc0b07,#cc0b07,#cc0b07,#cb0c07,#c90c07,#c80c07,#c90c07,#cb0b07,#ce0b06,#d00a06,#d10a06,#d10a06,#d00a06,#d00a06,#d10a06,#d20a06,#d40a06,#d50906,#d60905,#d70905,#d90805,#db0805,#dd0704,#df0704,#e10704,#e20604,#e20604)"></i><i style="height:2px;background:linear-gradient(90deg,#b1110a,#b3110a,#b5100a,#b71009,#ba0f09,#bc0f09,#be0e09,#c00e08,#c20e08,#c30d08,#c40d08,#c40d08,#c40d08,#c40d08,#c40d08,#c40d08,#c50d08,#c50d08,#c40d08,#c30d08,#c20e08,#c30d08,#c50d08,#c80c07,#ca0c07,#cb0c07,#cb0b07,#cb0b07,#cc0b07,#cd0b06,#cf0b06,#d00a06,#d10a06,#d20a06,#d30a06,#d40906,#d70905,#d90805,#db0805,#dd0804,#de0704,#df0704)"></i><i style="height:2px;background:linear-gradient(90deg,#a5140c,#a7140c,#a9130b,#ab130b,#ae120b,#b0120a,#b2110a,#b4110a,#b6100a,#b81009,#b91009,#ba0f09,#bb0f09,#bc0f09,#bd0f09,#be0f09,#be0e09,#be0f09,#bd0f09,#bc0f09,#bc0f09,#bd0f09,#bf0e08,#c20e08,#c40d08,#c50d08,#c70d07,#c80c07,#c90c07,#cb0c07,#cd0b07,#ce0b06,#ce0b06,#cf0b06,#cf0b06,#d10a06,#d30a06,#d50905,#d80905,#da0805,#dc0805,#dc0805)"></i></div>
<div class="hm" style="left:1050px;top:490px;width:30px;height:311px;background:linear-gradient(180deg,#662214 0.13%,#ff0000 16.50%,#ffff00 31.80%,#00ff00 47.10%,#00ffff 62.40%,#0000ff 77.70%,#ff00ff 93.00%,#880088 100.04%)"></div>
<svg width="1201" height="900" viewBox="0 0 1201 900">
<line class="g" x1="188.5" y1="377" x2="188.5" y2="68" stroke-dashoffset="0"/>
<line class="k" x1="188.5" y1="68" x2="188.5" y2="72"/>
<line class="k" x1="188.5" y1="377" x2="188.5" y2="373"/>
<line class="g" x1="242.5" y1="377" x2="242.5" y2="68" stroke-dashoffset="3"/>
<line class="k" x1="242.5" y1="68" x2="242.5" y2="72"/>
<line class="k" x1="242.5" y1="377" x2="242.5" y2="373"/>
<line class="g" x1="296.5" y1="377" x2="296.5" y2="68" stroke-dashoffset="1"/>
<line class="k" x1="296.5" y1="68" x2="296.5" y2="72"/>
<line class="k" x1="296.5" y1="377" x2="296.5" y2="373"/>
<line class="g" x1="351.5" y1="377" x2="351.5" y2="68" stroke-dashoffset="4"/>
<line class="k" x1="351.5" y1="68" x2="351.5" y2="72"/>
<line class="k" x1="351.5" y1="377" x2="351.5" y2="373"/>
<line class="g" x1="405.5" y1="377" x2="405.5" y2="68" stroke-dashoffset="2"/>
<line class="k" x1="405.5" y1="68" x2="405.5" y2="72"/>
<line class="k" x1="405.5" y1="377" x2="405.5" y2="373"/>
<line class="g" x1="459.5" y1="377" x2="459.5" y2="68" stroke-dashoffset="0"/>
<line class="k" x1="459.5" y1="68" x2="459.5" y2="72"/>
<line class="k" x1="459.5" y1="377" x2="459.5" y2="373"/>
<line class="g" x1="161" y1="91.5" x2="487" y2="91.5" stroke-dashoffset="0"/>
<line class="k" x1="161" y1="91.5" x2="165" y2="91.5"/>
<line class="k" x1="487" y1="91.5" x2="483" y2="91.5"/>
<line class="g" x1="161" y1="138.5" x2="487" y2="138.5" stroke-dashoffset="0"/>
<line class="k" x1="161" y1="138.5" x2="165" y2="138.5"/>
<line class="k" x1="487" y1="138.5" x2="483" y2="138.5"/>
<line class="g" x1="161" y1="184.5" x2="487" y2="184.5" stroke-dashoffset="0"/>
<line class="k" x1="161" y1="184.5" x2="165" y2="184.5"/>
<line class="k" x1="487" y1="184.5" x2="483" y2="184.5"/>
<line class="g" x1="161" y1="228.5" x2="487" y2="228.5" stroke-dashoffset="0"/>
<line class="k" x1="161" y1="228.5" x2="165" y2="228.5"/>
<line class="k" x1="487" y1="228.5" x2="483" y2="228.5"/>
<line class="g" x1="161" y1="272.5" x2="487" y2="272.5" stroke-dashoffset="0"/>
<line class="k" x1="161" y1="272.5" x2="165" y2="272.5"/>
<line class="k" x1="487" y1="272.5" x2="483" y2="272.5"/>
<line class="g" x1="161" y1="314.5" x2="487" y2="314.5" stroke-dashoffset="0"/>
<line class="k" x1="161" y1="314.5" x2="165" y2="314.5"/>
<line class="k" x1="487" y1="314.5" x2="483" y2="314.5"/>
<line class="g" x1="161" y1="356.5" x2="487" y2="356.5" stroke-dashoffset="0"/>
<line class="k" x1="161" y1="356.5" x2="165" y2="356.5"/>
<line class="k" x1="487" y1="356.5" x2="483" y2="356.5"/>
<polyline class="o" points="198.9,144.1 200.1,141.7 204.0,139.0 207.8,137.8 210.6,136.1 214.9,134.9 219.5,133.2 224.5,131.8 234.5,128.5 244.5,125.8 250.3,122.2 252.8,117.2 257.8,112.7 263.7,111.8 271.2,108.0 277.0,104.2 286.2,102.5 295.3,100.0 299.5,99.7 306.2,100.8 307.8,105.5 311.2,112.2 312.0,117.2 316.2,121.3 319.5,122.7 328.7,122.2 331.2,124.7 333.7,128.0 337.8,123.0 343.7,119.2 352.8,119.2 364.5,121.3 376.2,123.0 387.8,123.8 402.8,123.2 422.2,122.5 426.8,121.2 429.5,120.5 431.5,121.8 434.2,125.2 440.8,128.5 445.5,132.5 446.2,140.5 448.2,153.8 450.8,165.8 455.5,175.2 456.2,177.8 456.8,188.5 456.8,199.2 454.2,200.2 448.2,201.2 444.2,203.8 440.2,209.2 438.2,215.8 437.5,219.2 444.8,220.5 449.5,225.8 450.2,229.8 448.8,235.2 447.9,236.7 446.4,240.6 447.2,247.6 450.3,255.4 448.7,258.5 452.6,263.9 457.3,271.7 459.6,276.4 462.7,278.7 458.8,280.3 460.4,284.9 461.6,290.4 460.4,296.6 454.2,297.4 447.9,303.6 441.7,309.8 436.3,315.3 432.4,321.5 426.2,328.5 423.0,333.9 424.6,340.9 426.2,346.4 424.6,350.3 429.3,356.5 416.8,352.6 411.4,350.3 406.7,347.1 404.4,342.5 399.7,340.9 395.1,338.1 390.6,339.9 386.2,337.7 380.6,339.4 377.3,343.8 374.5,343.3 369.5,339.4 365.1,340.5 360.6,339.9 355.1,342.7 353.4,349.4 350.6,347.2 347.8,348.8 344.5,347.7 343.9,340.5 338.9,337.2 336.7,331.6 330.1,334.9 328.4,339.9 322.8,340.5 322.3,334.9 319.5,334.4 317.8,328.3 313.9,326.6 312.3,323.8 311.7,318.3 306.2,317.7 301.2,315.5 298.4,313.3 296.2,314.9 292.8,316.1 290.6,314.4 287.8,309.9 285.1,308.3 288.9,306.6 289.5,302.2 288.4,301.1 283.4,303.8 278.4,302.7 275.6,299.9 272.8,298.3 267.3,296.6 265.1,298.3 267.3,301.6 269.5,305.5 264.5,307.2 263.4,309.4 260.6,311.1 257.8,308.3 255.6,302.7 251.2,299.4 247.3,296.6 251.2,293.3 253.9,289.9 251.2,287.2 245.1,287.7 242.8,288.8 242.3,285.5 238.9,287.2 235.6,283.8 230.1,282.2 225.6,281.6 223.4,278.3 222.8,273.6 219.5,271.6 216.2,271.4 214.5,272.7 215.1,277.7 210.1,277.2 212.8,273.3 215.1,267.2 216.2,261.1 214.5,258.3 213.9,252.7 210.6,249.9 207.3,247.7 208.4,245.5 205.6,241.1 203.9,236.6 207.3,232.7 207.8,223.8 206.7,220.5 206.2,217.2 202.5,212.2 204.5,207.2 203.7,201.3 197.8,197.2 191.2,190.5 192.0,185.5 197.8,181.3 198.7,167.2 197.0,162.2 195.8,155.7 194.8,152.2 196.2,151.1 198.9,153.8 202.8,154.6 203.2,151.5 204.3,149.5 204.0,146.4 205.5,144.1 208.6,141.3 209.0,137.8"/>
<polyline class="o" points="307.0,101.5 310.0,103.3 313.0,105.3 316.0,107.5 319.3,110.5"/>
<polyline class="o" points="330.3,122.2 334.5,119.0 339.5,115.5 343.5,112.5 347.0,108.8"/>
<polyline class="o" points="194.0,143.0 198.5,143.0 198.5,147.0 194.0,147.0 194.0,143.0"/>
<polyline class="o" points="198.9,144.1 202.0,144.8"/>
<polyline class="o" points="196.3,143.0 196.3,147.0"/>
<polyline class="o" points="194.0,145.0 198.5,145.0"/>
<polyline class="o" points="202.8,154.6 204.0,158.1"/>
<rect class="b" x="161.5" y="68.5" width="325" height="308"/>
<rect class="b" x="512.5" y="68.5" width="29" height="309"/>
<line class="k" x1="512" y1="373.5" x2="516" y2="373.5"/>
<line class="k" x1="542" y1="373.5" x2="538" y2="373.5"/>
<text transform="translate(547.20 381.00) scale(1 1.08)"><tspan class="cb">20</tspan></text>
<line class="k" x1="512" y1="302.5" x2="516" y2="302.5"/>
<line class="k" x1="542" y1="302.5" x2="538" y2="302.5"/>
<text transform="translate(547.20 310.00) scale(1 1.08)"><tspan class="cb">25</tspan></text>
<line class="k" x1="512" y1="232.5" x2="516" y2="232.5"/>
<line class="k" x1="542" y1="232.5" x2="538" y2="232.5"/>
<text transform="translate(547.20 240.00) scale(1 1.08)"><tspan class="cb">30</tspan></text>
<line class="k" x1="512" y1="162.5" x2="516" y2="162.5"/>
<line class="k" x1="542" y1="162.5" x2="538" y2="162.5"/>
<text transform="translate(547.20 170.00) scale(1 1.08)"><tspan class="cb">35</tspan></text>
<line class="k" x1="512" y1="90.5" x2="516" y2="90.5"/>
<line class="k" x1="542" y1="90.5" x2="538" y2="90.5"/>
<text transform="translate(547.20 98.00) scale(1 1.08)"><tspan class="cb">40</tspan></text>
<text transform="translate(165.50 403.00) scale(1 1.08)">14<tspan class="s" dx="1" dy="-9.54">o</tspan><tspan dx="0.6" dy="9.54">E</tspan></text>
<text transform="translate(219.50 403.00) scale(1 1.08)">16<tspan class="s" dx="1" dy="-9.54">o</tspan><tspan dx="0.6" dy="9.54">E</tspan></text>
<text transform="translate(273.50 403.00) scale(1 1.08)">18<tspan class="s" dx="1" dy="-9.54">o</tspan><tspan dx="0.6" dy="9.54">E</tspan></text>
<text transform="translate(328.50 403.00) scale(1 1.08)">20<tspan class="s" dx="1" dy="-9.54">o</tspan><tspan dx="0.6" dy="9.54">E</tspan></text>
<text transform="translate(382.50 403.00) scale(1 1.08)">22<tspan class="s" dx="1" dy="-9.54">o</tspan><tspan dx="0.6" dy="9.54">E</tspan></text>
<text transform="translate(436.50 403.00) scale(1 1.08)">24<tspan class="s" dx="1" dy="-9.54">o</tspan><tspan dx="0.6" dy="9.54">E</tspan></text>
<text transform="translate(156.40 102.00) scale(1 1.08)" text-anchor="end">55<tspan class="s" dx="1" dy="-9.54">o</tspan><tspan dx="0.6" dy="9.54">N</tspan></text>
<text transform="translate(156.40 149.00) scale(1 1.08)" text-anchor="end">54<tspan class="s" dx="1" dy="-9.54">o</tspan><tspan dx="0.6" dy="9.54">N</tspan></text>
<text transform="translate(156.40 195.00) scale(1 1.08)" text-anchor="end">53<tspan class="s" dx="1" dy="-9.54">o</tspan><tspan dx="0.6" dy="9.54">N</tspan></text>
<text transform="translate(156.40 239.00) scale(1 1.08)" text-anchor="end">52<tspan class="s" dx="1" dy="-9.54">o</tspan><tspan dx="0.6" dy="9.54">N</tspan></text>
<text transform="translate(156.40 283.00) scale(1 1.08)" text-anchor="end">51<tspan class="s" dx="1" dy="-9.54">o</tspan><tspan dx="0.6" dy="9.54">N</tspan></text>
<text transform="translate(156.40 325.00) scale(1 1.08)" text-anchor="end">50<tspan class="s" dx="1" dy="-9.54">o</tspan><tspan dx="0.6" dy="9.54">N</tspan></text>
<text transform="translate(156.40 367.00) scale(1 1.08)" text-anchor="end">49<tspan class="s" dx="1" dy="-9.54">o</tspan><tspan dx="0.6" dy="9.54">N</tspan></text>
<text transform="translate(322.50 52.00) scale(1 1.08)" text-anchor="middle"><tspan class="ti">Mean Solar Flux [W/m<tspan class="s2" dy="-9.63">2</tspan><tspan dy="9.63">] DEC-FEB</tspan></tspan></text>
<line class="g" x1="726.5" y1="377" x2="726.5" y2="68" stroke-dashoffset="0"/>
<line class="k" x1="726.5" y1="68" x2="726.5" y2="72"/>
<line class="k" x1="726.5" y1="377" x2="726.5" y2="373"/>
<line class="g" x1="780.5" y1="377" x2="780.5" y2="68" stroke-dashoffset="3"/>
<line class="k" x1="780.5" y1="68" x2="780.5" y2="72"/>
<line class="k" x1="780.5" y1="377" x2="780.5" y2="373"/>
<line class="g" x1="834.5" y1="377" x2="834.5" y2="68" stroke-dashoffset="1"/>
<line class="k" x1="834.5" y1="68" x2="834.5" y2="72"/>
<line class="k" x1="834.5" y1="377" x2="834.5" y2="373"/>
<line class="g" x1="889.5" y1="377" x2="889.5" y2="68" stroke-dashoffset="4"/>
<line class="k" x1="889.5" y1="68" x2="889.5" y2="72"/>
<line class="k" x1="889.5" y1="377" x2="889.5" y2="373"/>
<line class="g" x1="943.5" y1="377" x2="943.5" y2="68" stroke-dashoffset="2"/>
<line class="k" x1="943.5" y1="68" x2="943.5" y2="72"/>
<line class="k" x1="943.5" y1="377" x2="943.5" y2="373"/>
<line class="g" x1="997.5" y1="377" x2="997.5" y2="68" stroke-dashoffset="0"/>
<line class="k" x1="997.5" y1="68" x2="997.5" y2="72"/>
<line class="k" x1="997.5" y1="377" x2="997.5" y2="373"/>
<line class="g" x1="699" y1="91.5" x2="1025" y2="91.5" stroke-dashoffset="0"/>
<line class="k" x1="699" y1="91.5" x2="703" y2="91.5"/>
<line class="k" x1="1025" y1="91.5" x2="1021" y2="91.5"/>
<line class="g" x1="699" y1="138.5" x2="1025" y2="138.5" stroke-dashoffset="0"/>
<line class="k" x1="699" y1="138.5" x2="703" y2="138.5"/>
<line class="k" x1="1025" y1="138.5" x2="1021" y2="138.5"/>
<line class="g" x1="699" y1="184.5" x2="1025" y2="184.5" stroke-dashoffset="0"/>
<line class="k" x1="699" y1="184.5" x2="703" y2="184.5"/>
<line class="k" x1="1025" y1="184.5" x2="1021" y2="184.5"/>
<line class="g" x1="699" y1="228.5" x2="1025" y2="228.5" stroke-dashoffset="0"/>
<line class="k" x1="699" y1="228.5" x2="703" y2="228.5"/>
<line class="k" x1="1025" y1="228.5" x2="1021" y2="228.5"/>
<line class="g" x1="699" y1="272.5" x2="1025" y2="272.5" stroke-dashoffset="0"/>
<line class="k" x1="699" y1="272.5" x2="703" y2="272.5"/>
<line class="k" x1="1025" y1="272.5" x2="1021" y2="272.5"/>
<line class="g" x1="699" y1="314.5" x2="1025" y2="314.5" stroke-dashoffset="0"/>
<line class="k" x1="699" y1="314.5" x2="703" y2="314.5"/>
<line class="k" x1="1025" y1="314.5" x2="1021" y2="314.5"/>
<line class="g" x1="699" y1="356.5" x2="1025" y2="356.5" stroke-dashoffset="0"/>
<line class="k" x1="699" y1="356.5" x2="703" y2="356.5"/>
<line class="k" x1="1025" y1="356.5" x2="1021" y2="356.5"/>
<polyline class="o" points="736.9,144.1 738.1,141.7 742.0,139.0 745.8,137.8 748.6,136.1 752.9,134.9 757.5,133.2 762.5,131.8 772.5,128.5 782.5,125.8 788.3,122.2 790.8,117.2 795.8,112.7 801.7,111.8 809.2,108.0 815.0,104.2 824.2,102.5 833.3,100.0 837.5,99.7 844.2,100.8 845.8,105.5 849.2,112.2 850.0,117.2 854.2,121.3 857.5,122.7 866.7,122.2 869.2,124.7 871.7,128.0 875.8,123.0 881.7,119.2 890.8,119.2 902.5,121.3 914.2,123.0 925.8,123.8 940.8,123.2 960.2,122.5 964.8,121.2 967.5,120.5 969.5,121.8 972.2,125.2 978.8,128.5 983.5,132.5 984.2,140.5 986.2,153.8 988.8,165.8 993.5,175.2 994.2,177.8 994.8,188.5 994.8,199.2 992.2,200.2 986.2,201.2 982.2,203.8 978.2,209.2 976.2,215.8 975.5,219.2 982.8,220.5 987.5,225.8 988.2,229.8 986.8,235.2 985.9,236.7 984.4,240.6 985.2,247.6 988.3,255.4 986.7,258.5 990.6,263.9 995.3,271.7 997.6,276.4 1000.7,278.7 996.8,280.3 998.4,284.9 999.6,290.4 998.4,296.6 992.2,297.4 985.9,303.6 979.7,309.8 974.3,315.3 970.4,321.5 964.2,328.5 961.0,333.9 962.6,340.9 964.2,346.4 962.6,350.3 967.3,356.5 954.8,352.6 949.4,350.3 944.7,347.1 942.4,342.5 937.7,340.9 933.1,338.1 928.6,339.9 924.2,337.7 918.6,339.4 915.3,343.8 912.5,343.3 907.5,339.4 903.1,340.5 898.6,339.9 893.1,342.7 891.4,349.4 888.6,347.2 885.8,348.8 882.5,347.7 881.9,340.5 876.9,337.2 874.7,331.6 868.1,334.9 866.4,339.9 860.8,340.5 860.3,334.9 857.5,334.4 855.8,328.3 851.9,326.6 850.3,323.8 849.7,318.3 844.2,317.7 839.2,315.5 836.4,313.3 834.2,314.9 830.8,316.1 828.6,314.4 825.8,309.9 823.1,308.3 826.9,306.6 827.5,302.2 826.4,301.1 821.4,303.8 816.4,302.7 813.6,299.9 810.8,298.3 805.3,296.6 803.1,298.3 805.3,301.6 807.5,305.5 802.5,307.2 801.4,309.4 798.6,311.1 795.8,308.3 793.6,302.7 789.2,299.4 785.3,296.6 789.2,293.3 791.9,289.9 789.2,287.2 783.1,287.7 780.8,288.8 780.3,285.5 776.9,287.2 773.6,283.8 768.1,282.2 763.6,281.6 761.4,278.3 760.8,273.6 757.5,271.6 754.2,271.4 752.5,272.7 753.1,277.7 748.1,277.2 750.8,273.3 753.1,267.2 754.2,261.1 752.5,258.3 751.9,252.7 748.6,249.9 745.3,247.7 746.4,245.5 743.6,241.1 741.9,236.6 745.3,232.7 745.8,223.8 744.7,220.5 744.2,217.2 740.5,212.2 742.5,207.2 741.7,201.3 735.8,197.2 729.2,190.5 730.0,185.5 735.8,181.3 736.7,167.2 735.0,162.2 733.8,155.7 732.8,152.2 734.2,151.1 736.9,153.8 740.8,154.6 741.2,151.5 742.3,149.5 742.0,146.4 743.5,144.1 746.6,141.3 747.0,137.8"/>
<polyline class="o" points="845.0,101.5 848.0,103.3 851.0,105.3 854.0,107.5 857.3,110.5"/>
<polyline class="o" points="868.3,122.2 872.5,119.0 877.5,115.5 881.5,112.5 885.0,108.8"/>
<polyline class="o" points="732.0,143.0 736.5,143.0 736.5,147.0 732.0,147.0 732.0,143.0"/>
<polyline class="o" points="736.9,144.1 740.0,144.8"/>
<polyline class="o" points="734.3,143.0 734.3,147.0"/>
<polyline class="o" points="732.0,145.0 736.5,145.0"/>
<polyline class="o" points="740.8,154.6 742.0,158.1"/>
<rect class="b" x="699.5" y="68.5" width="325" height="308"/>
<rect class="b" x="1050.5" y="68.5" width="29" height="309"/>
<line class="k" x1="1050" y1="342.5" x2="1054" y2="342.5"/>
<line class="k" x1="1080" y1="342.5" x2="1076" y2="342.5"/>
<text transform="translate(1085.20 350.00) scale(1 1.08)"><tspan class="cb">145</tspan></text>
<line class="k" x1="1050" y1="298.5" x2="1054" y2="298.5"/>
<line class="k" x1="1080" y1="298.5" x2="1076" y2="298.5"/>
<text transform="translate(1085.20 306.00) scale(1 1.08)"><tspan class="cb">150</tspan></text>
<line class="k" x1="1050" y1="253.5" x2="1054" y2="253.5"/>
<line class="k" x1="1080" y1="253.5" x2="1076" y2="253.5"/>
<text transform="translate(1085.20 261.00) scale(1 1.08)"><tspan class="cb">155</tspan></text>
<line class="k" x1="1050" y1="209.5" x2="1054" y2="209.5"/>
<line class="k" x1="1080" y1="209.5" x2="1076" y2="209.5"/>
<text transform="translate(1085.20 217.00) scale(1 1.08)"><tspan class="cb">160</tspan></text>
<line class="k" x1="1050" y1="165.5" x2="1054" y2="165.5"/>
<line class="k" x1="1080" y1="165.5" x2="1076" y2="165.5"/>
<text transform="translate(1085.20 173.00) scale(1 1.08)"><tspan class="cb">165</tspan></text>
<line class="k" x1="1050" y1="120.5" x2="1054" y2="120.5"/>
<line class="k" x1="1080" y1="120.5" x2="1076" y2="120.5"/>
<text transform="translate(1085.20 128.00) scale(1 1.08)"><tspan class="cb">170</tspan></text>
<line class="k" x1="1050" y1="76.5" x2="1054" y2="76.5"/>
<line class="k" x1="1080" y1="76.5" x2="1076" y2="76.5"/>
<text transform="translate(1085.20 84.00) scale(1 1.08)"><tspan class="cb">175</tspan></text>
<text transform="translate(703.50 403.00) scale(1 1.08)">14<tspan class="s" dx="1" dy="-9.54">o</tspan><tspan dx="0.6" dy="9.54">E</tspan></text>
<text transform="translate(757.50 403.00) scale(1 1.08)">16<tspan class="s" dx="1" dy="-9.54">o</tspan><tspan dx="0.6" dy="9.54">E</tspan></text>
<text transform="translate(811.50 403.00) scale(1 1.08)">18<tspan class="s" dx="1" dy="-9.54">o</tspan><tspan dx="0.6" dy="9.54">E</tspan></text>
<text transform="translate(866.50 403.00) scale(1 1.08)">20<tspan class="s" dx="1" dy="-9.54">o</tspan><tspan dx="0.6" dy="9.54">E</tspan></text>
<text transform="translate(920.50 403.00) scale(1 1.08)">22<tspan class="s" dx="1" dy="-9.54">o</tspan><tspan dx="0.6" dy="9.54">E</tspan></text>
<text transform="translate(974.50 403.00) scale(1 1.08)">24<tspan class="s" dx="1" dy="-9.54">o</tspan><tspan dx="0.6" dy="9.54">E</tspan></text>
<text transform="translate(694.40 102.00) scale(1 1.08)" text-anchor="end">55<tspan class="s" dx="1" dy="-9.54">o</tspan><tspan dx="0.6" dy="9.54">N</tspan></text>
<text transform="translate(694.40 149.00) scale(1 1.08)" text-anchor="end">54<tspan class="s" dx="1" dy="-9.54">o</tspan><tspan dx="0.6" dy="9.54">N</tspan></text>
<text transform="translate(694.40 195.00) scale(1 1.08)" text-anchor="end">53<tspan class="s" dx="1" dy="-9.54">o</tspan><tspan dx="0.6" dy="9.54">N</tspan></text>
<text transform="translate(694.40 239.00) scale(1 1.08)" text-anchor="end">52<tspan class="s" dx="1" dy="-9.54">o</tspan><tspan dx="0.6" dy="9.54">N</tspan></text>
<text transform="translate(694.40 283.00) scale(1 1.08)" text-anchor="end">51<tspan class="s" dx="1" dy="-9.54">o</tspan><tspan dx="0.6" dy="9.54">N</tspan></text>
<text transform="translate(694.40 325.00) scale(1 1.08)" text-anchor="end">50<tspan class="s" dx="1" dy="-9.54">o</tspan><tspan dx="0.6" dy="9.54">N</tspan></text>
<text transform="translate(694.40 367.00) scale(1 1.08)" text-anchor="end">49<tspan class="s" dx="1" dy="-9.54">o</tspan><tspan dx="0.6" dy="9.54">N</tspan></text>
<text transform="translate(860.50 52.00) scale(1 1.08)" text-anchor="middle"><tspan class="ti">Mean Solar Flux [W/m<tspan class="s2" dy="-9.63">2</tspan><tspan dy="9.63">] MAR-MAY</tspan></tspan></text>
<line class="g" x1="188.5" y1="801" x2="188.5" y2="491" stroke-dashoffset="0"/>
<line class="k" x1="188.5" y1="491" x2="188.5" y2="495"/>
<line class="k" x1="188.5" y1="801" x2="188.5" y2="797"/>
<line class="g" x1="242.5" y1="801" x2="242.5" y2="491" stroke-dashoffset="4"/>
<line class="k" x1="242.5" y1="491" x2="242.5" y2="495"/>
<line class="k" x1="242.5" y1="801" x2="242.5" y2="797"/>
<line class="g" x1="296.5" y1="801" x2="296.5" y2="491" stroke-dashoffset="3"/>
<line class="k" x1="296.5" y1="491" x2="296.5" y2="495"/>
<line class="k" x1="296.5" y1="801" x2="296.5" y2="797"/>
<line class="g" x1="351.5" y1="801" x2="351.5" y2="491" stroke-dashoffset="2"/>
<line class="k" x1="351.5" y1="491" x2="351.5" y2="495"/>
<line class="k" x1="351.5" y1="801" x2="351.5" y2="797"/>
<line class="g" x1="405.5" y1="801" x2="405.5" y2="491" stroke-dashoffset="1"/>
<line class="k" x1="405.5" y1="491" x2="405.5" y2="495"/>
<line class="k" x1="405.5" y1="801" x2="405.5" y2="797"/>
<line class="g" x1="459.5" y1="801" x2="459.5" y2="491" stroke-dashoffset="0"/>
<line class="k" x1="459.5" y1="491" x2="459.5" y2="495"/>
<line class="k" x1="459.5" y1="801" x2="459.5" y2="797"/>
<line class="g" x1="160" y1="514.5" x2="488" y2="514.5" stroke-dashoffset="2"/>
<line class="k" x1="160" y1="514.5" x2="164" y2="514.5"/>
<line class="k" x1="488" y1="514.5" x2="484" y2="514.5"/>
<line class="g" x1="160" y1="561.5" x2="488" y2="561.5" stroke-dashoffset="0"/>
<line class="k" x1="160" y1="561.5" x2="164" y2="561.5"/>
<line class="k" x1="488" y1="561.5" x2="484" y2="561.5"/>
<line class="g" x1="160" y1="607.5" x2="488" y2="607.5" stroke-dashoffset="3"/>
<line class="k" x1="160" y1="607.5" x2="164" y2="607.5"/>
<line class="k" x1="488" y1="607.5" x2="484" y2="607.5"/>
<line class="g" x1="160" y1="652.5" x2="488" y2="652.5" stroke-dashoffset="1"/>
<line class="k" x1="160" y1="652.5" x2="164" y2="652.5"/>
<line class="k" x1="488" y1="652.5" x2="484" y2="652.5"/>
<line class="g" x1="160" y1="696.5" x2="488" y2="696.5" stroke-dashoffset="4"/>
<line class="k" x1="160" y1="696.5" x2="164" y2="696.5"/>
<line class="k" x1="488" y1="696.5" x2="484" y2="696.5"/>
<line class="g" x1="160" y1="739.5" x2="488" y2="739.5" stroke-dashoffset="2"/>
<line class="k" x1="160" y1="739.5" x2="164" y2="739.5"/>
<line class="k" x1="488" y1="739.5" x2="484" y2="739.5"/>
<line class="g" x1="160" y1="780.5" x2="488" y2="780.5" stroke-dashoffset="0"/>
<line class="k" x1="160" y1="780.5" x2="164" y2="780.5"/>
<line class="k" x1="488" y1="780.5" x2="484" y2="780.5"/>
<polyline class="o" points="198.9,567.5 200.1,565.1 204.0,562.4 207.8,561.2 210.6,559.5 214.9,558.3 219.5,556.6 224.5,555.2 234.5,551.9 244.5,549.2 250.3,545.5 252.8,540.5 257.8,536.0 263.7,535.1 271.2,531.3 277.0,527.5 286.2,525.8 295.3,523.3 299.5,523.0 306.2,524.1 307.8,528.8 311.2,535.5 312.0,540.5 316.2,544.6 319.5,546.0 328.7,545.5 331.2,548.0 333.7,551.4 337.8,546.3 343.7,542.5 352.8,542.5 364.5,544.6 376.2,546.3 387.8,547.1 402.8,546.5 422.2,545.8 426.8,544.5 429.5,543.8 431.5,545.1 434.2,548.6 440.8,551.9 445.5,555.9 446.2,563.9 448.2,577.3 450.8,589.3 455.5,598.7 456.2,601.3 456.8,612.1 456.8,622.8 454.2,623.8 448.2,624.8 444.2,627.4 440.2,632.9 438.2,639.5 437.5,642.9 444.8,644.2 449.5,649.5 450.2,653.5 448.8,659.0 447.9,660.5 446.4,664.4 447.2,671.4 450.3,679.2 448.7,682.3 452.6,687.8 457.3,695.6 459.6,700.3 462.7,702.6 458.8,704.2 460.4,708.8 461.6,714.4 460.4,720.6 454.2,721.4 447.9,727.6 441.7,733.8 436.3,739.4 432.4,745.6 426.2,752.6 423.0,758.0 424.6,765.1 426.2,770.6 424.6,774.5 429.3,780.7 416.8,776.8 411.4,774.5 406.7,771.3 404.4,766.7 399.7,765.1 395.1,762.2 390.6,764.1 386.2,761.8 380.6,763.6 377.3,768.0 374.5,767.5 369.5,763.6 365.1,764.7 360.6,764.1 355.1,766.9 353.4,773.6 350.6,771.4 347.8,773.0 344.5,771.9 343.9,764.7 338.9,761.3 336.7,755.7 330.1,759.0 328.4,764.1 322.8,764.7 322.3,759.0 319.5,758.5 317.8,752.4 313.9,750.7 312.3,747.9 311.7,742.4 306.2,741.8 301.2,739.6 298.4,737.4 296.2,739.0 292.8,740.2 290.6,738.5 287.8,733.9 285.1,732.3 288.9,730.6 289.5,726.2 288.4,725.1 283.4,727.8 278.4,726.7 275.6,723.9 272.8,722.3 267.3,720.6 265.1,722.3 267.3,725.6 269.5,729.5 264.5,731.2 263.4,733.4 260.6,735.1 257.8,732.3 255.6,726.7 251.2,723.4 247.3,720.6 251.2,717.3 253.9,713.9 251.2,711.2 245.1,711.7 242.8,712.8 242.3,709.5 238.9,711.2 235.6,707.7 230.1,706.1 225.6,705.5 223.4,702.2 222.8,697.5 219.5,695.5 216.2,695.3 214.5,696.6 215.1,701.6 210.1,701.1 212.8,697.2 215.1,691.1 216.2,685.0 214.5,682.1 213.9,676.5 210.6,673.7 207.3,671.5 208.4,669.3 205.6,664.9 203.9,660.4 207.3,656.5 207.8,647.5 206.7,644.2 206.2,640.9 202.5,635.9 204.5,630.9 203.7,624.9 197.8,620.8 191.2,614.1 192.0,609.1 197.8,604.9 198.7,590.7 197.0,585.7 195.8,579.2 194.8,575.7 196.2,574.5 198.9,577.3 202.8,578.1 203.2,574.9 204.3,572.9 204.0,569.8 205.5,567.5 208.6,564.7 209.0,561.2"/>
<polyline class="o" points="307.0,524.8 310.0,526.6 313.0,528.6 316.0,530.8 319.3,533.8"/>
<polyline class="o" points="330.3,545.5 334.5,542.3 339.5,538.8 343.5,535.8 347.0,532.1"/>
<polyline class="o" points="194.0,566.4 198.5,566.4 198.5,570.4 194.0,570.4 194.0,566.4"/>
<polyline class="o" points="198.9,567.5 202.0,568.2"/>
<polyline class="o" points="196.3,566.4 196.3,570.4"/>
<polyline class="o" points="194.0,568.4 198.5,568.4"/>
<polyline class="o" points="202.8,578.1 204.0,581.6"/>
<rect class="b" x="160.5" y="491.5" width="327" height="309"/>
<rect class="b" x="512.5" y="490.5" width="29" height="310"/>
<line class="k" x1="512" y1="785.5" x2="516" y2="785.5"/>
<line class="k" x1="542" y1="785.5" x2="538" y2="785.5"/>
<text transform="translate(547.20 793.00) scale(1 1.08)"><tspan class="cb">180</tspan></text>
<line class="k" x1="512" y1="718.5" x2="516" y2="718.5"/>
<line class="k" x1="542" y1="718.5" x2="538" y2="718.5"/>
<text transform="translate(547.20 726.00) scale(1 1.08)"><tspan class="cb">190</tspan></text>
<line class="k" x1="512" y1="652.5" x2="516" y2="652.5"/>
<line class="k" x1="542" y1="652.5" x2="538" y2="652.5"/>
<text transform="translate(547.20 660.00) scale(1 1.08)"><tspan class="cb">200</tspan></text>
<line class="k" x1="512" y1="585.5" x2="516" y2="585.5"/>
<line class="k" x1="542" y1="585.5" x2="538" y2="585.5"/>
<text transform="translate(547.20 593.00) scale(1 1.08)"><tspan class="cb">210</tspan></text>
<line class="k" x1="512" y1="519.5" x2="516" y2="519.5"/>
<line class="k" x1="542" y1="519.5" x2="538" y2="519.5"/>
<text transform="translate(547.20 527.00) scale(1 1.08)"><tspan class="cb">220</tspan></text>
<text transform="translate(165.50 827.00) scale(1 1.08)">14<tspan class="s" dx="1" dy="-9.54">o</tspan><tspan dx="0.6" dy="9.54">E</tspan></text>
<text transform="translate(219.50 827.00) scale(1 1.08)">16<tspan class="s" dx="1" dy="-9.54">o</tspan><tspan dx="0.6" dy="9.54">E</tspan></text>
<text transform="translate(273.50 827.00) scale(1 1.08)">18<tspan class="s" dx="1" dy="-9.54">o</tspan><tspan dx="0.6" dy="9.54">E</tspan></text>
<text transform="translate(328.50 827.00) scale(1 1.08)">20<tspan class="s" dx="1" dy="-9.54">o</tspan><tspan dx="0.6" dy="9.54">E</tspan></text>
<text transform="translate(382.50 827.00) scale(1 1.08)">22<tspan class="s" dx="1" dy="-9.54">o</tspan><tspan dx="0.6" dy="9.54">E</tspan></text>
<text transform="translate(436.50 827.00) scale(1 1.08)">24<tspan class="s" dx="1" dy="-9.54">o</tspan><tspan dx="0.6" dy="9.54">E</tspan></text>
<text transform="translate(155.40 525.00) scale(1 1.08)" text-anchor="end">55<tspan class="s" dx="1" dy="-9.54">o</tspan><tspan dx="0.6" dy="9.54">N</tspan></text>
<text transform="translate(155.40 572.00) scale(1 1.08)" text-anchor="end">54<tspan class="s" dx="1" dy="-9.54">o</tspan><tspan dx="0.6" dy="9.54">N</tspan></text>
<text transform="translate(155.40 618.00) scale(1 1.08)" text-anchor="end">53<tspan class="s" dx="1" dy="-9.54">o</tspan><tspan dx="0.6" dy="9.54">N</tspan></text>
<text transform="translate(155.40 663.00) scale(1 1.08)" text-anchor="end">52<tspan class="s" dx="1" dy="-9.54">o</tspan><tspan dx="0.6" dy="9.54">N</tspan></text>
<text transform="translate(155.40 707.00) scale(1 1.08)" text-anchor="end">51<tspan class="s" dx="1" dy="-9.54">o</tspan><tspan dx="0.6" dy="9.54">N</tspan></text>
<text transform="translate(155.40 750.00) scale(1 1.08)" text-anchor="end">50<tspan class="s" dx="1" dy="-9.54">o</tspan><tspan dx="0.6" dy="9.54">N</tspan></text>
<text transform="translate(155.40 791.00) scale(1 1.08)" text-anchor="end">49<tspan class="s" dx="1" dy="-9.54">o</tspan><tspan dx="0.6" dy="9.54">N</tspan></text>
<text transform="translate(322.50 475.00) scale(1 1.08)" text-anchor="middle"><tspan class="ti">Mean Solar Flux [W/m<tspan class="s2" dy="-9.63">2</tspan><tspan dy="9.63">] JUN-AUG</tspan></tspan></text>
<line class="g" x1="726.5" y1="801" x2="726.5" y2="491" stroke-dashoffset="0"/>
<line class="k" x1="726.5" y1="491" x2="726.5" y2="495"/>
<line class="k" x1="726.5" y1="801" x2="726.5" y2="797"/>
<line class="g" x1="780.5" y1="801" x2="780.5" y2="491" stroke-dashoffset="4"/>
<line class="k" x1="780.5" y1="491" x2="780.5" y2="495"/>
<line class="k" x1="780.5" y1="801" x2="780.5" y2="797"/>
<line class="g" x1="834.5" y1="801" x2="834.5" y2="491" stroke-dashoffset="3"/>
<line class="k" x1="834.5" y1="491" x2="834.5" y2="495"/>
<line class="k" x1="834.5" y1="801" x2="834.5" y2="797"/>
<line class="g" x1="889.5" y1="801" x2="889.5" y2="491" stroke-dashoffset="2"/>
<line class="k" x1="889.5" y1="491" x2="889.5" y2="495"/>
<line class="k" x1="889.5" y1="801" x2="889.5" y2="797"/>
<line class="g" x1="943.5" y1="801" x2="943.5" y2="491" stroke-dashoffset="1"/>
<line class="k" x1="943.5" y1="491" x2="943.5" y2="495"/>
<line class="k" x1="943.5" y1="801" x2="943.5" y2="797"/>
<line class="g" x1="997.5" y1="801" x2="997.5" y2="491" stroke-dashoffset="0"/>
<line class="k" x1="997.5" y1="491" x2="997.5" y2="495"/>
<line class="k" x1="997.5" y1="801" x2="997.5" y2="797"/>
<line class="g" x1="698" y1="514.5" x2="1026" y2="514.5" stroke-dashoffset="2"/>
<line class="k" x1="698" y1="514.5" x2="702" y2="514.5"/>
<line class="k" x1="1026" y1="514.5" x2="1022" y2="514.5"/>
<line class="g" x1="698" y1="561.5" x2="1026" y2="561.5" stroke-dashoffset="0"/>
<line class="k" x1="698" y1="561.5" x2="702" y2="561.5"/>
<line class="k" x1="1026" y1="561.5" x2="1022" y2="561.5"/>
<line class="g" x1="698" y1="607.5" x2="1026" y2="607.5" stroke-dashoffset="3"/>
<line class="k" x1="698" y1="607.5" x2="702" y2="607.5"/>
<line class="k" x1="1026" y1="607.5" x2="1022" y2="607.5"/>
<line class="g" x1="698" y1="652.5" x2="1026" y2="652.5" stroke-dashoffset="1"/>
<line class="k" x1="698" y1="652.5" x2="702" y2="652.5"/>
<line class="k" x1="1026" y1="652.5" x2="1022" y2="652.5"/>
<line class="g" x1="698" y1="696.5" x2="1026" y2="696.5" stroke-dashoffset="4"/>
<line class="k" x1="698" y1="696.5" x2="702" y2="696.5"/>
<line class="k" x1="1026" y1="696.5" x2="1022" y2="696.5"/>
<line class="g" x1="698" y1="739.5" x2="1026" y2="739.5" stroke-dashoffset="2"/>
<line class="k" x1="698" y1="739.5" x2="702" y2="739.5"/>
<line class="k" x1="1026" y1="739.5" x2="1022" y2="739.5"/>
<line class="g" x1="698" y1="780.5" x2="1026" y2="780.5" stroke-dashoffset="0"/>
<line class="k" x1="698" y1="780.5" x2="702" y2="780.5"/>
<line class="k" x1="1026" y1="780.5" x2="1022" y2="780.5"/>
<polyline class="o" points="736.9,567.5 738.1,565.1 742.0,562.4 745.8,561.2 748.6,559.5 752.9,558.3 757.5,556.6 762.5,555.2 772.5,551.9 782.5,549.2 788.3,545.5 790.8,540.5 795.8,536.0 801.7,535.1 809.2,531.3 815.0,527.5 824.2,525.8 833.3,523.3 837.5,523.0 844.2,524.1 845.8,528.8 849.2,535.5 850.0,540.5 854.2,544.6 857.5,546.0 866.7,545.5 869.2,548.0 871.7,551.4 875.8,546.3 881.7,542.5 890.8,542.5 902.5,544.6 914.2,546.3 925.8,547.1 940.8,546.5 960.2,545.8 964.8,544.5 967.5,543.8 969.5,545.1 972.2,548.6 978.8,551.9 983.5,555.9 984.2,563.9 986.2,577.3 988.8,589.3 993.5,598.7 994.2,601.3 994.8,612.1 994.8,622.8 992.2,623.8 986.2,624.8 982.2,627.4 978.2,632.9 976.2,639.5 975.5,642.9 982.8,644.2 987.5,649.5 988.2,653.5 986.8,659.0 985.9,660.5 984.4,664.4 985.2,671.4 988.3,679.2 986.7,682.3 990.6,687.8 995.3,695.6 997.6,700.3 1000.7,702.6 996.8,704.2 998.4,708.8 999.6,714.4 998.4,720.6 992.2,721.4 985.9,727.6 979.7,733.8 974.3,739.4 970.4,745.6 964.2,752.6 961.0,758.0 962.6,765.1 964.2,770.6 962.6,774.5 967.3,780.7 954.8,776.8 949.4,774.5 944.7,771.3 942.4,766.7 937.7,765.1 933.1,762.2 928.6,764.1 924.2,761.8 918.6,763.6 915.3,768.0 912.5,767.5 907.5,763.6 903.1,764.7 898.6,764.1 893.1,766.9 891.4,773.6 888.6,771.4 885.8,773.0 882.5,771.9 881.9,764.7 876.9,761.3 874.7,755.7 868.1,759.0 866.4,764.1 860.8,764.7 860.3,759.0 857.5,758.5 855.8,752.4 851.9,750.7 850.3,747.9 849.7,742.4 844.2,741.8 839.2,739.6 836.4,737.4 834.2,739.0 830.8,740.2 828.6,738.5 825.8,733.9 823.1,732.3 826.9,730.6 827.5,726.2 826.4,725.1 821.4,727.8 816.4,726.7 813.6,723.9 810.8,722.3 805.3,720.6 803.1,722.3 805.3,725.6 807.5,729.5 802.5,731.2 801.4,733.4 798.6,735.1 795.8,732.3 793.6,726.7 789.2,723.4 785.3,720.6 789.2,717.3 791.9,713.9 789.2,711.2 783.1,711.7 780.8,712.8 780.3,709.5 776.9,711.2 773.6,707.7 768.1,706.1 763.6,705.5 761.4,702.2 760.8,697.5 757.5,695.5 754.2,695.3 752.5,696.6 753.1,701.6 748.1,701.1 750.8,697.2 753.1,691.1 754.2,685.0 752.5,682.1 751.9,676.5 748.6,673.7 745.3,671.5 746.4,669.3 743.6,664.9 741.9,660.4 745.3,656.5 745.8,647.5 744.7,644.2 744.2,640.9 740.5,635.9 742.5,630.9 741.7,624.9 735.8,620.8 729.2,614.1 730.0,609.1 735.8,604.9 736.7,590.7 735.0,585.7 733.8,579.2 732.8,575.7 734.2,574.5 736.9,577.3 740.8,578.1 741.2,574.9 742.3,572.9 742.0,569.8 743.5,567.5 746.6,564.7 747.0,561.2"/>
<polyline class="o" points="845.0,524.8 848.0,526.6 851.0,528.6 854.0,530.8 857.3,533.8"/>
<polyline class="o" points="868.3,545.5 872.5,542.3 877.5,538.8 881.5,535.8 885.0,532.1"/>
<polyline class="o" points="732.0,566.4 736.5,566.4 736.5,570.4 732.0,570.4 732.0,566.4"/>
<polyline class="o" points="736.9,567.5 740.0,568.2"/>
<polyline class="o" points="734.3,566.4 734.3,570.4"/>
<polyline class="o" points="732.0,568.4 736.5,568.4"/>
<polyline class="o" points="740.8,578.1 742.0,581.6"/>
<rect class="b" x="698.5" y="491.5" width="327" height="309"/>
<rect class="b" x="1050.5" y="490.5" width="29" height="310"/>
<line class="k" x1="1050" y1="798.5" x2="1054" y2="798.5"/>
<line class="k" x1="1080" y1="798.5" x2="1076" y2="798.5"/>
<text transform="translate(1085.20 806.00) scale(1 1.08)"><tspan class="cb">60</tspan></text>
<line class="k" x1="1050" y1="729.5" x2="1054" y2="729.5"/>
<line class="k" x1="1080" y1="729.5" x2="1076" y2="729.5"/>
<text transform="translate(1085.20 737.00) scale(1 1.08)"><tspan class="cb">65</tspan></text>
<line class="k" x1="1050" y1="659.5" x2="1054" y2="659.5"/>
<line class="k" x1="1080" y1="659.5" x2="1076" y2="659.5"/>
<text transform="translate(1085.20 667.00) scale(1 1.08)"><tspan class="cb">70</tspan></text>
<line class="k" x1="1050" y1="590.5" x2="1054" y2="590.5"/>
<line class="k" x1="1080" y1="590.5" x2="1076" y2="590.5"/>
<text transform="translate(1085.20 598.00) scale(1 1.08)"><tspan class="cb">75</tspan></text>
<line class="k" x1="1050" y1="519.5" x2="1054" y2="519.5"/>
<line class="k" x1="1080" y1="519.5" x2="1076" y2="519.5"/>
<text transform="translate(1085.20 527.00) scale(1 1.08)"><tspan class="cb">80</tspan></text>
<text transform="translate(703.50 827.00) scale(1 1.08)">14<tspan class="s" dx="1" dy="-9.54">o</tspan><tspan dx="0.6" dy="9.54">E</tspan></text>
<text transform="translate(757.50 827.00) scale(1 1.08)">16<tspan class="s" dx="1" dy="-9.54">o</tspan><tspan dx="0.6" dy="9.54">E</tspan></text>
<text transform="translate(811.50 827.00) scale(1 1.08)">18<tspan class="s" dx="1" dy="-9.54">o</tspan><tspan dx="0.6" dy="9.54">E</tspan></text>
<text transform="translate(866.50 827.00) scale(1 1.08)">20<tspan class="s" dx="1" dy="-9.54">o</tspan><tspan dx="0.6" dy="9.54">E</tspan></text>
<text transform="translate(920.50 827.00) scale(1 1.08)">22<tspan class="s" dx="1" dy="-9.54">o</tspan><tspan dx="0.6" dy="9.54">E</tspan></text>
<text transform="translate(974.50 827.00) scale(1 1.08)">24<tspan class="s" dx="1" dy="-9.54">o</tspan><tspan dx="0.6" dy="9.54">E</tspan></text>
<text transform="translate(693.40 525.00) scale(1 1.08)" text-anchor="end">55<tspan class="s" dx="1" dy="-9.54">o</tspan><tspan dx="0.6" dy="9.54">N</tspan></text>
<text transform="translate(693.40 572.00) scale(1 1.08)" text-anchor="end">54<tspan class="s" dx="1" dy="-9.54">o</tspan><tspan dx="0.6" dy="9.54">N</tspan></text>
<text transform="translate(693.40 618.00) scale(1 1.08)" text-anchor="end">53<tspan class="s" dx="1" dy="-9.54">o</tspan><tspan dx="0.6" dy="9.54">N</tspan></text>
<text transform="translate(693.40 663.00) scale(1 1.08)" text-anchor="end">52<tspan class="s" dx="1" dy="-9.54">o</tspan><tspan dx="0.6" dy="9.54">N</tspan></text>
<text transform="translate(693.40 707.00) scale(1 1.08)" text-anchor="end">51<tspan class="s" dx="1" dy="-9.54">o</tspan><tspan dx="0.6" dy="9.54">N</tspan></text>
<text transform="translate(693.40 750.00) scale(1 1.08)" text-anchor="end">50<tspan class="s" dx="1" dy="-9.54">o</tspan><tspan dx="0.6" dy="9.54">N</tspan></text>
<text transform="translate(693.40 791.00) scale(1 1.08)" text-anchor="end">49<tspan class="s" dx="1" dy="-9.54">o</tspan><tspan dx="0.6" dy="9.54">N</tspan></text>
<text transform="translate(860.50 475.00) scale(1 1.08)" text-anchor="middle"><tspan class="ti">Mean Solar Flux [W/m<tspan class="s2" dy="-9.63">2</tspan><tspan dy="9.63">] SEP-NOV</tspan></tspan></text>
</svg></body></html>
